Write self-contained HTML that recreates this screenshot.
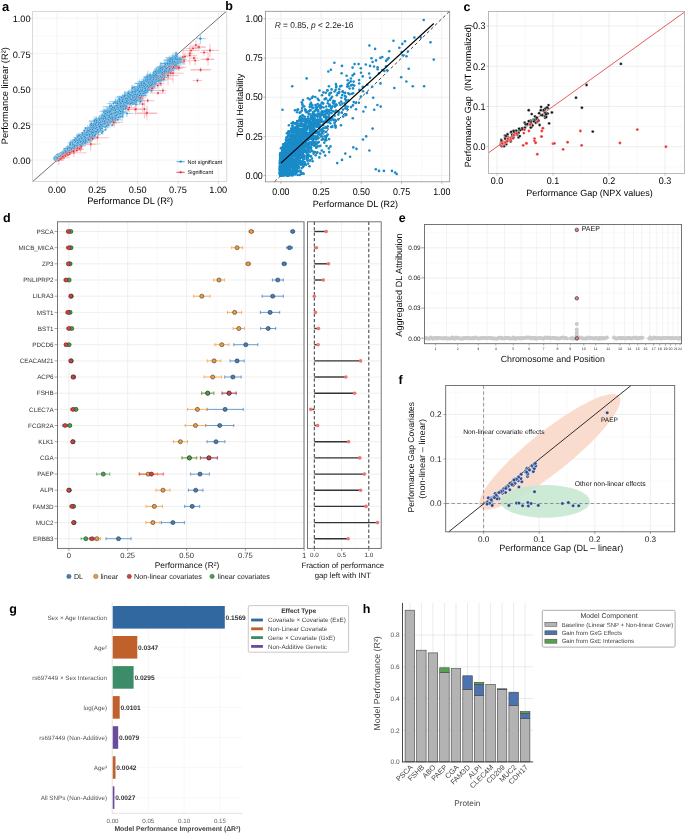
<!DOCTYPE html>
<html><head><meta charset="utf-8"><style>
html,body{margin:0;padding:0;background:#fff;}
svg{display:block;font-family:"Liberation Sans",sans-serif;text-rendering:geometricPrecision;will-change:transform;}
</style></head><body>
<svg width="685" height="833" viewBox="0 0 685 833">
<rect width="685" height="833" fill="#fff"/>
<text x="2" y="10.6" font-size="13" font-weight="bold" fill="#000">a</text>
<line x1="36.8" y1="11.4" x2="36.8" y2="181.6" stroke="#F5F5F5" stroke-width="0.5"/>
<line x1="32.4" y1="177.8" x2="226.8" y2="177.8" stroke="#F5F5F5" stroke-width="0.5"/>
<line x1="77.2" y1="11.4" x2="77.2" y2="181.6" stroke="#F5F5F5" stroke-width="0.5"/>
<line x1="32.4" y1="142.3" x2="226.8" y2="142.3" stroke="#F5F5F5" stroke-width="0.5"/>
<line x1="117.5" y1="11.4" x2="117.5" y2="181.6" stroke="#F5F5F5" stroke-width="0.5"/>
<line x1="32.4" y1="106.8" x2="226.8" y2="106.8" stroke="#F5F5F5" stroke-width="0.5"/>
<line x1="157.8" y1="11.4" x2="157.8" y2="181.6" stroke="#F5F5F5" stroke-width="0.5"/>
<line x1="32.4" y1="71.3" x2="226.8" y2="71.3" stroke="#F5F5F5" stroke-width="0.5"/>
<line x1="198.1" y1="11.4" x2="198.1" y2="181.6" stroke="#F5F5F5" stroke-width="0.5"/>
<line x1="32.4" y1="35.8" x2="226.8" y2="35.8" stroke="#F5F5F5" stroke-width="0.5"/>
<line x1="57" y1="11.4" x2="57" y2="181.6" stroke="#EEEEEE" stroke-width="0.7"/>
<line x1="32.4" y1="160.1" x2="226.8" y2="160.1" stroke="#EEEEEE" stroke-width="0.7"/>
<line x1="97.3" y1="11.4" x2="97.3" y2="181.6" stroke="#EEEEEE" stroke-width="0.7"/>
<line x1="32.4" y1="124.6" x2="226.8" y2="124.6" stroke="#EEEEEE" stroke-width="0.7"/>
<line x1="137.7" y1="11.4" x2="137.7" y2="181.6" stroke="#EEEEEE" stroke-width="0.7"/>
<line x1="32.4" y1="89.1" x2="226.8" y2="89.1" stroke="#EEEEEE" stroke-width="0.7"/>
<line x1="178" y1="11.4" x2="178" y2="181.6" stroke="#EEEEEE" stroke-width="0.7"/>
<line x1="32.4" y1="53.6" x2="226.8" y2="53.6" stroke="#EEEEEE" stroke-width="0.7"/>
<line x1="218.3" y1="11.4" x2="218.3" y2="181.6" stroke="#EEEEEE" stroke-width="0.7"/>
<line x1="32.4" y1="18.1" x2="226.8" y2="18.1" stroke="#EEEEEE" stroke-width="0.7"/>
<line x1="32.4" y1="181.8" x2="226" y2="11.6" stroke="#333" stroke-width="0.7"/>
<g stroke="#2a94d3" stroke-width="0.45" opacity="0.9">
<path d="M84.6 138.9H95.8M90.2 143.4V134.5"/>
<path d="M91.5 130.5H102.7M97.1 134.4V126.6"/>
<path d="M106.5 115.9H109.1M107.8 116.9V114.9"/>
<path d="M111.6 108.1H116.3M113.9 111V105.2"/>
<path d="M135.7 88.7H143.6M139.7 90.2V87.2"/>
<path d="M54.5 156.2H63M58.8 157.2V155.2"/>
<path d="M122.6 95.8H124.5M123.5 96.6V95"/>
<path d="M116.2 106.7H118.8M117.5 110.3V103"/>
<path d="M106.3 114.1H117.4M111.9 114.9V113.4"/>
<path d="M98.5 124.1H101.1M99.8 125.1V123.1"/>
<path d="M54.5 159.1H60.5M57.5 161.2V156.1"/>
<path d="M90.3 128.6H92.9M91.6 129.4V127.9"/>
<path d="M83 131.2H94.5M88.8 135.9V126.4"/>
<path d="M111 115.8H119.9M115.5 117.7V113.9"/>
<path d="M92 130.3H100.1M96.1 133.7V126.9"/>
<path d="M69.8 150.5H73.8M71.8 151.5V149.5"/>
<path d="M172.9 56.1H180.6M176.7 60.3V51.8"/>
<path d="M124 103H127.5M125.8 106.2V99.9"/>
<path d="M74.2 145H76.3M75.3 149.2V140.9"/>
<path d="M56.8 156.8H59M57.9 157.7V156"/>
<path d="M78.7 135.7H89.6M84.2 140.1V131.4"/>
<path d="M159.7 68.3H178.6M169.1 74.5V62.1"/>
<path d="M141.7 81.1H156.3M149 86.5V75.8"/>
<path d="M156.3 73.8H164.3M160.3 74.6V73.1"/>
<path d="M88.5 126.7H96.2M92.3 130.5V122.9"/>
<path d="M54.8 157.1H61.3M58 157.9V156.4"/>
<path d="M136.2 93.4H138.2M137.2 97.5V89.3"/>
<path d="M75 142.6H79M77 146.3V138.9"/>
<path d="M159.5 65.4H181.1M170.3 67.6V63.1"/>
<path d="M66.3 151.6H71.8M69.1 153.8V149.4"/>
<path d="M56.7 156.9H61.9M59.3 158V155.8"/>
<path d="M61.4 153.9H66.3M63.8 154.6V153.2"/>
<path d="M98.1 123.8H109.8M103.9 127.1V120.5"/>
<path d="M123.8 98.8H135.5M129.6 100.8V96.8"/>
<path d="M59.8 156.1H62M60.9 157.4V154.8"/>
<path d="M63.6 153.5H69.1M66.4 155.2V151.8"/>
<path d="M70 144.7H72.1M71.1 145.4V144"/>
<path d="M72.6 147.1H75.8M74.2 148V146.1"/>
<path d="M154.2 77H157.1M155.7 78.1V75.9"/>
<path d="M147.7 79.2H152.7M150.2 83.3V75.2"/>
<path d="M109.1 101.6H122.3M115.7 104.8V98.4"/>
<path d="M69.1 145.7H71M70.1 149V142.4"/>
<path d="M132.3 95.5H140.2M136.3 99.6V91.4"/>
<path d="M55.8 158.7H60.3M58 159.7V157.6"/>
<path d="M105.5 118.2H108.9M107.2 119V117.5"/>
<path d="M78 135.9H84.1M81 136.6V135.2"/>
<path d="M86.9 127.9H93.7M90.3 132.2V123.7"/>
<path d="M102.3 120.7H109.8M106 123.2V118.1"/>
<path d="M145.6 79.8H159.2M152.4 86.9V72.6"/>
<path d="M152.8 72.7H167.1M159.9 80.6V64.7"/>
<path d="M141.1 87.6H146.6M143.9 88.3V86.9"/>
<path d="M127 96.1H134.7M130.8 99.3V92.9"/>
<path d="M157.6 67.1H174.1M165.8 70.7V63.6"/>
<path d="M153 71.4H157.4M155.2 72.1V70.6"/>
<path d="M104.7 117.8H115.5M110.1 120.5V115"/>
<path d="M53.8 156.9H61M56.9 158.6V155.2"/>
<path d="M64.6 151.5H72.2M68.4 154.2V148.8"/>
<path d="M135.6 89.2H154.2M144.9 91.4V87.1"/>
<path d="M103 117.6H115.2M109.1 119.1V116"/>
<path d="M126.8 98.8H128.7M127.8 100.1V97.4"/>
<path d="M56.5 156.6H59.2M57.9 160.2V153.1"/>
<path d="M109.7 109.3H113.7M111.7 110.4V108.2"/>
<path d="M69.1 146.6H74.9M72 147.4V145.9"/>
<path d="M55.1 159.1H57.6M56.4 160.3V158"/>
<path d="M88.3 131H90.4M89.4 133.2V128.7"/>
<path d="M78.9 140H82.5M80.7 143.2V136.7"/>
<path d="M104 117H107.4M105.7 122.5V111.5"/>
<path d="M155.4 74.8H158.1M156.8 77.5V72.1"/>
<path d="M171.9 64.7H174.9M173.4 65.4V63.9"/>
<path d="M105.9 123.7H109M107.4 128.5V119"/>
<path d="M60.2 156.7H62.7M61.4 158.1V155.3"/>
<path d="M156.7 73.7H163.8M160.3 75V72.5"/>
<path d="M121.7 102.9H127.8M124.7 103.6V102.2"/>
<path d="M113.1 112.2H116.7M114.9 113.4V111.1"/>
<path d="M89.3 130.1H98.4M93.9 133.5V126.8"/>
<path d="M171 61.5H183.1M177 65.1V58"/>
<path d="M54.7 156.3H61.6M58.1 158.6V154"/>
<path d="M129.5 100.7H131.4M130.4 101.6V99.9"/>
<path d="M120.1 100.9H130.2M125.1 105.8V96.1"/>
<path d="M73.5 144.8H84.3M78.9 147.8V141.8"/>
<path d="M157.4 73.3H159.8M158.6 76.3V70.2"/>
<path d="M135.1 94.2H143.4M139.2 97.3V91.1"/>
<path d="M150.7 84.8H153M151.8 92.1V77.5"/>
<path d="M80 141.7H84.4M82.2 142.7V140.7"/>
<path d="M100.2 119.8H114.1M107.2 121.3V118.4"/>
<path d="M114.3 112.7H116.3M115.3 115.9V109.6"/>
<path d="M174.2 58.2H177.5M175.9 59.3V57.2"/>
<path d="M81.4 142.9H84.2M82.8 145.1V140.7"/>
<path d="M128.4 102.9H131.9M130.1 106.3V99.5"/>
<path d="M139.4 86.3H155.5M147.4 93.7V78.9"/>
<path d="M54.9 157H62.1M58.5 160.1V153.8"/>
<path d="M92.4 130.9H95M93.7 134.6V127.1"/>
<path d="M66.7 152.4H68.7M67.7 154.2V150.6"/>
<path d="M110.7 119.4H112.7M111.7 120.2V118.7"/>
<path d="M152.6 72.3H171.7M162.1 73.1V71.5"/>
<path d="M70.8 146.1H77.1M73.9 147.8V144.3"/>
<path d="M120.2 105.9H122.1M121.2 110.2V101.7"/>
<path d="M158.4 72.9H160.4M159.4 79.4V66.4"/>
<path d="M112.8 117.4H124M118.4 119.5V115.3"/>
<path d="M74.6 142.2H78.3M76.4 142.9V141.4"/>
<path d="M114.9 106.8H123.7M119.3 107.6V106.1"/>
<path d="M138.6 85.8H145.1M141.9 92.2V79.5"/>
<path d="M155.7 71.3H166.3M161 72.1V70.5"/>
<path d="M103 121.3H111.4M107.2 124.5V118.1"/>
<path d="M74 143.1H76.8M75.4 145.9V140.2"/>
<path d="M143.4 82H151.1M147.2 83.8V80.1"/>
<path d="M145.9 85H152.6M149.2 86.2V83.7"/>
<path d="M70.4 150.5H73M71.7 153.5V147.1"/>
<path d="M88.4 133.4H91.6M90 136.7V130.1"/>
<path d="M84.1 133.9H87.3M85.7 134.7V133"/>
<path d="M112.4 117H114.3M113.3 122.7V111.4"/>
<path d="M141.7 84.4H153.4M147.6 91.7V77.1"/>
<path d="M169.2 63.4H178.2M173.7 64.1V62.6"/>
<path d="M55.6 157.2H57.7M56.7 158V156.5"/>
<path d="M54.8 158.7H59.1M56.9 160.5V156.9"/>
<path d="M131 95.8H147.8M139.4 97.1V94.6"/>
<path d="M55.3 159.8H57.6M56.4 160.7V159"/>
<path d="M144.8 83.2H147.1M145.9 83.9V82.5"/>
<path d="M66.4 150.8H70.2M68.3 152.1V149.5"/>
<path d="M112 111.9H115.7M113.8 117.4V106.3"/>
<path d="M88 137.6H91M89.5 141.2V134"/>
<path d="M138.8 92.8H145.4M142.1 93.6V92"/>
<path d="M168.3 66.9H170.2M169.2 70.5V63.3"/>
<path d="M87.9 133H98.1M93 133.7V132.3"/>
<path d="M61.1 153.1H66.6M63.9 154V152.2"/>
<path d="M122.3 101.7H131.3M126.8 106.5V96.9"/>
<path d="M61 155.1H66.8M63.9 156V154.2"/>
<path d="M123 100.4H125.3M124.1 106.6V94.3"/>
<path d="M93 131H104.5M98.7 135.7V126.3"/>
<path d="M81 142.5H85.8M83.4 143.2V141.8"/>
<path d="M137.4 90.1H141.6M139.5 96.1V84"/>
<path d="M163.4 71H165.4M164.4 72.4V69.6"/>
<path d="M127.1 97.9H129.1M128.1 103.2V92.6"/>
<path d="M111.5 109.9H115.1M113.3 110.7V109.2"/>
<path d="M158.1 76.4H162.4M160.2 77.4V75.4"/>
<path d="M152 75.9H157.3M154.7 79.3V72.5"/>
<path d="M135.8 86.9H144.8M140.3 87.7V86.2"/>
<path d="M114.2 111.8H120M117.1 112.5V111"/>
<path d="M64.1 153.9H67.5M65.8 156.7V151.1"/>
<path d="M114.2 119.1H117.1M115.7 123.5V114.7"/>
<path d="M125.9 99.6H128.8M127.3 101.2V97.9"/>
<path d="M166 58.2H180.8M173.4 58.9V57.5"/>
<path d="M168.7 67.1H176.9M172.8 70.1V64.1"/>
<path d="M72.6 146H79M75.8 150V142"/>
<path d="M154.7 72.3H165.7M160.2 73.4V71.2"/>
<path d="M57.3 157.4H59.5M58.4 158.8V156.1"/>
<path d="M101.3 121.7H104.2M102.7 123.9V119.5"/>
<path d="M55.6 157.5H57.6M56.6 159.5V155.4"/>
<path d="M56.1 158.2H59.2M57.7 158.9V157.5"/>
<path d="M137.7 94H139.9M138.8 100.3V87.6"/>
<path d="M57.9 156H64.9M61.4 159.1V152.9"/>
<path d="M126.2 96.9H130.4M128.3 103.4V90.4"/>
<path d="M146.5 87.3H148.9M147.7 91.6V83"/>
<path d="M89.3 134.7H101M95.2 135.6V133.8"/>
<path d="M57.6 157.8H59.5M58.6 158.5V157"/>
<path d="M128.1 95.3H130.1M129.1 99.9V90.7"/>
<path d="M111.8 119.8H118.7M115.3 121.7V117.9"/>
<path d="M103 122.3H105.1M104 125V119.6"/>
<path d="M73.9 146.6H76M74.9 147.3V145.8"/>
<path d="M63.7 150.7H68.3M66 152.8V148.7"/>
<path d="M143 79.1H156.2M149.6 84.5V73.6"/>
<path d="M104.7 120.6H106.9M105.8 121.8V119.5"/>
<path d="M64.4 152.9H66.5M65.5 154.4V151.4"/>
<path d="M55.6 157H57.6M56.6 159.9V154.2"/>
<path d="M94.6 132.3H101.8M98.2 136V128.5"/>
<path d="M102 116.3H106.8M104.4 121.1V111.5"/>
<path d="M90.2 129.3H99.8M95 133.1V125.5"/>
<path d="M96.4 125H105.9M101.2 125.9V124.1"/>
<path d="M84.1 128.1H87.2M85.7 128.8V127.4"/>
<path d="M67.7 150.3H74.4M71 151.8V148.8"/>
<path d="M86.5 127.5H98.9M92.7 128.5V126.4"/>
<path d="M141 85.3H146.1M143.5 91V79.6"/>
<path d="M148.8 77.7H168.2M158.5 82.6V72.9"/>
<path d="M60.9 153.9H68.6M64.8 157.3V150.5"/>
<path d="M110.7 112.3H113.6M112.2 115V109.6"/>
<path d="M136.4 94H138.4M137.4 97.6V90.3"/>
<path d="M53.8 157.9H60.4M56.5 159.3V156.4"/>
<path d="M74.9 142.8H77M75.9 144.7V140.9"/>
<path d="M78.3 143H80.3M79.3 144.5V141.5"/>
<path d="M128.4 101H130.5M129.5 102.8V99.3"/>
<path d="M57.2 157H63.7M60.4 159.3V154.6"/>
<path d="M94.8 124.7H105.2M100 126.4V123"/>
<path d="M86.4 137.4H90.3M88.3 138.1V136.7"/>
<path d="M95.3 121.5H104.5M99.9 123.7V119.2"/>
<path d="M61.1 155.4H64.2M62.6 156.1V154.6"/>
<path d="M112.8 106H117.6M115.2 106.7V105.2"/>
<path d="M98.9 121.1H101M99.9 121.8V120.3"/>
<path d="M148.1 85.4H153.2M150.7 86.2V84.5"/>
<path d="M64.3 151.7H71.6M67.9 153.6V149.7"/>
<path d="M150.9 80.1H166.9M158.9 83V77.1"/>
<path d="M74.3 147.8H76.4M75.3 148.7V146.8"/>
<path d="M63.1 148.5H70.4M66.8 150.4V146.7"/>
<path d="M171.5 59.1H182.2M176.9 63V55.1"/>
<path d="M67.5 151.7H69.4M68.5 152.6V150.9"/>
<path d="M126.4 100.4H131.1M128.8 105.4V95.5"/>
<path d="M137.7 84.1H155M146.4 87.1V81"/>
<path d="M85.3 135.3H87.9M86.6 136V134.6"/>
<path d="M81.9 139.5H86.9M84.4 140.9V138.1"/>
<path d="M115.1 103H129.4M122.3 103.9V102"/>
<path d="M120.6 105.8H123.1M121.8 106.6V105.1"/>
<path d="M159.5 72.4H161.5M160.5 77.9V66.8"/>
<path d="M91.6 127.6H102.1M96.8 128.4V126.8"/>
<path d="M132.9 101.8H134.8M133.9 104.6V99"/>
<path d="M63.4 154.3H65.8M64.6 156.2V152.4"/>
<path d="M54.2 157.4H61.6M57.9 159.7V155.1"/>
<path d="M96.6 125.5H99.4M98 127.9V123"/>
<path d="M103.8 118.5H106.7M105.2 122V114.9"/>
<path d="M64.5 152.5H66.9M65.7 155.6V149.3"/>
<path d="M142.8 77H152.7M147.8 83.2V70.9"/>
<path d="M57.6 158.2H60.4M59 160.4V154.8"/>
<path d="M163.6 71.4H172.2M167.9 72.6V70.2"/>
<path d="M73.6 143.2H79.2M76.4 144.3V142.1"/>
<path d="M90.9 135.8H93M92 136.5V135.1"/>
<path d="M106.4 116.8H113.1M109.8 117.8V115.7"/>
<path d="M55.3 159.4H57.3M56.3 161.8V157"/>
<path d="M89.3 138H91.5M90.4 141.2V134.9"/>
<path d="M83.4 136.6H86M84.7 137.8V135.4"/>
<path d="M91.8 124H103.6M97.7 127.9V120.1"/>
<path d="M53.8 157.9H59.6M56.3 161.3V154.5"/>
<path d="M147.2 84.8H155.6M151.4 91.6V78"/>
<path d="M110.3 117.6H117.4M113.9 120.1V115.1"/>
<path d="M95.1 124.1H98.2M96.6 125.4V122.7"/>
<path d="M169.5 61.9H178.1M173.8 63.1V60.7"/>
<path d="M155.6 75.7H165.3M160.5 81.9V69.4"/>
<path d="M126.7 96.7H136.6M131.6 97.7V95.7"/>
<path d="M83.8 140.9H85.7M84.8 142.1V139.6"/>
<path d="M152.1 80.2H157.4M154.8 86V74.4"/>
<path d="M131.7 101H138.4M135 103.4V98.6"/>
<path d="M82 137.6H87.5M84.8 139.5V135.6"/>
<path d="M74.9 144.3H80.9M77.9 146.1V142.4"/>
<path d="M89.6 127.1H94.8M92.2 128V126.1"/>
<path d="M114.2 111.4H116.3M115.2 113.2V109.7"/>
<path d="M106.9 112.4H119.2M113.1 117.8V106.9"/>
<path d="M117.8 98.6H120.9M119.3 101.2V96"/>
<path d="M115.6 113.8H121.2M118.4 115.7V112"/>
<path d="M81.8 140.7H84.1M83 143.9V137.5"/>
<path d="M176.1 61.7H178.2M177.1 62.8V60.5"/>
<path d="M132.9 100.1H136M134.5 101.1V99.1"/>
<path d="M172 59.8H174.7M173.3 60.6V59.1"/>
<path d="M127.7 97.9H133.8M130.7 98.8V97"/>
<path d="M67.3 150.4H72.5M69.9 152.3V148.4"/>
<path d="M62.7 153.6H67.5M65.1 155V152.1"/>
<path d="M78.7 138H84.2M81.5 139V136.9"/>
<path d="M156.4 73.3H162.4M159.4 77.5V69.1"/>
<path d="M101.4 131.4H103.9M102.7 134.7V128.1"/>
<path d="M171.7 60.7H180.7M176.2 69.1V52.3"/>
<path d="M111.6 111.2H118.7M115.1 113.5V108.8"/>
<path d="M104.5 118.3H114M109.3 119.4V117.2"/>
<path d="M132 87.6H136.1M134.1 89.4V85.7"/>
<path d="M59.7 155H65.5M62.6 157.3V152.7"/>
<path d="M91.4 128.4H93.7M92.6 133.1V123.6"/>
<path d="M104 110.7H118.4M111.2 112.7V108.7"/>
<path d="M53.8 157.8H61.7M57.5 159.6V155.9"/>
<path d="M107.4 118.2H111.2M109.3 118.9V117.4"/>
<path d="M79.4 142.1H81.3M80.4 144.2V140"/>
<path d="M100 115H108.2M104.1 117.6V112.4"/>
<path d="M68.8 148.2H75.8M72.3 149.6V146.9"/>
<path d="M53.8 159.2H59.1M56.3 161V157.5"/>
<path d="M54.7 158.4H59.2M57 160V156.9"/>
<path d="M152.9 71.9H163.1M158 74.9V68.9"/>
<path d="M131.2 88.1H133.3M132.3 91.6V84.6"/>
<path d="M55.5 158.9H60.6M58.1 160.1V157.7"/>
<path d="M149.6 77.4H169.2M159.4 79.8V75"/>
<path d="M170.8 62.9H173.3M172 65.6V60.1"/>
<path d="M67.4 150.6H70.3M68.8 151.4V149.8"/>
<path d="M87 132.6H97.3M92.1 133.4V131.7"/>
<path d="M167 61.8H179.2M173.1 62.8V60.9"/>
<path d="M58.1 156H61.9M60 159.7V152.4"/>
<path d="M89.6 132H91.6M90.6 135.9V128.1"/>
<path d="M98.8 123.4H100.7M99.7 128.6V118.2"/>
<path d="M56.7 156.2H64.3M60.5 157.5V154.9"/>
<path d="M67.8 148.2H73M70.4 149.7V146.8"/>
<path d="M106 125H108.2M107.1 126.4V123.7"/>
<path d="M98 120.9H102.2M100.1 125.1V116.6"/>
<path d="M175.6 56.8H177.8M176.7 59.9V53.7"/>
<path d="M66.6 152.1H70.2M68.4 153.8V150.3"/>
<path d="M56.8 156.6H63M59.9 158.4V154.8"/>
<path d="M111.6 118.1H114.9M113.2 123.6V112.5"/>
<path d="M77.1 142.2H82.3M79.7 143.2V141.3"/>
<path d="M101.9 114.1H107.5M104.7 118.6V109.7"/>
<path d="M107.5 122.2H109.4M108.4 125.1V119.3"/>
<path d="M62.8 154.4H66.5M64.7 155.3V153.4"/>
<path d="M172 59H174.5M173.3 60.1V57.9"/>
<path d="M55.3 159.4H58.5M56.9 160.6V158.2"/>
<path d="M68.7 151H73.6M71.2 152V150"/>
<path d="M98.3 120.5H104.8M101.6 122.3V118.7"/>
<path d="M55 158.6H61.1M58 161V156"/>
<path d="M101.5 118.9H104.1M102.8 124.2V113.5"/>
<path d="M111.2 116H117.1M114.1 117.4V114.7"/>
<path d="M65 151.4H67.4M66.2 153.8V149.1"/>
<path d="M76.3 143.1H79.9M78.1 145.6V140.6"/>
<path d="M56.9 158.6H59.3M58.1 160.9V155.7"/>
<path d="M140.9 93.1H144M142.4 98.8V87.3"/>
<path d="M64.7 152.9H68.1M66.4 154.1V151.6"/>
<path d="M67.7 148.9H72.3M70 150.6V147.3"/>
<path d="M114.4 113.6H120.5M117.5 116.1V111.2"/>
<path d="M164.8 62.6H185.4M175.1 67.8V57.5"/>
<path d="M130.9 93.4H132.9M131.9 100.1V86.7"/>
<path d="M161.2 74.5H163.2M162.2 75.2V73.8"/>
<path d="M55.9 155.8H62.3M59.1 156.8V154.9"/>
<path d="M57.3 158.5H59.2M58.3 159.3V157.7"/>
<path d="M91.9 126.7H96.5M94.2 130.6V122.8"/>
<path d="M121.3 108H123.3M122.3 108.9V107.1"/>
<path d="M57.2 158.1H59.1M58.2 158.8V157.4"/>
<path d="M65.1 153.2H67.7M66.4 154.7V151.7"/>
<path d="M69.2 147.2H79.1M74.2 149.4V144.9"/>
<path d="M122.1 101.7H135M128.5 104.5V98.9"/>
<path d="M57.7 155.9H65.4M61.6 157.9V153.8"/>
<path d="M127.3 101.7H130.1M128.7 103.3V100.2"/>
<path d="M123.4 101.1H128.7M126 101.9V100.3"/>
<path d="M99.1 111.2H111.5M105.3 113.1V109.4"/>
<path d="M159.5 76.5H162.2M160.8 79V74"/>
<path d="M84.2 133H92.8M88.5 134.1V132"/>
<path d="M73 147.4H78M75.5 148.1V146.6"/>
<path d="M82.8 130.7H85.3M84.1 131.5V129.8"/>
<path d="M67.2 152.2H71.2M69.2 154.5V149.9"/>
<path d="M78.8 143.4H81.2M80 146V140.9"/>
<path d="M81 135.7H86.3M83.6 138.6V132.7"/>
<path d="M77 137.5H88.4M82.7 138.6V136.3"/>
<path d="M131.2 86.3H149.5M140.4 88.4V84.3"/>
<path d="M98.9 120.5H103.9M101.4 121.4V119.6"/>
<path d="M62.7 153.5H64.7M63.7 155.5V151.4"/>
<path d="M153.9 78.4H156M155 79.2V77.7"/>
<path d="M97.1 125.2H99.1M98.1 127.3V123.1"/>
<path d="M100.7 133H103.1M101.9 134.1V132"/>
<path d="M112.1 114.7H122.1M117.1 116.5V112.9"/>
<path d="M140.4 85.5H142.7M141.6 89.3V81.8"/>
<path d="M129.8 90.1H147.9M138.8 93.3V86.9"/>
<path d="M56.9 158H60.1M58.5 159.5V156.4"/>
<path d="M152.7 73.3H163.8M158.2 79.1V67.5"/>
<path d="M55.5 156.5H61.5M58.5 157.4V155.6"/>
<path d="M111.7 112.2H121.9M116.8 113V111.4"/>
<path d="M67.9 149.9H70M69 151.5V148.4"/>
<path d="M97.7 118.3H100.1M98.9 120.5V116.1"/>
<path d="M133.3 97.8H136.6M135 104.1V91.5"/>
<path d="M168.2 63.5H173.9M171.1 69.4V57.5"/>
<path d="M113.1 112.7H127.5M120.3 114.6V110.9"/>
<path d="M122.5 100.9H133.2M127.9 103V98.7"/>
<path d="M123.7 99.2H128M125.8 100V98.4"/>
<path d="M140.7 88.1H150M145.3 94.6V81.7"/>
<path d="M115.2 103.5H123.7M119.4 104.8V102.2"/>
<path d="M143.3 90H150M146.6 91.6V88.4"/>
<path d="M154 73.2H158.7M156.3 78.2V68.2"/>
<path d="M98.2 126.8H100.2M99.2 128.6V125"/>
<path d="M123.2 101.2H129M126.1 102V100.3"/>
<path d="M82.8 139.8H90.1M86.4 140.8V138.9"/>
<path d="M60.2 155.7H63.3M61.8 156.6V154.8"/>
<path d="M60.9 155.4H65.4M63.1 156.7V154.1"/>
<path d="M83.6 138.3H90.3M87 139.7V136.8"/>
<path d="M54.5 157.9H60.5M57.5 159.5V156.3"/>
<path d="M73.6 142.9H75.6M74.6 144.5V141.3"/>
<path d="M135.3 90.1H138.3M136.8 91.4V88.8"/>
<path d="M59.7 153.2H68.2M63.9 154.6V151.8"/>
<path d="M103 116.5H111.7M107.4 117.4V115.7"/>
<path d="M155.4 72.7H164.8M160.1 73.5V71.9"/>
<path d="M63.1 154.4H65.4M64.3 155.1V153.6"/>
<path d="M65.7 152.2H67.7M66.7 155.6V148.8"/>
<path d="M102 110.3H115.7M108.9 111.7V108.9"/>
<path d="M66.3 151.4H68.2M67.2 153.9V149"/>
<path d="M60.9 154.1H66M63.5 154.8V153.4"/>
<path d="M128.2 97.9H139.3M133.8 98.7V97.2"/>
<path d="M142.3 83.8H145.2M143.8 88.5V79"/>
<path d="M89.4 130.6H97.7M93.5 131.5V129.6"/>
<path d="M157.6 67.6H164.4M161 73.1V62.1"/>
<path d="M75.3 146H80.5M77.9 147.7V144.3"/>
<path d="M65.9 153.7H68.1M67 154.4V152.9"/>
<path d="M56.1 159H58.3M57.2 160.5V157.5"/>
<path d="M79.8 141.3H85.1M82.5 142.9V139.8"/>
<path d="M96.4 128.2H103M99.7 130.4V126"/>
<path d="M170 61.4H180.6M175.3 63.5V59.3"/>
<path d="M112.2 109.3H123.9M118 111.6V107"/>
<path d="M87.5 130.1H97.8M92.7 135.1V125.1"/>
<path d="M76.8 138.9H85.2M81 142V135.9"/>
<path d="M106.5 122.1H114.5M110.5 124.4V119.9"/>
<path d="M61.3 155.4H63.7M62.5 156.1V154.6"/>
<path d="M67.4 148H72.9M70.2 148.9V147"/>
<path d="M148.5 84.3H157.2M152.9 87.2V81.5"/>
<path d="M171.1 61.1H180.6M175.8 63.3V58.9"/>
<path d="M69.6 150.4H72M70.8 151.4V149.3"/>
<path d="M131.1 94.8H140.7M135.9 100.5V89.1"/>
<path d="M54.9 157.7H57.5M56.2 158.7V156.7"/>
<path d="M56.8 157.9H60.1M58.4 159.2V156.7"/>
<path d="M123.2 97.9H131.1M127.2 102V93.8"/>
<path d="M88.1 128.3H96.3M92.2 131.9V124.7"/>
<path d="M162.5 70.8H174.9M168.7 78.9V62.8"/>
<path d="M72.3 149H76M74.2 150.4V147.5"/>
<path d="M134.6 98.6H143.5M139 99.9V97.2"/>
<path d="M55.5 158H62.1M58.8 159.2V156.8"/>
<path d="M141.7 85.3H149M145.3 87.8V82.8"/>
<path d="M97.7 119.8H101.2M99.4 120.6V119.1"/>
<path d="M61.2 155.4H63.7M62.5 156.9V154"/>
<path d="M70 147.7H79.7M74.8 148.5V146.9"/>
<path d="M54.5 156.8H61.8M58.2 160.3V153.4"/>
<path d="M75.9 138.1H83.6M79.8 139.1V137.1"/>
<path d="M121.6 102.2H123.5M122.6 107.4V97.1"/>
<path d="M90.3 129.2H92.3M91.3 130.3V128.1"/>
<path d="M161 63.4H180.7M170.8 67.6V59.1"/>
<path d="M53.8 158.9H59.5M56.3 161.6V156.2"/>
<path d="M124.9 102.1H127.3M126.1 104.3V99.9"/>
<path d="M89.9 126.7H91.9M90.9 128V125.4"/>
<path d="M54.5 159.8H58M56.3 161.9V157.2"/>
<path d="M64.6 153.3H67.2M65.9 155.5V151.2"/>
<path d="M110.8 115.5H113M111.9 116.6V114.5"/>
<path d="M100.3 119.4H102.3M101.3 121.7V117.1"/>
<path d="M71.2 148H76.1M73.6 150.6V145.5"/>
<path d="M117.2 104.6H121.6M119.4 110.2V98.9"/>
<path d="M66.8 148.7H73M69.9 150.5V146.9"/>
<path d="M72.3 139.6H81M76.7 140.5V138.8"/>
<path d="M164.9 72.1H168.5M166.7 75.1V69"/>
<path d="M74.3 145.8H79.4M76.9 149.9V141.7"/>
<path d="M140.5 84.8H150.3M145.4 85.5V84.1"/>
<path d="M55 156.5H62.9M59 157.8V155.1"/>
<path d="M124.6 101H127.1M125.9 105.1V96.9"/>
<path d="M142.8 81.9H151.6M147.2 87.6V76.2"/>
<path d="M105.7 114.7H111.5M108.6 115.8V113.7"/>
<path d="M60.7 155.5H64.2M62.5 156.9V154.2"/>
<path d="M59.1 154.9H61.9M60.5 156.6V153.2"/>
<path d="M86.1 134.4H88.3M87.2 135.4V133.4"/>
<path d="M96.5 130.9H98.6M97.6 131.6V130.2"/>
<path d="M141.1 91.7H147.8M144.4 96.1V87.4"/>
<path d="M80.8 141H84.3M82.6 144.9V137"/>
<path d="M54.2 158.8H58.5M56.3 160.7V156.8"/>
<path d="M123 96.6H126.1M124.5 102V91.2"/>
<path d="M116.6 109.9H120.3M118.5 114.5V105.2"/>
<path d="M109.5 111.6H112.2M110.8 117V106.2"/>
<path d="M74.9 142.7H81M78 143.6V141.9"/>
<path d="M112.4 106.9H121.6M117 107.8V106.1"/>
<path d="M95.5 124.2H99.1M97.3 125.6V122.8"/>
<path d="M137 89.6H140.8M138.9 91.1V88"/>
<path d="M61.5 154.1H63.6M62.5 155.3V152.9"/>
<path d="M157.9 77.4H160M158.9 82.8V72.1"/>
<path d="M94.5 128.9H97.8M96.2 132V125.9"/>
<path d="M59.9 155.4H63.1M61.5 159V151.9"/>
<path d="M120.3 113.4H133.7M127 117.1V109.8"/>
<path d="M139.9 82.5H154M146.9 88.9V76.1"/>
<path d="M106.8 103.4H120.2M113.5 105.1V101.8"/>
<path d="M63 152.6H67.5M65.3 153.3V151.9"/>
<path d="M104.5 117.6H108.1M106.3 118.9V116.4"/>
<path d="M120.3 108.8H127.9M124.1 109.5V108.1"/>
<path d="M76.3 134.8H83.5M79.9 135.5V134.1"/>
<path d="M89.6 123.5H93.4M91.5 125.2V121.8"/>
<path d="M57.7 154.7H64.6M61.1 156.7V152.8"/>
<path d="M158 78.2H160.3M159.1 82.2V74.2"/>
<path d="M102.8 122.6H105.4M104.1 125.1V120"/>
<path d="M68.9 143.2H72.2M70.6 147.1V139.4"/>
<path d="M141.2 93.3H146.5M143.8 94.5V92.1"/>
<path d="M108.2 110.5H111.4M109.8 116V105.1"/>
<path d="M71.3 144.2H74.2M72.8 145.1V143.2"/>
<path d="M154.2 75.7H161.5M157.9 79.6V71.7"/>
<path d="M137.6 81.5H154.7M146.1 82.2V80.7"/>
<path d="M63 155.1H65.7M64.4 157.5V152.7"/>
<path d="M54.9 159.2H58.4M56.7 161.3V157.1"/>
<path d="M169 58.8H180.3M174.7 59.6V58"/>
<path d="M73.6 147.4H75.5M74.5 148.2V146.6"/>
<path d="M118.5 107.9H121.7M120.1 108.8V107"/>
<path d="M107 121.6H110M108.5 122.3V120.8"/>
<path d="M140.5 87.3H142.5M141.5 89.8V84.8"/>
<path d="M88.1 130.9H96.1M92.1 131.7V130"/>
<path d="M60.6 156.4H62.6M61.6 158.7V154.1"/>
<path d="M97.7 122H99.7M98.7 122.8V121.2"/>
<path d="M68.6 151.2H72.5M70.5 152.2V150.1"/>
<path d="M110.6 112.9H120.8M115.7 115V110.8"/>
<path d="M55 156.9H58.7M56.8 158V155.8"/>
<path d="M108.7 118.5H110.6M109.6 122.7V114.3"/>
<path d="M90.5 136H94.1M92.3 139.7V132.3"/>
<path d="M121.9 102.2H123.9M122.9 103.9V100.4"/>
<path d="M130.6 96H137.1M133.9 96.9V95.1"/>
<path d="M175.1 62.9H177.2M176.1 70.7V55.1"/>
<path d="M138.8 82.6H156M147.4 90.2V75.1"/>
<path d="M85.5 137.9H90.5M88 140.9V135"/>
<path d="M101.7 116.1H108M104.9 118V114.3"/>
<path d="M98.2 128H100.5M99.3 130.6V125.3"/>
<path d="M85.8 131.8H89.8M87.8 134.4V129.2"/>
<path d="M56.4 157.3H58.3M57.4 158.2V156.3"/>
<path d="M157.3 75.8H159.5M158.4 80.8V70.9"/>
<path d="M130.1 102H135.6M132.8 103.2V100.8"/>
<path d="M70.7 147H77.8M74.3 148.7V145.3"/>
<path d="M59.2 156.2H61.8M60.5 157.4V155.1"/>
<path d="M95.5 128.6H97.4M96.4 129.3V127.9"/>
<path d="M122.8 103.7H124.7M123.8 109.8V97.7"/>
<path d="M94.1 124.7H104.9M99.5 126.8V122.6"/>
<path d="M78.4 135.2H88.9M83.6 137V133.3"/>
<path d="M65.4 147.2H71M68.2 147.9V146.4"/>
<path d="M167.9 62.9H173.6M170.7 66.6V59.3"/>
<path d="M117.1 105.3H121.4M119.3 108.4V102.2"/>
<path d="M139.8 92.1H143.7M141.7 95.6V88.6"/>
<path d="M65.9 152.3H68.2M67.1 153.8V150.8"/>
<path d="M156.3 78.5H161.7M159 81.2V75.7"/>
<path d="M58.2 156.7H60.1M59.2 157.6V155.9"/>
<path d="M161.8 68.7H173.8M167.8 69.6V67.8"/>
<path d="M54.5 159.1H57.9M56.2 162V155.6"/>
<path d="M55.4 156.6H59.8M57.6 158.9V154.4"/>
<path d="M137.5 90.5H149.4M143.5 97.4V83.6"/>
<path d="M105.7 115.7H109.5M107.6 117.3V114.2"/>
<path d="M54.3 158.8H59.9M57.1 159.5V158.1"/>
<path d="M72.7 144.8H76.5M74.6 145.8V143.8"/>
<path d="M93.2 119.4H98.6M95.9 122.6V116.3"/>
<path d="M62.1 153.5H69.6M65.9 155.1V152"/>
<path d="M157 70.5H168.1M162.5 71.3V69.8"/>
<path d="M142.6 86H152.1M147.4 92.6V79.4"/>
<path d="M76.5 144H81.9M79.2 145.6V142.3"/>
<path d="M151.4 78.2H158.1M154.7 80.1V76.3"/>
<path d="M175 59.5H177.6M176.3 60.5V58.5"/>
<path d="M61.5 151.9H68.1M64.8 153.4V150.3"/>
<path d="M153.8 77.1H155.8M154.8 80.5V73.7"/>
<path d="M122.5 99.9H134.8M128.6 103.1V96.6"/>
<path d="M73.9 141H76.2M75.1 145V137"/>
<path d="M125.4 106.9H127.8M126.6 109.2V104.7"/>
<path d="M59.4 155.9H62.8M61.1 156.7V155.1"/>
<path d="M57.1 158.2H59.5M58.3 159V157.3"/>
<path d="M73.4 146.4H75.6M74.5 147.1V145.7"/>
<path d="M61.6 154.8H66.5M64 156.9V152.7"/>
<path d="M117.7 107.4H120.5M119.1 113.2V101.7"/>
<path d="M116.5 112.8H120.9M118.7 114.6V110.9"/>
<path d="M146.8 79.6H164.4M155.6 83.3V75.8"/>
<path d="M72 147.5H75.8M73.9 150.2V144.8"/>
<path d="M157.1 72.3H169.5M163.3 73.8V70.9"/>
<path d="M114.4 114.5H116.4M115.4 118.1V110.9"/>
<path d="M55.9 158.1H61.6M58.8 159.8V156.3"/>
<path d="M98.7 125.2H100.8M99.8 128.5V121.9"/>
<path d="M99 118.9H101.3M100.1 122.6V115.2"/>
<path d="M69.8 146.8H75M72.4 148.9V144.7"/>
<path d="M68.4 149.9H70.4M69.4 151.1V148.7"/>
<path d="M69.2 148.7H75.6M72.4 149.4V147.9"/>
<path d="M132.5 96.3H134.4M133.5 98.1V94.5"/>
<path d="M97.1 119H107.7M102.4 121.7V116.4"/>
<path d="M63.3 150.6H65.6M64.4 151.3V149.8"/>
<path d="M53.8 158.4H60M56.7 161.1V155.7"/>
<path d="M127.9 103.7H137.4M132.6 104.6V102.7"/>
<path d="M92 121.3H100.2M96.1 122V120.6"/>
<path d="M62.9 154.5H65M64 155.5V153.4"/>
<path d="M110.9 111.4H125.4M118.2 112.1V110.6"/>
<path d="M136.8 96.8H139.2M138 101V92.7"/>
<path d="M142.6 84H154.7M148.7 85.2V82.8"/>
<path d="M121.1 116.3H123.1M122.1 121.1V111.4"/>
<path d="M59.2 155.6H67.9M63.6 157.9V152.3"/>
<path d="M133.9 90.5H141M137.4 91.3V89.8"/>
<path d="M65 148.9H71.2M68.1 151V146.8"/>
<path d="M84.3 132.9H93.3M88.8 136V129.7"/>
<path d="M136.3 97.6H142.4M139.3 104.5V90.7"/>
<path d="M66.4 152.7H70M68.2 154.1V151.3"/>
<path d="M103.3 118.6H110.3M106.8 122.4V114.7"/>
<path d="M93.1 122.3H98.9M96 127V117.6"/>
<path d="M125.4 100.7H128.4M126.9 106.2V95.3"/>
<path d="M100.1 117.8H111.5M105.8 119.1V116.5"/>
<path d="M61.1 156.5H63.1M62.1 158.3V154.7"/>
<path d="M92.5 132.4H98.7M95.6 137.3V127.5"/>
<path d="M68.2 148.4H72.7M70.5 150.9V145.9"/>
<path d="M134.9 83.5H146.3M140.6 84.4V82.6"/>
<path d="M101.6 116H108.9M105.3 117.7V114.3"/>
<path d="M100.5 122.2H103M101.8 123.3V121.1"/>
<path d="M60.3 155.9H63.2M61.8 158.2V153.5"/>
<path d="M55 158.1H58.9M57 159.1V157.1"/>
<path d="M69.6 146.3H71.6M70.6 149.1V143.4"/>
<path d="M103.5 111.1H112.6M108 115.3V106.8"/>
<path d="M60.2 153.8H66.6M63.4 154.5V153.1"/>
<path d="M68.5 148.1H71.1M69.8 149.6V146.7"/>
<path d="M144.4 81.5H147.9M146.1 86.8V76.2"/>
<path d="M137.3 88.6H139.9M138.6 89.4V87.9"/>
<path d="M78.3 139.8H82.2M80.3 140.6V139.1"/>
<path d="M65.7 152H67.6M66.6 153.9V150.1"/>
<path d="M91.8 129.1H97.7M94.8 131.2V127.1"/>
<path d="M133.4 93.5H135.4M134.4 96.2V90.8"/>
<path d="M88.1 132.7H92.9M90.5 133.8V131.6"/>
<path d="M130.4 95.1H133.1M131.7 95.9V94.2"/>
<path d="M153.5 76.4H159.7M156.6 78.1V74.7"/>
<path d="M59.3 155.7H63.7M61.5 157.8V153.6"/>
<path d="M57 158.8H59.4M58.2 160.5V157"/>
<path d="M174.8 60H178.1M176.4 65.2V54.8"/>
<path d="M66.6 152.6H68.8M67.7 154.5V150.7"/>
<path d="M98.7 121.8H107.1M102.9 125.6V118"/>
<path d="M160.7 67.6H168.1M164.4 74.6V60.6"/>
<path d="M74.7 146H85.7M80.2 148.9V142.9"/>
<path d="M109.4 105.4H113M111.2 106.4V104.3"/>
<path d="M81.6 138.3H87.3M84.5 139.1V137.6"/>
<path d="M76.9 143.8H79.2M78 144.6V143.1"/>
<path d="M119.7 100.9H127.8M123.7 102.5V99.3"/>
<path d="M147.2 80.4H164.7M155.9 85.8V75"/>
<path d="M89 138.1H93.9M91.4 139.3V136.9"/>
<path d="M80.6 135.4H83.5M82 136.1V134.7"/>
<path d="M136.6 92.1H138.8M137.7 97.7V86.5"/>
<path d="M62.9 153.1H65.5M64.2 153.8V152.4"/>
<path d="M95.9 120.8H109.3M102.6 122.2V119.4"/>
<path d="M63.2 151.6H69.7M66.5 153V150.2"/>
<path d="M86.1 132.9H98M92.1 133.6V132.1"/>
<path d="M172.6 58.6H179.2M175.9 62.7V54.5"/>
<path d="M120.4 104.7H122.3M121.3 110.2V99.2"/>
<path d="M80.7 141.3H83.8M82.2 143.8V138.7"/>
<path d="M57 158.2H59M58 158.9V157.4"/>
<path d="M55.4 159.4H57.4M56.4 161.8V156.9"/>
<path d="M65.9 149.7H75M70.4 153.3V146.1"/>
<path d="M68.8 145.6H73.1M71 146.4V144.9"/>
<path d="M76.2 137H83.6M79.9 138.7V135.3"/>
<path d="M76 135.2H83.5M79.8 137.5V133"/>
<path d="M131.6 96.3H138.6M135.1 97.2V95.5"/>
<path d="M55.4 158.9H57.5M56.4 159.7V158.2"/>
<path d="M80.5 133H84.3M82.4 134V131.9"/>
<path d="M71.3 141.5H81.2M76.2 142.2V140.8"/>
<path d="M130.4 95.5H141.5M135.9 96.3V94.7"/>
<path d="M82.4 138.6H84.5M83.4 142.7V134.5"/>
<path d="M67.2 150H69.5M68.4 151.9V148.1"/>
<path d="M105.8 116.4H112.1M109 117.9V114.8"/>
<path d="M55.3 158.2H58M56.7 158.9V157.4"/>
<path d="M58.5 155.9H63.8M61.2 157V154.8"/>
<path d="M122 103.4H129.2M125.6 108.1V98.8"/>
<path d="M118.3 101.4H120.4M119.4 103.1V99.7"/>
<path d="M60.4 156.3H63.2M61.8 158.9V152.9"/>
<path d="M122.7 99H130.4M126.6 100V98.1"/>
<path d="M82.7 143.1H86.7M84.7 143.8V142.4"/>
<path d="M65.4 149.4H69.4M67.4 150.1V148.6"/>
<path d="M72 148.1H74.1M73.1 149.8V146.5"/>
<path d="M55 159.5H58.8M56.9 160.4V158.7"/>
<path d="M110.8 119.8H117.2M114 121.1V118.6"/>
<path d="M166.5 65.2H178.5M172.5 66V64.5"/>
<path d="M69.7 149.5H77.6M73.6 150.9V148.1"/>
<path d="M65.5 152H67.7M66.6 153V151"/>
<path d="M115.7 100H123.1M119.4 100.7V99.2"/>
<path d="M63.9 152.5H72.3M68.1 153.4V151.6"/>
<path d="M112.2 108.7H116.4M114.3 109.4V107.9"/>
<path d="M81.3 136.5H85.2M83.3 140.9V132.1"/>
<path d="M56.5 157.8H58.6M57.5 158.6V157"/>
<path d="M69.8 146.6H74.2M72 148.8V144.5"/>
<path d="M61.5 155.8H63.6M62.5 156.7V155"/>
<path d="M115.7 105.6H122.7M119.2 106.6V104.6"/>
<path d="M67.5 149.4H69.5M68.5 151.7V147.1"/>
<path d="M81.9 133.7H91.4M86.7 137.1V130.3"/>
<path d="M58.5 155H65.6M62.1 155.9V154.2"/>
<path d="M122.9 107H126.3M124.6 109.8V104.2"/>
<path d="M54.3 159.7H58.7M56.5 161.5V157.8"/>
<path d="M82.1 135.2H87.1M84.6 136.1V134.3"/>
<path d="M56.2 158H58.5M57.3 158.7V157.3"/>
<path d="M75.3 144.4H77.3M76.3 146.3V142.4"/>
<path d="M68.6 148H70.6M69.6 151.4V144.7"/>
<path d="M147.5 76.3H166.4M156.9 77.1V75.4"/>
<path d="M98.2 120.9H111.5M104.8 123.6V118.3"/>
<path d="M63.4 152H65.4M64.4 153.2V150.9"/>
<path d="M90.6 139H93.9M92.2 140.1V137.8"/>
<path d="M79.1 144.5H81.1M80.1 145.4V143.6"/>
<path d="M165.2 68.4H167.2M166.2 70.6V66.1"/>
<path d="M110.1 119.8H115.1M112.6 120.8V118.8"/>
<path d="M80.2 139.5H90.5M85.4 143.4V135.6"/>
<path d="M142.8 84.6H149M145.9 89.6V79.5"/>
<path d="M152.6 83.3H156.8M154.7 88V78.5"/>
<path d="M53.9 159.5H59.8M56.8 160.6V158.5"/>
<path d="M58.3 156.1H64M61.2 157.2V155"/>
<path d="M171.5 63.4H174M172.7 65.5V61.3"/>
<path d="M61 156.1H63M62 158.4V153.8"/>
<path d="M120.1 103.6H122.9M121.5 105.7V101.5"/>
<path d="M64.6 148.8H71.6M68.1 150.7V146.9"/>
<path d="M78.5 138.4H88.4M83.4 141.2V135.6"/>
<path d="M65.6 151.3H71.3M68.5 153.9V148.8"/>
<path d="M109 113.2H117.2M113.1 118.4V108"/>
<path d="M101 115.6H107.2M104.1 118.4V112.7"/>
<path d="M74.8 146.9H79.4M77.1 148.7V145.1"/>
<path d="M146.8 79.3H165M155.9 80.6V77.9"/>
<path d="M122.6 98.4H125.1M123.8 100.5V96.2"/>
<path d="M120.8 97.9H124.1M122.5 101.6V94.3"/>
<path d="M60.2 154.5H65M62.6 155.2V153.8"/>
<path d="M93.7 132.6H96.1M94.9 135V130.1"/>
<path d="M70.9 148.6H74.1M72.5 150.9V146.2"/>
<path d="M129.7 100.1H135M132.4 100.8V99.3"/>
<path d="M66.4 150.7H72.2M69.3 154.6V146.7"/>
<path d="M75.2 143H77.2M76.2 145.1V140.9"/>
<path d="M58.3 156.3H62.9M60.6 158.2V154.5"/>
<path d="M55.9 157.2H59.5M57.7 158.6V155.7"/>
<path d="M55.6 156.6H64.2M59.9 159.5V153.6"/>
<path d="M133.7 96.3H138.6M136.2 101.2V91.4"/>
<path d="M147.4 80.3H157.3M152.3 85.6V75"/>
<path d="M143.1 77.8H162.9M153 78.5V77.1"/>
<path d="M95.8 125.9H98.3M97.1 126.9V125"/>
<path d="M133.8 95H146.7M140.2 101.3V88.8"/>
<path d="M68.3 148H70.7M69.5 149.5V146.5"/>
<path d="M120.2 103.5H133.9M127 107.3V99.7"/>
<path d="M130.4 92.9H137.7M134.1 98.6V87.2"/>
<path d="M139.8 82H156.6M148.2 82.8V81.3"/>
<path d="M80.8 140.4H92.1M86.5 141.5V139.4"/>
<path d="M121.9 108.5H129.4M125.6 112.5V104.5"/>
<path d="M139.4 94.6H142.7M141.1 95.9V93.3"/>
<path d="M56.8 156.8H64.3M60.5 159.4V154.2"/>
<path d="M59.8 152.8H68.8M64.3 153.6V152.1"/>
<path d="M54.1 157.2H58.6M56.3 159.4V154.9"/>
<path d="M56.9 155.2H65.2M61 157.5V152.9"/>
<path d="M84.9 138.7H87.7M86.3 139.5V138"/>
<path d="M163.3 72.2H165.8M164.5 73.4V70.9"/>
<path d="M170.7 58.2H179.3M175 59.8V56.7"/>
<path d="M59.1 157.4H61.2M60.2 158.2V156.7"/>
<path d="M54.5 156.7H59.4M57 159.3V154.1"/>
<path d="M59.2 156H61.3M60.3 157.5V154.5"/>
<path d="M71.5 140.5H81.9M76.7 141.7V139.3"/>
<path d="M91.4 128.7H96.5M94 132.4V125.1"/>
<path d="M80.2 142.5H82.2M81.2 146.2V138.9"/>
<path d="M141.3 79.2H153.6M147.5 83.6V74.8"/>
<path d="M70.9 150.5H73.8M72.3 152V148.9"/>
<path d="M127.1 91.8H143M135.1 92.5V91.1"/>
<path d="M172.5 65.3H174.5M173.5 69.3V61.3"/>
<path d="M95.8 118.5H108.5M102.1 119.3V117.7"/>
<path d="M139.6 88.8H142.1M140.9 90.9V86.8"/>
<path d="M56.5 157.9H62.7M59.6 159.6V156.3"/>
<path d="M159.4 70.3H169.7M164.6 71V69.5"/>
<path d="M59.2 156.5H61.4M60.3 158.3V154.8"/>
<path d="M72.8 140.9H79.4M76.1 141.7V140.2"/>
<path d="M60.6 156.6H62.6M61.6 157.6V155.6"/>
<path d="M111.2 113.8H115.4M113.3 115.1V112.5"/>
<path d="M92.7 126.7H95M93.9 127.4V125.9"/>
<path d="M77.5 141.1H83.3M80.4 145.3V136.8"/>
<path d="M55.4 156.6H60M57.7 159.7V153.5"/>
<path d="M73.7 144.3H75.7M74.7 146.3V142.2"/>
<path d="M92.3 128.3H95.7M94 132.2V124.4"/>
<path d="M171.9 58.9H181.3M176.6 62.6V55.1"/>
<path d="M88.6 121.3H99.6M94.1 126.1V116.5"/>
<path d="M84.7 135.1H86.8M85.8 136.6V133.6"/>
<path d="M56.5 157.7H58.4M57.5 159.3V156.1"/>
<path d="M116.6 111.9H119.3M117.9 115.3V108.5"/>
<path d="M163.4 70.8H167.8M165.6 71.5V70.1"/>
<path d="M144 77.5H160.1M152 78.3V76.6"/>
<path d="M145 85.4H148.2M146.6 88V82.9"/>
<path d="M127.5 100.1H129.5M128.5 104.4V95.9"/>
<path d="M60.4 155.1H66M63.2 155.9V154.4"/>
<path d="M57.9 157H62.5M60.2 157.7V156.2"/>
<path d="M130 95H136.3M133.1 95.8V94.3"/>
<path d="M73.5 146.1H76.1M74.8 147.6V144.7"/>
<path d="M64.1 153H68.3M66.2 155.1V150.9"/>
<path d="M159.8 63.3H178.9M169.4 64.9V61.7"/>
<path d="M140.6 88.4H144.6M142.6 89.4V87.4"/>
<path d="M134.1 91.6H145M139.5 93.2V90"/>
<path d="M140 93.2H142.7M141.4 94.2V92.3"/>
<path d="M143.1 85.1H148.1M145.6 90.6V79.7"/>
<path d="M57.7 155.5H60.9M59.3 158.2V152.9"/>
<path d="M82.3 138.4H86.4M84.4 140.5V136.4"/>
<path d="M158.6 75.9H161.7M160.2 77.9V74"/>
<path d="M53.8 158.7H59.2M56.5 159.5V158"/>
<path d="M78.8 141.8H82.7M80.8 142.8V140.8"/>
<path d="M116.4 107.9H119.5M118 109.2V106.6"/>
<path d="M113.9 115.6H116.4M115.1 118.1V113.1"/>
<path d="M78.2 143.3H80.1M79.2 144.2V142.4"/>
<path d="M74.6 138.7H77.2M75.9 139.5V137.9"/>
<path d="M55.7 157.8H62.2M59 159.9V155.7"/>
<path d="M124.4 92.6H138.5M131.4 93.4V91.8"/>
<path d="M101 123.8H103.3M102.2 125V122.6"/>
<path d="M57.7 157.7H61.4M59.5 160.1V154.9"/>
<path d="M74.7 142.7H82.9M78.8 146.3V139.2"/>
<path d="M95.5 127.3H97.4M96.4 128V126.6"/>
<path d="M83 139.6H86M84.5 141V138.1"/>
<path d="M167.1 64.6H169M168.1 66.2V62.9"/>
<path d="M64.7 152.2H66.8M65.8 155.3V149"/>
<path d="M131.9 98.9H134.5M133.2 100.2V97.5"/>
<path d="M58.6 157.2H60.7M59.6 160.1V154.4"/>
<path d="M168.9 65.8H171.1M170 68.1V63.6"/>
<path d="M65.7 153.3H68M66.9 154.2V152.4"/>
<path d="M66.4 146.6H76.4M71.4 149V144.1"/>
<path d="M116.2 103.3H125.8M121 104.7V101.9"/>
<path d="M59.8 155.1H68.7M64.2 157.6V151.4"/>
<path d="M76.7 139.9H82.3M79.5 140.8V139"/>
<path d="M113.7 112.4H115.6M114.7 114.7V110.1"/>
<path d="M79.6 141.4H83.8M81.7 145V137.7"/>
<path d="M104.5 116.8H119.4M112 121V112.6"/>
<path d="M154.7 74.8H157.7M156.2 82.5V67.1"/>
<path d="M93.6 132H99.8M96.7 132.7V131.3"/>
<path d="M103.9 114.1H106.3M105.1 119.4V108.8"/>
<path d="M117.5 99.9H128.5M123 103.8V96.1"/>
<path d="M87 134.9H93.6M90.3 135.6V134.2"/>
<path d="M77.3 142.5H87.6M82.4 143.5V141.4"/>
<path d="M64.4 151.8H71M67.7 153.5V150.2"/>
<path d="M55 157.9H58.4M56.7 159.4V156.4"/>
<path d="M84.2 138.1H94.9M89.5 141.8V134.4"/>
<path d="M161.7 72.4H166.7M164.2 78.7V66.2"/>
<path d="M61.1 154.5H63.2M62.1 155.5V153.4"/>
<path d="M73.6 143.8H76.5M75.1 144.5V143.1"/>
<path d="M128.2 95H132.6M130.4 95.7V94.3"/>
<path d="M143.2 80.5H161.9M152.6 86V75.1"/>
<path d="M58.9 156.2H62.4M60.6 156.9V155.5"/>
<path d="M66.8 151.5H69.3M68 154.2V148.8"/>
<path d="M146 88.9H149.5M147.8 89.6V88.1"/>
<path d="M143.3 92.2H148.4M145.9 95.2V89.3"/>
<path d="M139.4 101.6H141.6M140.5 103.3V100"/>
<path d="M55.7 156.6H59.7M57.7 158.9V154.3"/>
<path d="M124.2 102.4H128.6M126.4 108.9V95.9"/>
<path d="M89.1 124.9H91.7M90.4 128V121.7"/>
<path d="M99.8 121.9H101.8M100.8 126.6V117.2"/>
<path d="M69.7 149.3H74.1M71.9 150.1V148.5"/>
<path d="M110.5 106.2H121.4M116 111.2V101.3"/>
<path d="M137.6 90H139.8M138.7 95.7V84.2"/>
<path d="M88.9 128.4H101M94.9 129.7V127.1"/>
<path d="M143.9 76.6H156.8M150.4 80.9V72.3"/>
<path d="M132.4 101.9H139.5M136 103.6V100.3"/>
<path d="M138.5 93H142.1M140.3 98V87.9"/>
<path d="M59 156.5H65.2M62.1 158.7V153"/>
<path d="M77.3 141.7H79.3M78.3 143.6V139.7"/>
<path d="M146.7 80H157.5M152.1 81V78.9"/>
<path d="M63.1 155.4H65.1M64.1 157.6V152.2"/>
<path d="M79 136H86.7M82.9 138.8V133.3"/>
<path d="M156.7 78.3H160.7M158.7 80.4V76.2"/>
<path d="M54.8 157.2H61.1M58 157.9V156.4"/>
<path d="M148.5 79.1H159.9M154.2 83.4V74.9"/>
<path d="M126.4 98.3H131.5M128.9 104.4V92.1"/>
<path d="M84.6 129.2H90.6M87.6 133.2V125.2"/>
<path d="M55.3 158.1H57.4M56.3 159.3V156.9"/>
<path d="M70.5 146.4H73.2M71.8 148V144.8"/>
<path d="M105.4 117H114.7M110.1 122.8V111.2"/>
<path d="M56.9 155.4H64.5M60.7 158.3V152.5"/>
<path d="M85.9 129.9H97.9M91.9 132.9V126.8"/>
<path d="M159.7 68.2H172.2M166 68.9V67.4"/>
<path d="M109 117H113.1M111.1 118.9V115"/>
<path d="M175.1 59.4H177.3M176.2 66.7V52.1"/>
<path d="M121.3 105.3H125.2M123.3 106.4V104.2"/>
<path d="M73.8 148.3H75.8M74.8 150V146.5"/>
<path d="M83.5 133.8H86.6M85 138.2V129.4"/>
<path d="M83.9 131H89.9M86.9 132.5V129.5"/>
<path d="M143.1 90.4H145.5M144.3 91.1V89.7"/>
<path d="M93.3 124.5H100.6M96.9 127V122.1"/>
<path d="M162.7 71.2H169.4M166.1 73.8V68.5"/>
<path d="M66.5 148.7H69.7M68.1 152.2V145.3"/>
<path d="M105.7 120.8H107.7M106.7 121.7V119.8"/>
<path d="M69 142.6H76.2M72.6 143.7V141.6"/>
<path d="M148.3 83.8H152.2M150.3 85.8V81.8"/>
<path d="M162.8 72.7H166.4M164.6 77.8V67.7"/>
<path d="M81.7 139.2H83.8M82.7 141.2V137.3"/>
<path d="M86.1 138.9H93.3M89.7 140.1V137.7"/>
<path d="M55 157.9H60.4M57.7 159V156.8"/>
<path d="M163.7 66H173.3M168.5 66.8V65.2"/>
<path d="M71.8 148.4H74.6M73.2 150.2V146.6"/>
<path d="M66.5 151.4H71.4M68.9 152.9V150"/>
<path d="M60 156.6H61.9M60.9 158.2V155"/>
<path d="M81.8 137.7H91.2M86.5 138.8V136.7"/>
<path d="M76.7 140.6H79M77.9 142.7V138.4"/>
<path d="M107 125H109.6M108.3 125.8V124.3"/>
<path d="M101.1 115.4H103.1M102.1 118V112.8"/>
<path d="M55.1 158H62.2M58.7 160.4V155.5"/>
<path d="M77.6 144.9H82.7M80.2 148.6V141.3"/>
<path d="M113.8 103H125.8M119.8 104.1V101.9"/>
<path d="M76.5 136.9H79.7M78.1 141.2V132.6"/>
<path d="M53.8 158H60.3M56.5 159.9V156.2"/>
<path d="M89.2 134.1H95.3M92.2 135.3V132.9"/>
<path d="M74.3 142.9H76.4M75.3 144V141.8"/>
<path d="M118.7 116.6H121.4M120.1 119.5V113.6"/>
<path d="M167.3 67.1H178M172.6 70.9V63.2"/>
<path d="M166.2 64H185.3M175.7 64.7V63.3"/>
<path d="M115.7 105.4H118.2M116.9 106.2V104.6"/>
<path d="M122.8 102.2H126.7M124.7 107.8V96.6"/>
<path d="M89.3 131.8H93.5M91.4 135.3V128.3"/>
<path d="M83.1 139.2H85.4M84.3 140.4V138"/>
<path d="M167.6 62.5H182.7M175.2 63.9V61.1"/>
<path d="M63.1 153.7H69.1M66.1 155.6V151.8"/>
<path d="M80.5 136.9H86.6M83.5 137.6V136.2"/>
<path d="M129.2 96.3H133.2M131.2 102.9V89.6"/>
<path d="M114.8 109.1H118.7M116.8 110.3V108"/>
<path d="M105.4 113.8H120.5M112.9 116.4V111.3"/>
<path d="M137.7 91.2H147.8M142.8 93.4V88.9"/>
<path d="M125.5 99.4H133.4M129.4 101.1V97.8"/>
<path d="M90.8 133.2H93.5M92.2 134.3V132.1"/>
<path d="M55.2 157.4H57.5M56.4 159.4V155.3"/>
<path d="M55.5 158.8H57.5M56.5 159.6V158.1"/>
<path d="M98.3 125.9H103.3M100.8 131.3V120.5"/>
<path d="M133.1 92.1H145M139 95.7V88.5"/>
<path d="M70.7 147.8H77.3M74 148.6V146.9"/>
<path d="M102.6 120.3H107.7M105.1 121V119.6"/>
<path d="M58.9 156.2H62.7M60.8 156.9V155.5"/>
<path d="M72.2 145.4H74.3M73.3 146.1V144.6"/>
<path d="M135.1 93.3H139M137.1 95.4V91.1"/>
<path d="M56.2 158.7H58.5M57.3 159.4V158"/>
<path d="M89.1 137.2H91.2M90.1 141.8V132.7"/>
<path d="M140.1 84.1H159.1M149.6 90.5V77.6"/>
<path d="M58.4 155.4H60.5M59.4 156.2V154.5"/>
<path d="M93.9 127.1H104.8M99.3 127.8V126.4"/>
<path d="M83.8 143H85.9M84.8 145.5V140.6"/>
<path d="M159.9 68.5H180.5M170.2 75.9V61.1"/>
<path d="M81.1 134.4H90.1M85.6 135.5V133.2"/>
<path d="M138.5 87.4H149.5M144 94V80.8"/>
<path d="M122.9 99.8H137.1M130 106.2V93.4"/>
<path d="M95.8 126.8H104.5M100.1 130.5V123.2"/>
<path d="M54 157H59.2M56.6 158.2V155.8"/>
<path d="M112.7 108.9H119.1M115.9 114.3V103.5"/>
<path d="M145.2 80.1H152.9M149.1 80.8V79.4"/>
<path d="M56.6 158.1H59.9M58.3 160.8V155.2"/>
<path d="M57.1 157.4H62.5M59.8 158.8V156"/>
<path d="M88.9 130.8H100.5M94.7 134.1V127.5"/>
<path d="M116.2 102H118.8M117.5 105.4V98.6"/>
<path d="M99.5 126.9H110.7M105.1 127.7V126.2"/>
<path d="M90.4 124.2H102.1M96.2 125.7V122.6"/>
<path d="M69.7 148.1H77.8M73.8 148.8V147.4"/>
<path d="M129.1 98.8H132.6M130.8 100.1V97.5"/>
<path d="M86.2 131.2H88.7M87.5 133.7V128.7"/>
<path d="M88.8 133.1H97.6M93.2 135.7V130.5"/>
<path d="M84.7 129.4H95.3M90 130.2V128.6"/>
<path d="M55.9 157.9H58.4M57.2 159.1V156.8"/>
<path d="M97.6 123.9H107M102.3 127.2V120.5"/>
<path d="M78.4 137.6H89.8M84.1 141.4V133.8"/>
<path d="M78.8 138.9H83.3M81 141.8V136.1"/>
<path d="M71.3 147.4H79M75.2 149.1V145.7"/>
<path d="M127.9 97H137M132.5 102.2V91.8"/>
<path d="M89.7 124.8H99.3M94.5 125.6V124"/>
<path d="M169.7 64.9H171.7M170.7 69.6V60.3"/>
<path d="M53.8 158.9H59.4M56.2 159.7V158.1"/>
<path d="M103.8 122.7H114.9M109.3 126.3V119"/>
<path d="M79.6 142.2H81.8M80.7 143V141.4"/>
<path d="M104.4 112.1H111.8M108.1 114.8V109.5"/>
<path d="M74.2 148.7H76.3M75.3 151.6V145"/>
<path d="M131.8 96.6H134.5M133.2 101.6V91.6"/>
<path d="M53.8 158.6H61.2M57.3 159.3V157.8"/>
<path d="M135.1 89.3H145.1M140.1 92V86.6"/>
<path d="M81.8 132.8H92.2M87 134.4V131.3"/>
<path d="M70.8 149.6H74.2M72.5 150.5V148.7"/>
<path d="M115.4 97.4H127.5M121.4 98.7V96.2"/>
<path d="M71.9 139.9H81.2M76.5 140.7V139.2"/>
<path d="M71.1 143H79.9M75.5 143.8V142.3"/>
<path d="M111.3 118.1H120.3M115.8 123.7V112.5"/>
<path d="M56.1 157.5H58.7M57.4 159.2V155.8"/>
<path d="M101 123.4H105M103 124.1V122.6"/>
<path d="M155.7 71.6H171.1M163.4 74.1V69"/>
<path d="M157.5 70.5H171.9M164.7 71.2V69.8"/>
<path d="M131.8 97.1H134.2M133 98.2V96.1"/>
<path d="M124.4 99.1H136.5M130.4 99.9V98.4"/>
<path d="M85.2 141H87.2M86.2 142.3V139.7"/>
<path d="M159.1 79.8H163.8M161.5 85.8V73.7"/>
<path d="M54.7 156.8H61.5M58.1 157.6V155.9"/>
<path d="M78.1 143.6H85.2M81.7 144.8V142.4"/>
<path d="M85.6 135.2H93.6M89.6 137.8V132.6"/>
<path d="M74.7 144.4H76.7M75.7 145.9V142.9"/>
<path d="M127.7 97.5H132.4M130.1 99.5V95.5"/>
<path d="M143.1 84.6H150.3M146.7 88.5V80.6"/>
<path d="M117.3 110.2H121.5M119.4 112.4V108"/>
<path d="M56.9 156.8H63.5M60.2 158.9V154.7"/>
<path d="M167 72.1H169.7M168.4 72.9V71.2"/>
<path d="M65 153H67.5M66.2 156.5V149.3"/>
<path d="M99 122.6H102.7M100.8 127V118.2"/>
<path d="M144.3 80.7H163M153.7 84.9V76.5"/>
<path d="M90.9 126.3H94.3M92.6 129.4V123.1"/>
<path d="M79.5 139.2H83.8M81.7 143.5V135"/>
<path d="M117.9 102.7H123.3M120.6 105.7V99.7"/>
<path d="M118.6 107.4H127.3M122.9 110.4V104.4"/>
<path d="M81.7 138.7H83.9M82.8 140.7V136.7"/>
<path d="M128.9 100H133.7M131.3 103.5V96.5"/>
<path d="M59.9 155H66.2M63.1 155.9V154.2"/>
<path d="M61.4 155.1H64.3M62.9 156V154.2"/>
<path d="M101.6 121.6H115.2M108.4 123.6V119.7"/>
<path d="M103.8 120H108.2M106 125.4V114.6"/>
<path d="M141.8 86.7H154.4M148.1 92.5V81"/>
<path d="M91.3 125.5H96M93.6 126.3V124.7"/>
<path d="M171.1 64.4H175.8M173.4 65.1V63.6"/>
<path d="M66.4 148.7H69.6M68 150.1V147.3"/>
<path d="M68.4 149.8H72.2M70.3 153.8V145.8"/>
<path d="M67.9 151.8H72.1M70 152.6V151"/>
<path d="M143.8 90.4H146.3M145.1 94.2V86.6"/>
<path d="M85.5 130.2H90.2M87.9 131.6V128.8"/>
<path d="M109.6 125.1H114.7M112.2 126.7V123.5"/>
<path d="M154.9 76.7H165.5M160.2 80V73.4"/>
<path d="M89.6 135.5H91.6M90.6 137.3V133.7"/>
<path d="M131.6 96.5H134.5M133.1 99.3V93.7"/>
<path d="M57.7 158.1H61M59.3 160.2V155.7"/>
<path d="M116.6 96.5H132M124.3 100.4V92.6"/>
<path d="M101.8 123.8H108.4M105.1 125.8V121.8"/>
<path d="M61.1 153.9H63.1M62.1 156.2V151.5"/>
<path d="M133.7 94.5H136.2M135 96.2V92.9"/>
<path d="M134.4 94H141.9M138.2 95.1V92.8"/>
<path d="M63 151.7H70.6M66.8 153.4V150"/>
<path d="M103.9 110.2H118.1M111 111V109.5"/>
<path d="M58.6 155.1H62M60.3 156.1V154"/>
<path d="M158.7 75.2H166.9M162.8 79V71.3"/>
<path d="M119.4 112.1H126.4M122.9 117.8V106.3"/>
<path d="M125.1 94H129.9M127.5 95.5V92.4"/>
<path d="M69.6 144.7H76.3M73 146.5V142.9"/>
<path d="M69.4 150.9H71.9M70.6 154.1V147.3"/>
<path d="M55.3 159H57.6M56.4 159.8V158.3"/>
<path d="M67.5 150.5H71.7M69.6 154V146.9"/>
<path d="M57.4 156.5H64.4M60.9 159.2V153.7"/>
<path d="M69.3 148.1H74.3M71.8 149.7V146.5"/>
<path d="M95.8 125H98.7M97.3 125.9V124.2"/>
<path d="M148.5 82.8H153.9M151.2 88.4V77.2"/>
<path d="M146.6 85.2H154M150.3 92.6V77.8"/>
<path d="M124.1 102.5H135.8M129.9 105V100"/>
<path d="M97.6 129.1H103.6M100.6 130.7V127.6"/>
<path d="M129.1 100.6H144.2M136.7 105.7V95.5"/>
<path d="M69.1 144.6H71.3M70.2 148.1V141.1"/>
<path d="M77 138.7H83.1M80.1 139.9V137.5"/>
<path d="M133.2 91.6H144.2M138.7 93.4V89.7"/>
<path d="M77.7 136.9H84.1M80.9 138.6V135.2"/>
<path d="M125.2 95.6H133.2M129.2 101.4V89.8"/>
<path d="M99.1 122.2H110.7M104.9 124V120.3"/>
<path d="M77 141.6H80.3M78.6 144.3V139"/>
<path d="M57.3 155.6H62.2M59.7 156.3V154.8"/>
<path d="M162.4 69.7H169.4M165.9 71V68.4"/>
<path d="M153.8 76H163.6M158.7 77V75.1"/>
<path d="M58.1 155.4H60.6M59.3 156.3V154.5"/>
<path d="M73.4 146.3H76M74.7 148.2V144.5"/>
<path d="M145.7 75.5H161.1M153.4 79.1V71.9"/>
<path d="M55.5 159H60.2M57.8 161.1V156.6"/>
<path d="M103.6 113.4H107.4M105.5 115V111.8"/>
<path d="M145.7 82.7H155.1M150.4 83.7V81.6"/>
<path d="M132.7 93.8H143.9M138.3 99.9V87.6"/>
<path d="M94.1 125.1H105.1M99.6 125.8V124.3"/>
<path d="M60.3 153.9H68.3M64.3 154.7V153"/>
<path d="M64.2 154H66.3M65.2 156V152.1"/>
<path d="M123.5 107.3H127.2M125.4 108.2V106.4"/>
<path d="M56.1 157.4H60.5M58.3 159V155.9"/>
<path d="M101 116H106.4M103.7 118V114"/>
<path d="M58.8 156.3H63.4M61.1 158.8V153.8"/>
<path d="M74 145.7H80.6M77.3 148.3V143.1"/>
<path d="M164.6 68.6H180.5M172.6 71V66.1"/>
<path d="M162.6 63.4H172.6M167.6 64.2V62.6"/>
<path d="M163.8 72.3H165.9M164.8 74.6V70"/>
<path d="M54 157.9H58.9M56.4 158.8V157.1"/>
<path d="M104.5 114.5H118.4M111.4 115.7V113.4"/>
<path d="M109 113.2H114M111.5 115.1V111.3"/>
<path d="M92.2 126.4H104.9M98.6 127.3V125.6"/>
<path d="M167.8 65H171M169.4 68.9V61.2"/>
<path d="M150.7 79.8H155M152.8 81.3V78.3"/>
<path d="M167.8 65.9H170.1M169 73.2V58.7"/>
<path d="M143.3 85.8H148.6M145.9 88.7V82.8"/>
<path d="M121.4 110.9H124.2M122.8 116.6V105.1"/>
<path d="M132.7 96.8H134.8M133.7 100.5V93"/>
<path d="M141.2 87.8H143.2M142.2 90.3V85.2"/>
<path d="M138 91H141.7M139.9 97.6V84.4"/>
<path d="M169.5 62.5H175.4M172.4 68.8V56.2"/>
<path d="M76.3 146.3H78.2M77.3 147.2V145.4"/>
<path d="M73.1 137.4H83.8M78.4 138.6V136.1"/>
<path d="M69.4 149H71.4M70.4 150V148.1"/>
<path d="M105.8 121.9H109.4M107.6 124.1V119.8"/>
<path d="M118.7 107.8H122.7M120.7 109V106.5"/>
<path d="M88.4 131.6H92.6M90.5 133.3V130"/>
<path d="M62.6 151.8H64.8M63.7 153.4V150.3"/>
<path d="M59.9 156.5H64.1M62 158.2V154.8"/>
<path d="M132.7 88.4H143.5M138.1 90.4V86.3"/>
<path d="M75.8 143.5H78.2M77 147.5V139.5"/>
<path d="M69.2 146.3H71.3M70.2 147.3V145.2"/>
<path d="M97.1 125.6H101M99 127.1V124.1"/>
<path d="M63.2 151.2H65.4M64.3 154.3V148.2"/>
<path d="M66.6 152.1H69.2M67.9 153.8V150.4"/>
<path d="M125 97H132.5M128.7 97.8V96.2"/>
<path d="M118.3 105.9H122.8M120.6 106.7V105.1"/>
<path d="M56.3 156.6H60.2M58.3 158.9V154.4"/>
<path d="M65.1 150.2H72.7M68.9 153.9V146.6"/>
<path d="M174.1 59.1H176.3M175.2 61.5V56.7"/>
<path d="M77.9 145.2H84M80.9 146.4V143.9"/>
<path d="M165.2 57.5H185.5M175.3 60.2V54.8"/>
<path d="M78.1 134.9H87.3M82.7 135.6V134.2"/>
<path d="M135.7 87.9H140.1M137.9 91.7V84.1"/>
<path d="M73.4 142.7H81.6M77.5 144.3V141"/>
<path d="M68.6 149.9H76.7M72.6 152.7V147.2"/>
<path d="M106.6 117.5H110.7M108.7 120.8V114.2"/>
<path d="M140.8 91.4H147.2M144 92.2V90.6"/>
<path d="M53.8 159.7H59.9M56.3 161.9V157"/>
<path d="M152.6 73.2H169.6M161.1 74.3V72"/>
<path d="M58.5 156H64.7M61.6 156.8V155.3"/>
<path d="M166.2 61.3H173.1M169.6 62.8V59.9"/>
<path d="M160.7 73.8H167.6M164.2 75.6V72"/>
<path d="M59.5 154.3H63.5M61.5 155.6V153"/>
<path d="M121.6 99.5H132.1M126.8 102.7V96.2"/>
<path d="M59.9 155.2H62.4M61.1 156V154.4"/>
<path d="M153.8 79.1H156.7M155.2 80.6V77.6"/>
<path d="M88.4 139.1H92.3M90.4 140.9V137.3"/>
<path d="M57.3 157.4H63.2M60.3 159.7V153.8"/>
<path d="M63.1 150.7H65.5M64.3 151.7V149.7"/>
<path d="M76.3 140.1H80.7M78.5 140.8V139.3"/>
<path d="M61.7 154.2H66.6M64.2 154.9V153.5"/>
<path d="M58.2 155.9H62.6M60.4 157.7V154.2"/>
<path d="M132.4 96.3H136.7M134.6 103.1V89.4"/>
<path d="M98 123.2H101.1M99.6 123.9V122.5"/>
<path d="M66.1 152.4H68.2M67.2 153.3V151.5"/>
<path d="M55.4 156.2H60.9M58.2 158.5V153.9"/>
<path d="M94.9 120.7H98.3M96.6 125V116.4"/>
<path d="M61.6 155.4H63.7M62.7 156.3V154.5"/>
<path d="M136 87.2H143.3M139.6 89.7V84.6"/>
<path d="M164.6 67H179.2M171.9 68.5V65.6"/>
<path d="M140.7 82.4H156.8M148.8 85.9V79"/>
<path d="M88.2 127.7H95.2M91.7 129.9V125.6"/>
<path d="M171.5 58.2H174.3M172.9 61.5V55"/>
<path d="M53.8 159.7H60.3M56.5 160.4V159"/>
<path d="M61.5 155.7H64.2M62.8 156.7V154.7"/>
<path d="M128.9 98.8H131.8M130.3 103.1V94.5"/>
<path d="M64.3 152H69.5M66.9 152.7V151.2"/>
<path d="M135.6 95.4H145.8M140.7 101.1V89.6"/>
<path d="M90.7 131.4H92.7M91.7 132.1V130.7"/>
<path d="M61.9 153.3H66.4M64.2 156.4V150.1"/>
<path d="M55 158.8H58.9M56.9 160.3V157.4"/>
<path d="M110.3 117.4H114.4M112.3 119.9V115"/>
<path d="M106.6 110H119.5M113.1 112.6V107.4"/>
<path d="M72.1 148.8H78.8M75.5 150.3V147.3"/>
<path d="M101.1 111.8H112.8M106.9 115.4V108.1"/>
<path d="M83.8 140.5H88.3M86 141.6V139.4"/>
<path d="M75.6 144.7H78.3M77 149V140.4"/>
<path d="M156.1 72.7H165.7M160.9 73.4V71.9"/>
<path d="M146.6 75.2H153.3M150 77.2V73.2"/>
<path d="M150.9 76.3H159.4M155.1 77.6V75"/>
<path d="M164.8 59.9H183.6M174.2 62.5V57.4"/>
<path d="M68.9 145.5H76.6M72.8 146.4V144.5"/>
<path d="M64.1 148.5H72.2M68.1 150.2V146.8"/>
<path d="M104.5 112.7H110.1M107.3 114.4V111"/>
<path d="M67.7 142.8H77M72.3 144.6V140.9"/>
<path d="M57.2 156.7H61M59.1 157.8V155.6"/>
<path d="M93.6 131.7H97.9M95.7 132.8V130.7"/>
<path d="M159.7 74.5H165.4M162.5 75.7V73.3"/>
<path d="M55.2 158.6H57.2M56.2 159.7V157.5"/>
<path d="M70 150.1H72M71 152.3V147.8"/>
<path d="M57.8 157.1H59.8M58.8 160.2V154"/>
<path d="M92.3 136.9H95.3M93.8 137.9V135.8"/>
<path d="M69.8 149.6H74.2M72 150.6V148.6"/>
<path d="M55.8 156.3H61.2M58.5 157.3V155.3"/>
<path d="M132.5 92.9H148.5M140.5 93.6V92.2"/>
<path d="M68.8 147.8H70.7M69.8 151.2V144.5"/>
<path d="M83.7 138.1H90.5M87.1 139.1V137.1"/>
<path d="M99.9 117H106.8M103.4 118.4V115.7"/>
<path d="M91.5 131.3H96.2M93.9 132.4V130.3"/>
<path d="M70.8 145.6H75.1M72.9 147.8V143.4"/>
<path d="M73.8 146.1H82.2M78 147V145.1"/>
<path d="M63 153.1H67.3M65.1 154.9V151.4"/>
<path d="M134.1 83.3H148.7M141.4 85.5V81"/>
<path d="M164.5 60.2H181.7M173.1 67.7V52.7"/>
<path d="M138.1 93.2H142.8M140.4 95V91.4"/>
<path d="M118.5 99.7H134.3M126.4 102.3V97"/>
<path d="M61.7 153.3H65.7M63.7 155.9V150.7"/>
<path d="M71.6 146H76.6M74.1 147.7V144.4"/>
<path d="M54.1 159.2H58.8M56.5 160.1V158.3"/>
<path d="M95.8 130.7H99.4M97.6 131.4V130"/>
<path d="M106.8 108.9H115.5M111.1 113.1V104.6"/>
<path d="M154.3 70.2H166.5M160.4 77.8V62.5"/>
<path d="M54.9 157.2H60.5M57.7 158V156.5"/>
<path d="M58.4 156.1H61M59.7 159.3V152.9"/>
<path d="M73.8 146.3H75.8M74.8 149.8V142.8"/>
<path d="M61.1 152.4H67.7M64.4 153.2V151.7"/>
<path d="M111.7 120.4H114.2M112.9 123.9V116.9"/>
<path d="M58.1 155H63M60.6 155.7V154.3"/>
<path d="M132.4 95.9H138.8M135.6 96.8V94.9"/>
<path d="M131.4 89H145.3M138.4 91.5V86.4"/>
<path d="M165.4 71H167.4M166.4 72.9V69.1"/>
<path d="M114.3 115.8H116.3M115.3 121V110.7"/>
<path d="M74.5 141.9H83.6M79.1 144.6V139.3"/>
<path d="M55.5 159.2H57.4M56.5 161.8V156"/>
<path d="M116 103.4H118.9M117.5 106.4V100.4"/>
<path d="M131.1 95.2H142.3M136.7 97.9V92.5"/>
<path d="M74.3 148.4H76.4M75.3 149.3V147.5"/>
<path d="M68.2 147.3H74.5M71.3 148.1V146.5"/>
<path d="M120.4 100H124.4M122.4 105.7V94.3"/>
<path d="M163.6 71.6H168.8M166.2 72.5V70.8"/>
<path d="M155.5 68.2H165.5M160.5 69.8V66.6"/>
<path d="M69.4 143.9H76.5M72.9 145.1V142.7"/>
<path d="M162.2 66.6H177.8M170 72.7V60.6"/>
<path d="M135.3 95.3H137.7M136.5 97.9V92.7"/>
<path d="M96.9 122.4H101.1M99 123.1V121.6"/>
<path d="M89 120.8H100.1M94.6 122V119.6"/>
<path d="M97.6 122H103.9M100.7 122.8V121.3"/>
<path d="M86.9 130.8H98.5M92.7 135.7V125.8"/>
<path d="M62.6 153H68.1M65.3 153.8V152.3"/>
<path d="M65.9 151.3H71.3M68.6 152.7V149.8"/>
<path d="M55.6 158.4H59M57.3 159.2V157.5"/>
<path d="M98.5 119.1H100.7M99.6 123.2V115"/>
<path d="M83 138.3H88.5M85.7 141.3V135.3"/>
<path d="M81.2 136.8H88.5M84.9 138.2V135.5"/>
<path d="M165.4 63.5H173.3M169.3 65V62.1"/>
<path d="M57.9 155.4H62.8M60.4 156.7V154.1"/>
<path d="M98.7 119H108M103.4 120.2V117.9"/>
<path d="M113.7 102.9H117.6M115.6 103.6V102.1"/>
<path d="M68.5 152H70.4M69.5 152.8V151.1"/>
<path d="M100.5 118H102.5M101.5 119.6V116.5"/>
<path d="M63.1 154.3H66.1M64.6 157.4V151.1"/>
<path d="M134.2 93H136.2M135.2 99.8V86.2"/>
<path d="M101.8 121.3H103.9M102.8 125.3V117.2"/>
<path d="M69.8 149.4H72.8M71.3 150.3V148.4"/>
<path d="M73.1 146.5H78.3M75.7 147.7V145.3"/>
<path d="M115.6 111.9H117.5M116.6 112.7V111.1"/>
<path d="M84.5 139.1H91.1M87.8 142V136.2"/>
<path d="M55.3 155.5H63.9M59.6 156.4V154.6"/>
<path d="M54.5 159.1H60.3M57.4 160.1V158.1"/>
<path d="M69 149.7H73.1M71 150.7V148.7"/>
<path d="M59.1 156.2H62.2M60.7 159.4V153"/>
<path d="M104.5 119.8H107.2M105.8 121.4V118.1"/>
<path d="M110.3 114.7H123.5M116.9 116.5V112.8"/>
<path d="M116 107.3H127.3M121.7 109.6V104.9"/>
<path d="M124.3 103.3H128.1M126.2 107.1V99.6"/>
<path d="M58.3 156.2H63.2M60.7 157.3V155.1"/>
<path d="M53.8 159.7H60.5M56.4 160.4V159"/>
<path d="M78.7 140.4H87.5M83.1 143.2V137.6"/>
<path d="M162.4 66.8H174.3M168.3 69.3V64.4"/>
<path d="M143.9 86.8H155.7M149.8 87.5V86.1"/>
<path d="M72.4 145H78.2M75.3 148.4V141.5"/>
<path d="M171.3 60.9H176.7M174 66V55.8"/>
<path d="M64.2 151.2H69.8M67 152.7V149.6"/>
<path d="M146 83.7H158.5M152.2 86.1V81.4"/>
<path d="M82.9 138.2H85M84 140V136.4"/>
<path d="M149.9 77.6H162.2M156.1 78.5V76.7"/>
<path d="M123.3 95.6H128.4M125.8 100.4V90.8"/>
<path d="M88.7 136.2H90.7M89.7 140.1V132.3"/>
<path d="M88.7 129.3H91.9M90.3 130.6V128"/>
<path d="M72.2 147.3H78.4M75.3 149.2V145.4"/>
<path d="M72.8 148.2H75.5M74.2 149V147.4"/>
<path d="M133.9 98H138.7M136.3 103.7V92.3"/>
<path d="M144.7 77.6H164.7M154.7 82V73.2"/>
<path d="M87 139H94M90.5 141.8V136.3"/>
<path d="M163.2 60.1H182.1M172.6 61V59.2"/>
<path d="M137.3 96.6H139.6M138.4 101.8V91.3"/>
<path d="M130.1 95H132M131.1 97.4V92.7"/>
<path d="M71.8 147.9H75.1M73.5 151.6V144.1"/>
<path d="M114.1 119.8H121.4M117.8 120.8V118.9"/>
<path d="M118.8 113.6H120.7M119.7 115.6V111.6"/>
<path d="M65.3 150.8H69.5M67.4 152.2V149.4"/>
<path d="M132.2 104.4H139.5M135.9 105.1V103.6"/>
<path d="M76.3 145.2H79.4M77.9 148.5V141.9"/>
<path d="M124.8 98.1H128M126.4 99V97.2"/>
<path d="M134 94.5H136.4M135.2 100.7V88.3"/>
<path d="M66.2 150.8H74.2M70.2 152.1V149.5"/>
<path d="M82.4 139.7H85.4M83.9 141V138.5"/>
<path d="M166.9 59.1H185M175.9 66.5V51.8"/>
<path d="M53.8 158.3H61.4M57.5 161.1V155.5"/>
<path d="M103.4 114.9H111.1M107.2 115.7V114.2"/>
<path d="M77.9 142.7H88.4M83.1 143.5V141.8"/>
<path d="M121.5 101.8H131.5M126.5 103.2V100.3"/>
<path d="M105.7 126H107.6M106.6 128.9V123.1"/>
<path d="M68.3 150.9H70.7M69.5 154.3V147.6"/>
<path d="M100.7 128.2H103.1M101.9 131V125.3"/>
<path d="M171.7 59.3H177.6M174.7 60V58.6"/>
<path d="M74.9 140.7H77.5M76.2 141.8V139.7"/>
<path d="M123.3 97.3H134.3M128.8 101.6V93"/>
<path d="M98.7 121.3H111.3M105 122.2V120.5"/>
<path d="M98.5 127.3H101M99.8 128.6V125.9"/>
<path d="M111.6 113.3H114.9M113.3 114.2V112.3"/>
<path d="M151 77.6H163.4M157.2 78.3V76.9"/>
<path d="M138.5 91.8H145.2M141.9 92.6V90.9"/>
<path d="M84.9 132.7H87.8M86.4 133.7V131.6"/>
<path d="M89.1 127.4H93.3M91.2 131.9V122.8"/>
<path d="M95.9 119H104.1M100 120.6V117.4"/>
<path d="M157.6 67.3H179M168.3 68.5V66.1"/>
<path d="M77.9 142.1H80.1M79 144.3V139.8"/>
<path d="M70.4 147.5H77.3M73.9 150.1V145"/>
<path d="M120.5 107.8H126.1M123.3 111.5V104.1"/>
<path d="M80.4 144.3H83.4M81.9 147.9V140"/>
<path d="M76.1 142.3H83.1M79.6 145.5V139.2"/>
<path d="M79 140.4H83.7M81.3 144.4V136.4"/>
<path d="M115.5 107.2H120.5M118 112.9V101.5"/>
<path d="M150.7 77.5H156.2M153.5 84.6V70.4"/>
<path d="M162.6 70.2H166.5M164.6 73V67.5"/>
<path d="M58.1 157.3H62.2M60.1 158.9V155.7"/>
<path d="M55.2 157.9H61.9M58.6 160.7V155.1"/>
<path d="M93.6 135.7H95.9M94.7 138.6V132.7"/>
<path d="M120.9 96.9H126.8M123.8 98.5V95.2"/>
<path d="M150.1 80.5H152.2M151.1 87V74"/>
<path d="M61.6 153.7H70.9M66.3 156.1V151.3"/>
<path d="M75 145.2H79.8M77.4 145.9V144.4"/>
<path d="M65.4 152.6H68.2M66.8 153.6V151.5"/>
<path d="M141.9 87.9H144M142.9 89.6V86.3"/>
<path d="M103.6 129.7H107.2M105.4 131.2V128.1"/>
<path d="M66.2 153H68.2M67.2 153.7V152.2"/>
<path d="M105.6 107.6H119.4M112.5 109.9V105.3"/>
<path d="M76.6 136.8H79.1M77.9 138.2V135.3"/>
<path d="M87.1 138.5H90.4M88.7 140.2V136.8"/>
<path d="M119.8 103.5H122.2M121 107.4V99.7"/>
<path d="M59.3 155.2H67.5M63.4 157.1V153.3"/>
<path d="M145.9 74.4H164.6M155.3 79.9V69"/>
<path d="M149.8 79.2H157M153.4 81.8V76.6"/>
<path d="M64.8 149.9H70.4M67.6 151V148.7"/>
<path d="M126.5 95.5H128.5M127.5 97.4V93.5"/>
<path d="M54.5 156.8H60.8M57.6 158.8V154.8"/>
<path d="M100.8 124.7H102.7M101.8 128.7V120.7"/>
<path d="M56 158.5H58M57 160V157"/>
<path d="M172.9 65.6H175.5M174.2 67V64.2"/>
<path d="M56.5 158.9H58.8M57.6 160.7V157.1"/>
<path d="M53.8 159.1H59M56.4 161.8V156.2"/>
<path d="M116.7 110.6H122.2M119.5 111.4V109.9"/>
<path d="M122.9 106.5H124.8M123.9 107.3V105.8"/>
<path d="M71.8 144.8H73.8M72.8 145.7V144"/>
<path d="M102.7 123.5H105.7M104.2 124.3V122.6"/>
<path d="M65.4 148.8H73.1M69.3 149.9V147.6"/>
<path d="M71.2 147.2H75M73.1 150.1V144.3"/>
<path d="M73.7 145.2H75.9M74.8 146.8V143.6"/>
<path d="M107.5 117.6H109.5M108.5 119.5V115.7"/>
<path d="M140.3 82H157.3M148.8 84.9V79"/>
<path d="M90.8 134.7H93.7M92.2 137.2V132.3"/>
<path d="M152.8 77.6H159.3M156.1 80.1V75.1"/>
<path d="M129.1 100.6H137.3M133.2 104.4V96.8"/>
<path d="M116.7 109.1H130.1M123.4 115.4V102.9"/>
<path d="M90 131.4H102.3M96.2 135.1V127.7"/>
<path d="M93.1 125.2H100.2M96.6 128.8V121.5"/>
<path d="M91 136.3H93.3M92.2 137.2V135.4"/>
<path d="M132.2 92.6H145.7M138.9 94.5V90.7"/>
<path d="M156.1 76.4H158M157.1 81.2V71.7"/>
<path d="M72.9 145.9H75M73.9 146.9V144.9"/>
<path d="M53.8 158.9H60.4M56.7 159.7V158.1"/>
<path d="M61.3 152.6H68.3M64.8 153.5V151.6"/>
<path d="M140.6 87H153.4M147 88.7V85.3"/>
<path d="M128.3 103.3H135.1M131.7 106.9V99.7"/>
<path d="M86.8 136.9H94.1M90.5 137.7V136"/>
<path d="M149.8 76.1H159.9M154.9 77.1V75.2"/>
<path d="M173.9 57.5H177.1M175.5 63.1V52"/>
<path d="M57 158.2H59.1M58.1 159.4V157"/>
<path d="M170.5 67H172.7M171.6 70.3V63.6"/>
<path d="M73.7 146.6H75.9M74.8 147.8V145.4"/>
<path d="M142.1 90.5H161.1M151.6 92.5V88.4"/>
<path d="M56.3 156.1H59.9M58.1 156.8V155.3"/>
<path d="M55.1 158.1H57.5M56.3 158.9V157.4"/>
<path d="M57.5 157.4H62M59.8 158.2V156.7"/>
<path d="M103.2 116.6H105.5M104.4 117.4V115.8"/>
<path d="M129.3 96.9H139.9M134.6 100.3V93.6"/>
<path d="M107 119.7H110M108.5 120.9V118.5"/>
<path d="M90.2 132.9H93M91.6 134.9V130.9"/>
<path d="M154.5 76.3H162.5M158.5 77.1V75.4"/>
<path d="M88.5 136H90.6M89.5 138.3V133.6"/>
<path d="M100.4 125.9H103.2M101.8 128.7V123.1"/>
<path d="M113 107.8H115.4M114.2 108.6V107"/>
<path d="M55.4 159.3H57.4M56.4 161.9V156.5"/>
<path d="M56.1 158.4H59.9M58 159.1V157.7"/>
<path d="M132.5 100.3H136.5M134.5 103.5V97.1"/>
<path d="M102.6 112H105.1M103.9 116.1V107.9"/>
<path d="M58.3 155.9H60.3M59.3 157.4V154.4"/>
<path d="M124.9 103H131.8M128.4 103.9V102.1"/>
<path d="M125.3 95.1H142.5M133.9 97.6V92.5"/>
<path d="M139.4 90.2H141.6M140.5 94.6V85.7"/>
<path d="M60.5 156.8H62.4M61.4 159V154.7"/>
<path d="M59.4 155.4H66.3M62.9 157.4V153.4"/>
<path d="M91.8 127H93.8M92.8 127.7V126.2"/>
<path d="M66.4 150.1H73.9M70.2 153.3V147"/>
<path d="M144 84.3H147.2M145.6 90.8V77.8"/>
<path d="M106.5 109.1H117.1M111.8 109.8V108.3"/>
<path d="M156.3 66.8H173.5M164.9 67.5V66.1"/>
<path d="M80.8 138.2H83.7M82.2 139.1V137.3"/>
<path d="M143.5 86.9H146.2M144.9 89.2V84.5"/>
<path d="M63.4 151.9H65.3M64.3 155.6V148.3"/>
<path d="M94.3 125.2H96.7M95.5 128V122.4"/>
<path d="M70.4 148.5H73.4M71.9 152.2V144.9"/>
<path d="M157.6 73.2H165.6M161.6 75.7V70.6"/>
<path d="M61.3 155H67.5M64.4 156.7V153.2"/>
<path d="M66.5 152.2H70.1M68.3 153V151.3"/>
<path d="M119 96.1H130.3M124.6 99.1V93.1"/>
<path d="M170.1 64.4H176.4M173.3 72.9V55.9"/>
<path d="M80.3 143.8H84.2M82.3 146.6V140.9"/>
<path d="M126.1 103H128.5M127.3 104.4V101.5"/>
<path d="M91.9 128.6H98.2M95.1 129.6V127.6"/>
<path d="M76.7 140.4H88M82.4 145V135.9"/>
<path d="M54.3 157H58.9M56.6 159.2V154.8"/>
<path d="M79.7 141.4H82.3M81 144.5V138.4"/>
<path d="M102.9 115.2H114.2M108.6 117V113.4"/>
<path d="M157.1 71.8H165.1M161.1 75.7V67.9"/>
<path d="M94.7 123.3H97.4M96.1 124V122.6"/>
<path d="M133.9 97.5H136.4M135.1 99.9V95.1"/>
<path d="M62.2 154.7H67.1M64.7 157.3V151.7"/>
<path d="M126.9 93.6H130M128.4 94.4V92.7"/>
<path d="M55.2 159.2H58.3M56.7 159.9V158.4"/>
<path d="M90.7 127.9H93.4M92.1 129.6V126.1"/>
<path d="M127.3 102.2H136.4M131.9 103V101.4"/>
<path d="M133.1 95.9H135.5M134.3 97.9V93.8"/>
<path d="M141.9 87.6H148.4M145.2 88.5V86.7"/>
<path d="M59.4 156.4H64.4M61.9 158.1V154.7"/>
<path d="M53.8 157.3H60.6M56.6 160.6V154"/>
<path d="M79.2 138.7H84.9M82 139.4V138"/>
<path d="M145.5 83H152.2M148.8 84.2V81.7"/>
<path d="M108.4 115.2H111.3M109.8 116V114.5"/>
<path d="M57.3 157.1H62.5M59.9 159V155.1"/>
<path d="M63.5 153.3H66M64.8 154.2V152.4"/>
<path d="M107.9 109.7H123.1M115.5 112V107.3"/>
<path d="M60.5 154.6H65.9M63.2 155.5V153.7"/>
<path d="M76.3 136.4H86.6M81.4 139.2V133.7"/>
<path d="M60.1 155.5H63.9M62 156.3V154.8"/>
<path d="M90.9 132.6H94.9M92.9 133.3V131.9"/>
<path d="M55.8 158.6H58M56.9 161.1V156.2"/>
<path d="M55.3 157.4H57.3M56.3 158.3V156.6"/>
<path d="M106.2 122.1H109.6M107.9 127.5V116.6"/>
<path d="M164.5 67.3H167M165.7 69.3V65.2"/>
<path d="M59 156.2H62.9M60.9 156.9V155.5"/>
<path d="M122.3 98.7H128.9M125.6 99.4V97.9"/>
<path d="M158 72H161.8M159.9 73.5V70.5"/>
<path d="M68 146.6H78.3M73.1 148V145.2"/>
<path d="M130.9 95.9H134.2M132.6 97.2V94.5"/>
<path d="M161.1 75.6H164.8M162.9 76.5V74.7"/>
<path d="M63 153.1H65.7M64.4 155.3V150.8"/>
<path d="M58.5 156.8H61.3M59.9 157.7V156"/>
<path d="M172.3 63.2H174.3M173.3 68.8V57.5"/>
<path d="M78.6 144.4H81.4M80 145.4V143.5"/>
<path d="M161.1 63.8H177.4M169.3 71.8V55.8"/>
<path d="M152.8 79.2H160.3M156.6 79.9V78.5"/>
<path d="M168.7 58.2H185.2M177 63.6V52.8"/>
<path d="M168.6 68.9H170.6M169.6 70.3V67.6"/>
<path d="M58.2 156.5H65M61.6 157.9V155.1"/>
<path d="M136.4 90.2H138.8M137.6 97.1V83.3"/>
<path d="M56.5 158.3H58.7M57.6 159.1V157.5"/>
<path d="M106.5 118.1H114.7M110.6 123.9V112.3"/>
<path d="M62 152.2H67.6M64.8 152.9V151.5"/>
<path d="M69.5 147.9H71.4M70.4 148.8V147.1"/>
<path d="M77.4 141.8H83.4M80.4 146V137.5"/>
<path d="M148.2 85H150.4M149.3 88.8V81.2"/>
<path d="M62.6 154.7H68M65.3 155.4V154"/>
<path d="M53.8 160H59.8M56.2 161V159"/>
<path d="M75 145.7H78.1M76.5 148.7V142.6"/>
<path d="M112.1 102H118M115.1 104.8V99.1"/>
<path d="M126.1 101.2H128.1M127.1 104.2V98.2"/>
<path d="M127 96.3H129.3M128.1 101.1V91.5"/>
<path d="M144.4 79H156.9M150.6 82.6V75.3"/>
<path d="M72.7 146.3H78.3M75.5 150.5V142.1"/>
<path d="M79.5 140.4H88.1M83.8 143.2V137.7"/>
<path d="M89.8 125.2H93.1M91.5 125.9V124.5"/>
<path d="M114.2 101.5H130.4M122.3 102.2V100.8"/>
<path d="M169.8 61.7H171.8M170.8 65.2V58.2"/>
<path d="M61 154.2H70.3M65.6 155.5V152.8"/>
<path d="M55.7 158.5H57.9M56.8 159.2V157.8"/>
<path d="M63.1 154.9H65.3M64.2 156V153.7"/>
<path d="M118.8 112.7H122.4M120.6 113.8V111.6"/>
<path d="M162.3 63.8H179.8M171 72.4V55.3"/>
<path d="M53.8 158.4H60.8M56.8 159.2V157.5"/>
<path d="M139.9 88.4H150.1M145 89.2V87.5"/>
<path d="M147.7 85.6H153.4M150.6 88V83.1"/>
<path d="M79.6 136.7H82.5M81.1 139.8V133.6"/>
<path d="M55.4 159.1H57.7M56.5 161.7V156.6"/>
<path d="M53.8 158.2H59.5M56.6 160.1V156.4"/>
<path d="M59.7 157.2H61.7M60.7 157.9V156.4"/>
<path d="M105 114.3H115.2M110.1 119.7V108.8"/>
<path d="M59.1 155.7H61.4M60.3 157.8V153.7"/>
<path d="M123.8 96.3H134.4M129.1 101.6V91.1"/>
<path d="M106 122.2H108.2M107.1 123.1V121.2"/>
<path d="M150.8 84.7H152.8M151.8 88.7V80.6"/>
<path d="M71.1 148.3H74.1M72.6 150.7V145.8"/>
<path d="M113.2 113H115.5M114.4 115.9V110.2"/>
<path d="M91.8 130.2H94.5M93.1 131.7V128.6"/>
<path d="M68.1 151.5H72.9M70.5 154.1V147.7"/>
<path d="M96.3 129.7H98.6M97.4 133.2V126.2"/>
<path d="M56.5 157.3H58.5M57.5 158.1V156.5"/>
<path d="M169.4 59H181.3M175.3 59.8V58.3"/>
<path d="M132.9 92.2H146.4M139.6 98V86.4"/>
<path d="M95.6 122.6H98.1M96.8 125.6V119.6"/>
<path d="M137.1 95.8H146M141.5 102.7V88.8"/>
<path d="M91.8 123.6H96.4M94.1 124.9V122.3"/>
<path d="M79.2 141.5H88.6M83.9 142.5V140.5"/>
<path d="M167.4 59.5H186.8M177.1 61.2V57.7"/>
<path d="M55.6 157.6H58.6M57.1 160.3V154.9"/>
<path d="M59.1 156.1H65M62 156.9V155.3"/>
<path d="M59.5 154.5H64.5M62 158.2V150.8"/>
<path d="M87.5 130.9H91M89.3 132.9V128.8"/>
<path d="M70.6 149.4H76.1M73.4 152V146.9"/>
<path d="M54.8 157.4H57.7M56.3 158.6V156.3"/>
<path d="M92.8 128.1H95.1M93.9 130.5V125.6"/>
<path d="M154.7 75.7H158.6M156.7 80.9V70.6"/>
<path d="M131.4 92H133.4M132.4 96.3V87.7"/>
<path d="M65.4 151.6H67.5M66.4 154.8V148.5"/>
<path d="M84.9 134.5H93.9M89.4 135.8V133.2"/>
<path d="M163.9 70.4H166M164.9 71.5V69.4"/>
<path d="M76.1 140.4H78.4M77.2 144.7V136.1"/>
<path d="M56.5 156.9H62.9M59.7 157.6V156.1"/>
<path d="M55.8 157.1H57.8M56.8 158.7V155.5"/>
<path d="M136.6 94.8H141.9M139.3 97.5V92.1"/>
<path d="M62.3 150.9H69.5M65.9 153.8V147.9"/>
<path d="M91.3 129.3H93.5M92.4 134.1V124.5"/>
<path d="M72.1 144.9H75.8M73.9 146.4V143.4"/>
<path d="M114.8 112.6H117M115.9 113.6V111.6"/>
<path d="M57 157.7H59.1M58.1 158.6V156.8"/>
<path d="M109.3 119H115.1M112.2 120.1V118"/>
<path d="M74.5 145.9H77.1M75.8 146.6V145.1"/>
<path d="M139 98.4H141M140 104.5V92.3"/>
<path d="M55.3 158H58.5M56.9 159.3V156.7"/>
<path d="M166.5 67.7H168.8M167.6 75.9V59.5"/>
<path d="M151.1 80.7H153.1M152.1 85.7V75.6"/>
<path d="M74.5 141.6H76.5M75.5 142.6V140.6"/>
<path d="M61.4 155.6H65M63.2 156.9V154.2"/>
<path d="M74.2 146.5H80.6M77.4 148.4V144.6"/>
<path d="M119.5 105H128.5M124 105.7V104.2"/>
<path d="M58.9 157.4H61.4M60.2 158.4V156.5"/>
<path d="M61.5 154.6H65.1M63.3 155.8V153.3"/>
<path d="M115 115.4H117.1M116.1 116.2V114.6"/>
<path d="M79.3 142.5H81.3M80.3 143.2V141.8"/>
<path d="M167.1 62.7H177.5M172.3 70.8V54.7"/>
<path d="M107.2 111.2H113.6M110.4 112.1V110.3"/>
<path d="M106 111.9H112.7M109.3 113.9V109.9"/>
<path d="M110 114.1H113M111.5 118.2V110"/>
<path d="M152.6 83H155.8M154.2 84.4V81.6"/>
<path d="M170.4 67.3H172.3M171.4 68.5V66.1"/>
<path d="M76.4 137.5H86.3M81.3 139.1V135.9"/>
<path d="M81.7 140.6H88.9M85.3 142.3V138.9"/>
<path d="M77.7 138.7H80.3M79 139.9V137.6"/>
<path d="M76.8 139H81.1M79 140V137.9"/>
<path d="M118 113.2H123.7M120.9 113.9V112.5"/>
<path d="M146.1 87.3H150.6M148.4 88.1V86.5"/>
<path d="M67.6 148.1H71.3M69.5 149.8V146.5"/>
<path d="M70.7 141.3H79.8M75.3 144.8V137.8"/>
<path d="M153.7 69.3H170.9M162.3 71.5V67.2"/>
<path d="M72.7 147.3H75.4M74.1 150.6V144"/>
<path d="M60.5 156.4H62.5M61.5 157.5V155.3"/>
<path d="M114.2 110.4H116.2M115.2 114.7V106.1"/>
<path d="M66.6 150.5H72.9M69.7 154.2V146.9"/>
<path d="M132.8 94.7H135.3M134 99.8V89.7"/>
<path d="M75.9 135.7H82.2M79 137.5V133.9"/>
<path d="M90.7 129.5H94.8M92.8 133.1V126"/>
<path d="M84.8 132.3H89M86.9 136.8V127.9"/>
<path d="M67.3 148.3H76.3M71.8 149.5V147.1"/>
<path d="M112.3 112.7H118.2M115.2 114.4V111"/>
<path d="M133.6 90.9H149M141.3 96.3V85.4"/>
<path d="M58.7 157.2H61.8M60.3 158.4V156.1"/>
<path d="M56.9 158.8H59.5M58.2 160.8V156.8"/>
<path d="M87 138.3H93.6M90.3 140.6V135.9"/>
<path d="M106.7 117.1H112.1M109.4 120.1V114"/>
<path d="M85.5 134.9H87.5M86.5 136.6V133.3"/>
<path d="M76 139.1H82.3M79.1 141.8V136.4"/>
<path d="M155.2 72.4H169.8M162.5 73.5V71.3"/>
<path d="M144 81.6H161.3M152.7 89V74.3"/>
<path d="M138 89.9H146.3M142.2 95V84.7"/>
<path d="M57.7 158.2H59.9M58.8 159.1V157.4"/>
<path d="M84.1 137.5H86.5M85.3 139.4V135.6"/>
<path d="M58.6 154.3H66.2M62.4 155.3V153.2"/>
<path d="M148.8 76H166.9M157.9 81.8V70.3"/>
<path d="M167.9 66.5H169.8M168.9 67.2V65.7"/>
<path d="M86.4 136.8H99M92.7 138.6V135"/>
<path d="M131.3 94.4H142.9M137.1 99.8V88.9"/>
<path d="M98.5 126.7H101.5M100 127.4V126"/>
<path d="M81 142.7H90.3M85.6 145.9V138.4"/>
<path d="M120.7 105.9H125M122.9 109.2V102.7"/>
<path d="M104.4 118.1H106.3M105.4 123.2V113"/>
<path d="M56.7 158H61.1M58.9 160.5V154.5"/>
<path d="M54.6 159.4H59.6M57.1 160.5V158.3"/>
<path d="M73.6 139.9H75.8M74.7 141.6V138.3"/>
<path d="M83.8 139.4H93.4M88.6 141.3V137.5"/>
<path d="M69.8 147.4H74.1M71.9 148.3V146.6"/>
<path d="M136.1 96.6H138.4M137.3 97.7V95.6"/>
<path d="M139.7 83.8H143.2M141.4 86V81.7"/>
<path d="M53.8 157.5H60M56.2 158.4V156.6"/>
<path d="M56.7 158.3H59M57.9 160.5V156"/>
<path d="M127.7 99.2H143.6M135.6 100.2V98.1"/>
<path d="M84.2 139.7H87M85.6 141.1V138.3"/>
<path d="M97.8 124.2H99.7M98.8 124.9V123.4"/>
<path d="M67.8 147.4H72.2M70 148.3V146.5"/>
<path d="M119.4 105.2H122.1M120.8 109.6V100.9"/>
<path d="M63.4 153.2H67.1M65.2 154.9V151.4"/>
<path d="M96.9 124.5H103.9M100.4 127.8V121.2"/>
<path d="M165 61.8H184.4M174.7 70.1V53.5"/>
<path d="M145.8 86.5H148M146.9 90.9V82"/>
<path d="M144.3 85.1H146.2M145.3 85.9V84.3"/>
<path d="M171.1 61.7H174.4M172.7 62.6V60.9"/>
<path d="M142.7 82.5H145.1M143.9 83.6V81.4"/>
<path d="M157.9 69.3H172.6M165.2 74.7V63.9"/>
<path d="M61.1 155H64.8M62.9 156.6V153.3"/>
<path d="M64.7 148H70.9M67.8 149.9V146.2"/>
<path d="M91.8 136.1H93.8M92.8 137.7V134.4"/>
<path d="M59.6 155.6H61.8M60.7 156.9V154.2"/>
<path d="M119.6 98.8H135.8M127.7 99.8V97.9"/>
<path d="M135 97.3H138.6M136.8 100.1V94.4"/>
<path d="M88.8 129.4H95.4M92.1 130.5V128.2"/>
<path d="M79.2 145.5H82.6M80.9 147.2V143.9"/>
<path d="M119 100.7H133.7M126.3 101.4V99.9"/>
<path d="M71.9 145.9H80.8M76.4 147.7V144"/>
<path d="M53.8 158.4H60.7M57 159.5V157.3"/>
<path d="M76.8 140.3H82.6M79.7 141V139.6"/>
<path d="M85.8 135.1H88.3M87.1 137.5V132.6"/>
<path d="M164.2 68.5H168.2M166.2 71.3V65.8"/>
<path d="M70.3 145.8H80.6M75.4 147.6V143.9"/>
<path d="M77.7 141.4H83.8M80.7 143.4V139.5"/>
<path d="M106.9 115.4H109.6M108.3 121.1V109.8"/>
<path d="M145.3 86H149.8M147.6 86.7V85.3"/>
<path d="M57.9 158H61.1M59.5 159.3V156.8"/>
<path d="M133.7 94.3H136.4M135.1 96.2V92.5"/>
<path d="M138.3 85.8H140.3M139.3 92.3V79.4"/>
<path d="M56.6 156.5H60.3M58.5 157.4V155.5"/>
<path d="M127.1 95.8H133.7M130.4 98.6V93"/>
<path d="M72.5 148.7H75.7M74.1 151.7V145.6"/>
<path d="M90.5 129.6H94.6M92.5 134.1V125.1"/>
<path d="M134 91.6H145.5M139.8 95.4V87.7"/>
<path d="M160.8 67.5H163.3M162.1 71.9V63.1"/>
<path d="M102.7 106.6H116.9M109.8 110.7V102.5"/>
<path d="M62.4 153H64.3M63.4 154V152.1"/>
<path d="M64.5 153.3H66.4M65.4 155.4V151.1"/>
<path d="M69.8 147.6H78.4M74.1 150V145.2"/>
<path d="M85.7 130.4H92.2M89 132.3V128.4"/>
<path d="M62.7 151.9H68.7M65.7 153.6V150.3"/>
<path d="M145.5 81.6H158.9M152.2 82.5V80.7"/>
<path d="M70.6 147.7H74.4M72.5 149.8V145.6"/>
<path d="M72.1 148.5H74.1M73.1 150.3V146.6"/>
<path d="M136.1 83.4H152.2M144.2 84.2V82.7"/>
<path d="M55.2 158H60.7M58 160.2V155.8"/>
<path d="M63.5 148.7H71.5M67.5 152.4V144.9"/>
<path d="M55.4 157.6H59.9M57.6 159.3V155.9"/>
<path d="M82 136.7H86.2M84.1 138.2V135.2"/>
<path d="M101.5 120.7H107.9M104.7 122V119.5"/>
<path d="M115.1 106.4H126.1M120.6 108.8V104"/>
<path d="M75.5 146.5H79.1M77.3 148.2V144.8"/>
<path d="M68.1 148.7H74.1M71.1 151.8V145.6"/>
<path d="M54.1 159.1H60.4M57.3 161.2V156.9"/>
<path d="M55.5 158.4H57.8M56.6 159.1V157.7"/>
<path d="M55.4 158.6H57.4M56.4 159.3V157.9"/>
<path d="M97 127.8H101.9M99.4 128.5V127"/>
<path d="M54.8 158.2H58.2M56.5 160.6V155.9"/>
<path d="M93.2 124.1H97.3M95.2 128.2V119.9"/>
<path d="M76.6 142.9H79.7M78.1 144.5V141.3"/>
<path d="M138 95.5H141.1M139.6 96.3V94.6"/>
<path d="M143.1 80.9H150.8M147 81.7V80.1"/>
<path d="M119.4 111.5H121.7M120.5 112.7V110.3"/>
<path d="M87.5 137.3H95.1M91.3 142.2V132.4"/>
<path d="M98.1 126.2H100.6M99.4 127.2V125.2"/>
<path d="M135.2 86.7H153M144.1 89.7V83.8"/>
<path d="M127 97.8H138.8M132.9 104.7V91"/>
<path d="M108.1 122.1H115.8M111.9 123.1V121"/>
<path d="M53.8 158.1H61.3M57.2 161.1V155.1"/>
<path d="M80.5 138.2H82.4M81.4 142.6V133.8"/>
<path d="M100.9 121.6H108M104.4 122.6V120.6"/>
<path d="M59.9 156.7H63.4M61.7 157.7V155.7"/>
<path d="M124.6 103.7H135.7M130.2 105.4V102"/>
<path d="M73.5 145.7H75.5M74.5 149.3V142.2"/>
<path d="M65.9 152.2H68.7M67.3 153V151.4"/>
<path d="M125.2 94.5H134.5M129.9 95.3V93.7"/>
<path d="M69.1 150.9H74M71.5 152.3V149.5"/>
<path d="M125 102.8H127.1M126 108.9V96.7"/>
<path d="M159.2 70.9H170.4M164.8 71.7V70.2"/>
<path d="M94.1 120H105.4M99.7 122.7V117.3"/>
<path d="M73.6 142.7H81.5M77.5 145.6V139.7"/>
<path d="M58.4 156.7H60.5M59.4 157.7V155.7"/>
<path d="M59.4 156.2H61.6M60.5 158.9V153.6"/>
<path d="M66.7 149.1H76M71.4 151V147.3"/>
<path d="M74.1 145.1H80M77.1 149.3V140.8"/>
<path d="M83 140.9H87.6M85.3 142.4V139.4"/>
<path d="M107.6 116.1H110.5M109.1 121.8V110.4"/>
</g>
<g fill="#1380c6" stroke="#fff" stroke-width="0.25">
<circle cx="90.2" cy="138.9" r="1"/>
<circle cx="97.1" cy="130.5" r="1"/>
<circle cx="107.8" cy="115.9" r="1"/>
<circle cx="113.9" cy="108.1" r="1"/>
<circle cx="139.7" cy="88.7" r="1"/>
<circle cx="58.8" cy="156.2" r="1"/>
<circle cx="123.5" cy="95.8" r="1"/>
<circle cx="117.5" cy="106.7" r="1"/>
<circle cx="111.9" cy="114.1" r="1"/>
<circle cx="99.8" cy="124.1" r="1"/>
<circle cx="57.5" cy="159.1" r="1"/>
<circle cx="91.6" cy="128.6" r="1"/>
<circle cx="88.8" cy="131.2" r="1"/>
<circle cx="115.5" cy="115.8" r="1"/>
<circle cx="96.1" cy="130.3" r="1"/>
<circle cx="71.8" cy="150.5" r="1"/>
<circle cx="176.7" cy="56.1" r="1"/>
<circle cx="125.8" cy="103" r="1"/>
<circle cx="75.3" cy="145" r="1"/>
<circle cx="57.9" cy="156.8" r="1"/>
<circle cx="84.2" cy="135.7" r="1"/>
<circle cx="169.1" cy="68.3" r="1"/>
<circle cx="149" cy="81.1" r="1"/>
<circle cx="160.3" cy="73.8" r="1"/>
<circle cx="92.3" cy="126.7" r="1"/>
<circle cx="58" cy="157.1" r="1"/>
<circle cx="137.2" cy="93.4" r="1"/>
<circle cx="77" cy="142.6" r="1"/>
<circle cx="170.3" cy="65.4" r="1"/>
<circle cx="69.1" cy="151.6" r="1"/>
<circle cx="59.3" cy="156.9" r="1"/>
<circle cx="63.8" cy="153.9" r="1"/>
<circle cx="103.9" cy="123.8" r="1"/>
<circle cx="129.6" cy="98.8" r="1"/>
<circle cx="60.9" cy="156.1" r="1"/>
<circle cx="66.4" cy="153.5" r="1"/>
<circle cx="71.1" cy="144.7" r="1"/>
<circle cx="74.2" cy="147.1" r="1"/>
<circle cx="155.7" cy="77" r="1"/>
<circle cx="150.2" cy="79.2" r="1"/>
<circle cx="115.7" cy="101.6" r="1"/>
<circle cx="70.1" cy="145.7" r="1"/>
<circle cx="136.3" cy="95.5" r="1"/>
<circle cx="58" cy="158.7" r="1"/>
<circle cx="107.2" cy="118.2" r="1"/>
<circle cx="81" cy="135.9" r="1"/>
<circle cx="90.3" cy="127.9" r="1"/>
<circle cx="106" cy="120.7" r="1"/>
<circle cx="152.4" cy="79.8" r="1"/>
<circle cx="159.9" cy="72.7" r="1"/>
<circle cx="143.9" cy="87.6" r="1"/>
<circle cx="130.8" cy="96.1" r="1"/>
<circle cx="165.8" cy="67.1" r="1"/>
<circle cx="155.2" cy="71.4" r="1"/>
<circle cx="110.1" cy="117.8" r="1"/>
<circle cx="56.9" cy="156.9" r="1"/>
<circle cx="68.4" cy="151.5" r="1"/>
<circle cx="144.9" cy="89.2" r="1"/>
<circle cx="109.1" cy="117.6" r="1"/>
<circle cx="127.8" cy="98.8" r="1"/>
<circle cx="57.9" cy="156.6" r="1"/>
<circle cx="111.7" cy="109.3" r="1"/>
<circle cx="72" cy="146.6" r="1"/>
<circle cx="56.4" cy="159.1" r="1"/>
<circle cx="89.4" cy="131" r="1"/>
<circle cx="80.7" cy="140" r="1"/>
<circle cx="105.7" cy="117" r="1"/>
<circle cx="156.8" cy="74.8" r="1"/>
<circle cx="173.4" cy="64.7" r="1"/>
<circle cx="107.4" cy="123.7" r="1"/>
<circle cx="61.4" cy="156.7" r="1"/>
<circle cx="160.3" cy="73.7" r="1"/>
<circle cx="124.7" cy="102.9" r="1"/>
<circle cx="114.9" cy="112.2" r="1"/>
<circle cx="93.9" cy="130.1" r="1"/>
<circle cx="177" cy="61.5" r="1"/>
<circle cx="58.1" cy="156.3" r="1"/>
<circle cx="130.4" cy="100.7" r="1"/>
<circle cx="125.1" cy="100.9" r="1"/>
<circle cx="78.9" cy="144.8" r="1"/>
<circle cx="158.6" cy="73.3" r="1"/>
<circle cx="139.2" cy="94.2" r="1"/>
<circle cx="151.8" cy="84.8" r="1"/>
<circle cx="82.2" cy="141.7" r="1"/>
<circle cx="107.2" cy="119.8" r="1"/>
<circle cx="115.3" cy="112.7" r="1"/>
<circle cx="175.9" cy="58.2" r="1"/>
<circle cx="82.8" cy="142.9" r="1"/>
<circle cx="130.1" cy="102.9" r="1"/>
<circle cx="147.4" cy="86.3" r="1"/>
<circle cx="58.5" cy="157" r="1"/>
<circle cx="93.7" cy="130.9" r="1"/>
<circle cx="67.7" cy="152.4" r="1"/>
<circle cx="111.7" cy="119.4" r="1"/>
<circle cx="162.1" cy="72.3" r="1"/>
<circle cx="73.9" cy="146.1" r="1"/>
<circle cx="121.2" cy="105.9" r="1"/>
<circle cx="159.4" cy="72.9" r="1"/>
<circle cx="118.4" cy="117.4" r="1"/>
<circle cx="76.4" cy="142.2" r="1"/>
<circle cx="119.3" cy="106.8" r="1"/>
<circle cx="141.9" cy="85.8" r="1"/>
<circle cx="161" cy="71.3" r="1"/>
<circle cx="107.2" cy="121.3" r="1"/>
<circle cx="75.4" cy="143.1" r="1"/>
<circle cx="147.2" cy="82" r="1"/>
<circle cx="149.2" cy="85" r="1"/>
<circle cx="71.7" cy="150.5" r="1"/>
<circle cx="90" cy="133.4" r="1"/>
<circle cx="85.7" cy="133.9" r="1"/>
<circle cx="113.3" cy="117" r="1"/>
<circle cx="147.6" cy="84.4" r="1"/>
<circle cx="173.7" cy="63.4" r="1"/>
<circle cx="56.7" cy="157.2" r="1"/>
<circle cx="56.9" cy="158.7" r="1"/>
<circle cx="139.4" cy="95.8" r="1"/>
<circle cx="56.4" cy="159.8" r="1"/>
<circle cx="145.9" cy="83.2" r="1"/>
<circle cx="68.3" cy="150.8" r="1"/>
<circle cx="113.8" cy="111.9" r="1"/>
<circle cx="89.5" cy="137.6" r="1"/>
<circle cx="142.1" cy="92.8" r="1"/>
<circle cx="169.2" cy="66.9" r="1"/>
<circle cx="93" cy="133" r="1"/>
<circle cx="63.9" cy="153.1" r="1"/>
<circle cx="126.8" cy="101.7" r="1"/>
<circle cx="63.9" cy="155.1" r="1"/>
<circle cx="124.1" cy="100.4" r="1"/>
<circle cx="98.7" cy="131" r="1"/>
<circle cx="83.4" cy="142.5" r="1"/>
<circle cx="139.5" cy="90.1" r="1"/>
<circle cx="164.4" cy="71" r="1"/>
<circle cx="128.1" cy="97.9" r="1"/>
<circle cx="113.3" cy="109.9" r="1"/>
<circle cx="160.2" cy="76.4" r="1"/>
<circle cx="154.7" cy="75.9" r="1"/>
<circle cx="140.3" cy="86.9" r="1"/>
<circle cx="117.1" cy="111.8" r="1"/>
<circle cx="65.8" cy="153.9" r="1"/>
<circle cx="115.7" cy="119.1" r="1"/>
<circle cx="127.3" cy="99.6" r="1"/>
<circle cx="173.4" cy="58.2" r="1"/>
<circle cx="172.8" cy="67.1" r="1"/>
<circle cx="75.8" cy="146" r="1"/>
<circle cx="160.2" cy="72.3" r="1"/>
<circle cx="58.4" cy="157.4" r="1"/>
<circle cx="102.7" cy="121.7" r="1"/>
<circle cx="56.6" cy="157.5" r="1"/>
<circle cx="57.7" cy="158.2" r="1"/>
<circle cx="138.8" cy="94" r="1"/>
<circle cx="61.4" cy="156" r="1"/>
<circle cx="128.3" cy="96.9" r="1"/>
<circle cx="147.7" cy="87.3" r="1"/>
<circle cx="95.2" cy="134.7" r="1"/>
<circle cx="58.6" cy="157.8" r="1"/>
<circle cx="129.1" cy="95.3" r="1"/>
<circle cx="115.3" cy="119.8" r="1"/>
<circle cx="104" cy="122.3" r="1"/>
<circle cx="74.9" cy="146.6" r="1"/>
<circle cx="66" cy="150.7" r="1"/>
<circle cx="149.6" cy="79.1" r="1"/>
<circle cx="105.8" cy="120.6" r="1"/>
<circle cx="65.5" cy="152.9" r="1"/>
<circle cx="56.6" cy="157" r="1"/>
<circle cx="98.2" cy="132.3" r="1"/>
<circle cx="104.4" cy="116.3" r="1"/>
<circle cx="95" cy="129.3" r="1"/>
<circle cx="101.2" cy="125" r="1"/>
<circle cx="85.7" cy="128.1" r="1"/>
<circle cx="71" cy="150.3" r="1"/>
<circle cx="92.7" cy="127.5" r="1"/>
<circle cx="143.5" cy="85.3" r="1"/>
<circle cx="158.5" cy="77.7" r="1"/>
<circle cx="64.8" cy="153.9" r="1"/>
<circle cx="112.2" cy="112.3" r="1"/>
<circle cx="137.4" cy="94" r="1"/>
<circle cx="56.5" cy="157.9" r="1"/>
<circle cx="75.9" cy="142.8" r="1"/>
<circle cx="79.3" cy="143" r="1"/>
<circle cx="129.5" cy="101" r="1"/>
<circle cx="60.4" cy="157" r="1"/>
<circle cx="100" cy="124.7" r="1"/>
<circle cx="88.3" cy="137.4" r="1"/>
<circle cx="99.9" cy="121.5" r="1"/>
<circle cx="62.6" cy="155.4" r="1"/>
<circle cx="115.2" cy="106" r="1"/>
<circle cx="99.9" cy="121.1" r="1"/>
<circle cx="150.7" cy="85.4" r="1"/>
<circle cx="67.9" cy="151.7" r="1"/>
<circle cx="158.9" cy="80.1" r="1"/>
<circle cx="75.3" cy="147.8" r="1"/>
<circle cx="66.8" cy="148.5" r="1"/>
<circle cx="176.9" cy="59.1" r="1"/>
<circle cx="68.5" cy="151.7" r="1"/>
<circle cx="128.8" cy="100.4" r="1"/>
<circle cx="146.4" cy="84.1" r="1"/>
<circle cx="86.6" cy="135.3" r="1"/>
<circle cx="84.4" cy="139.5" r="1"/>
<circle cx="122.3" cy="103" r="1"/>
<circle cx="121.8" cy="105.8" r="1"/>
<circle cx="160.5" cy="72.4" r="1"/>
<circle cx="96.8" cy="127.6" r="1"/>
<circle cx="133.9" cy="101.8" r="1"/>
<circle cx="64.6" cy="154.3" r="1"/>
<circle cx="57.9" cy="157.4" r="1"/>
<circle cx="98" cy="125.5" r="1"/>
<circle cx="105.2" cy="118.5" r="1"/>
<circle cx="65.7" cy="152.5" r="1"/>
<circle cx="147.8" cy="77" r="1"/>
<circle cx="59" cy="158.2" r="1"/>
<circle cx="167.9" cy="71.4" r="1"/>
<circle cx="76.4" cy="143.2" r="1"/>
<circle cx="92" cy="135.8" r="1"/>
<circle cx="109.8" cy="116.8" r="1"/>
<circle cx="56.3" cy="159.4" r="1"/>
<circle cx="90.4" cy="138" r="1"/>
<circle cx="84.7" cy="136.6" r="1"/>
<circle cx="97.7" cy="124" r="1"/>
<circle cx="56.3" cy="157.9" r="1"/>
<circle cx="151.4" cy="84.8" r="1"/>
<circle cx="113.9" cy="117.6" r="1"/>
<circle cx="96.6" cy="124.1" r="1"/>
<circle cx="173.8" cy="61.9" r="1"/>
<circle cx="160.5" cy="75.7" r="1"/>
<circle cx="131.6" cy="96.7" r="1"/>
<circle cx="84.8" cy="140.9" r="1"/>
<circle cx="154.8" cy="80.2" r="1"/>
<circle cx="135" cy="101" r="1"/>
<circle cx="84.8" cy="137.6" r="1"/>
<circle cx="77.9" cy="144.3" r="1"/>
<circle cx="92.2" cy="127.1" r="1"/>
<circle cx="115.2" cy="111.4" r="1"/>
<circle cx="113.1" cy="112.4" r="1"/>
<circle cx="119.3" cy="98.6" r="1"/>
<circle cx="118.4" cy="113.8" r="1"/>
<circle cx="83" cy="140.7" r="1"/>
<circle cx="177.1" cy="61.7" r="1"/>
<circle cx="134.5" cy="100.1" r="1"/>
<circle cx="173.3" cy="59.8" r="1"/>
<circle cx="130.7" cy="97.9" r="1"/>
<circle cx="69.9" cy="150.4" r="1"/>
<circle cx="65.1" cy="153.6" r="1"/>
<circle cx="81.5" cy="138" r="1"/>
<circle cx="159.4" cy="73.3" r="1"/>
<circle cx="102.7" cy="131.4" r="1"/>
<circle cx="176.2" cy="60.7" r="1"/>
<circle cx="115.1" cy="111.2" r="1"/>
<circle cx="109.3" cy="118.3" r="1"/>
<circle cx="134.1" cy="87.6" r="1"/>
<circle cx="62.6" cy="155" r="1"/>
<circle cx="92.6" cy="128.4" r="1"/>
<circle cx="111.2" cy="110.7" r="1"/>
<circle cx="57.5" cy="157.8" r="1"/>
<circle cx="109.3" cy="118.2" r="1"/>
<circle cx="80.4" cy="142.1" r="1"/>
<circle cx="104.1" cy="115" r="1"/>
<circle cx="72.3" cy="148.2" r="1"/>
<circle cx="56.3" cy="159.2" r="1"/>
<circle cx="57" cy="158.4" r="1"/>
<circle cx="158" cy="71.9" r="1"/>
<circle cx="132.3" cy="88.1" r="1"/>
<circle cx="58.1" cy="158.9" r="1"/>
<circle cx="159.4" cy="77.4" r="1"/>
<circle cx="172" cy="62.9" r="1"/>
<circle cx="68.8" cy="150.6" r="1"/>
<circle cx="92.1" cy="132.6" r="1"/>
<circle cx="173.1" cy="61.8" r="1"/>
<circle cx="60" cy="156" r="1"/>
<circle cx="90.6" cy="132" r="1"/>
<circle cx="99.7" cy="123.4" r="1"/>
<circle cx="60.5" cy="156.2" r="1"/>
<circle cx="70.4" cy="148.2" r="1"/>
<circle cx="107.1" cy="125" r="1"/>
<circle cx="100.1" cy="120.9" r="1"/>
<circle cx="176.7" cy="56.8" r="1"/>
<circle cx="68.4" cy="152.1" r="1"/>
<circle cx="59.9" cy="156.6" r="1"/>
<circle cx="113.2" cy="118.1" r="1"/>
<circle cx="79.7" cy="142.2" r="1"/>
<circle cx="104.7" cy="114.1" r="1"/>
<circle cx="108.4" cy="122.2" r="1"/>
<circle cx="64.7" cy="154.4" r="1"/>
<circle cx="173.3" cy="59" r="1"/>
<circle cx="56.9" cy="159.4" r="1"/>
<circle cx="71.2" cy="151" r="1"/>
<circle cx="101.6" cy="120.5" r="1"/>
<circle cx="58" cy="158.6" r="1"/>
<circle cx="102.8" cy="118.9" r="1"/>
<circle cx="114.1" cy="116" r="1"/>
<circle cx="66.2" cy="151.4" r="1"/>
<circle cx="78.1" cy="143.1" r="1"/>
<circle cx="58.1" cy="158.6" r="1"/>
<circle cx="142.4" cy="93.1" r="1"/>
<circle cx="66.4" cy="152.9" r="1"/>
<circle cx="70" cy="148.9" r="1"/>
<circle cx="117.5" cy="113.6" r="1"/>
<circle cx="175.1" cy="62.6" r="1"/>
<circle cx="131.9" cy="93.4" r="1"/>
<circle cx="162.2" cy="74.5" r="1"/>
<circle cx="59.1" cy="155.8" r="1"/>
<circle cx="58.3" cy="158.5" r="1"/>
<circle cx="94.2" cy="126.7" r="1"/>
<circle cx="122.3" cy="108" r="1"/>
<circle cx="58.2" cy="158.1" r="1"/>
<circle cx="66.4" cy="153.2" r="1"/>
<circle cx="74.2" cy="147.2" r="1"/>
<circle cx="128.5" cy="101.7" r="1"/>
<circle cx="61.6" cy="155.9" r="1"/>
<circle cx="128.7" cy="101.7" r="1"/>
<circle cx="126" cy="101.1" r="1"/>
<circle cx="105.3" cy="111.2" r="1"/>
<circle cx="160.8" cy="76.5" r="1"/>
<circle cx="88.5" cy="133" r="1"/>
<circle cx="75.5" cy="147.4" r="1"/>
<circle cx="84.1" cy="130.7" r="1"/>
<circle cx="69.2" cy="152.2" r="1"/>
<circle cx="80" cy="143.4" r="1"/>
<circle cx="83.6" cy="135.7" r="1"/>
<circle cx="82.7" cy="137.5" r="1"/>
<circle cx="140.4" cy="86.3" r="1"/>
<circle cx="101.4" cy="120.5" r="1"/>
<circle cx="63.7" cy="153.5" r="1"/>
<circle cx="155" cy="78.4" r="1"/>
<circle cx="98.1" cy="125.2" r="1"/>
<circle cx="101.9" cy="133" r="1"/>
<circle cx="117.1" cy="114.7" r="1"/>
<circle cx="141.6" cy="85.5" r="1"/>
<circle cx="138.8" cy="90.1" r="1"/>
<circle cx="58.5" cy="158" r="1"/>
<circle cx="158.2" cy="73.3" r="1"/>
<circle cx="58.5" cy="156.5" r="1"/>
<circle cx="116.8" cy="112.2" r="1"/>
<circle cx="69" cy="149.9" r="1"/>
<circle cx="98.9" cy="118.3" r="1"/>
<circle cx="135" cy="97.8" r="1"/>
<circle cx="171.1" cy="63.5" r="1"/>
<circle cx="120.3" cy="112.7" r="1"/>
<circle cx="127.9" cy="100.9" r="1"/>
<circle cx="125.8" cy="99.2" r="1"/>
<circle cx="145.3" cy="88.1" r="1"/>
<circle cx="119.4" cy="103.5" r="1"/>
<circle cx="146.6" cy="90" r="1"/>
<circle cx="156.3" cy="73.2" r="1"/>
<circle cx="99.2" cy="126.8" r="1"/>
<circle cx="126.1" cy="101.2" r="1"/>
<circle cx="86.4" cy="139.8" r="1"/>
<circle cx="61.8" cy="155.7" r="1"/>
<circle cx="63.1" cy="155.4" r="1"/>
<circle cx="87" cy="138.3" r="1"/>
<circle cx="57.5" cy="157.9" r="1"/>
<circle cx="74.6" cy="142.9" r="1"/>
<circle cx="136.8" cy="90.1" r="1"/>
<circle cx="63.9" cy="153.2" r="1"/>
<circle cx="107.4" cy="116.5" r="1"/>
<circle cx="160.1" cy="72.7" r="1"/>
<circle cx="64.3" cy="154.4" r="1"/>
<circle cx="66.7" cy="152.2" r="1"/>
<circle cx="108.9" cy="110.3" r="1"/>
<circle cx="67.2" cy="151.4" r="1"/>
<circle cx="63.5" cy="154.1" r="1"/>
<circle cx="133.8" cy="97.9" r="1"/>
<circle cx="143.8" cy="83.8" r="1"/>
<circle cx="93.5" cy="130.6" r="1"/>
<circle cx="161" cy="67.6" r="1"/>
<circle cx="77.9" cy="146" r="1"/>
<circle cx="67" cy="153.7" r="1"/>
<circle cx="57.2" cy="159" r="1"/>
<circle cx="82.5" cy="141.3" r="1"/>
<circle cx="99.7" cy="128.2" r="1"/>
<circle cx="175.3" cy="61.4" r="1"/>
<circle cx="118" cy="109.3" r="1"/>
<circle cx="92.7" cy="130.1" r="1"/>
<circle cx="81" cy="138.9" r="1"/>
<circle cx="110.5" cy="122.1" r="1"/>
<circle cx="62.5" cy="155.4" r="1"/>
<circle cx="70.2" cy="148" r="1"/>
<circle cx="152.9" cy="84.3" r="1"/>
<circle cx="175.8" cy="61.1" r="1"/>
<circle cx="70.8" cy="150.4" r="1"/>
<circle cx="135.9" cy="94.8" r="1"/>
<circle cx="56.2" cy="157.7" r="1"/>
<circle cx="58.4" cy="157.9" r="1"/>
<circle cx="127.2" cy="97.9" r="1"/>
<circle cx="92.2" cy="128.3" r="1"/>
<circle cx="168.7" cy="70.8" r="1"/>
<circle cx="74.2" cy="149" r="1"/>
<circle cx="139" cy="98.6" r="1"/>
<circle cx="58.8" cy="158" r="1"/>
<circle cx="145.3" cy="85.3" r="1"/>
<circle cx="99.4" cy="119.8" r="1"/>
<circle cx="62.5" cy="155.4" r="1"/>
<circle cx="74.8" cy="147.7" r="1"/>
<circle cx="58.2" cy="156.8" r="1"/>
<circle cx="79.8" cy="138.1" r="1"/>
<circle cx="122.6" cy="102.2" r="1"/>
<circle cx="91.3" cy="129.2" r="1"/>
<circle cx="170.8" cy="63.4" r="1"/>
<circle cx="56.3" cy="158.9" r="1"/>
<circle cx="126.1" cy="102.1" r="1"/>
<circle cx="90.9" cy="126.7" r="1"/>
<circle cx="56.3" cy="159.8" r="1"/>
<circle cx="65.9" cy="153.3" r="1"/>
<circle cx="111.9" cy="115.5" r="1"/>
<circle cx="101.3" cy="119.4" r="1"/>
<circle cx="73.6" cy="148" r="1"/>
<circle cx="119.4" cy="104.6" r="1"/>
<circle cx="69.9" cy="148.7" r="1"/>
<circle cx="76.7" cy="139.6" r="1"/>
<circle cx="166.7" cy="72.1" r="1"/>
<circle cx="76.9" cy="145.8" r="1"/>
<circle cx="145.4" cy="84.8" r="1"/>
<circle cx="59" cy="156.5" r="1"/>
<circle cx="125.9" cy="101" r="1"/>
<circle cx="147.2" cy="81.9" r="1"/>
<circle cx="108.6" cy="114.7" r="1"/>
<circle cx="62.5" cy="155.5" r="1"/>
<circle cx="60.5" cy="154.9" r="1"/>
<circle cx="87.2" cy="134.4" r="1"/>
<circle cx="97.6" cy="130.9" r="1"/>
<circle cx="144.4" cy="91.7" r="1"/>
<circle cx="82.6" cy="141" r="1"/>
<circle cx="56.3" cy="158.8" r="1"/>
<circle cx="124.5" cy="96.6" r="1"/>
<circle cx="118.5" cy="109.9" r="1"/>
<circle cx="110.8" cy="111.6" r="1"/>
<circle cx="78" cy="142.7" r="1"/>
<circle cx="117" cy="106.9" r="1"/>
<circle cx="97.3" cy="124.2" r="1"/>
<circle cx="138.9" cy="89.6" r="1"/>
<circle cx="62.5" cy="154.1" r="1"/>
<circle cx="158.9" cy="77.4" r="1"/>
<circle cx="96.2" cy="128.9" r="1"/>
<circle cx="61.5" cy="155.4" r="1"/>
<circle cx="127" cy="113.4" r="1"/>
<circle cx="146.9" cy="82.5" r="1"/>
<circle cx="113.5" cy="103.4" r="1"/>
<circle cx="65.3" cy="152.6" r="1"/>
<circle cx="106.3" cy="117.6" r="1"/>
<circle cx="124.1" cy="108.8" r="1"/>
<circle cx="79.9" cy="134.8" r="1"/>
<circle cx="91.5" cy="123.5" r="1"/>
<circle cx="61.1" cy="154.7" r="1"/>
<circle cx="159.1" cy="78.2" r="1"/>
<circle cx="104.1" cy="122.6" r="1"/>
<circle cx="70.6" cy="143.2" r="1"/>
<circle cx="143.8" cy="93.3" r="1"/>
<circle cx="109.8" cy="110.5" r="1"/>
<circle cx="72.8" cy="144.2" r="1"/>
<circle cx="157.9" cy="75.7" r="1"/>
<circle cx="146.1" cy="81.5" r="1"/>
<circle cx="64.4" cy="155.1" r="1"/>
<circle cx="56.7" cy="159.2" r="1"/>
<circle cx="174.7" cy="58.8" r="1"/>
<circle cx="74.5" cy="147.4" r="1"/>
<circle cx="120.1" cy="107.9" r="1"/>
<circle cx="108.5" cy="121.6" r="1"/>
<circle cx="141.5" cy="87.3" r="1"/>
<circle cx="92.1" cy="130.9" r="1"/>
<circle cx="61.6" cy="156.4" r="1"/>
<circle cx="98.7" cy="122" r="1"/>
<circle cx="70.5" cy="151.2" r="1"/>
<circle cx="115.7" cy="112.9" r="1"/>
<circle cx="56.8" cy="156.9" r="1"/>
<circle cx="109.6" cy="118.5" r="1"/>
<circle cx="92.3" cy="136" r="1"/>
<circle cx="122.9" cy="102.2" r="1"/>
<circle cx="133.9" cy="96" r="1"/>
<circle cx="176.1" cy="62.9" r="1"/>
<circle cx="147.4" cy="82.6" r="1"/>
<circle cx="88" cy="137.9" r="1"/>
<circle cx="104.9" cy="116.1" r="1"/>
<circle cx="99.3" cy="128" r="1"/>
<circle cx="87.8" cy="131.8" r="1"/>
<circle cx="57.4" cy="157.3" r="1"/>
<circle cx="158.4" cy="75.8" r="1"/>
<circle cx="132.8" cy="102" r="1"/>
<circle cx="74.3" cy="147" r="1"/>
<circle cx="60.5" cy="156.2" r="1"/>
<circle cx="96.4" cy="128.6" r="1"/>
<circle cx="123.8" cy="103.7" r="1"/>
<circle cx="99.5" cy="124.7" r="1"/>
<circle cx="83.6" cy="135.2" r="1"/>
<circle cx="68.2" cy="147.2" r="1"/>
<circle cx="170.7" cy="62.9" r="1"/>
<circle cx="119.3" cy="105.3" r="1"/>
<circle cx="141.7" cy="92.1" r="1"/>
<circle cx="67.1" cy="152.3" r="1"/>
<circle cx="159" cy="78.5" r="1"/>
<circle cx="59.2" cy="156.7" r="1"/>
<circle cx="167.8" cy="68.7" r="1"/>
<circle cx="56.2" cy="159.1" r="1"/>
<circle cx="57.6" cy="156.6" r="1"/>
<circle cx="143.5" cy="90.5" r="1"/>
<circle cx="107.6" cy="115.7" r="1"/>
<circle cx="57.1" cy="158.8" r="1"/>
<circle cx="74.6" cy="144.8" r="1"/>
<circle cx="95.9" cy="119.4" r="1"/>
<circle cx="65.9" cy="153.5" r="1"/>
<circle cx="162.5" cy="70.5" r="1"/>
<circle cx="147.4" cy="86" r="1"/>
<circle cx="79.2" cy="144" r="1"/>
<circle cx="154.7" cy="78.2" r="1"/>
<circle cx="176.3" cy="59.5" r="1"/>
<circle cx="64.8" cy="151.9" r="1"/>
<circle cx="154.8" cy="77.1" r="1"/>
<circle cx="128.6" cy="99.9" r="1"/>
<circle cx="75.1" cy="141" r="1"/>
<circle cx="126.6" cy="106.9" r="1"/>
<circle cx="61.1" cy="155.9" r="1"/>
<circle cx="58.3" cy="158.2" r="1"/>
<circle cx="74.5" cy="146.4" r="1"/>
<circle cx="64" cy="154.8" r="1"/>
<circle cx="119.1" cy="107.4" r="1"/>
<circle cx="118.7" cy="112.8" r="1"/>
<circle cx="155.6" cy="79.6" r="1"/>
<circle cx="73.9" cy="147.5" r="1"/>
<circle cx="163.3" cy="72.3" r="1"/>
<circle cx="115.4" cy="114.5" r="1"/>
<circle cx="58.8" cy="158.1" r="1"/>
<circle cx="99.8" cy="125.2" r="1"/>
<circle cx="100.1" cy="118.9" r="1"/>
<circle cx="72.4" cy="146.8" r="1"/>
<circle cx="69.4" cy="149.9" r="1"/>
<circle cx="72.4" cy="148.7" r="1"/>
<circle cx="133.5" cy="96.3" r="1"/>
<circle cx="102.4" cy="119" r="1"/>
<circle cx="64.4" cy="150.6" r="1"/>
<circle cx="56.7" cy="158.4" r="1"/>
<circle cx="132.6" cy="103.7" r="1"/>
<circle cx="96.1" cy="121.3" r="1"/>
<circle cx="64" cy="154.5" r="1"/>
<circle cx="118.2" cy="111.4" r="1"/>
<circle cx="138" cy="96.8" r="1"/>
<circle cx="148.7" cy="84" r="1"/>
<circle cx="122.1" cy="116.3" r="1"/>
<circle cx="63.6" cy="155.6" r="1"/>
<circle cx="137.4" cy="90.5" r="1"/>
<circle cx="68.1" cy="148.9" r="1"/>
<circle cx="88.8" cy="132.9" r="1"/>
<circle cx="139.3" cy="97.6" r="1"/>
<circle cx="68.2" cy="152.7" r="1"/>
<circle cx="106.8" cy="118.6" r="1"/>
<circle cx="96" cy="122.3" r="1"/>
<circle cx="126.9" cy="100.7" r="1"/>
<circle cx="105.8" cy="117.8" r="1"/>
<circle cx="62.1" cy="156.5" r="1"/>
<circle cx="95.6" cy="132.4" r="1"/>
<circle cx="70.5" cy="148.4" r="1"/>
<circle cx="140.6" cy="83.5" r="1"/>
<circle cx="105.3" cy="116" r="1"/>
<circle cx="101.8" cy="122.2" r="1"/>
<circle cx="61.8" cy="155.9" r="1"/>
<circle cx="57" cy="158.1" r="1"/>
<circle cx="70.6" cy="146.3" r="1"/>
<circle cx="108" cy="111.1" r="1"/>
<circle cx="63.4" cy="153.8" r="1"/>
<circle cx="69.8" cy="148.1" r="1"/>
<circle cx="146.1" cy="81.5" r="1"/>
<circle cx="138.6" cy="88.6" r="1"/>
<circle cx="80.3" cy="139.8" r="1"/>
<circle cx="66.6" cy="152" r="1"/>
<circle cx="94.8" cy="129.1" r="1"/>
<circle cx="134.4" cy="93.5" r="1"/>
<circle cx="90.5" cy="132.7" r="1"/>
<circle cx="131.7" cy="95.1" r="1"/>
<circle cx="156.6" cy="76.4" r="1"/>
<circle cx="61.5" cy="155.7" r="1"/>
<circle cx="58.2" cy="158.8" r="1"/>
<circle cx="176.4" cy="60" r="1"/>
<circle cx="67.7" cy="152.6" r="1"/>
<circle cx="102.9" cy="121.8" r="1"/>
<circle cx="164.4" cy="67.6" r="1"/>
<circle cx="80.2" cy="146" r="1"/>
<circle cx="111.2" cy="105.4" r="1"/>
<circle cx="84.5" cy="138.3" r="1"/>
<circle cx="78" cy="143.8" r="1"/>
<circle cx="123.7" cy="100.9" r="1"/>
<circle cx="155.9" cy="80.4" r="1"/>
<circle cx="91.4" cy="138.1" r="1"/>
<circle cx="82" cy="135.4" r="1"/>
<circle cx="137.7" cy="92.1" r="1"/>
<circle cx="64.2" cy="153.1" r="1"/>
<circle cx="102.6" cy="120.8" r="1"/>
<circle cx="66.5" cy="151.6" r="1"/>
<circle cx="92.1" cy="132.9" r="1"/>
<circle cx="175.9" cy="58.6" r="1"/>
<circle cx="121.3" cy="104.7" r="1"/>
<circle cx="82.2" cy="141.3" r="1"/>
<circle cx="58" cy="158.2" r="1"/>
<circle cx="56.4" cy="159.4" r="1"/>
<circle cx="70.4" cy="149.7" r="1"/>
<circle cx="71" cy="145.6" r="1"/>
<circle cx="79.9" cy="137" r="1"/>
<circle cx="79.8" cy="135.2" r="1"/>
<circle cx="135.1" cy="96.3" r="1"/>
<circle cx="56.4" cy="158.9" r="1"/>
<circle cx="82.4" cy="133" r="1"/>
<circle cx="76.2" cy="141.5" r="1"/>
<circle cx="135.9" cy="95.5" r="1"/>
<circle cx="83.4" cy="138.6" r="1"/>
<circle cx="68.4" cy="150" r="1"/>
<circle cx="109" cy="116.4" r="1"/>
<circle cx="56.7" cy="158.2" r="1"/>
<circle cx="61.2" cy="155.9" r="1"/>
<circle cx="125.6" cy="103.4" r="1"/>
<circle cx="119.4" cy="101.4" r="1"/>
<circle cx="61.8" cy="156.3" r="1"/>
<circle cx="126.6" cy="99" r="1"/>
<circle cx="84.7" cy="143.1" r="1"/>
<circle cx="67.4" cy="149.4" r="1"/>
<circle cx="73.1" cy="148.1" r="1"/>
<circle cx="56.9" cy="159.5" r="1"/>
<circle cx="114" cy="119.8" r="1"/>
<circle cx="172.5" cy="65.2" r="1"/>
<circle cx="73.6" cy="149.5" r="1"/>
<circle cx="66.6" cy="152" r="1"/>
<circle cx="119.4" cy="100" r="1"/>
<circle cx="68.1" cy="152.5" r="1"/>
<circle cx="114.3" cy="108.7" r="1"/>
<circle cx="83.3" cy="136.5" r="1"/>
<circle cx="57.5" cy="157.8" r="1"/>
<circle cx="72" cy="146.6" r="1"/>
<circle cx="62.5" cy="155.8" r="1"/>
<circle cx="119.2" cy="105.6" r="1"/>
<circle cx="68.5" cy="149.4" r="1"/>
<circle cx="86.7" cy="133.7" r="1"/>
<circle cx="62.1" cy="155" r="1"/>
<circle cx="124.6" cy="107" r="1"/>
<circle cx="56.5" cy="159.7" r="1"/>
<circle cx="84.6" cy="135.2" r="1"/>
<circle cx="57.3" cy="158" r="1"/>
<circle cx="76.3" cy="144.4" r="1"/>
<circle cx="69.6" cy="148" r="1"/>
<circle cx="156.9" cy="76.3" r="1"/>
<circle cx="104.8" cy="120.9" r="1"/>
<circle cx="64.4" cy="152" r="1"/>
<circle cx="92.2" cy="139" r="1"/>
<circle cx="80.1" cy="144.5" r="1"/>
<circle cx="166.2" cy="68.4" r="1"/>
<circle cx="112.6" cy="119.8" r="1"/>
<circle cx="85.4" cy="139.5" r="1"/>
<circle cx="145.9" cy="84.6" r="1"/>
<circle cx="154.7" cy="83.3" r="1"/>
<circle cx="56.8" cy="159.5" r="1"/>
<circle cx="61.2" cy="156.1" r="1"/>
<circle cx="172.7" cy="63.4" r="1"/>
<circle cx="62" cy="156.1" r="1"/>
<circle cx="121.5" cy="103.6" r="1"/>
<circle cx="68.1" cy="148.8" r="1"/>
<circle cx="83.4" cy="138.4" r="1"/>
<circle cx="68.5" cy="151.3" r="1"/>
<circle cx="113.1" cy="113.2" r="1"/>
<circle cx="104.1" cy="115.6" r="1"/>
<circle cx="77.1" cy="146.9" r="1"/>
<circle cx="155.9" cy="79.3" r="1"/>
<circle cx="123.8" cy="98.4" r="1"/>
<circle cx="122.5" cy="97.9" r="1"/>
<circle cx="62.6" cy="154.5" r="1"/>
<circle cx="94.9" cy="132.6" r="1"/>
<circle cx="72.5" cy="148.6" r="1"/>
<circle cx="132.4" cy="100.1" r="1"/>
<circle cx="69.3" cy="150.7" r="1"/>
<circle cx="76.2" cy="143" r="1"/>
<circle cx="60.6" cy="156.3" r="1"/>
<circle cx="57.7" cy="157.2" r="1"/>
<circle cx="59.9" cy="156.6" r="1"/>
<circle cx="136.2" cy="96.3" r="1"/>
<circle cx="152.3" cy="80.3" r="1"/>
<circle cx="153" cy="77.8" r="1"/>
<circle cx="97.1" cy="125.9" r="1"/>
<circle cx="140.2" cy="95" r="1"/>
<circle cx="69.5" cy="148" r="1"/>
<circle cx="127" cy="103.5" r="1"/>
<circle cx="134.1" cy="92.9" r="1"/>
<circle cx="148.2" cy="82" r="1"/>
<circle cx="86.5" cy="140.4" r="1"/>
<circle cx="125.6" cy="108.5" r="1"/>
<circle cx="141.1" cy="94.6" r="1"/>
<circle cx="60.5" cy="156.8" r="1"/>
<circle cx="64.3" cy="152.8" r="1"/>
<circle cx="56.3" cy="157.2" r="1"/>
<circle cx="61" cy="155.2" r="1"/>
<circle cx="86.3" cy="138.7" r="1"/>
<circle cx="164.5" cy="72.2" r="1"/>
<circle cx="175" cy="58.2" r="1"/>
<circle cx="60.2" cy="157.4" r="1"/>
<circle cx="57" cy="156.7" r="1"/>
<circle cx="60.3" cy="156" r="1"/>
<circle cx="76.7" cy="140.5" r="1"/>
<circle cx="94" cy="128.7" r="1"/>
<circle cx="81.2" cy="142.5" r="1"/>
<circle cx="147.5" cy="79.2" r="1"/>
<circle cx="72.3" cy="150.5" r="1"/>
<circle cx="135.1" cy="91.8" r="1"/>
<circle cx="173.5" cy="65.3" r="1"/>
<circle cx="102.1" cy="118.5" r="1"/>
<circle cx="140.9" cy="88.8" r="1"/>
<circle cx="59.6" cy="157.9" r="1"/>
<circle cx="164.6" cy="70.3" r="1"/>
<circle cx="60.3" cy="156.5" r="1"/>
<circle cx="76.1" cy="140.9" r="1"/>
<circle cx="61.6" cy="156.6" r="1"/>
<circle cx="113.3" cy="113.8" r="1"/>
<circle cx="93.9" cy="126.7" r="1"/>
<circle cx="80.4" cy="141.1" r="1"/>
<circle cx="57.7" cy="156.6" r="1"/>
<circle cx="74.7" cy="144.3" r="1"/>
<circle cx="94" cy="128.3" r="1"/>
<circle cx="176.6" cy="58.9" r="1"/>
<circle cx="94.1" cy="121.3" r="1"/>
<circle cx="85.8" cy="135.1" r="1"/>
<circle cx="57.5" cy="157.7" r="1"/>
<circle cx="117.9" cy="111.9" r="1"/>
<circle cx="165.6" cy="70.8" r="1"/>
<circle cx="152" cy="77.5" r="1"/>
<circle cx="146.6" cy="85.4" r="1"/>
<circle cx="128.5" cy="100.1" r="1"/>
<circle cx="63.2" cy="155.1" r="1"/>
<circle cx="60.2" cy="157" r="1"/>
<circle cx="133.1" cy="95" r="1"/>
<circle cx="74.8" cy="146.1" r="1"/>
<circle cx="66.2" cy="153" r="1"/>
<circle cx="169.4" cy="63.3" r="1"/>
<circle cx="142.6" cy="88.4" r="1"/>
<circle cx="139.5" cy="91.6" r="1"/>
<circle cx="141.4" cy="93.2" r="1"/>
<circle cx="145.6" cy="85.1" r="1"/>
<circle cx="59.3" cy="155.5" r="1"/>
<circle cx="84.4" cy="138.4" r="1"/>
<circle cx="160.2" cy="75.9" r="1"/>
<circle cx="56.5" cy="158.7" r="1"/>
<circle cx="80.8" cy="141.8" r="1"/>
<circle cx="118" cy="107.9" r="1"/>
<circle cx="115.1" cy="115.6" r="1"/>
<circle cx="79.2" cy="143.3" r="1"/>
<circle cx="75.9" cy="138.7" r="1"/>
<circle cx="59" cy="157.8" r="1"/>
<circle cx="131.4" cy="92.6" r="1"/>
<circle cx="102.2" cy="123.8" r="1"/>
<circle cx="59.5" cy="157.7" r="1"/>
<circle cx="78.8" cy="142.7" r="1"/>
<circle cx="96.4" cy="127.3" r="1"/>
<circle cx="84.5" cy="139.6" r="1"/>
<circle cx="168.1" cy="64.6" r="1"/>
<circle cx="65.8" cy="152.2" r="1"/>
<circle cx="133.2" cy="98.9" r="1"/>
<circle cx="59.6" cy="157.2" r="1"/>
<circle cx="170" cy="65.8" r="1"/>
<circle cx="66.9" cy="153.3" r="1"/>
<circle cx="71.4" cy="146.6" r="1"/>
<circle cx="121" cy="103.3" r="1"/>
<circle cx="64.2" cy="155.1" r="1"/>
<circle cx="79.5" cy="139.9" r="1"/>
<circle cx="114.7" cy="112.4" r="1"/>
<circle cx="81.7" cy="141.4" r="1"/>
<circle cx="112" cy="116.8" r="1"/>
<circle cx="156.2" cy="74.8" r="1"/>
<circle cx="96.7" cy="132" r="1"/>
<circle cx="105.1" cy="114.1" r="1"/>
<circle cx="123" cy="99.9" r="1"/>
<circle cx="90.3" cy="134.9" r="1"/>
<circle cx="82.4" cy="142.5" r="1"/>
<circle cx="67.7" cy="151.8" r="1"/>
<circle cx="56.7" cy="157.9" r="1"/>
<circle cx="89.5" cy="138.1" r="1"/>
<circle cx="164.2" cy="72.4" r="1"/>
<circle cx="62.1" cy="154.5" r="1"/>
<circle cx="75.1" cy="143.8" r="1"/>
<circle cx="130.4" cy="95" r="1"/>
<circle cx="152.6" cy="80.5" r="1"/>
<circle cx="60.6" cy="156.2" r="1"/>
<circle cx="68" cy="151.5" r="1"/>
<circle cx="147.8" cy="88.9" r="1"/>
<circle cx="145.9" cy="92.2" r="1"/>
<circle cx="140.5" cy="101.6" r="1"/>
<circle cx="57.7" cy="156.6" r="1"/>
<circle cx="126.4" cy="102.4" r="1"/>
<circle cx="90.4" cy="124.9" r="1"/>
<circle cx="100.8" cy="121.9" r="1"/>
<circle cx="71.9" cy="149.3" r="1"/>
<circle cx="116" cy="106.2" r="1"/>
<circle cx="138.7" cy="90" r="1"/>
<circle cx="94.9" cy="128.4" r="1"/>
<circle cx="150.4" cy="76.6" r="1"/>
<circle cx="136" cy="101.9" r="1"/>
<circle cx="140.3" cy="93" r="1"/>
<circle cx="62.1" cy="156.5" r="1"/>
<circle cx="78.3" cy="141.7" r="1"/>
<circle cx="152.1" cy="80" r="1"/>
<circle cx="64.1" cy="155.4" r="1"/>
<circle cx="82.9" cy="136" r="1"/>
<circle cx="158.7" cy="78.3" r="1"/>
<circle cx="58" cy="157.2" r="1"/>
<circle cx="154.2" cy="79.1" r="1"/>
<circle cx="128.9" cy="98.3" r="1"/>
<circle cx="87.6" cy="129.2" r="1"/>
<circle cx="56.3" cy="158.1" r="1"/>
<circle cx="71.8" cy="146.4" r="1"/>
<circle cx="110.1" cy="117" r="1"/>
<circle cx="60.7" cy="155.4" r="1"/>
<circle cx="91.9" cy="129.9" r="1"/>
<circle cx="166" cy="68.2" r="1"/>
<circle cx="111.1" cy="117" r="1"/>
<circle cx="176.2" cy="59.4" r="1"/>
<circle cx="123.3" cy="105.3" r="1"/>
<circle cx="74.8" cy="148.3" r="1"/>
<circle cx="85" cy="133.8" r="1"/>
<circle cx="86.9" cy="131" r="1"/>
<circle cx="144.3" cy="90.4" r="1"/>
<circle cx="96.9" cy="124.5" r="1"/>
<circle cx="166.1" cy="71.2" r="1"/>
<circle cx="68.1" cy="148.7" r="1"/>
<circle cx="106.7" cy="120.8" r="1"/>
<circle cx="72.6" cy="142.6" r="1"/>
<circle cx="150.3" cy="83.8" r="1"/>
<circle cx="164.6" cy="72.7" r="1"/>
<circle cx="82.7" cy="139.2" r="1"/>
<circle cx="89.7" cy="138.9" r="1"/>
<circle cx="57.7" cy="157.9" r="1"/>
<circle cx="168.5" cy="66" r="1"/>
<circle cx="73.2" cy="148.4" r="1"/>
<circle cx="68.9" cy="151.4" r="1"/>
<circle cx="60.9" cy="156.6" r="1"/>
<circle cx="86.5" cy="137.7" r="1"/>
<circle cx="77.9" cy="140.6" r="1"/>
<circle cx="108.3" cy="125" r="1"/>
<circle cx="102.1" cy="115.4" r="1"/>
<circle cx="58.7" cy="158" r="1"/>
<circle cx="80.2" cy="144.9" r="1"/>
<circle cx="119.8" cy="103" r="1"/>
<circle cx="78.1" cy="136.9" r="1"/>
<circle cx="56.5" cy="158" r="1"/>
<circle cx="92.2" cy="134.1" r="1"/>
<circle cx="75.3" cy="142.9" r="1"/>
<circle cx="120.1" cy="116.6" r="1"/>
<circle cx="172.6" cy="67.1" r="1"/>
<circle cx="175.7" cy="64" r="1"/>
<circle cx="116.9" cy="105.4" r="1"/>
<circle cx="124.7" cy="102.2" r="1"/>
<circle cx="91.4" cy="131.8" r="1"/>
<circle cx="84.3" cy="139.2" r="1"/>
<circle cx="175.2" cy="62.5" r="1"/>
<circle cx="66.1" cy="153.7" r="1"/>
<circle cx="83.5" cy="136.9" r="1"/>
<circle cx="131.2" cy="96.3" r="1"/>
<circle cx="116.8" cy="109.1" r="1"/>
<circle cx="112.9" cy="113.8" r="1"/>
<circle cx="142.8" cy="91.2" r="1"/>
<circle cx="129.4" cy="99.4" r="1"/>
<circle cx="92.2" cy="133.2" r="1"/>
<circle cx="56.4" cy="157.4" r="1"/>
<circle cx="56.5" cy="158.8" r="1"/>
<circle cx="100.8" cy="125.9" r="1"/>
<circle cx="139" cy="92.1" r="1"/>
<circle cx="74" cy="147.8" r="1"/>
<circle cx="105.1" cy="120.3" r="1"/>
<circle cx="60.8" cy="156.2" r="1"/>
<circle cx="73.3" cy="145.4" r="1"/>
<circle cx="137.1" cy="93.3" r="1"/>
<circle cx="57.3" cy="158.7" r="1"/>
<circle cx="90.1" cy="137.2" r="1"/>
<circle cx="149.6" cy="84.1" r="1"/>
<circle cx="59.4" cy="155.4" r="1"/>
<circle cx="99.3" cy="127.1" r="1"/>
<circle cx="84.8" cy="143" r="1"/>
<circle cx="170.2" cy="68.5" r="1"/>
<circle cx="85.6" cy="134.4" r="1"/>
<circle cx="144" cy="87.4" r="1"/>
<circle cx="130" cy="99.8" r="1"/>
<circle cx="100.1" cy="126.8" r="1"/>
<circle cx="56.6" cy="157" r="1"/>
<circle cx="115.9" cy="108.9" r="1"/>
<circle cx="149.1" cy="80.1" r="1"/>
<circle cx="58.3" cy="158.1" r="1"/>
<circle cx="59.8" cy="157.4" r="1"/>
<circle cx="94.7" cy="130.8" r="1"/>
<circle cx="117.5" cy="102" r="1"/>
<circle cx="105.1" cy="126.9" r="1"/>
<circle cx="96.2" cy="124.2" r="1"/>
<circle cx="73.8" cy="148.1" r="1"/>
<circle cx="130.8" cy="98.8" r="1"/>
<circle cx="87.5" cy="131.2" r="1"/>
<circle cx="93.2" cy="133.1" r="1"/>
<circle cx="90" cy="129.4" r="1"/>
<circle cx="57.2" cy="157.9" r="1"/>
<circle cx="102.3" cy="123.9" r="1"/>
<circle cx="84.1" cy="137.6" r="1"/>
<circle cx="81" cy="138.9" r="1"/>
<circle cx="75.2" cy="147.4" r="1"/>
<circle cx="132.5" cy="97" r="1"/>
<circle cx="94.5" cy="124.8" r="1"/>
<circle cx="170.7" cy="64.9" r="1"/>
<circle cx="56.2" cy="158.9" r="1"/>
<circle cx="109.3" cy="122.7" r="1"/>
<circle cx="80.7" cy="142.2" r="1"/>
<circle cx="108.1" cy="112.1" r="1"/>
<circle cx="75.3" cy="148.7" r="1"/>
<circle cx="133.2" cy="96.6" r="1"/>
<circle cx="57.3" cy="158.6" r="1"/>
<circle cx="140.1" cy="89.3" r="1"/>
<circle cx="87" cy="132.8" r="1"/>
<circle cx="72.5" cy="149.6" r="1"/>
<circle cx="121.4" cy="97.4" r="1"/>
<circle cx="76.5" cy="139.9" r="1"/>
<circle cx="75.5" cy="143" r="1"/>
<circle cx="115.8" cy="118.1" r="1"/>
<circle cx="57.4" cy="157.5" r="1"/>
<circle cx="103" cy="123.4" r="1"/>
<circle cx="163.4" cy="71.6" r="1"/>
<circle cx="164.7" cy="70.5" r="1"/>
<circle cx="133" cy="97.1" r="1"/>
<circle cx="130.4" cy="99.1" r="1"/>
<circle cx="86.2" cy="141" r="1"/>
<circle cx="161.5" cy="79.8" r="1"/>
<circle cx="58.1" cy="156.8" r="1"/>
<circle cx="81.7" cy="143.6" r="1"/>
<circle cx="89.6" cy="135.2" r="1"/>
<circle cx="75.7" cy="144.4" r="1"/>
<circle cx="130.1" cy="97.5" r="1"/>
<circle cx="146.7" cy="84.6" r="1"/>
<circle cx="119.4" cy="110.2" r="1"/>
<circle cx="60.2" cy="156.8" r="1"/>
<circle cx="168.4" cy="72.1" r="1"/>
<circle cx="66.2" cy="153" r="1"/>
<circle cx="100.8" cy="122.6" r="1"/>
<circle cx="153.7" cy="80.7" r="1"/>
<circle cx="92.6" cy="126.3" r="1"/>
<circle cx="81.7" cy="139.2" r="1"/>
<circle cx="120.6" cy="102.7" r="1"/>
<circle cx="122.9" cy="107.4" r="1"/>
<circle cx="82.8" cy="138.7" r="1"/>
<circle cx="131.3" cy="100" r="1"/>
<circle cx="63.1" cy="155" r="1"/>
<circle cx="62.9" cy="155.1" r="1"/>
<circle cx="108.4" cy="121.6" r="1"/>
<circle cx="106" cy="120" r="1"/>
<circle cx="148.1" cy="86.7" r="1"/>
<circle cx="93.6" cy="125.5" r="1"/>
<circle cx="173.4" cy="64.4" r="1"/>
<circle cx="68" cy="148.7" r="1"/>
<circle cx="70.3" cy="149.8" r="1"/>
<circle cx="70" cy="151.8" r="1"/>
<circle cx="145.1" cy="90.4" r="1"/>
<circle cx="87.9" cy="130.2" r="1"/>
<circle cx="112.2" cy="125.1" r="1"/>
<circle cx="160.2" cy="76.7" r="1"/>
<circle cx="90.6" cy="135.5" r="1"/>
<circle cx="133.1" cy="96.5" r="1"/>
<circle cx="59.3" cy="158.1" r="1"/>
<circle cx="124.3" cy="96.5" r="1"/>
<circle cx="105.1" cy="123.8" r="1"/>
<circle cx="62.1" cy="153.9" r="1"/>
<circle cx="135" cy="94.5" r="1"/>
<circle cx="138.2" cy="94" r="1"/>
<circle cx="66.8" cy="151.7" r="1"/>
<circle cx="111" cy="110.2" r="1"/>
<circle cx="60.3" cy="155.1" r="1"/>
<circle cx="162.8" cy="75.2" r="1"/>
<circle cx="122.9" cy="112.1" r="1"/>
<circle cx="127.5" cy="94" r="1"/>
<circle cx="73" cy="144.7" r="1"/>
<circle cx="70.6" cy="150.9" r="1"/>
<circle cx="56.4" cy="159" r="1"/>
<circle cx="69.6" cy="150.5" r="1"/>
<circle cx="60.9" cy="156.5" r="1"/>
<circle cx="71.8" cy="148.1" r="1"/>
<circle cx="97.3" cy="125" r="1"/>
<circle cx="151.2" cy="82.8" r="1"/>
<circle cx="150.3" cy="85.2" r="1"/>
<circle cx="129.9" cy="102.5" r="1"/>
<circle cx="100.6" cy="129.1" r="1"/>
<circle cx="136.7" cy="100.6" r="1"/>
<circle cx="70.2" cy="144.6" r="1"/>
<circle cx="80.1" cy="138.7" r="1"/>
<circle cx="138.7" cy="91.6" r="1"/>
<circle cx="80.9" cy="136.9" r="1"/>
<circle cx="129.2" cy="95.6" r="1"/>
<circle cx="104.9" cy="122.2" r="1"/>
<circle cx="78.6" cy="141.6" r="1"/>
<circle cx="59.7" cy="155.6" r="1"/>
<circle cx="165.9" cy="69.7" r="1"/>
<circle cx="158.7" cy="76" r="1"/>
<circle cx="59.3" cy="155.4" r="1"/>
<circle cx="74.7" cy="146.3" r="1"/>
<circle cx="153.4" cy="75.5" r="1"/>
<circle cx="57.8" cy="159" r="1"/>
<circle cx="105.5" cy="113.4" r="1"/>
<circle cx="150.4" cy="82.7" r="1"/>
<circle cx="138.3" cy="93.8" r="1"/>
<circle cx="99.6" cy="125.1" r="1"/>
<circle cx="64.3" cy="153.9" r="1"/>
<circle cx="65.2" cy="154" r="1"/>
<circle cx="125.4" cy="107.3" r="1"/>
<circle cx="58.3" cy="157.4" r="1"/>
<circle cx="103.7" cy="116" r="1"/>
<circle cx="61.1" cy="156.3" r="1"/>
<circle cx="77.3" cy="145.7" r="1"/>
<circle cx="172.6" cy="68.6" r="1"/>
<circle cx="167.6" cy="63.4" r="1"/>
<circle cx="164.8" cy="72.3" r="1"/>
<circle cx="56.4" cy="157.9" r="1"/>
<circle cx="111.4" cy="114.5" r="1"/>
<circle cx="111.5" cy="113.2" r="1"/>
<circle cx="98.6" cy="126.4" r="1"/>
<circle cx="169.4" cy="65" r="1"/>
<circle cx="152.8" cy="79.8" r="1"/>
<circle cx="169" cy="65.9" r="1"/>
<circle cx="145.9" cy="85.8" r="1"/>
<circle cx="122.8" cy="110.9" r="1"/>
<circle cx="133.7" cy="96.8" r="1"/>
<circle cx="142.2" cy="87.8" r="1"/>
<circle cx="139.9" cy="91" r="1"/>
<circle cx="172.4" cy="62.5" r="1"/>
<circle cx="77.3" cy="146.3" r="1"/>
<circle cx="78.4" cy="137.4" r="1"/>
<circle cx="70.4" cy="149" r="1"/>
<circle cx="107.6" cy="121.9" r="1"/>
<circle cx="120.7" cy="107.8" r="1"/>
<circle cx="90.5" cy="131.6" r="1"/>
<circle cx="63.7" cy="151.8" r="1"/>
<circle cx="62" cy="156.5" r="1"/>
<circle cx="138.1" cy="88.4" r="1"/>
<circle cx="77" cy="143.5" r="1"/>
<circle cx="70.2" cy="146.3" r="1"/>
<circle cx="99" cy="125.6" r="1"/>
<circle cx="64.3" cy="151.2" r="1"/>
<circle cx="67.9" cy="152.1" r="1"/>
<circle cx="128.7" cy="97" r="1"/>
<circle cx="120.6" cy="105.9" r="1"/>
<circle cx="58.3" cy="156.6" r="1"/>
<circle cx="68.9" cy="150.2" r="1"/>
<circle cx="175.2" cy="59.1" r="1"/>
<circle cx="80.9" cy="145.2" r="1"/>
<circle cx="175.3" cy="57.5" r="1"/>
<circle cx="82.7" cy="134.9" r="1"/>
<circle cx="137.9" cy="87.9" r="1"/>
<circle cx="77.5" cy="142.7" r="1"/>
<circle cx="72.6" cy="149.9" r="1"/>
<circle cx="108.7" cy="117.5" r="1"/>
<circle cx="144" cy="91.4" r="1"/>
<circle cx="56.3" cy="159.7" r="1"/>
<circle cx="161.1" cy="73.2" r="1"/>
<circle cx="61.6" cy="156" r="1"/>
<circle cx="169.6" cy="61.3" r="1"/>
<circle cx="164.2" cy="73.8" r="1"/>
<circle cx="61.5" cy="154.3" r="1"/>
<circle cx="126.8" cy="99.5" r="1"/>
<circle cx="61.1" cy="155.2" r="1"/>
<circle cx="155.2" cy="79.1" r="1"/>
<circle cx="90.4" cy="139.1" r="1"/>
<circle cx="60.3" cy="157.4" r="1"/>
<circle cx="64.3" cy="150.7" r="1"/>
<circle cx="78.5" cy="140.1" r="1"/>
<circle cx="64.2" cy="154.2" r="1"/>
<circle cx="60.4" cy="155.9" r="1"/>
<circle cx="134.6" cy="96.3" r="1"/>
<circle cx="99.6" cy="123.2" r="1"/>
<circle cx="67.2" cy="152.4" r="1"/>
<circle cx="58.2" cy="156.2" r="1"/>
<circle cx="96.6" cy="120.7" r="1"/>
<circle cx="62.7" cy="155.4" r="1"/>
<circle cx="139.6" cy="87.2" r="1"/>
<circle cx="171.9" cy="67" r="1"/>
<circle cx="148.8" cy="82.4" r="1"/>
<circle cx="91.7" cy="127.7" r="1"/>
<circle cx="172.9" cy="58.2" r="1"/>
<circle cx="56.5" cy="159.7" r="1"/>
<circle cx="62.8" cy="155.7" r="1"/>
<circle cx="130.3" cy="98.8" r="1"/>
<circle cx="66.9" cy="152" r="1"/>
<circle cx="140.7" cy="95.4" r="1"/>
<circle cx="91.7" cy="131.4" r="1"/>
<circle cx="64.2" cy="153.3" r="1"/>
<circle cx="56.9" cy="158.8" r="1"/>
<circle cx="112.3" cy="117.4" r="1"/>
<circle cx="113.1" cy="110" r="1"/>
<circle cx="75.5" cy="148.8" r="1"/>
<circle cx="106.9" cy="111.8" r="1"/>
<circle cx="86" cy="140.5" r="1"/>
<circle cx="77" cy="144.7" r="1"/>
<circle cx="160.9" cy="72.7" r="1"/>
<circle cx="150" cy="75.2" r="1"/>
<circle cx="155.1" cy="76.3" r="1"/>
<circle cx="174.2" cy="59.9" r="1"/>
<circle cx="72.8" cy="145.5" r="1"/>
<circle cx="68.1" cy="148.5" r="1"/>
<circle cx="107.3" cy="112.7" r="1"/>
<circle cx="72.3" cy="142.8" r="1"/>
<circle cx="59.1" cy="156.7" r="1"/>
<circle cx="95.7" cy="131.7" r="1"/>
<circle cx="162.5" cy="74.5" r="1"/>
<circle cx="56.2" cy="158.6" r="1"/>
<circle cx="71" cy="150.1" r="1"/>
<circle cx="58.8" cy="157.1" r="1"/>
<circle cx="93.8" cy="136.9" r="1"/>
<circle cx="72" cy="149.6" r="1"/>
<circle cx="58.5" cy="156.3" r="1"/>
<circle cx="140.5" cy="92.9" r="1"/>
<circle cx="69.8" cy="147.8" r="1"/>
<circle cx="87.1" cy="138.1" r="1"/>
<circle cx="103.4" cy="117" r="1"/>
<circle cx="93.9" cy="131.3" r="1"/>
<circle cx="72.9" cy="145.6" r="1"/>
<circle cx="78" cy="146.1" r="1"/>
<circle cx="65.1" cy="153.1" r="1"/>
<circle cx="141.4" cy="83.3" r="1"/>
<circle cx="173.1" cy="60.2" r="1"/>
<circle cx="140.4" cy="93.2" r="1"/>
<circle cx="126.4" cy="99.7" r="1"/>
<circle cx="63.7" cy="153.3" r="1"/>
<circle cx="74.1" cy="146" r="1"/>
<circle cx="56.5" cy="159.2" r="1"/>
<circle cx="97.6" cy="130.7" r="1"/>
<circle cx="111.1" cy="108.9" r="1"/>
<circle cx="160.4" cy="70.2" r="1"/>
<circle cx="57.7" cy="157.2" r="1"/>
<circle cx="59.7" cy="156.1" r="1"/>
<circle cx="74.8" cy="146.3" r="1"/>
<circle cx="64.4" cy="152.4" r="1"/>
<circle cx="112.9" cy="120.4" r="1"/>
<circle cx="60.6" cy="155" r="1"/>
<circle cx="135.6" cy="95.9" r="1"/>
<circle cx="138.4" cy="89" r="1"/>
<circle cx="166.4" cy="71" r="1"/>
<circle cx="115.3" cy="115.8" r="1"/>
<circle cx="79.1" cy="141.9" r="1"/>
<circle cx="56.5" cy="159.2" r="1"/>
<circle cx="117.5" cy="103.4" r="1"/>
<circle cx="136.7" cy="95.2" r="1"/>
<circle cx="75.3" cy="148.4" r="1"/>
<circle cx="71.3" cy="147.3" r="1"/>
<circle cx="122.4" cy="100" r="1"/>
<circle cx="166.2" cy="71.6" r="1"/>
<circle cx="160.5" cy="68.2" r="1"/>
<circle cx="72.9" cy="143.9" r="1"/>
<circle cx="170" cy="66.6" r="1"/>
<circle cx="136.5" cy="95.3" r="1"/>
<circle cx="99" cy="122.4" r="1"/>
<circle cx="94.6" cy="120.8" r="1"/>
<circle cx="100.7" cy="122" r="1"/>
<circle cx="92.7" cy="130.8" r="1"/>
<circle cx="65.3" cy="153" r="1"/>
<circle cx="68.6" cy="151.3" r="1"/>
<circle cx="57.3" cy="158.4" r="1"/>
<circle cx="99.6" cy="119.1" r="1"/>
<circle cx="85.7" cy="138.3" r="1"/>
<circle cx="84.9" cy="136.8" r="1"/>
<circle cx="169.3" cy="63.5" r="1"/>
<circle cx="60.4" cy="155.4" r="1"/>
<circle cx="103.4" cy="119" r="1"/>
<circle cx="115.6" cy="102.9" r="1"/>
<circle cx="69.5" cy="152" r="1"/>
<circle cx="101.5" cy="118" r="1"/>
<circle cx="64.6" cy="154.3" r="1"/>
<circle cx="135.2" cy="93" r="1"/>
<circle cx="102.8" cy="121.3" r="1"/>
<circle cx="71.3" cy="149.4" r="1"/>
<circle cx="75.7" cy="146.5" r="1"/>
<circle cx="116.6" cy="111.9" r="1"/>
<circle cx="87.8" cy="139.1" r="1"/>
<circle cx="59.6" cy="155.5" r="1"/>
<circle cx="57.4" cy="159.1" r="1"/>
<circle cx="71" cy="149.7" r="1"/>
<circle cx="60.7" cy="156.2" r="1"/>
<circle cx="105.8" cy="119.8" r="1"/>
<circle cx="116.9" cy="114.7" r="1"/>
<circle cx="121.7" cy="107.3" r="1"/>
<circle cx="126.2" cy="103.3" r="1"/>
<circle cx="60.7" cy="156.2" r="1"/>
<circle cx="56.4" cy="159.7" r="1"/>
<circle cx="83.1" cy="140.4" r="1"/>
<circle cx="168.3" cy="66.8" r="1"/>
<circle cx="149.8" cy="86.8" r="1"/>
<circle cx="75.3" cy="145" r="1"/>
<circle cx="174" cy="60.9" r="1"/>
<circle cx="67" cy="151.2" r="1"/>
<circle cx="152.2" cy="83.7" r="1"/>
<circle cx="84" cy="138.2" r="1"/>
<circle cx="156.1" cy="77.6" r="1"/>
<circle cx="125.8" cy="95.6" r="1"/>
<circle cx="89.7" cy="136.2" r="1"/>
<circle cx="90.3" cy="129.3" r="1"/>
<circle cx="75.3" cy="147.3" r="1"/>
<circle cx="74.2" cy="148.2" r="1"/>
<circle cx="136.3" cy="98" r="1"/>
<circle cx="154.7" cy="77.6" r="1"/>
<circle cx="90.5" cy="139" r="1"/>
<circle cx="172.6" cy="60.1" r="1"/>
<circle cx="138.4" cy="96.6" r="1"/>
<circle cx="131.1" cy="95" r="1"/>
<circle cx="73.5" cy="147.9" r="1"/>
<circle cx="117.8" cy="119.8" r="1"/>
<circle cx="119.7" cy="113.6" r="1"/>
<circle cx="67.4" cy="150.8" r="1"/>
<circle cx="135.9" cy="104.4" r="1"/>
<circle cx="77.9" cy="145.2" r="1"/>
<circle cx="126.4" cy="98.1" r="1"/>
<circle cx="135.2" cy="94.5" r="1"/>
<circle cx="70.2" cy="150.8" r="1"/>
<circle cx="83.9" cy="139.7" r="1"/>
<circle cx="175.9" cy="59.1" r="1"/>
<circle cx="57.5" cy="158.3" r="1"/>
<circle cx="107.2" cy="114.9" r="1"/>
<circle cx="83.1" cy="142.7" r="1"/>
<circle cx="126.5" cy="101.8" r="1"/>
<circle cx="106.6" cy="126" r="1"/>
<circle cx="69.5" cy="150.9" r="1"/>
<circle cx="101.9" cy="128.2" r="1"/>
<circle cx="174.7" cy="59.3" r="1"/>
<circle cx="76.2" cy="140.7" r="1"/>
<circle cx="128.8" cy="97.3" r="1"/>
<circle cx="105" cy="121.3" r="1"/>
<circle cx="99.8" cy="127.3" r="1"/>
<circle cx="113.3" cy="113.3" r="1"/>
<circle cx="157.2" cy="77.6" r="1"/>
<circle cx="141.9" cy="91.8" r="1"/>
<circle cx="86.4" cy="132.7" r="1"/>
<circle cx="91.2" cy="127.4" r="1"/>
<circle cx="100" cy="119" r="1"/>
<circle cx="168.3" cy="67.3" r="1"/>
<circle cx="79" cy="142.1" r="1"/>
<circle cx="73.9" cy="147.5" r="1"/>
<circle cx="123.3" cy="107.8" r="1"/>
<circle cx="81.9" cy="144.3" r="1"/>
<circle cx="79.6" cy="142.3" r="1"/>
<circle cx="81.3" cy="140.4" r="1"/>
<circle cx="118" cy="107.2" r="1"/>
<circle cx="153.5" cy="77.5" r="1"/>
<circle cx="164.6" cy="70.2" r="1"/>
<circle cx="60.1" cy="157.3" r="1"/>
<circle cx="58.6" cy="157.9" r="1"/>
<circle cx="94.7" cy="135.7" r="1"/>
<circle cx="123.8" cy="96.9" r="1"/>
<circle cx="151.1" cy="80.5" r="1"/>
<circle cx="66.3" cy="153.7" r="1"/>
<circle cx="77.4" cy="145.2" r="1"/>
<circle cx="66.8" cy="152.6" r="1"/>
<circle cx="142.9" cy="87.9" r="1"/>
<circle cx="105.4" cy="129.7" r="1"/>
<circle cx="67.2" cy="153" r="1"/>
<circle cx="112.5" cy="107.6" r="1"/>
<circle cx="77.9" cy="136.8" r="1"/>
<circle cx="88.7" cy="138.5" r="1"/>
<circle cx="121" cy="103.5" r="1"/>
<circle cx="63.4" cy="155.2" r="1"/>
<circle cx="155.3" cy="74.4" r="1"/>
<circle cx="153.4" cy="79.2" r="1"/>
<circle cx="67.6" cy="149.9" r="1"/>
<circle cx="127.5" cy="95.5" r="1"/>
<circle cx="57.6" cy="156.8" r="1"/>
<circle cx="101.8" cy="124.7" r="1"/>
<circle cx="57" cy="158.5" r="1"/>
<circle cx="174.2" cy="65.6" r="1"/>
<circle cx="57.6" cy="158.9" r="1"/>
<circle cx="56.4" cy="159.1" r="1"/>
<circle cx="119.5" cy="110.6" r="1"/>
<circle cx="123.9" cy="106.5" r="1"/>
<circle cx="72.8" cy="144.8" r="1"/>
<circle cx="104.2" cy="123.5" r="1"/>
<circle cx="69.3" cy="148.8" r="1"/>
<circle cx="73.1" cy="147.2" r="1"/>
<circle cx="74.8" cy="145.2" r="1"/>
<circle cx="108.5" cy="117.6" r="1"/>
<circle cx="148.8" cy="82" r="1"/>
<circle cx="92.2" cy="134.7" r="1"/>
<circle cx="156.1" cy="77.6" r="1"/>
<circle cx="133.2" cy="100.6" r="1"/>
<circle cx="123.4" cy="109.1" r="1"/>
<circle cx="96.2" cy="131.4" r="1"/>
<circle cx="96.6" cy="125.2" r="1"/>
<circle cx="92.2" cy="136.3" r="1"/>
<circle cx="138.9" cy="92.6" r="1"/>
<circle cx="157.1" cy="76.4" r="1"/>
<circle cx="73.9" cy="145.9" r="1"/>
<circle cx="56.7" cy="158.9" r="1"/>
<circle cx="64.8" cy="152.6" r="1"/>
<circle cx="147" cy="87" r="1"/>
<circle cx="131.7" cy="103.3" r="1"/>
<circle cx="90.5" cy="136.9" r="1"/>
<circle cx="154.9" cy="76.1" r="1"/>
<circle cx="175.5" cy="57.5" r="1"/>
<circle cx="58.1" cy="158.2" r="1"/>
<circle cx="171.6" cy="67" r="1"/>
<circle cx="74.8" cy="146.6" r="1"/>
<circle cx="151.6" cy="90.5" r="1"/>
<circle cx="58.1" cy="156.1" r="1"/>
<circle cx="56.3" cy="158.1" r="1"/>
<circle cx="59.8" cy="157.4" r="1"/>
<circle cx="104.4" cy="116.6" r="1"/>
<circle cx="134.6" cy="96.9" r="1"/>
<circle cx="108.5" cy="119.7" r="1"/>
<circle cx="91.6" cy="132.9" r="1"/>
<circle cx="158.5" cy="76.3" r="1"/>
<circle cx="89.5" cy="136" r="1"/>
<circle cx="101.8" cy="125.9" r="1"/>
<circle cx="114.2" cy="107.8" r="1"/>
<circle cx="56.4" cy="159.3" r="1"/>
<circle cx="58" cy="158.4" r="1"/>
<circle cx="134.5" cy="100.3" r="1"/>
<circle cx="103.9" cy="112" r="1"/>
<circle cx="59.3" cy="155.9" r="1"/>
<circle cx="128.4" cy="103" r="1"/>
<circle cx="133.9" cy="95.1" r="1"/>
<circle cx="140.5" cy="90.2" r="1"/>
<circle cx="61.4" cy="156.8" r="1"/>
<circle cx="62.9" cy="155.4" r="1"/>
<circle cx="92.8" cy="127" r="1"/>
<circle cx="70.2" cy="150.1" r="1"/>
<circle cx="145.6" cy="84.3" r="1"/>
<circle cx="111.8" cy="109.1" r="1"/>
<circle cx="164.9" cy="66.8" r="1"/>
<circle cx="82.2" cy="138.2" r="1"/>
<circle cx="144.9" cy="86.9" r="1"/>
<circle cx="64.3" cy="151.9" r="1"/>
<circle cx="95.5" cy="125.2" r="1"/>
<circle cx="71.9" cy="148.5" r="1"/>
<circle cx="161.6" cy="73.2" r="1"/>
<circle cx="64.4" cy="155" r="1"/>
<circle cx="68.3" cy="152.2" r="1"/>
<circle cx="124.6" cy="96.1" r="1"/>
<circle cx="173.3" cy="64.4" r="1"/>
<circle cx="82.3" cy="143.8" r="1"/>
<circle cx="127.3" cy="103" r="1"/>
<circle cx="95.1" cy="128.6" r="1"/>
<circle cx="82.4" cy="140.4" r="1"/>
<circle cx="56.6" cy="157" r="1"/>
<circle cx="81" cy="141.4" r="1"/>
<circle cx="108.6" cy="115.2" r="1"/>
<circle cx="161.1" cy="71.8" r="1"/>
<circle cx="96.1" cy="123.3" r="1"/>
<circle cx="135.1" cy="97.5" r="1"/>
<circle cx="64.7" cy="154.7" r="1"/>
<circle cx="128.4" cy="93.6" r="1"/>
<circle cx="56.7" cy="159.2" r="1"/>
<circle cx="92.1" cy="127.9" r="1"/>
<circle cx="131.9" cy="102.2" r="1"/>
<circle cx="134.3" cy="95.9" r="1"/>
<circle cx="145.2" cy="87.6" r="1"/>
<circle cx="61.9" cy="156.4" r="1"/>
<circle cx="56.6" cy="157.3" r="1"/>
<circle cx="82" cy="138.7" r="1"/>
<circle cx="148.8" cy="83" r="1"/>
<circle cx="109.8" cy="115.2" r="1"/>
<circle cx="59.9" cy="157.1" r="1"/>
<circle cx="64.8" cy="153.3" r="1"/>
<circle cx="115.5" cy="109.7" r="1"/>
<circle cx="63.2" cy="154.6" r="1"/>
<circle cx="81.4" cy="136.4" r="1"/>
<circle cx="62" cy="155.5" r="1"/>
<circle cx="92.9" cy="132.6" r="1"/>
<circle cx="56.9" cy="158.6" r="1"/>
<circle cx="56.3" cy="157.4" r="1"/>
<circle cx="107.9" cy="122.1" r="1"/>
<circle cx="165.7" cy="67.3" r="1"/>
<circle cx="60.9" cy="156.2" r="1"/>
<circle cx="125.6" cy="98.7" r="1"/>
<circle cx="159.9" cy="72" r="1"/>
<circle cx="73.1" cy="146.6" r="1"/>
<circle cx="132.6" cy="95.9" r="1"/>
<circle cx="162.9" cy="75.6" r="1"/>
<circle cx="64.4" cy="153.1" r="1"/>
<circle cx="59.9" cy="156.8" r="1"/>
<circle cx="173.3" cy="63.2" r="1"/>
<circle cx="80" cy="144.4" r="1"/>
<circle cx="169.3" cy="63.8" r="1"/>
<circle cx="156.6" cy="79.2" r="1"/>
<circle cx="177" cy="58.2" r="1"/>
<circle cx="169.6" cy="68.9" r="1"/>
<circle cx="61.6" cy="156.5" r="1"/>
<circle cx="137.6" cy="90.2" r="1"/>
<circle cx="57.6" cy="158.3" r="1"/>
<circle cx="110.6" cy="118.1" r="1"/>
<circle cx="64.8" cy="152.2" r="1"/>
<circle cx="70.4" cy="147.9" r="1"/>
<circle cx="80.4" cy="141.8" r="1"/>
<circle cx="149.3" cy="85" r="1"/>
<circle cx="65.3" cy="154.7" r="1"/>
<circle cx="56.2" cy="160" r="1"/>
<circle cx="76.5" cy="145.7" r="1"/>
<circle cx="115.1" cy="102" r="1"/>
<circle cx="127.1" cy="101.2" r="1"/>
<circle cx="128.1" cy="96.3" r="1"/>
<circle cx="150.6" cy="79" r="1"/>
<circle cx="75.5" cy="146.3" r="1"/>
<circle cx="83.8" cy="140.4" r="1"/>
<circle cx="91.5" cy="125.2" r="1"/>
<circle cx="122.3" cy="101.5" r="1"/>
<circle cx="170.8" cy="61.7" r="1"/>
<circle cx="65.6" cy="154.2" r="1"/>
<circle cx="56.8" cy="158.5" r="1"/>
<circle cx="64.2" cy="154.9" r="1"/>
<circle cx="120.6" cy="112.7" r="1"/>
<circle cx="171" cy="63.8" r="1"/>
<circle cx="56.8" cy="158.4" r="1"/>
<circle cx="145" cy="88.4" r="1"/>
<circle cx="150.6" cy="85.6" r="1"/>
<circle cx="81.1" cy="136.7" r="1"/>
<circle cx="56.5" cy="159.1" r="1"/>
<circle cx="56.6" cy="158.2" r="1"/>
<circle cx="60.7" cy="157.2" r="1"/>
<circle cx="110.1" cy="114.3" r="1"/>
<circle cx="60.3" cy="155.7" r="1"/>
<circle cx="129.1" cy="96.3" r="1"/>
<circle cx="107.1" cy="122.2" r="1"/>
<circle cx="151.8" cy="84.7" r="1"/>
<circle cx="72.6" cy="148.3" r="1"/>
<circle cx="114.4" cy="113" r="1"/>
<circle cx="93.1" cy="130.2" r="1"/>
<circle cx="70.5" cy="151.5" r="1"/>
<circle cx="97.4" cy="129.7" r="1"/>
<circle cx="57.5" cy="157.3" r="1"/>
<circle cx="175.3" cy="59" r="1"/>
<circle cx="139.6" cy="92.2" r="1"/>
<circle cx="96.8" cy="122.6" r="1"/>
<circle cx="141.5" cy="95.8" r="1"/>
<circle cx="94.1" cy="123.6" r="1"/>
<circle cx="83.9" cy="141.5" r="1"/>
<circle cx="177.1" cy="59.5" r="1"/>
<circle cx="57.1" cy="157.6" r="1"/>
<circle cx="62" cy="156.1" r="1"/>
<circle cx="62" cy="154.5" r="1"/>
<circle cx="89.3" cy="130.9" r="1"/>
<circle cx="73.4" cy="149.4" r="1"/>
<circle cx="56.3" cy="157.4" r="1"/>
<circle cx="93.9" cy="128.1" r="1"/>
<circle cx="156.7" cy="75.7" r="1"/>
<circle cx="132.4" cy="92" r="1"/>
<circle cx="66.4" cy="151.6" r="1"/>
<circle cx="89.4" cy="134.5" r="1"/>
<circle cx="164.9" cy="70.4" r="1"/>
<circle cx="77.2" cy="140.4" r="1"/>
<circle cx="59.7" cy="156.9" r="1"/>
<circle cx="56.8" cy="157.1" r="1"/>
<circle cx="139.3" cy="94.8" r="1"/>
<circle cx="65.9" cy="150.9" r="1"/>
<circle cx="92.4" cy="129.3" r="1"/>
<circle cx="73.9" cy="144.9" r="1"/>
<circle cx="115.9" cy="112.6" r="1"/>
<circle cx="58.1" cy="157.7" r="1"/>
<circle cx="112.2" cy="119" r="1"/>
<circle cx="75.8" cy="145.9" r="1"/>
<circle cx="140" cy="98.4" r="1"/>
<circle cx="56.9" cy="158" r="1"/>
<circle cx="167.6" cy="67.7" r="1"/>
<circle cx="152.1" cy="80.7" r="1"/>
<circle cx="75.5" cy="141.6" r="1"/>
<circle cx="63.2" cy="155.6" r="1"/>
<circle cx="77.4" cy="146.5" r="1"/>
<circle cx="124" cy="105" r="1"/>
<circle cx="60.2" cy="157.4" r="1"/>
<circle cx="63.3" cy="154.6" r="1"/>
<circle cx="116.1" cy="115.4" r="1"/>
<circle cx="80.3" cy="142.5" r="1"/>
<circle cx="172.3" cy="62.7" r="1"/>
<circle cx="110.4" cy="111.2" r="1"/>
<circle cx="109.3" cy="111.9" r="1"/>
<circle cx="111.5" cy="114.1" r="1"/>
<circle cx="154.2" cy="83" r="1"/>
<circle cx="171.4" cy="67.3" r="1"/>
<circle cx="81.3" cy="137.5" r="1"/>
<circle cx="85.3" cy="140.6" r="1"/>
<circle cx="79" cy="138.7" r="1"/>
<circle cx="79" cy="139" r="1"/>
<circle cx="120.9" cy="113.2" r="1"/>
<circle cx="148.4" cy="87.3" r="1"/>
<circle cx="69.5" cy="148.1" r="1"/>
<circle cx="75.3" cy="141.3" r="1"/>
<circle cx="162.3" cy="69.3" r="1"/>
<circle cx="74.1" cy="147.3" r="1"/>
<circle cx="61.5" cy="156.4" r="1"/>
<circle cx="115.2" cy="110.4" r="1"/>
<circle cx="69.7" cy="150.5" r="1"/>
<circle cx="134" cy="94.7" r="1"/>
<circle cx="79" cy="135.7" r="1"/>
<circle cx="92.8" cy="129.5" r="1"/>
<circle cx="86.9" cy="132.3" r="1"/>
<circle cx="71.8" cy="148.3" r="1"/>
<circle cx="115.2" cy="112.7" r="1"/>
<circle cx="141.3" cy="90.9" r="1"/>
<circle cx="60.3" cy="157.2" r="1"/>
<circle cx="58.2" cy="158.8" r="1"/>
<circle cx="90.3" cy="138.3" r="1"/>
<circle cx="109.4" cy="117.1" r="1"/>
<circle cx="86.5" cy="134.9" r="1"/>
<circle cx="79.1" cy="139.1" r="1"/>
<circle cx="162.5" cy="72.4" r="1"/>
<circle cx="152.7" cy="81.6" r="1"/>
<circle cx="142.2" cy="89.9" r="1"/>
<circle cx="58.8" cy="158.2" r="1"/>
<circle cx="85.3" cy="137.5" r="1"/>
<circle cx="62.4" cy="154.3" r="1"/>
<circle cx="157.9" cy="76" r="1"/>
<circle cx="168.9" cy="66.5" r="1"/>
<circle cx="92.7" cy="136.8" r="1"/>
<circle cx="137.1" cy="94.4" r="1"/>
<circle cx="100" cy="126.7" r="1"/>
<circle cx="85.6" cy="142.7" r="1"/>
<circle cx="122.9" cy="105.9" r="1"/>
<circle cx="105.4" cy="118.1" r="1"/>
<circle cx="58.9" cy="158" r="1"/>
<circle cx="57.1" cy="159.4" r="1"/>
<circle cx="74.7" cy="139.9" r="1"/>
<circle cx="88.6" cy="139.4" r="1"/>
<circle cx="71.9" cy="147.4" r="1"/>
<circle cx="137.3" cy="96.6" r="1"/>
<circle cx="141.4" cy="83.8" r="1"/>
<circle cx="56.2" cy="157.5" r="1"/>
<circle cx="57.9" cy="158.3" r="1"/>
<circle cx="135.6" cy="99.2" r="1"/>
<circle cx="85.6" cy="139.7" r="1"/>
<circle cx="98.8" cy="124.2" r="1"/>
<circle cx="70" cy="147.4" r="1"/>
<circle cx="120.8" cy="105.2" r="1"/>
<circle cx="65.2" cy="153.2" r="1"/>
<circle cx="100.4" cy="124.5" r="1"/>
<circle cx="174.7" cy="61.8" r="1"/>
<circle cx="146.9" cy="86.5" r="1"/>
<circle cx="145.3" cy="85.1" r="1"/>
<circle cx="172.7" cy="61.7" r="1"/>
<circle cx="143.9" cy="82.5" r="1"/>
<circle cx="165.2" cy="69.3" r="1"/>
<circle cx="62.9" cy="155" r="1"/>
<circle cx="67.8" cy="148" r="1"/>
<circle cx="92.8" cy="136.1" r="1"/>
<circle cx="60.7" cy="155.6" r="1"/>
<circle cx="127.7" cy="98.8" r="1"/>
<circle cx="136.8" cy="97.3" r="1"/>
<circle cx="92.1" cy="129.4" r="1"/>
<circle cx="80.9" cy="145.5" r="1"/>
<circle cx="126.3" cy="100.7" r="1"/>
<circle cx="76.4" cy="145.9" r="1"/>
<circle cx="57" cy="158.4" r="1"/>
<circle cx="79.7" cy="140.3" r="1"/>
<circle cx="87.1" cy="135.1" r="1"/>
<circle cx="166.2" cy="68.5" r="1"/>
<circle cx="75.4" cy="145.8" r="1"/>
<circle cx="80.7" cy="141.4" r="1"/>
<circle cx="108.3" cy="115.4" r="1"/>
<circle cx="147.6" cy="86" r="1"/>
<circle cx="59.5" cy="158" r="1"/>
<circle cx="135.1" cy="94.3" r="1"/>
<circle cx="139.3" cy="85.8" r="1"/>
<circle cx="58.5" cy="156.5" r="1"/>
<circle cx="130.4" cy="95.8" r="1"/>
<circle cx="74.1" cy="148.7" r="1"/>
<circle cx="92.5" cy="129.6" r="1"/>
<circle cx="139.8" cy="91.6" r="1"/>
<circle cx="162.1" cy="67.5" r="1"/>
<circle cx="109.8" cy="106.6" r="1"/>
<circle cx="63.4" cy="153" r="1"/>
<circle cx="65.4" cy="153.3" r="1"/>
<circle cx="74.1" cy="147.6" r="1"/>
<circle cx="89" cy="130.4" r="1"/>
<circle cx="65.7" cy="151.9" r="1"/>
<circle cx="152.2" cy="81.6" r="1"/>
<circle cx="72.5" cy="147.7" r="1"/>
<circle cx="73.1" cy="148.5" r="1"/>
<circle cx="144.2" cy="83.4" r="1"/>
<circle cx="58" cy="158" r="1"/>
<circle cx="67.5" cy="148.7" r="1"/>
<circle cx="57.6" cy="157.6" r="1"/>
<circle cx="84.1" cy="136.7" r="1"/>
<circle cx="104.7" cy="120.7" r="1"/>
<circle cx="120.6" cy="106.4" r="1"/>
<circle cx="77.3" cy="146.5" r="1"/>
<circle cx="71.1" cy="148.7" r="1"/>
<circle cx="57.3" cy="159.1" r="1"/>
<circle cx="56.6" cy="158.4" r="1"/>
<circle cx="56.4" cy="158.6" r="1"/>
<circle cx="99.4" cy="127.8" r="1"/>
<circle cx="56.5" cy="158.2" r="1"/>
<circle cx="95.2" cy="124.1" r="1"/>
<circle cx="78.1" cy="142.9" r="1"/>
<circle cx="139.6" cy="95.5" r="1"/>
<circle cx="147" cy="80.9" r="1"/>
<circle cx="120.5" cy="111.5" r="1"/>
<circle cx="91.3" cy="137.3" r="1"/>
<circle cx="99.4" cy="126.2" r="1"/>
<circle cx="144.1" cy="86.7" r="1"/>
<circle cx="132.9" cy="97.8" r="1"/>
<circle cx="111.9" cy="122.1" r="1"/>
<circle cx="57.2" cy="158.1" r="1"/>
<circle cx="81.4" cy="138.2" r="1"/>
<circle cx="104.4" cy="121.6" r="1"/>
<circle cx="61.7" cy="156.7" r="1"/>
<circle cx="130.2" cy="103.7" r="1"/>
<circle cx="74.5" cy="145.7" r="1"/>
<circle cx="67.3" cy="152.2" r="1"/>
<circle cx="129.9" cy="94.5" r="1"/>
<circle cx="71.5" cy="150.9" r="1"/>
<circle cx="126" cy="102.8" r="1"/>
<circle cx="164.8" cy="70.9" r="1"/>
<circle cx="99.7" cy="120" r="1"/>
<circle cx="77.5" cy="142.7" r="1"/>
<circle cx="59.4" cy="156.7" r="1"/>
<circle cx="60.5" cy="156.2" r="1"/>
<circle cx="71.4" cy="149.1" r="1"/>
<circle cx="77.1" cy="145.1" r="1"/>
<circle cx="85.3" cy="140.9" r="1"/>
<circle cx="109.1" cy="116.1" r="1"/>
</g>
<g stroke="#f08a8e" stroke-width="0.6" opacity="0.85">
<path d="M179.9 57.1H186.1M183 50V64.2"/>
<path d="M192.7 80.6H202.1M197.4 78.4V82.8"/>
<path d="M206 50.4H213.8M209.9 43.7V57.1"/>
<path d="M190.2 69.8H211.4M200.8 67.8V71.8"/>
<path d="M200.4 59.4H214M207.2 57.4V61.4"/>
<path d="M169.8 67.2H186.2M178 64.3V70.1"/>
<path d="M162.2 73.2H183.8M173 63.5V82.9"/>
<path d="M162.4 75.6H173.6M168 65.6V85.6"/>
<path d="M153.8 85.6H161.8M157.8 83.6V87.6"/>
<path d="M146.2 88H159.4M152.8 86V90"/>
<path d="M159.5 90.7H166.3M162.9 87.4V94"/>
<path d="M141 100.7H154.4M147.7 98.5V102.9"/>
<path d="M139.7 104.1H145.7M142.7 96.1V112.1"/>
<path d="M140.4 109.1H148.4M144.4 99.7V118.5"/>
<path d="M135.4 113.5H157.4M146.4 110.4V116.6"/>
<path d="M130.9 109.1H141.1M136 104.9V113.3"/>
<path d="M122.2 107.5H136.4M129.3 102.7V112.3"/>
<path d="M108.1 122.6H120.3M114.2 117.5V127.7"/>
<path d="M85.6 137.7H109.2M97.4 133.6V141.8"/>
<path d="M85.8 144.4H95.6M90.7 138.2V150.6"/>
<path d="M77 149.4H84.2M80.6 146.7V152.1"/>
<path d="M61.3 152.8H86.5M73.9 148.6V157"/>
<path d="M57.8 157.8H69.8M63.8 155.8V159.8"/>
<path d="M54.1 160.5H63.5M58.8 155.8V165.2"/>
<path d="M192.9 45.1H198.9M195.9 40.1V50.1"/>
<path d="M191.3 47.1H205.3M198.3 45.1V49.1"/>
<path d="M192.2 47.1H206M199.1 43.4V50.8"/>
<path d="M185.5 48.5H200.7M193.1 45.5V51.5"/>
<path d="M183 50.5H199M191 44.1V56.9"/>
<path d="M186.9 53.3H192.9M189.9 51.3V55.3"/>
<path d="M182.1 55.3H197.3M189.7 45.9V64.7"/>
<path d="M181.3 56.5H188.5M184.9 52.8V60.2"/>
<path d="M177.6 61H190.6M184.1 58.2V63.8"/>
<path d="M189.6 58.2H198.2M193.9 55.4V61"/>
<path d="M190.7 60.6H199.5M195.1 55.8V65.4"/>
<path d="M200.2 52.5H208M204.1 49.4V55.6"/>
<path d="M201 50.4H219M210 48.4V52.4"/>
<path d="M201.9 59.2H214.3M208.1 52.9V65.5"/>
<path d="M174.7 68.4H182.7M178.7 66V70.8"/>
<path d="M191 69.8H210M200.5 67.3V72.3"/>
<path d="M148.7 88.4H155.5M152.1 84.9V91.9"/>
<path d="M150.1 93.1H165.9M158 91V95.2"/>
<path d="M156.3 83.7H164.3M160.3 80.8V86.6"/>
<path d="M153.9 79.1H173.7M163.8 75.6V82.6"/>
<path d="M157.7 75.6H178.3M168 73.4V77.8"/>
<path d="M166.7 73.2H174.9M170.8 67.8V78.6"/>
<path d="M162.8 67.4H184.4M173.6 63.8V71"/>
<path d="M175.5 67.4H182.5M179 65.3V69.5"/>
<path d="M134.7 97.8H146.3M140.5 95.5V100.1"/>
<path d="M137.5 112.9H156.5M147 105.3V120.5"/>
<path d="M125 109.4H131.6M128.3 106.8V112"/>
<path d="M125.8 109.4H144.8M135.3 104.1V114.7"/>
<path d="M104.1 122.3H123.1M113.6 119.3V125.3"/>
<path d="M89.4 138.6H95.8M92.6 135.9V141.3"/>
<path d="M81.6 144H100.2M90.9 141.4V146.6"/>
<path d="M60.5 158.6H62.8M61.6 157.6V159.7"/>
<path d="M69.2 153.3H71.9M70.5 152.3V154.3"/>
<path d="M67.8 152.8H74.4M71.1 152.1V153.4"/>
<path d="M76.1 149.6H77.7M76.9 146.8V152.4"/>
<path d="M59 157.6H65.2M62.1 154.6V160.7"/>
<path d="M65.7 153.2H68.5M67.1 150.3V156.1"/>
<path d="M73.5 150.5H80.2M76.9 149.7V151.2"/>
<path d="M57.4 159H62.3M59.8 156.6V161.3"/>
<path d="M69.2 152.2H73.5M71.3 151V153.5"/>
<path d="M73.2 151.6H75.3M74.2 150.7V152.5"/>
<path d="M71.4 151.3H73.3M72.3 150.7V151.9"/>
<path d="M68.4 153H72M70.2 152.2V153.8"/>
<path d="M60.3 156.2H65.8M63.1 155.6V156.8"/>
<path d="M63.9 154.8H70.4M67.2 153V156.6"/>
<path d="M70.2 150.8H77M73.6 148.2V153.4"/>
<path d="M76 149H82.5M79.2 147.5V150.4"/>
<path d="M64.5 155.9H66.1M65.3 153.9V157.9"/>
<path d="M78.8 148.7H80.5M79.7 147.9V149.5"/>
<path d="M75.9 148.7H80.2M78 147.5V150"/>
<path d="M59.9 158.2H62.5M61.2 155.4V161"/>
<path d="M78.6 148.4H82.4M80.5 147.5V149.2"/>
<path d="M62.1 157H64M63.1 154.5V159.5"/>
<path d="M66.6 154.9H69.5M68 152.8V157.1"/>
<path d="M68.9 153.1H71.2M70 152.4V153.8"/>
<path d="M68.4 152.7H71.7M70 150.5V155"/>
<path d="M78.6 148.7H80.4M79.5 146.5V150.9"/>
<path d="M74.1 148.5H80.8M77.4 146.3V150.7"/>
<path d="M57.2 159H62.9M60.1 158.4V159.6"/>
<path d="M75.5 148.1H79.5M77.5 145.6V150.5"/>
<path d="M68.8 153.9H70.4M69.6 153.2V154.7"/>
<path d="M72.5 151.3H74.5M73.5 150V152.6"/>
<path d="M68.4 152.6H71.1M69.7 151.4V153.7"/>
<path d="M60.1 156.5H65.3M62.7 155.9V157.1"/>
<path d="M80.4 146.8H82M81.2 146.2V147.4"/>
</g>
<g fill="#e0202a" stroke="#fff" stroke-width="0.3">
<circle cx="183" cy="57.1" r="1.1"/>
<circle cx="197.4" cy="80.6" r="1.1"/>
<circle cx="209.9" cy="50.4" r="1.1"/>
<circle cx="200.8" cy="69.8" r="1.1"/>
<circle cx="207.2" cy="59.4" r="1.1"/>
<circle cx="178" cy="67.2" r="1.1"/>
<circle cx="173" cy="73.2" r="1.1"/>
<circle cx="168" cy="75.6" r="1.1"/>
<circle cx="157.8" cy="85.6" r="1.1"/>
<circle cx="152.8" cy="88" r="1.1"/>
<circle cx="162.9" cy="90.7" r="1.1"/>
<circle cx="147.7" cy="100.7" r="1.1"/>
<circle cx="142.7" cy="104.1" r="1.1"/>
<circle cx="144.4" cy="109.1" r="1.1"/>
<circle cx="146.4" cy="113.5" r="1.1"/>
<circle cx="136" cy="109.1" r="1.1"/>
<circle cx="129.3" cy="107.5" r="1.1"/>
<circle cx="114.2" cy="122.6" r="1.1"/>
<circle cx="97.4" cy="137.7" r="1.1"/>
<circle cx="90.7" cy="144.4" r="1.1"/>
<circle cx="80.6" cy="149.4" r="1.1"/>
<circle cx="73.9" cy="152.8" r="1.1"/>
<circle cx="63.8" cy="157.8" r="1.1"/>
<circle cx="58.8" cy="160.5" r="1.1"/>
<circle cx="195.9" cy="45.1" r="1.1"/>
<circle cx="198.3" cy="47.1" r="1.1"/>
<circle cx="199.1" cy="47.1" r="1.1"/>
<circle cx="193.1" cy="48.5" r="1.1"/>
<circle cx="191" cy="50.5" r="1.1"/>
<circle cx="189.9" cy="53.3" r="1.1"/>
<circle cx="189.7" cy="55.3" r="1.1"/>
<circle cx="184.9" cy="56.5" r="1.1"/>
<circle cx="184.1" cy="61" r="1.1"/>
<circle cx="193.9" cy="58.2" r="1.1"/>
<circle cx="195.1" cy="60.6" r="1.1"/>
<circle cx="204.1" cy="52.5" r="1.1"/>
<circle cx="210" cy="50.4" r="1.1"/>
<circle cx="208.1" cy="59.2" r="1.1"/>
<circle cx="178.7" cy="68.4" r="1.1"/>
<circle cx="200.5" cy="69.8" r="1.1"/>
<circle cx="152.1" cy="88.4" r="1.1"/>
<circle cx="158" cy="93.1" r="1.1"/>
<circle cx="160.3" cy="83.7" r="1.1"/>
<circle cx="163.8" cy="79.1" r="1.1"/>
<circle cx="168" cy="75.6" r="1.1"/>
<circle cx="170.8" cy="73.2" r="1.1"/>
<circle cx="173.6" cy="67.4" r="1.1"/>
<circle cx="179" cy="67.4" r="1.1"/>
<circle cx="140.5" cy="97.8" r="1.1"/>
<circle cx="147" cy="112.9" r="1.1"/>
<circle cx="128.3" cy="109.4" r="1.1"/>
<circle cx="135.3" cy="109.4" r="1.1"/>
<circle cx="113.6" cy="122.3" r="1.1"/>
<circle cx="92.6" cy="138.6" r="1.1"/>
<circle cx="90.9" cy="144" r="1.1"/>
<circle cx="61.6" cy="158.6" r="1.1"/>
<circle cx="70.5" cy="153.3" r="1.1"/>
<circle cx="71.1" cy="152.8" r="1.1"/>
<circle cx="76.9" cy="149.6" r="1.1"/>
<circle cx="62.1" cy="157.6" r="1.1"/>
<circle cx="67.1" cy="153.2" r="1.1"/>
<circle cx="76.9" cy="150.5" r="1.1"/>
<circle cx="59.8" cy="159" r="1.1"/>
<circle cx="71.3" cy="152.2" r="1.1"/>
<circle cx="74.2" cy="151.6" r="1.1"/>
<circle cx="72.3" cy="151.3" r="1.1"/>
<circle cx="70.2" cy="153" r="1.1"/>
<circle cx="63.1" cy="156.2" r="1.1"/>
<circle cx="67.2" cy="154.8" r="1.1"/>
<circle cx="73.6" cy="150.8" r="1.1"/>
<circle cx="79.2" cy="149" r="1.1"/>
<circle cx="65.3" cy="155.9" r="1.1"/>
<circle cx="79.7" cy="148.7" r="1.1"/>
<circle cx="78" cy="148.7" r="1.1"/>
<circle cx="61.2" cy="158.2" r="1.1"/>
<circle cx="80.5" cy="148.4" r="1.1"/>
<circle cx="63.1" cy="157" r="1.1"/>
<circle cx="68" cy="154.9" r="1.1"/>
<circle cx="70" cy="153.1" r="1.1"/>
<circle cx="70" cy="152.7" r="1.1"/>
<circle cx="79.5" cy="148.7" r="1.1"/>
<circle cx="77.4" cy="148.5" r="1.1"/>
<circle cx="60.1" cy="159" r="1.1"/>
<circle cx="77.5" cy="148.1" r="1.1"/>
<circle cx="69.6" cy="153.9" r="1.1"/>
<circle cx="73.5" cy="151.3" r="1.1"/>
<circle cx="69.7" cy="152.6" r="1.1"/>
<circle cx="62.7" cy="156.5" r="1.1"/>
<circle cx="81.2" cy="146.8" r="1.1"/>
</g>
<line x1="195" y1="38.6" x2="206" y2="38.6" stroke="#8cc6e8" stroke-width="0.7"/>
<line x1="200.4" y1="33" x2="200.4" y2="44" stroke="#8cc6e8" stroke-width="0.7"/>
<circle cx="200.4" cy="38.6" r="1.2" fill="#1f93d3"/>
<rect x="32.4" y="11.4" width="194.4" height="170.2" fill="none" stroke="#CFCFCF" stroke-width="0.8"/>
<line x1="30.2" y1="160.1" x2="32.4" y2="160.1" stroke="#BDBDBD" stroke-width="0.6"/>
<line x1="57" y1="181.6" x2="57" y2="183.8" stroke="#BDBDBD" stroke-width="0.6"/>
<text x="30.6" y="164.1" font-size="9.2" text-anchor="end">0.00</text>
<text x="57" y="192.5" font-size="9.2" text-anchor="middle">0.00</text>
<line x1="30.2" y1="124.6" x2="32.4" y2="124.6" stroke="#BDBDBD" stroke-width="0.6"/>
<line x1="97.3" y1="181.6" x2="97.3" y2="183.8" stroke="#BDBDBD" stroke-width="0.6"/>
<text x="30.6" y="128.6" font-size="9.2" text-anchor="end">0.25</text>
<text x="97.3" y="192.5" font-size="9.2" text-anchor="middle">0.25</text>
<line x1="30.2" y1="89.1" x2="32.4" y2="89.1" stroke="#BDBDBD" stroke-width="0.6"/>
<line x1="137.7" y1="181.6" x2="137.7" y2="183.8" stroke="#BDBDBD" stroke-width="0.6"/>
<text x="30.6" y="93.1" font-size="9.2" text-anchor="end">0.50</text>
<text x="137.7" y="192.5" font-size="9.2" text-anchor="middle">0.50</text>
<line x1="30.2" y1="53.6" x2="32.4" y2="53.6" stroke="#BDBDBD" stroke-width="0.6"/>
<line x1="178" y1="181.6" x2="178" y2="183.8" stroke="#BDBDBD" stroke-width="0.6"/>
<text x="30.6" y="57.6" font-size="9.2" text-anchor="end">0.75</text>
<text x="178" y="192.5" font-size="9.2" text-anchor="middle">0.75</text>
<line x1="30.2" y1="18.1" x2="32.4" y2="18.1" stroke="#BDBDBD" stroke-width="0.6"/>
<line x1="218.3" y1="181.6" x2="218.3" y2="183.8" stroke="#BDBDBD" stroke-width="0.6"/>
<text x="30.6" y="22.1" font-size="9.2" text-anchor="end">1.00</text>
<text x="218.3" y="192.5" font-size="9.2" text-anchor="middle">1.00</text>
<text x="130.1" y="203.9" font-size="9.3" text-anchor="middle">Performance DL (R²)</text>
<text x="8.3" y="95.7" font-size="9.3" text-anchor="middle" transform="rotate(-90 8.3 95.7)">Performance linear (R²)</text>
<line x1="176.5" y1="161.7" x2="184.7" y2="161.7" stroke="#1f93d3" stroke-width="0.8"/>
<circle cx="180.7" cy="161.7" r="1.1" fill="#1f93d3"/>
<text x="187.6" y="163.6" font-size="5.5">Not significant</text>
<line x1="176.5" y1="172.3" x2="184.7" y2="172.3" stroke="#e0202a" stroke-width="0.8"/>
<circle cx="180.7" cy="172.3" r="1.1" fill="#e0202a"/>
<text x="187.6" y="174.2" font-size="5.5">Significant</text>
<text x="225.3" y="10.3" font-size="12.5" font-weight="bold" fill="#000">b</text>
<line x1="301" y1="11.3" x2="301" y2="181.8" stroke="#F3F3F3" stroke-width="0.5"/>
<line x1="265.5" y1="156" x2="449.7" y2="156" stroke="#F3F3F3" stroke-width="0.5"/>
<line x1="341.2" y1="11.3" x2="341.2" y2="181.8" stroke="#F3F3F3" stroke-width="0.5"/>
<line x1="265.5" y1="116.8" x2="449.7" y2="116.8" stroke="#F3F3F3" stroke-width="0.5"/>
<line x1="381.5" y1="11.3" x2="381.5" y2="181.8" stroke="#F3F3F3" stroke-width="0.5"/>
<line x1="265.5" y1="77.6" x2="449.7" y2="77.6" stroke="#F3F3F3" stroke-width="0.5"/>
<line x1="421.7" y1="11.3" x2="421.7" y2="181.8" stroke="#F3F3F3" stroke-width="0.5"/>
<line x1="265.5" y1="38.4" x2="449.7" y2="38.4" stroke="#F3F3F3" stroke-width="0.5"/>
<line x1="280.9" y1="11.3" x2="280.9" y2="181.8" stroke="#EBEBEB" stroke-width="0.8"/>
<line x1="265.5" y1="175.6" x2="449.7" y2="175.6" stroke="#EBEBEB" stroke-width="0.8"/>
<line x1="321.1" y1="11.3" x2="321.1" y2="181.8" stroke="#EBEBEB" stroke-width="0.8"/>
<line x1="265.5" y1="136.4" x2="449.7" y2="136.4" stroke="#EBEBEB" stroke-width="0.8"/>
<line x1="361.3" y1="11.3" x2="361.3" y2="181.8" stroke="#EBEBEB" stroke-width="0.8"/>
<line x1="265.5" y1="97.2" x2="449.7" y2="97.2" stroke="#EBEBEB" stroke-width="0.8"/>
<line x1="401.6" y1="11.3" x2="401.6" y2="181.8" stroke="#EBEBEB" stroke-width="0.8"/>
<line x1="265.5" y1="58" x2="449.7" y2="58" stroke="#EBEBEB" stroke-width="0.8"/>
<line x1="441.8" y1="11.3" x2="441.8" y2="181.8" stroke="#EBEBEB" stroke-width="0.8"/>
<line x1="265.5" y1="18.8" x2="449.7" y2="18.8" stroke="#EBEBEB" stroke-width="0.8"/>
<line x1="274.5" y1="181.8" x2="449.5" y2="11.3" stroke="#444" stroke-width="1" stroke-dasharray="3.2,2.4"/>
<g fill="#1a8bc8">
<circle cx="295.9" cy="159.6" r="1.3"/>
<circle cx="301.5" cy="154.8" r="1.3"/>
<circle cx="289.8" cy="164.6" r="1.3"/>
<circle cx="286.3" cy="159.9" r="1.3"/>
<circle cx="280.9" cy="165.1" r="1.3"/>
<circle cx="280.5" cy="170.5" r="1.3"/>
<circle cx="340.2" cy="86.4" r="1.3"/>
<circle cx="285.4" cy="169.6" r="1.3"/>
<circle cx="281.6" cy="159.8" r="1.3"/>
<circle cx="303.2" cy="144.3" r="1.3"/>
<circle cx="315.9" cy="144.1" r="1.3"/>
<circle cx="289" cy="152.1" r="1.3"/>
<circle cx="280.5" cy="164.1" r="1.3"/>
<circle cx="283.1" cy="167.4" r="1.3"/>
<circle cx="369.2" cy="73.5" r="1.3"/>
<circle cx="297.8" cy="171.4" r="1.3"/>
<circle cx="288.8" cy="153.1" r="1.3"/>
<circle cx="367.3" cy="84.7" r="1.3"/>
<circle cx="286.2" cy="168.9" r="1.3"/>
<circle cx="312.7" cy="125" r="1.3"/>
<circle cx="281.3" cy="169.4" r="1.3"/>
<circle cx="289.2" cy="173" r="1.3"/>
<circle cx="283.4" cy="170.5" r="1.3"/>
<circle cx="282.7" cy="169.6" r="1.3"/>
<circle cx="285.8" cy="152.6" r="1.3"/>
<circle cx="284.9" cy="164.8" r="1.3"/>
<circle cx="280.9" cy="162.5" r="1.3"/>
<circle cx="295.7" cy="172.4" r="1.3"/>
<circle cx="311.2" cy="116.4" r="1.3"/>
<circle cx="401.7" cy="52.1" r="1.3"/>
<circle cx="309.3" cy="147.6" r="1.3"/>
<circle cx="308.5" cy="133.3" r="1.3"/>
<circle cx="280.9" cy="162.9" r="1.3"/>
<circle cx="304.7" cy="162.4" r="1.3"/>
<circle cx="284" cy="164.5" r="1.3"/>
<circle cx="280.9" cy="160.6" r="1.3"/>
<circle cx="311.3" cy="106.5" r="1.3"/>
<circle cx="283.9" cy="163.9" r="1.3"/>
<circle cx="321" cy="121" r="1.3"/>
<circle cx="304.9" cy="141.7" r="1.3"/>
<circle cx="309.1" cy="146.1" r="1.3"/>
<circle cx="305.8" cy="146.4" r="1.3"/>
<circle cx="290.4" cy="158.4" r="1.3"/>
<circle cx="295.7" cy="123.4" r="1.3"/>
<circle cx="297.8" cy="164" r="1.3"/>
<circle cx="325.2" cy="128" r="1.3"/>
<circle cx="287" cy="137.2" r="1.3"/>
<circle cx="281.3" cy="168.9" r="1.3"/>
<circle cx="280.3" cy="169.8" r="1.3"/>
<circle cx="331.3" cy="107.2" r="1.3"/>
<circle cx="290.5" cy="161.5" r="1.3"/>
<circle cx="282.4" cy="157.4" r="1.3"/>
<circle cx="286.4" cy="162.6" r="1.3"/>
<circle cx="296.9" cy="165.4" r="1.3"/>
<circle cx="344.9" cy="96" r="1.3"/>
<circle cx="280.8" cy="166.9" r="1.3"/>
<circle cx="282.6" cy="165.4" r="1.3"/>
<circle cx="285.1" cy="167.6" r="1.3"/>
<circle cx="286.7" cy="167.1" r="1.3"/>
<circle cx="289.5" cy="131.5" r="1.3"/>
<circle cx="320.4" cy="104.7" r="1.3"/>
<circle cx="298.1" cy="134.1" r="1.3"/>
<circle cx="308.9" cy="139.3" r="1.3"/>
<circle cx="280.8" cy="172.6" r="1.3"/>
<circle cx="331.4" cy="117.7" r="1.3"/>
<circle cx="300.7" cy="132.6" r="1.3"/>
<circle cx="281" cy="162.4" r="1.3"/>
<circle cx="293.2" cy="174.6" r="1.3"/>
<circle cx="294.1" cy="167.3" r="1.3"/>
<circle cx="287" cy="154.5" r="1.3"/>
<circle cx="280.6" cy="170.3" r="1.3"/>
<circle cx="303.2" cy="135.5" r="1.3"/>
<circle cx="288.3" cy="156.4" r="1.3"/>
<circle cx="293.6" cy="136.4" r="1.3"/>
<circle cx="299.9" cy="161" r="1.3"/>
<circle cx="310.2" cy="130" r="1.3"/>
<circle cx="293.4" cy="150.1" r="1.3"/>
<circle cx="335.6" cy="127.6" r="1.3"/>
<circle cx="283.8" cy="156.1" r="1.3"/>
<circle cx="303.8" cy="146.7" r="1.3"/>
<circle cx="313.8" cy="133.2" r="1.3"/>
<circle cx="282.1" cy="159.6" r="1.3"/>
<circle cx="281.1" cy="170.4" r="1.3"/>
<circle cx="288.4" cy="131.4" r="1.3"/>
<circle cx="322.7" cy="121.7" r="1.3"/>
<circle cx="294" cy="160.3" r="1.3"/>
<circle cx="284.1" cy="155.7" r="1.3"/>
<circle cx="305.5" cy="141.4" r="1.3"/>
<circle cx="295.6" cy="142.5" r="1.3"/>
<circle cx="286.5" cy="146.9" r="1.3"/>
<circle cx="317.2" cy="143.6" r="1.3"/>
<circle cx="282.6" cy="160.6" r="1.3"/>
<circle cx="284.3" cy="154.3" r="1.3"/>
<circle cx="302.7" cy="105.5" r="1.3"/>
<circle cx="336.2" cy="87.5" r="1.3"/>
<circle cx="292.7" cy="150" r="1.3"/>
<circle cx="283.7" cy="153.2" r="1.3"/>
<circle cx="285" cy="160.7" r="1.3"/>
<circle cx="310.7" cy="137.2" r="1.3"/>
<circle cx="303.6" cy="133.8" r="1.3"/>
<circle cx="280.6" cy="164.4" r="1.3"/>
<circle cx="283.4" cy="156.1" r="1.3"/>
<circle cx="305.3" cy="110.1" r="1.3"/>
<circle cx="291.9" cy="166.3" r="1.3"/>
<circle cx="311.4" cy="131.4" r="1.3"/>
<circle cx="280.8" cy="171.8" r="1.3"/>
<circle cx="293.2" cy="174" r="1.3"/>
<circle cx="285.9" cy="157.1" r="1.3"/>
<circle cx="293.4" cy="146.8" r="1.3"/>
<circle cx="289.7" cy="158.6" r="1.3"/>
<circle cx="282.8" cy="164.2" r="1.3"/>
<circle cx="289.3" cy="152" r="1.3"/>
<circle cx="294.4" cy="146.3" r="1.3"/>
<circle cx="321.9" cy="113.8" r="1.3"/>
<circle cx="296" cy="150.8" r="1.3"/>
<circle cx="304" cy="157.2" r="1.3"/>
<circle cx="280.5" cy="170.7" r="1.3"/>
<circle cx="282.6" cy="157.5" r="1.3"/>
<circle cx="289.2" cy="143.9" r="1.3"/>
<circle cx="312.3" cy="105.2" r="1.3"/>
<circle cx="283.3" cy="160.6" r="1.3"/>
<circle cx="312.6" cy="161.2" r="1.3"/>
<circle cx="312.9" cy="96.6" r="1.3"/>
<circle cx="280.1" cy="171.8" r="1.3"/>
<circle cx="292.9" cy="171.3" r="1.3"/>
<circle cx="282.3" cy="171.4" r="1.3"/>
<circle cx="321.7" cy="112.3" r="1.3"/>
<circle cx="323" cy="125.3" r="1.3"/>
<circle cx="298.4" cy="135.1" r="1.3"/>
<circle cx="287" cy="165.3" r="1.3"/>
<circle cx="290.6" cy="149.7" r="1.3"/>
<circle cx="280.3" cy="171.7" r="1.3"/>
<circle cx="291.8" cy="132.7" r="1.3"/>
<circle cx="281.5" cy="164" r="1.3"/>
<circle cx="320.8" cy="106.6" r="1.3"/>
<circle cx="283.7" cy="168.4" r="1.3"/>
<circle cx="293.9" cy="147.4" r="1.3"/>
<circle cx="283.9" cy="175.5" r="1.3"/>
<circle cx="286.4" cy="167.2" r="1.3"/>
<circle cx="288.3" cy="156.7" r="1.3"/>
<circle cx="303.6" cy="162.5" r="1.3"/>
<circle cx="297.9" cy="160" r="1.3"/>
<circle cx="312.2" cy="131" r="1.3"/>
<circle cx="291.8" cy="152.3" r="1.3"/>
<circle cx="362.7" cy="76.4" r="1.3"/>
<circle cx="302.8" cy="130.3" r="1.3"/>
<circle cx="280.7" cy="173.5" r="1.3"/>
<circle cx="288.4" cy="141.7" r="1.3"/>
<circle cx="293.5" cy="169.8" r="1.3"/>
<circle cx="341.8" cy="112.7" r="1.3"/>
<circle cx="283.9" cy="159.8" r="1.3"/>
<circle cx="304.1" cy="164.9" r="1.3"/>
<circle cx="310.2" cy="120.9" r="1.3"/>
<circle cx="282.1" cy="162.2" r="1.3"/>
<circle cx="284.1" cy="165" r="1.3"/>
<circle cx="283.1" cy="169" r="1.3"/>
<circle cx="297" cy="142.5" r="1.3"/>
<circle cx="294.3" cy="128" r="1.3"/>
<circle cx="282.9" cy="162.3" r="1.3"/>
<circle cx="287.2" cy="155.8" r="1.3"/>
<circle cx="309" cy="135.3" r="1.3"/>
<circle cx="292.3" cy="155" r="1.3"/>
<circle cx="289.4" cy="144.5" r="1.3"/>
<circle cx="293.7" cy="154.3" r="1.3"/>
<circle cx="285.8" cy="159.9" r="1.3"/>
<circle cx="289.8" cy="173.2" r="1.3"/>
<circle cx="301.2" cy="121" r="1.3"/>
<circle cx="283.4" cy="161.9" r="1.3"/>
<circle cx="291.9" cy="139.1" r="1.3"/>
<circle cx="301.9" cy="132.5" r="1.3"/>
<circle cx="285.4" cy="160.2" r="1.3"/>
<circle cx="282.2" cy="162.6" r="1.3"/>
<circle cx="305.6" cy="136" r="1.3"/>
<circle cx="281.6" cy="162.4" r="1.3"/>
<circle cx="299.5" cy="137.5" r="1.3"/>
<circle cx="281.1" cy="157.5" r="1.3"/>
<circle cx="292.4" cy="144.4" r="1.3"/>
<circle cx="303.2" cy="134.3" r="1.3"/>
<circle cx="294.8" cy="137" r="1.3"/>
<circle cx="313.4" cy="128" r="1.3"/>
<circle cx="300.9" cy="125.5" r="1.3"/>
<circle cx="344.5" cy="93.1" r="1.3"/>
<circle cx="282.7" cy="161.5" r="1.3"/>
<circle cx="345.2" cy="98.9" r="1.3"/>
<circle cx="290.3" cy="148.9" r="1.3"/>
<circle cx="294.5" cy="138.3" r="1.3"/>
<circle cx="302" cy="129.8" r="1.3"/>
<circle cx="285.3" cy="158.4" r="1.3"/>
<circle cx="299.1" cy="137.1" r="1.3"/>
<circle cx="294.8" cy="139.4" r="1.3"/>
<circle cx="283.5" cy="173.6" r="1.3"/>
<circle cx="296" cy="127.1" r="1.3"/>
<circle cx="288.7" cy="167.1" r="1.3"/>
<circle cx="289.3" cy="160.1" r="1.3"/>
<circle cx="285.4" cy="153" r="1.3"/>
<circle cx="283" cy="149.1" r="1.3"/>
<circle cx="283.2" cy="158.9" r="1.3"/>
<circle cx="283.5" cy="168" r="1.3"/>
<circle cx="288.1" cy="158.7" r="1.3"/>
<circle cx="284.4" cy="172" r="1.3"/>
<circle cx="304.3" cy="144.9" r="1.3"/>
<circle cx="310.3" cy="148" r="1.3"/>
<circle cx="282.1" cy="169.5" r="1.3"/>
<circle cx="325.5" cy="138.9" r="1.3"/>
<circle cx="306.1" cy="123.5" r="1.3"/>
<circle cx="331.2" cy="110.3" r="1.3"/>
<circle cx="286.8" cy="164.7" r="1.3"/>
<circle cx="301.6" cy="150.3" r="1.3"/>
<circle cx="298.6" cy="137.8" r="1.3"/>
<circle cx="352.8" cy="118.2" r="1.3"/>
<circle cx="319.3" cy="127.8" r="1.3"/>
<circle cx="331.2" cy="127" r="1.3"/>
<circle cx="294.9" cy="151.8" r="1.3"/>
<circle cx="281.9" cy="161.7" r="1.3"/>
<circle cx="281.3" cy="175.1" r="1.3"/>
<circle cx="293.8" cy="143.7" r="1.3"/>
<circle cx="289.7" cy="159.4" r="1.3"/>
<circle cx="287.2" cy="147.7" r="1.3"/>
<circle cx="297.8" cy="135.9" r="1.3"/>
<circle cx="304.6" cy="129.3" r="1.3"/>
<circle cx="306.6" cy="145.4" r="1.3"/>
<circle cx="305.5" cy="146.5" r="1.3"/>
<circle cx="285.7" cy="152.4" r="1.3"/>
<circle cx="303.3" cy="145.4" r="1.3"/>
<circle cx="300.9" cy="129.1" r="1.3"/>
<circle cx="285.7" cy="160.2" r="1.3"/>
<circle cx="280.3" cy="165.8" r="1.3"/>
<circle cx="291" cy="161.9" r="1.3"/>
<circle cx="305.6" cy="143.9" r="1.3"/>
<circle cx="281.3" cy="168.1" r="1.3"/>
<circle cx="308.9" cy="133.9" r="1.3"/>
<circle cx="301.4" cy="131.7" r="1.3"/>
<circle cx="341.1" cy="101.5" r="1.3"/>
<circle cx="284.9" cy="167.7" r="1.3"/>
<circle cx="308.3" cy="128.1" r="1.3"/>
<circle cx="377.6" cy="67.2" r="1.3"/>
<circle cx="296.1" cy="146.1" r="1.3"/>
<circle cx="334.7" cy="115.8" r="1.3"/>
<circle cx="375.1" cy="48.9" r="1.3"/>
<circle cx="312.7" cy="117.4" r="1.3"/>
<circle cx="290.8" cy="137" r="1.3"/>
<circle cx="280.4" cy="160" r="1.3"/>
<circle cx="282" cy="170.7" r="1.3"/>
<circle cx="321.2" cy="136.2" r="1.3"/>
<circle cx="315.7" cy="138.9" r="1.3"/>
<circle cx="286.9" cy="163.3" r="1.3"/>
<circle cx="298.9" cy="140.1" r="1.3"/>
<circle cx="283.4" cy="157.4" r="1.3"/>
<circle cx="313.1" cy="120.8" r="1.3"/>
<circle cx="284.1" cy="155.4" r="1.3"/>
<circle cx="290.5" cy="142.8" r="1.3"/>
<circle cx="281.1" cy="161.4" r="1.3"/>
<circle cx="283.7" cy="166.3" r="1.3"/>
<circle cx="294.6" cy="139.5" r="1.3"/>
<circle cx="300.1" cy="148.6" r="1.3"/>
<circle cx="298.6" cy="157.1" r="1.3"/>
<circle cx="299" cy="167.7" r="1.3"/>
<circle cx="295.2" cy="174.5" r="1.3"/>
<circle cx="321.2" cy="114.9" r="1.3"/>
<circle cx="284.2" cy="164.3" r="1.3"/>
<circle cx="287.5" cy="166.1" r="1.3"/>
<circle cx="307.4" cy="137.8" r="1.3"/>
<circle cx="293.5" cy="141.9" r="1.3"/>
<circle cx="304.3" cy="130.5" r="1.3"/>
<circle cx="296.2" cy="166.9" r="1.3"/>
<circle cx="345.9" cy="96.7" r="1.3"/>
<circle cx="287.6" cy="172.3" r="1.3"/>
<circle cx="284.1" cy="156.5" r="1.3"/>
<circle cx="287.7" cy="149.2" r="1.3"/>
<circle cx="282.9" cy="163.2" r="1.3"/>
<circle cx="346.6" cy="75.7" r="1.3"/>
<circle cx="318.8" cy="131.7" r="1.3"/>
<circle cx="310.6" cy="118.6" r="1.3"/>
<circle cx="285.6" cy="157.3" r="1.3"/>
<circle cx="280.7" cy="172.3" r="1.3"/>
<circle cx="282.7" cy="174" r="1.3"/>
<circle cx="283.4" cy="162.5" r="1.3"/>
<circle cx="297.4" cy="155.7" r="1.3"/>
<circle cx="281.1" cy="155.3" r="1.3"/>
<circle cx="306.8" cy="143.8" r="1.3"/>
<circle cx="282.5" cy="174.2" r="1.3"/>
<circle cx="280.5" cy="160.5" r="1.3"/>
<circle cx="282.8" cy="172.5" r="1.3"/>
<circle cx="287" cy="166.4" r="1.3"/>
<circle cx="310.5" cy="136.6" r="1.3"/>
<circle cx="282.6" cy="168.2" r="1.3"/>
<circle cx="285.5" cy="153.9" r="1.3"/>
<circle cx="290.8" cy="145.7" r="1.3"/>
<circle cx="288.8" cy="140.5" r="1.3"/>
<circle cx="299" cy="132.7" r="1.3"/>
<circle cx="320.9" cy="120.7" r="1.3"/>
<circle cx="285.2" cy="152.7" r="1.3"/>
<circle cx="286.9" cy="169.4" r="1.3"/>
<circle cx="309.4" cy="155.9" r="1.3"/>
<circle cx="287.2" cy="160.8" r="1.3"/>
<circle cx="296.8" cy="151.3" r="1.3"/>
<circle cx="288.7" cy="159.6" r="1.3"/>
<circle cx="300.7" cy="116.6" r="1.3"/>
<circle cx="345.4" cy="105.9" r="1.3"/>
<circle cx="372.6" cy="62" r="1.3"/>
<circle cx="286.1" cy="156.1" r="1.3"/>
<circle cx="288" cy="171.1" r="1.3"/>
<circle cx="284.3" cy="171.2" r="1.3"/>
<circle cx="317.4" cy="152.3" r="1.3"/>
<circle cx="329" cy="117.4" r="1.3"/>
<circle cx="300.8" cy="133.4" r="1.3"/>
<circle cx="290.8" cy="146.4" r="1.3"/>
<circle cx="290.3" cy="158.6" r="1.3"/>
<circle cx="320.2" cy="153.6" r="1.3"/>
<circle cx="282.1" cy="164" r="1.3"/>
<circle cx="286.9" cy="133.3" r="1.3"/>
<circle cx="287.3" cy="163.7" r="1.3"/>
<circle cx="284.4" cy="160.7" r="1.3"/>
<circle cx="280.7" cy="163.3" r="1.3"/>
<circle cx="292.4" cy="154.1" r="1.3"/>
<circle cx="307.6" cy="154.3" r="1.3"/>
<circle cx="291.9" cy="158.1" r="1.3"/>
<circle cx="334.4" cy="62.7" r="1.3"/>
<circle cx="283.8" cy="170.3" r="1.3"/>
<circle cx="286.3" cy="158.7" r="1.3"/>
<circle cx="294.4" cy="131.7" r="1.3"/>
<circle cx="327.3" cy="111" r="1.3"/>
<circle cx="292.1" cy="161.6" r="1.3"/>
<circle cx="312.9" cy="107.9" r="1.3"/>
<circle cx="284.2" cy="163.9" r="1.3"/>
<circle cx="284.9" cy="163.3" r="1.3"/>
<circle cx="281.9" cy="168.1" r="1.3"/>
<circle cx="284.1" cy="165.1" r="1.3"/>
<circle cx="286.7" cy="171" r="1.3"/>
<circle cx="296.1" cy="151.9" r="1.3"/>
<circle cx="301.5" cy="151.6" r="1.3"/>
<circle cx="283.9" cy="155.3" r="1.3"/>
<circle cx="293.7" cy="144.4" r="1.3"/>
<circle cx="283.3" cy="167.7" r="1.3"/>
<circle cx="288.8" cy="166.7" r="1.3"/>
<circle cx="302.8" cy="157.6" r="1.3"/>
<circle cx="288.9" cy="158.1" r="1.3"/>
<circle cx="284.1" cy="144.6" r="1.3"/>
<circle cx="294" cy="156.3" r="1.3"/>
<circle cx="329.4" cy="120.7" r="1.3"/>
<circle cx="318.8" cy="115.1" r="1.3"/>
<circle cx="301.5" cy="152.3" r="1.3"/>
<circle cx="287.4" cy="149.9" r="1.3"/>
<circle cx="283.1" cy="165.2" r="1.3"/>
<circle cx="282.7" cy="160.4" r="1.3"/>
<circle cx="308.5" cy="145.2" r="1.3"/>
<circle cx="290.2" cy="166" r="1.3"/>
<circle cx="294.1" cy="165.2" r="1.3"/>
<circle cx="282.2" cy="155.7" r="1.3"/>
<circle cx="301.9" cy="140.3" r="1.3"/>
<circle cx="295.2" cy="166.6" r="1.3"/>
<circle cx="289.9" cy="150.9" r="1.3"/>
<circle cx="294.1" cy="132.3" r="1.3"/>
<circle cx="280.5" cy="157.7" r="1.3"/>
<circle cx="319.7" cy="106.3" r="1.3"/>
<circle cx="317.6" cy="126.3" r="1.3"/>
<circle cx="280.2" cy="167" r="1.3"/>
<circle cx="280.9" cy="160" r="1.3"/>
<circle cx="297.7" cy="151.4" r="1.3"/>
<circle cx="287.8" cy="152.3" r="1.3"/>
<circle cx="289" cy="151.1" r="1.3"/>
<circle cx="351" cy="107.1" r="1.3"/>
<circle cx="289.2" cy="165.2" r="1.3"/>
<circle cx="309.5" cy="142.2" r="1.3"/>
<circle cx="299.9" cy="131.9" r="1.3"/>
<circle cx="317.6" cy="138.7" r="1.3"/>
<circle cx="299.7" cy="158" r="1.3"/>
<circle cx="290" cy="144" r="1.3"/>
<circle cx="286.3" cy="167.3" r="1.3"/>
<circle cx="280.2" cy="172.5" r="1.3"/>
<circle cx="284.9" cy="150.4" r="1.3"/>
<circle cx="297.3" cy="130.1" r="1.3"/>
<circle cx="283.1" cy="169.1" r="1.3"/>
<circle cx="293" cy="173.7" r="1.3"/>
<circle cx="281" cy="163.8" r="1.3"/>
<circle cx="318.7" cy="122.4" r="1.3"/>
<circle cx="281.9" cy="170.3" r="1.3"/>
<circle cx="300.7" cy="172.4" r="1.3"/>
<circle cx="346.3" cy="114.7" r="1.3"/>
<circle cx="300.7" cy="151.5" r="1.3"/>
<circle cx="293.3" cy="171.9" r="1.3"/>
<circle cx="282.6" cy="173.9" r="1.3"/>
<circle cx="297.2" cy="148" r="1.3"/>
<circle cx="284.9" cy="150.3" r="1.3"/>
<circle cx="287.7" cy="152.3" r="1.3"/>
<circle cx="329.6" cy="112.6" r="1.3"/>
<circle cx="281" cy="172.1" r="1.3"/>
<circle cx="297" cy="168.5" r="1.3"/>
<circle cx="281.2" cy="162.6" r="1.3"/>
<circle cx="299.5" cy="154.1" r="1.3"/>
<circle cx="358.9" cy="102.8" r="1.3"/>
<circle cx="290.9" cy="135.2" r="1.3"/>
<circle cx="307.4" cy="139.1" r="1.3"/>
<circle cx="285.8" cy="173.7" r="1.3"/>
<circle cx="281.4" cy="167.9" r="1.3"/>
<circle cx="281.8" cy="161.7" r="1.3"/>
<circle cx="326.5" cy="121.9" r="1.3"/>
<circle cx="291.3" cy="151.5" r="1.3"/>
<circle cx="331.3" cy="120.1" r="1.3"/>
<circle cx="286.3" cy="151.7" r="1.3"/>
<circle cx="306.3" cy="123.8" r="1.3"/>
<circle cx="288.9" cy="151.8" r="1.3"/>
<circle cx="289" cy="147.1" r="1.3"/>
<circle cx="299.8" cy="139" r="1.3"/>
<circle cx="287.3" cy="163.3" r="1.3"/>
<circle cx="282.9" cy="168.4" r="1.3"/>
<circle cx="290.5" cy="169.7" r="1.3"/>
<circle cx="341" cy="125.2" r="1.3"/>
<circle cx="322" cy="132.9" r="1.3"/>
<circle cx="314.7" cy="122.5" r="1.3"/>
<circle cx="349.6" cy="94.3" r="1.3"/>
<circle cx="295.2" cy="142.1" r="1.3"/>
<circle cx="280.9" cy="148.3" r="1.3"/>
<circle cx="280.5" cy="166.3" r="1.3"/>
<circle cx="281.3" cy="162.8" r="1.3"/>
<circle cx="315.8" cy="142.9" r="1.3"/>
<circle cx="283.2" cy="161" r="1.3"/>
<circle cx="286" cy="172.6" r="1.3"/>
<circle cx="319.5" cy="90.6" r="1.3"/>
<circle cx="301.5" cy="152.5" r="1.3"/>
<circle cx="304.1" cy="138.7" r="1.3"/>
<circle cx="329.7" cy="93.4" r="1.3"/>
<circle cx="281.9" cy="161.1" r="1.3"/>
<circle cx="282" cy="151.7" r="1.3"/>
<circle cx="312" cy="133" r="1.3"/>
<circle cx="318.6" cy="142.1" r="1.3"/>
<circle cx="291.1" cy="145.8" r="1.3"/>
<circle cx="288" cy="166.7" r="1.3"/>
<circle cx="286" cy="158.5" r="1.3"/>
<circle cx="325.7" cy="98.2" r="1.3"/>
<circle cx="282.6" cy="170.2" r="1.3"/>
<circle cx="280.1" cy="161.9" r="1.3"/>
<circle cx="301.4" cy="164.7" r="1.3"/>
<circle cx="284.2" cy="174" r="1.3"/>
<circle cx="333.4" cy="100.9" r="1.3"/>
<circle cx="307.4" cy="126.5" r="1.3"/>
<circle cx="297.4" cy="143.1" r="1.3"/>
<circle cx="314.2" cy="127.8" r="1.3"/>
<circle cx="288.5" cy="145.7" r="1.3"/>
<circle cx="285.3" cy="154.4" r="1.3"/>
<circle cx="289.8" cy="165.4" r="1.3"/>
<circle cx="280.9" cy="165.3" r="1.3"/>
<circle cx="281.8" cy="163.5" r="1.3"/>
<circle cx="288.3" cy="157.7" r="1.3"/>
<circle cx="284.9" cy="145.8" r="1.3"/>
<circle cx="287.7" cy="160.4" r="1.3"/>
<circle cx="302.5" cy="126.3" r="1.3"/>
<circle cx="290.3" cy="167.6" r="1.3"/>
<circle cx="281.2" cy="165.8" r="1.3"/>
<circle cx="281.2" cy="160.6" r="1.3"/>
<circle cx="287.4" cy="158.9" r="1.3"/>
<circle cx="306" cy="151.7" r="1.3"/>
<circle cx="287.5" cy="156.9" r="1.3"/>
<circle cx="288.2" cy="163.1" r="1.3"/>
<circle cx="283.6" cy="175.1" r="1.3"/>
<circle cx="406.5" cy="56.2" r="1.3"/>
<circle cx="281.1" cy="175.6" r="1.3"/>
<circle cx="300.6" cy="142.1" r="1.3"/>
<circle cx="292.6" cy="148.3" r="1.3"/>
<circle cx="284.8" cy="158.4" r="1.3"/>
<circle cx="290.2" cy="151.4" r="1.3"/>
<circle cx="302.1" cy="108.1" r="1.3"/>
<circle cx="311.3" cy="143.9" r="1.3"/>
<circle cx="306.5" cy="146.6" r="1.3"/>
<circle cx="401.2" cy="77.2" r="1.3"/>
<circle cx="332.3" cy="126.9" r="1.3"/>
<circle cx="292.6" cy="167" r="1.3"/>
<circle cx="307.5" cy="112.4" r="1.3"/>
<circle cx="342.2" cy="95.1" r="1.3"/>
<circle cx="285.5" cy="152.8" r="1.3"/>
<circle cx="284.8" cy="160.3" r="1.3"/>
<circle cx="379" cy="73.2" r="1.3"/>
<circle cx="283.7" cy="165" r="1.3"/>
<circle cx="315.5" cy="110.5" r="1.3"/>
<circle cx="281.2" cy="165.3" r="1.3"/>
<circle cx="303.6" cy="142.4" r="1.3"/>
<circle cx="317.5" cy="146.2" r="1.3"/>
<circle cx="287.3" cy="170.6" r="1.3"/>
<circle cx="301.2" cy="142.8" r="1.3"/>
<circle cx="365.8" cy="64.5" r="1.3"/>
<circle cx="285.7" cy="162.8" r="1.3"/>
<circle cx="280.6" cy="164.4" r="1.3"/>
<circle cx="280.3" cy="175.3" r="1.3"/>
<circle cx="284.2" cy="155.1" r="1.3"/>
<circle cx="286" cy="153.4" r="1.3"/>
<circle cx="302.8" cy="120.2" r="1.3"/>
<circle cx="287.1" cy="155.4" r="1.3"/>
<circle cx="294.1" cy="152.5" r="1.3"/>
<circle cx="288.2" cy="143.9" r="1.3"/>
<circle cx="281" cy="164.1" r="1.3"/>
<circle cx="317.7" cy="110.5" r="1.3"/>
<circle cx="283" cy="158.8" r="1.3"/>
<circle cx="301.5" cy="150.9" r="1.3"/>
<circle cx="351.8" cy="93.8" r="1.3"/>
<circle cx="324.8" cy="111.4" r="1.3"/>
<circle cx="280.1" cy="166.9" r="1.3"/>
<circle cx="308.1" cy="163.6" r="1.3"/>
<circle cx="299.8" cy="153.3" r="1.3"/>
<circle cx="288" cy="159.5" r="1.3"/>
<circle cx="306.7" cy="152.6" r="1.3"/>
<circle cx="313.3" cy="139.9" r="1.3"/>
<circle cx="295.3" cy="123.4" r="1.3"/>
<circle cx="328.8" cy="148.4" r="1.3"/>
<circle cx="352.6" cy="67.6" r="1.3"/>
<circle cx="281.2" cy="168.1" r="1.3"/>
<circle cx="291" cy="158.7" r="1.3"/>
<circle cx="307.2" cy="119.2" r="1.3"/>
<circle cx="299.7" cy="175" r="1.3"/>
<circle cx="405" cy="41.3" r="1.3"/>
<circle cx="281.3" cy="162.4" r="1.3"/>
<circle cx="282.3" cy="170.1" r="1.3"/>
<circle cx="282.2" cy="167.6" r="1.3"/>
<circle cx="346.8" cy="108.9" r="1.3"/>
<circle cx="281.7" cy="159.3" r="1.3"/>
<circle cx="315.7" cy="155.3" r="1.3"/>
<circle cx="284.2" cy="163.7" r="1.3"/>
<circle cx="298.2" cy="141.1" r="1.3"/>
<circle cx="354.6" cy="64.1" r="1.3"/>
<circle cx="287.2" cy="155.9" r="1.3"/>
<circle cx="295.3" cy="164.8" r="1.3"/>
<circle cx="288" cy="161.9" r="1.3"/>
<circle cx="305" cy="132.6" r="1.3"/>
<circle cx="322" cy="130.1" r="1.3"/>
<circle cx="313.1" cy="115.8" r="1.3"/>
<circle cx="287.4" cy="163.6" r="1.3"/>
<circle cx="303.3" cy="137.5" r="1.3"/>
<circle cx="285.1" cy="152.2" r="1.3"/>
<circle cx="342.8" cy="91.9" r="1.3"/>
<circle cx="314.1" cy="123" r="1.3"/>
<circle cx="281" cy="160.4" r="1.3"/>
<circle cx="293.4" cy="141.4" r="1.3"/>
<circle cx="282.3" cy="163.7" r="1.3"/>
<circle cx="287.4" cy="174.9" r="1.3"/>
<circle cx="308.9" cy="114.2" r="1.3"/>
<circle cx="291" cy="144.4" r="1.3"/>
<circle cx="306.9" cy="127.9" r="1.3"/>
<circle cx="283" cy="164.8" r="1.3"/>
<circle cx="326" cy="137.9" r="1.3"/>
<circle cx="301.7" cy="173.4" r="1.3"/>
<circle cx="285.3" cy="170.7" r="1.3"/>
<circle cx="291.2" cy="159.9" r="1.3"/>
<circle cx="321.7" cy="139.8" r="1.3"/>
<circle cx="306.7" cy="138.2" r="1.3"/>
<circle cx="306" cy="145.4" r="1.3"/>
<circle cx="281.7" cy="158.6" r="1.3"/>
<circle cx="296.1" cy="166.1" r="1.3"/>
<circle cx="324.6" cy="99.3" r="1.3"/>
<circle cx="294.7" cy="155.7" r="1.3"/>
<circle cx="313.9" cy="127" r="1.3"/>
<circle cx="288.7" cy="175.3" r="1.3"/>
<circle cx="280.6" cy="157.6" r="1.3"/>
<circle cx="345.3" cy="108.3" r="1.3"/>
<circle cx="291.3" cy="145.8" r="1.3"/>
<circle cx="280.7" cy="165.9" r="1.3"/>
<circle cx="289.9" cy="151.2" r="1.3"/>
<circle cx="288.3" cy="151.3" r="1.3"/>
<circle cx="288" cy="162.6" r="1.3"/>
<circle cx="301.7" cy="164.4" r="1.3"/>
<circle cx="280.6" cy="164.4" r="1.3"/>
<circle cx="292.4" cy="142.2" r="1.3"/>
<circle cx="284.6" cy="155" r="1.3"/>
<circle cx="335.9" cy="84" r="1.3"/>
<circle cx="296.2" cy="142.4" r="1.3"/>
<circle cx="307" cy="153.3" r="1.3"/>
<circle cx="296.7" cy="133.6" r="1.3"/>
<circle cx="282.8" cy="152.2" r="1.3"/>
<circle cx="303.8" cy="151.5" r="1.3"/>
<circle cx="352.5" cy="84.9" r="1.3"/>
<circle cx="308.9" cy="148.1" r="1.3"/>
<circle cx="290.7" cy="153.3" r="1.3"/>
<circle cx="288.8" cy="149.6" r="1.3"/>
<circle cx="304.3" cy="155.5" r="1.3"/>
<circle cx="280.8" cy="167.5" r="1.3"/>
<circle cx="293.8" cy="162.6" r="1.3"/>
<circle cx="342" cy="65.9" r="1.3"/>
<circle cx="283.3" cy="167.8" r="1.3"/>
<circle cx="283.3" cy="156.8" r="1.3"/>
<circle cx="293.6" cy="144.9" r="1.3"/>
<circle cx="281.8" cy="161.2" r="1.3"/>
<circle cx="290.6" cy="138.9" r="1.3"/>
<circle cx="291.6" cy="132.4" r="1.3"/>
<circle cx="286" cy="173.2" r="1.3"/>
<circle cx="282.6" cy="165.5" r="1.3"/>
<circle cx="286.8" cy="169.8" r="1.3"/>
<circle cx="280.8" cy="158.8" r="1.3"/>
<circle cx="304.9" cy="135.2" r="1.3"/>
<circle cx="283.4" cy="166.9" r="1.3"/>
<circle cx="285.4" cy="166.2" r="1.3"/>
<circle cx="281.5" cy="162.9" r="1.3"/>
<circle cx="334.9" cy="106.8" r="1.3"/>
<circle cx="281.5" cy="167.1" r="1.3"/>
<circle cx="288.2" cy="164.2" r="1.3"/>
<circle cx="300.4" cy="123.5" r="1.3"/>
<circle cx="294.2" cy="149.4" r="1.3"/>
<circle cx="286.3" cy="162.7" r="1.3"/>
<circle cx="280" cy="174.4" r="1.3"/>
<circle cx="310.4" cy="132.9" r="1.3"/>
<circle cx="283.2" cy="160.7" r="1.3"/>
<circle cx="280.6" cy="174.2" r="1.3"/>
<circle cx="292.4" cy="157.7" r="1.3"/>
<circle cx="286.7" cy="159.3" r="1.3"/>
<circle cx="282.8" cy="169.6" r="1.3"/>
<circle cx="311" cy="137.5" r="1.3"/>
<circle cx="284.5" cy="167.6" r="1.3"/>
<circle cx="286.1" cy="152.1" r="1.3"/>
<circle cx="290.3" cy="171.8" r="1.3"/>
<circle cx="295.8" cy="152.9" r="1.3"/>
<circle cx="282.8" cy="163.1" r="1.3"/>
<circle cx="284.2" cy="150.8" r="1.3"/>
<circle cx="291.9" cy="158.9" r="1.3"/>
<circle cx="291.3" cy="155.5" r="1.3"/>
<circle cx="288" cy="136.1" r="1.3"/>
<circle cx="286.3" cy="157.3" r="1.3"/>
<circle cx="300.6" cy="171" r="1.3"/>
<circle cx="304.9" cy="126.3" r="1.3"/>
<circle cx="281.6" cy="161.3" r="1.3"/>
<circle cx="326.7" cy="109.6" r="1.3"/>
<circle cx="285.6" cy="174.4" r="1.3"/>
<circle cx="309.4" cy="121.4" r="1.3"/>
<circle cx="292.7" cy="152.3" r="1.3"/>
<circle cx="316.2" cy="120.6" r="1.3"/>
<circle cx="288.8" cy="153.1" r="1.3"/>
<circle cx="296.1" cy="146.7" r="1.3"/>
<circle cx="288.4" cy="154" r="1.3"/>
<circle cx="291.7" cy="157.2" r="1.3"/>
<circle cx="333.6" cy="103.7" r="1.3"/>
<circle cx="281.1" cy="174.9" r="1.3"/>
<circle cx="314.9" cy="152.1" r="1.3"/>
<circle cx="301.3" cy="135.4" r="1.3"/>
<circle cx="289" cy="144.4" r="1.3"/>
<circle cx="284.1" cy="159.8" r="1.3"/>
<circle cx="281" cy="169.9" r="1.3"/>
<circle cx="280.6" cy="167.6" r="1.3"/>
<circle cx="287.3" cy="159.5" r="1.3"/>
<circle cx="312.6" cy="117" r="1.3"/>
<circle cx="300.6" cy="164.5" r="1.3"/>
<circle cx="292.2" cy="160.1" r="1.3"/>
<circle cx="289.9" cy="152.1" r="1.3"/>
<circle cx="335.6" cy="90" r="1.3"/>
<circle cx="281.4" cy="154.3" r="1.3"/>
<circle cx="282.8" cy="171.9" r="1.3"/>
<circle cx="312.8" cy="128.9" r="1.3"/>
<circle cx="308.6" cy="126.1" r="1.3"/>
<circle cx="288.5" cy="159.6" r="1.3"/>
<circle cx="281.8" cy="169.4" r="1.3"/>
<circle cx="283.1" cy="163.8" r="1.3"/>
<circle cx="293.3" cy="131.3" r="1.3"/>
<circle cx="317.8" cy="113.6" r="1.3"/>
<circle cx="285.2" cy="169.5" r="1.3"/>
<circle cx="293.5" cy="142.9" r="1.3"/>
<circle cx="306.4" cy="119.7" r="1.3"/>
<circle cx="280.4" cy="162.3" r="1.3"/>
<circle cx="289.3" cy="161.5" r="1.3"/>
<circle cx="283.5" cy="160.2" r="1.3"/>
<circle cx="281.9" cy="164.8" r="1.3"/>
<circle cx="300.1" cy="150.9" r="1.3"/>
<circle cx="312.9" cy="114" r="1.3"/>
<circle cx="304.1" cy="141.5" r="1.3"/>
<circle cx="280.6" cy="167.9" r="1.3"/>
<circle cx="289.2" cy="164.3" r="1.3"/>
<circle cx="284.2" cy="161.1" r="1.3"/>
<circle cx="305.3" cy="131.4" r="1.3"/>
<circle cx="287.9" cy="145.8" r="1.3"/>
<circle cx="280.2" cy="170.2" r="1.3"/>
<circle cx="283.3" cy="173.6" r="1.3"/>
<circle cx="285.2" cy="171.7" r="1.3"/>
<circle cx="302.3" cy="103.9" r="1.3"/>
<circle cx="337.7" cy="93.1" r="1.3"/>
<circle cx="294.6" cy="169.9" r="1.3"/>
<circle cx="288.3" cy="146.3" r="1.3"/>
<circle cx="318.4" cy="125.4" r="1.3"/>
<circle cx="310.2" cy="120.9" r="1.3"/>
<circle cx="290.8" cy="158" r="1.3"/>
<circle cx="287.9" cy="146" r="1.3"/>
<circle cx="299.7" cy="112.7" r="1.3"/>
<circle cx="300.6" cy="157.8" r="1.3"/>
<circle cx="293.4" cy="172.9" r="1.3"/>
<circle cx="300.6" cy="140.4" r="1.3"/>
<circle cx="281.9" cy="166.3" r="1.3"/>
<circle cx="285.6" cy="170.5" r="1.3"/>
<circle cx="284.9" cy="173.4" r="1.3"/>
<circle cx="283.3" cy="162.8" r="1.3"/>
<circle cx="294.8" cy="169.9" r="1.3"/>
<circle cx="313.2" cy="142.2" r="1.3"/>
<circle cx="289.5" cy="174.3" r="1.3"/>
<circle cx="289.4" cy="165.4" r="1.3"/>
<circle cx="280.7" cy="171.5" r="1.3"/>
<circle cx="296.4" cy="148.4" r="1.3"/>
<circle cx="281" cy="163.1" r="1.3"/>
<circle cx="292.9" cy="168.4" r="1.3"/>
<circle cx="308.6" cy="155.9" r="1.3"/>
<circle cx="312.9" cy="139.6" r="1.3"/>
<circle cx="301.7" cy="129" r="1.3"/>
<circle cx="302" cy="138.3" r="1.3"/>
<circle cx="323" cy="139.1" r="1.3"/>
<circle cx="286.3" cy="164.6" r="1.3"/>
<circle cx="280.6" cy="168.1" r="1.3"/>
<circle cx="282.8" cy="158.6" r="1.3"/>
<circle cx="294.7" cy="142" r="1.3"/>
<circle cx="297" cy="157.6" r="1.3"/>
<circle cx="283" cy="160.8" r="1.3"/>
<circle cx="291.9" cy="158.4" r="1.3"/>
<circle cx="300.4" cy="139.9" r="1.3"/>
<circle cx="311" cy="138.7" r="1.3"/>
<circle cx="323.3" cy="103.6" r="1.3"/>
<circle cx="308.6" cy="125.7" r="1.3"/>
<circle cx="284.7" cy="167.9" r="1.3"/>
<circle cx="284" cy="156.5" r="1.3"/>
<circle cx="316.2" cy="132.2" r="1.3"/>
<circle cx="336.8" cy="95.2" r="1.3"/>
<circle cx="313.8" cy="115.6" r="1.3"/>
<circle cx="298.2" cy="147" r="1.3"/>
<circle cx="286.7" cy="144.4" r="1.3"/>
<circle cx="292.9" cy="166.9" r="1.3"/>
<circle cx="282.7" cy="167" r="1.3"/>
<circle cx="290" cy="135.7" r="1.3"/>
<circle cx="317.7" cy="119.3" r="1.3"/>
<circle cx="283.3" cy="161.1" r="1.3"/>
<circle cx="289.6" cy="164.2" r="1.3"/>
<circle cx="292.6" cy="170.5" r="1.3"/>
<circle cx="356" cy="109.2" r="1.3"/>
<circle cx="315.2" cy="120.2" r="1.3"/>
<circle cx="291.4" cy="150.6" r="1.3"/>
<circle cx="289.8" cy="172.7" r="1.3"/>
<circle cx="286.3" cy="164.5" r="1.3"/>
<circle cx="281" cy="169.3" r="1.3"/>
<circle cx="287.1" cy="146.7" r="1.3"/>
<circle cx="286.6" cy="146.6" r="1.3"/>
<circle cx="287.3" cy="144.7" r="1.3"/>
<circle cx="286.6" cy="172.9" r="1.3"/>
<circle cx="289.6" cy="169.9" r="1.3"/>
<circle cx="280.7" cy="156.5" r="1.3"/>
<circle cx="288.7" cy="154.8" r="1.3"/>
<circle cx="281.9" cy="171.6" r="1.3"/>
<circle cx="287.1" cy="163.3" r="1.3"/>
<circle cx="304.1" cy="131.1" r="1.3"/>
<circle cx="292.7" cy="173.7" r="1.3"/>
<circle cx="280.1" cy="170.2" r="1.3"/>
<circle cx="318.8" cy="100.2" r="1.3"/>
<circle cx="286.2" cy="155.1" r="1.3"/>
<circle cx="280.5" cy="167.3" r="1.3"/>
<circle cx="288.7" cy="174.1" r="1.3"/>
<circle cx="314.2" cy="121.4" r="1.3"/>
<circle cx="283.4" cy="163" r="1.3"/>
<circle cx="281.2" cy="172.9" r="1.3"/>
<circle cx="311" cy="156.4" r="1.3"/>
<circle cx="290.1" cy="171.6" r="1.3"/>
<circle cx="280.2" cy="172.3" r="1.3"/>
<circle cx="280.1" cy="173.1" r="1.3"/>
<circle cx="296" cy="172.9" r="1.3"/>
<circle cx="302.9" cy="152.5" r="1.3"/>
<circle cx="283.3" cy="166.2" r="1.3"/>
<circle cx="285.5" cy="162.7" r="1.3"/>
<circle cx="282.8" cy="150.4" r="1.3"/>
<circle cx="332.3" cy="106.4" r="1.3"/>
<circle cx="304.4" cy="131.1" r="1.3"/>
<circle cx="388.7" cy="58.1" r="1.3"/>
<circle cx="287.8" cy="162.4" r="1.3"/>
<circle cx="280.3" cy="160.4" r="1.3"/>
<circle cx="284.3" cy="161.3" r="1.3"/>
<circle cx="299.3" cy="120.1" r="1.3"/>
<circle cx="304.1" cy="163.5" r="1.3"/>
<circle cx="287.7" cy="170.5" r="1.3"/>
<circle cx="342.6" cy="91.4" r="1.3"/>
<circle cx="288.3" cy="150.9" r="1.3"/>
<circle cx="329.3" cy="95.1" r="1.3"/>
<circle cx="288.2" cy="135.8" r="1.3"/>
<circle cx="294.8" cy="152.5" r="1.3"/>
<circle cx="284" cy="166.9" r="1.3"/>
<circle cx="284.9" cy="166.5" r="1.3"/>
<circle cx="334.9" cy="125.2" r="1.3"/>
<circle cx="284.2" cy="164" r="1.3"/>
<circle cx="288.2" cy="160.9" r="1.3"/>
<circle cx="283.1" cy="155.7" r="1.3"/>
<circle cx="312.3" cy="130" r="1.3"/>
<circle cx="296" cy="156.4" r="1.3"/>
<circle cx="302" cy="124.1" r="1.3"/>
<circle cx="283.4" cy="162" r="1.3"/>
<circle cx="282.9" cy="160.5" r="1.3"/>
<circle cx="287" cy="155.1" r="1.3"/>
<circle cx="282.5" cy="165.5" r="1.3"/>
<circle cx="307.8" cy="121.7" r="1.3"/>
<circle cx="281.7" cy="172.4" r="1.3"/>
<circle cx="287" cy="175.5" r="1.3"/>
<circle cx="281.7" cy="169.2" r="1.3"/>
<circle cx="286.5" cy="157.7" r="1.3"/>
<circle cx="291" cy="175.3" r="1.3"/>
<circle cx="283.8" cy="159.4" r="1.3"/>
<circle cx="297.4" cy="128.2" r="1.3"/>
<circle cx="285.5" cy="162.9" r="1.3"/>
<circle cx="285.1" cy="168.3" r="1.3"/>
<circle cx="280.3" cy="166.8" r="1.3"/>
<circle cx="307.5" cy="157.1" r="1.3"/>
<circle cx="286.1" cy="139.7" r="1.3"/>
<circle cx="315.9" cy="137.3" r="1.3"/>
<circle cx="283" cy="174.7" r="1.3"/>
<circle cx="307.1" cy="158.9" r="1.3"/>
<circle cx="363.1" cy="91.2" r="1.3"/>
<circle cx="281.5" cy="171.5" r="1.3"/>
<circle cx="280.2" cy="170" r="1.3"/>
<circle cx="286.3" cy="137.8" r="1.3"/>
<circle cx="309.5" cy="166.2" r="1.3"/>
<circle cx="312.4" cy="142.6" r="1.3"/>
<circle cx="295.3" cy="134.4" r="1.3"/>
<circle cx="292.1" cy="152.9" r="1.3"/>
<circle cx="289.7" cy="160" r="1.3"/>
<circle cx="300.8" cy="146.6" r="1.3"/>
<circle cx="286.2" cy="154.1" r="1.3"/>
<circle cx="283.1" cy="173.5" r="1.3"/>
<circle cx="285.6" cy="151" r="1.3"/>
<circle cx="285.9" cy="170.9" r="1.3"/>
<circle cx="289.4" cy="160" r="1.3"/>
<circle cx="288.5" cy="157.5" r="1.3"/>
<circle cx="283.4" cy="151.8" r="1.3"/>
<circle cx="299" cy="139.5" r="1.3"/>
<circle cx="318.1" cy="110.1" r="1.3"/>
<circle cx="283.7" cy="172.4" r="1.3"/>
<circle cx="310.5" cy="128" r="1.3"/>
<circle cx="297.2" cy="127.1" r="1.3"/>
<circle cx="302.3" cy="145.8" r="1.3"/>
<circle cx="309.3" cy="160.5" r="1.3"/>
<circle cx="288.1" cy="151.4" r="1.3"/>
<circle cx="313.3" cy="143.1" r="1.3"/>
<circle cx="300" cy="137.3" r="1.3"/>
<circle cx="288.4" cy="171.6" r="1.3"/>
<circle cx="285.2" cy="151" r="1.3"/>
<circle cx="297.4" cy="147.5" r="1.3"/>
<circle cx="294.1" cy="153" r="1.3"/>
<circle cx="293.8" cy="148.4" r="1.3"/>
<circle cx="307.4" cy="120.4" r="1.3"/>
<circle cx="291.1" cy="138.7" r="1.3"/>
<circle cx="285.6" cy="173.4" r="1.3"/>
<circle cx="310.6" cy="110.4" r="1.3"/>
<circle cx="286.6" cy="152.1" r="1.3"/>
<circle cx="302.5" cy="118.8" r="1.3"/>
<circle cx="360.9" cy="96.6" r="1.3"/>
<circle cx="296" cy="131.2" r="1.3"/>
<circle cx="286.9" cy="165.9" r="1.3"/>
<circle cx="280.2" cy="158.9" r="1.3"/>
<circle cx="280.2" cy="160.3" r="1.3"/>
<circle cx="292.9" cy="167.5" r="1.3"/>
<circle cx="282" cy="158.6" r="1.3"/>
<circle cx="295.6" cy="160.5" r="1.3"/>
<circle cx="281.8" cy="169.5" r="1.3"/>
<circle cx="308" cy="150" r="1.3"/>
<circle cx="285.2" cy="155.6" r="1.3"/>
<circle cx="281.4" cy="162.2" r="1.3"/>
<circle cx="284.2" cy="164.3" r="1.3"/>
<circle cx="307.6" cy="148.8" r="1.3"/>
<circle cx="280.3" cy="172.7" r="1.3"/>
<circle cx="322" cy="95.3" r="1.3"/>
<circle cx="297" cy="169.4" r="1.3"/>
<circle cx="306" cy="146.9" r="1.3"/>
<circle cx="282.2" cy="147.2" r="1.3"/>
<circle cx="285.3" cy="165.8" r="1.3"/>
<circle cx="292.1" cy="160.4" r="1.3"/>
<circle cx="295" cy="159.8" r="1.3"/>
<circle cx="281.1" cy="167.4" r="1.3"/>
<circle cx="296.9" cy="147.8" r="1.3"/>
<circle cx="306.4" cy="135.4" r="1.3"/>
<circle cx="283.2" cy="159.6" r="1.3"/>
<circle cx="282.7" cy="172.4" r="1.3"/>
<circle cx="284.2" cy="169.4" r="1.3"/>
<circle cx="304.6" cy="136.8" r="1.3"/>
<circle cx="293.6" cy="123.4" r="1.3"/>
<circle cx="280.4" cy="173.5" r="1.3"/>
<circle cx="328" cy="116.9" r="1.3"/>
<circle cx="291" cy="153.6" r="1.3"/>
<circle cx="291" cy="156.7" r="1.3"/>
<circle cx="287.3" cy="148.5" r="1.3"/>
<circle cx="281.9" cy="156.6" r="1.3"/>
<circle cx="300.2" cy="136.7" r="1.3"/>
<circle cx="281.2" cy="170.6" r="1.3"/>
<circle cx="304.9" cy="139.8" r="1.3"/>
<circle cx="294.1" cy="156.2" r="1.3"/>
<circle cx="284.3" cy="151.6" r="1.3"/>
<circle cx="280.5" cy="171.1" r="1.3"/>
<circle cx="303.9" cy="150.8" r="1.3"/>
<circle cx="286" cy="160.2" r="1.3"/>
<circle cx="280.7" cy="164.4" r="1.3"/>
<circle cx="285.4" cy="168.1" r="1.3"/>
<circle cx="286.2" cy="152.2" r="1.3"/>
<circle cx="302.2" cy="163.8" r="1.3"/>
<circle cx="370" cy="65.9" r="1.3"/>
<circle cx="305" cy="128.2" r="1.3"/>
<circle cx="297.8" cy="151.1" r="1.3"/>
<circle cx="283.1" cy="155.6" r="1.3"/>
<circle cx="319.3" cy="124.3" r="1.3"/>
<circle cx="281.9" cy="162.4" r="1.3"/>
<circle cx="287.5" cy="168.9" r="1.3"/>
<circle cx="309.8" cy="130.2" r="1.3"/>
<circle cx="286.3" cy="174.8" r="1.3"/>
<circle cx="315.4" cy="105.1" r="1.3"/>
<circle cx="292" cy="158.6" r="1.3"/>
<circle cx="289.1" cy="159.3" r="1.3"/>
<circle cx="301.8" cy="147.8" r="1.3"/>
<circle cx="280.1" cy="166.1" r="1.3"/>
<circle cx="290.1" cy="141.9" r="1.3"/>
<circle cx="287.7" cy="140.3" r="1.3"/>
<circle cx="287.9" cy="167.9" r="1.3"/>
<circle cx="302" cy="137.7" r="1.3"/>
<circle cx="288.2" cy="147.2" r="1.3"/>
<circle cx="295.2" cy="163.3" r="1.3"/>
<circle cx="292.1" cy="137.1" r="1.3"/>
<circle cx="287.4" cy="147.7" r="1.3"/>
<circle cx="284.5" cy="153.4" r="1.3"/>
<circle cx="314.4" cy="111.4" r="1.3"/>
<circle cx="286.6" cy="150.6" r="1.3"/>
<circle cx="289.5" cy="147.7" r="1.3"/>
<circle cx="305.4" cy="145.1" r="1.3"/>
<circle cx="280.1" cy="163.3" r="1.3"/>
<circle cx="317.2" cy="109.4" r="1.3"/>
<circle cx="292.1" cy="144.8" r="1.3"/>
<circle cx="282.9" cy="173" r="1.3"/>
<circle cx="283.2" cy="151.5" r="1.3"/>
<circle cx="308" cy="116.8" r="1.3"/>
<circle cx="280" cy="154.6" r="1.3"/>
<circle cx="296.1" cy="172.1" r="1.3"/>
<circle cx="310.6" cy="118.6" r="1.3"/>
<circle cx="292.1" cy="137.6" r="1.3"/>
<circle cx="303.3" cy="118.6" r="1.3"/>
<circle cx="280.5" cy="168.1" r="1.3"/>
<circle cx="281.7" cy="167.6" r="1.3"/>
<circle cx="306.2" cy="131.6" r="1.3"/>
<circle cx="284.5" cy="159.2" r="1.3"/>
<circle cx="280.9" cy="164.6" r="1.3"/>
<circle cx="347.7" cy="106.8" r="1.3"/>
<circle cx="282.2" cy="153.7" r="1.3"/>
<circle cx="290.4" cy="137.2" r="1.3"/>
<circle cx="301.7" cy="162.4" r="1.3"/>
<circle cx="290" cy="157.8" r="1.3"/>
<circle cx="286.6" cy="150.6" r="1.3"/>
<circle cx="285.6" cy="152" r="1.3"/>
<circle cx="323.3" cy="114.5" r="1.3"/>
<circle cx="288.7" cy="163.2" r="1.3"/>
<circle cx="284.3" cy="163" r="1.3"/>
<circle cx="283.4" cy="169.5" r="1.3"/>
<circle cx="289" cy="140.7" r="1.3"/>
<circle cx="305.6" cy="120.9" r="1.3"/>
<circle cx="281.8" cy="156.8" r="1.3"/>
<circle cx="297" cy="135.6" r="1.3"/>
<circle cx="318.5" cy="123.7" r="1.3"/>
<circle cx="296.1" cy="139.3" r="1.3"/>
<circle cx="282.8" cy="159.9" r="1.3"/>
<circle cx="286.2" cy="167" r="1.3"/>
<circle cx="289.9" cy="166.9" r="1.3"/>
<circle cx="298.2" cy="149.1" r="1.3"/>
<circle cx="286" cy="156.2" r="1.3"/>
<circle cx="296.3" cy="139.5" r="1.3"/>
<circle cx="305.9" cy="130.9" r="1.3"/>
<circle cx="291" cy="163.8" r="1.3"/>
<circle cx="280.7" cy="167.7" r="1.3"/>
<circle cx="306" cy="110.8" r="1.3"/>
<circle cx="282.4" cy="172.2" r="1.3"/>
<circle cx="315.9" cy="115" r="1.3"/>
<circle cx="286" cy="157.5" r="1.3"/>
<circle cx="315.6" cy="107.5" r="1.3"/>
<circle cx="286" cy="166.8" r="1.3"/>
<circle cx="282.8" cy="163.4" r="1.3"/>
<circle cx="323.5" cy="107.5" r="1.3"/>
<circle cx="284.7" cy="167" r="1.3"/>
<circle cx="282.4" cy="168.8" r="1.3"/>
<circle cx="295.8" cy="153.9" r="1.3"/>
<circle cx="280.2" cy="172.5" r="1.3"/>
<circle cx="304.7" cy="151.7" r="1.3"/>
<circle cx="300.8" cy="155" r="1.3"/>
<circle cx="281.6" cy="171.1" r="1.3"/>
<circle cx="297.8" cy="162.3" r="1.3"/>
<circle cx="312.5" cy="108.1" r="1.3"/>
<circle cx="303.8" cy="133.1" r="1.3"/>
<circle cx="295.6" cy="146.3" r="1.3"/>
<circle cx="296.9" cy="157.3" r="1.3"/>
<circle cx="281.7" cy="155.3" r="1.3"/>
<circle cx="317.7" cy="104" r="1.3"/>
<circle cx="284.6" cy="153.1" r="1.3"/>
<circle cx="280.7" cy="161.4" r="1.3"/>
<circle cx="280" cy="169.2" r="1.3"/>
<circle cx="286.1" cy="165.1" r="1.3"/>
<circle cx="294" cy="139.2" r="1.3"/>
<circle cx="323.4" cy="111.8" r="1.3"/>
<circle cx="302.7" cy="129.9" r="1.3"/>
<circle cx="282.1" cy="174.5" r="1.3"/>
<circle cx="283.4" cy="170.9" r="1.3"/>
<circle cx="319.7" cy="121.2" r="1.3"/>
<circle cx="281" cy="165.5" r="1.3"/>
<circle cx="284.2" cy="167.9" r="1.3"/>
<circle cx="329.2" cy="106.3" r="1.3"/>
<circle cx="295.1" cy="162.1" r="1.3"/>
<circle cx="280.9" cy="155.6" r="1.3"/>
<circle cx="287.2" cy="160" r="1.3"/>
<circle cx="280.8" cy="174.3" r="1.3"/>
<circle cx="372.2" cy="86.8" r="1.3"/>
<circle cx="280.4" cy="170.1" r="1.3"/>
<circle cx="283.7" cy="170.4" r="1.3"/>
<circle cx="316.8" cy="142.7" r="1.3"/>
<circle cx="297.4" cy="109.9" r="1.3"/>
<circle cx="283.4" cy="153.4" r="1.3"/>
<circle cx="285.1" cy="174.4" r="1.3"/>
<circle cx="300.9" cy="130.9" r="1.3"/>
<circle cx="330.3" cy="123.3" r="1.3"/>
<circle cx="288" cy="168.3" r="1.3"/>
<circle cx="289.8" cy="166.9" r="1.3"/>
<circle cx="284.4" cy="166" r="1.3"/>
<circle cx="338.8" cy="93.1" r="1.3"/>
<circle cx="306.8" cy="152.3" r="1.3"/>
<circle cx="280.9" cy="162.3" r="1.3"/>
<circle cx="307.6" cy="139.6" r="1.3"/>
<circle cx="283.7" cy="162" r="1.3"/>
<circle cx="339.2" cy="89.2" r="1.3"/>
<circle cx="284.7" cy="160.4" r="1.3"/>
<circle cx="304.2" cy="126.2" r="1.3"/>
<circle cx="291.6" cy="163.6" r="1.3"/>
<circle cx="322.1" cy="102.9" r="1.3"/>
<circle cx="300.6" cy="112.1" r="1.3"/>
<circle cx="280.6" cy="164.8" r="1.3"/>
<circle cx="380.5" cy="83.4" r="1.3"/>
<circle cx="328.9" cy="86.2" r="1.3"/>
<circle cx="322.5" cy="103" r="1.3"/>
<circle cx="301.3" cy="123.7" r="1.3"/>
<circle cx="287.6" cy="166.1" r="1.3"/>
<circle cx="289.8" cy="162.6" r="1.3"/>
<circle cx="299.4" cy="163.8" r="1.3"/>
<circle cx="312.2" cy="129.9" r="1.3"/>
<circle cx="289.2" cy="145.9" r="1.3"/>
<circle cx="281.3" cy="167.2" r="1.3"/>
<circle cx="287" cy="170.1" r="1.3"/>
<circle cx="327.9" cy="122.3" r="1.3"/>
<circle cx="284.5" cy="167.2" r="1.3"/>
<circle cx="282.9" cy="163.9" r="1.3"/>
<circle cx="282.4" cy="170.9" r="1.3"/>
<circle cx="310.8" cy="135.1" r="1.3"/>
<circle cx="281.6" cy="169.8" r="1.3"/>
<circle cx="281.8" cy="174.4" r="1.3"/>
<circle cx="299.2" cy="144.1" r="1.3"/>
<circle cx="346" cy="114.4" r="1.3"/>
<circle cx="296.2" cy="138.5" r="1.3"/>
<circle cx="304.8" cy="163.8" r="1.3"/>
<circle cx="305.6" cy="130.6" r="1.3"/>
<circle cx="306" cy="112.1" r="1.3"/>
<circle cx="341.6" cy="73.2" r="1.3"/>
<circle cx="281.3" cy="167" r="1.3"/>
<circle cx="283.5" cy="157.3" r="1.3"/>
<circle cx="290" cy="156.9" r="1.3"/>
<circle cx="280.6" cy="171.5" r="1.3"/>
<circle cx="331.5" cy="113.1" r="1.3"/>
<circle cx="297.4" cy="156.9" r="1.3"/>
<circle cx="297.8" cy="144.3" r="1.3"/>
<circle cx="283.3" cy="160.6" r="1.3"/>
<circle cx="286.4" cy="175.1" r="1.3"/>
<circle cx="281.9" cy="170.8" r="1.3"/>
<circle cx="295.5" cy="165.3" r="1.3"/>
<circle cx="283.8" cy="159.5" r="1.3"/>
<circle cx="402.8" cy="55.2" r="1.3"/>
<circle cx="347.7" cy="80.3" r="1.3"/>
<circle cx="296.8" cy="149.4" r="1.3"/>
<circle cx="312.1" cy="122.5" r="1.3"/>
<circle cx="363.4" cy="111.5" r="1.3"/>
<circle cx="289.5" cy="162.7" r="1.3"/>
<circle cx="280.1" cy="169.9" r="1.3"/>
<circle cx="289" cy="153.5" r="1.3"/>
<circle cx="299.3" cy="140.6" r="1.3"/>
<circle cx="338.3" cy="119.4" r="1.3"/>
<circle cx="288.2" cy="157.9" r="1.3"/>
<circle cx="283" cy="165.5" r="1.3"/>
<circle cx="280.2" cy="166" r="1.3"/>
<circle cx="313.6" cy="153.7" r="1.3"/>
<circle cx="286.5" cy="151.4" r="1.3"/>
<circle cx="297.2" cy="137.8" r="1.3"/>
<circle cx="281.5" cy="172.7" r="1.3"/>
<circle cx="288.1" cy="159.1" r="1.3"/>
<circle cx="313.2" cy="145" r="1.3"/>
<circle cx="327.7" cy="103.2" r="1.3"/>
<circle cx="311.5" cy="124.6" r="1.3"/>
<circle cx="373.2" cy="97.8" r="1.3"/>
<circle cx="290.3" cy="158.4" r="1.3"/>
<circle cx="297.9" cy="151.6" r="1.3"/>
<circle cx="284.9" cy="161.7" r="1.3"/>
<circle cx="339.4" cy="103.1" r="1.3"/>
<circle cx="290.8" cy="165" r="1.3"/>
<circle cx="295.8" cy="124" r="1.3"/>
<circle cx="280.4" cy="166.3" r="1.3"/>
<circle cx="299" cy="145.5" r="1.3"/>
<circle cx="282" cy="162.8" r="1.3"/>
<circle cx="294.9" cy="154.8" r="1.3"/>
<circle cx="295.7" cy="156.2" r="1.3"/>
<circle cx="291.1" cy="154" r="1.3"/>
<circle cx="284.7" cy="147.4" r="1.3"/>
<circle cx="305.1" cy="140.7" r="1.3"/>
<circle cx="394.3" cy="88" r="1.3"/>
<circle cx="382.3" cy="70" r="1.3"/>
<circle cx="283.1" cy="149.1" r="1.3"/>
<circle cx="289.6" cy="147.5" r="1.3"/>
<circle cx="300.5" cy="120.6" r="1.3"/>
<circle cx="282.9" cy="175.2" r="1.3"/>
<circle cx="290.4" cy="142" r="1.3"/>
<circle cx="296.9" cy="133" r="1.3"/>
<circle cx="286.3" cy="158.8" r="1.3"/>
<circle cx="297.1" cy="143.1" r="1.3"/>
<circle cx="295.4" cy="128.7" r="1.3"/>
<circle cx="407.9" cy="51.5" r="1.3"/>
<circle cx="289.4" cy="146.3" r="1.3"/>
<circle cx="291.1" cy="148.1" r="1.3"/>
<circle cx="314.2" cy="114.1" r="1.3"/>
<circle cx="290.2" cy="165.7" r="1.3"/>
<circle cx="307.9" cy="134.8" r="1.3"/>
<circle cx="284.8" cy="159.7" r="1.3"/>
<circle cx="284.5" cy="167" r="1.3"/>
<circle cx="295.4" cy="147.4" r="1.3"/>
<circle cx="287.1" cy="166.7" r="1.3"/>
<circle cx="297.2" cy="133.9" r="1.3"/>
<circle cx="288.1" cy="169.4" r="1.3"/>
<circle cx="302.1" cy="142.4" r="1.3"/>
<circle cx="284.4" cy="156.8" r="1.3"/>
<circle cx="306" cy="164.7" r="1.3"/>
<circle cx="281.1" cy="158.4" r="1.3"/>
<circle cx="327.7" cy="126.2" r="1.3"/>
<circle cx="306.4" cy="156.7" r="1.3"/>
<circle cx="286.9" cy="146.8" r="1.3"/>
<circle cx="325.8" cy="116.9" r="1.3"/>
<circle cx="318.3" cy="111.3" r="1.3"/>
<circle cx="350.7" cy="81.4" r="1.3"/>
<circle cx="282.5" cy="158.4" r="1.3"/>
<circle cx="291.4" cy="128.5" r="1.3"/>
<circle cx="286.9" cy="160.7" r="1.3"/>
<circle cx="284.3" cy="164.7" r="1.3"/>
<circle cx="284.2" cy="169.9" r="1.3"/>
<circle cx="328.3" cy="71.5" r="1.3"/>
<circle cx="292.4" cy="146.5" r="1.3"/>
<circle cx="297.8" cy="145.9" r="1.3"/>
<circle cx="324.8" cy="111.3" r="1.3"/>
<circle cx="309.9" cy="132.1" r="1.3"/>
<circle cx="334.8" cy="101.4" r="1.3"/>
<circle cx="281.4" cy="165.3" r="1.3"/>
<circle cx="318.8" cy="125.7" r="1.3"/>
<circle cx="285.3" cy="159.5" r="1.3"/>
<circle cx="306.1" cy="143" r="1.3"/>
<circle cx="293.8" cy="170" r="1.3"/>
<circle cx="285.1" cy="168.5" r="1.3"/>
<circle cx="320.5" cy="106.9" r="1.3"/>
<circle cx="331.1" cy="92.7" r="1.3"/>
<circle cx="281.7" cy="175.2" r="1.3"/>
<circle cx="296.7" cy="158.9" r="1.3"/>
<circle cx="308.8" cy="155.2" r="1.3"/>
<circle cx="293.9" cy="150.7" r="1.3"/>
<circle cx="282.7" cy="159.3" r="1.3"/>
<circle cx="370" cy="77.7" r="1.3"/>
<circle cx="293.5" cy="145" r="1.3"/>
<circle cx="280" cy="166.8" r="1.3"/>
<circle cx="312.4" cy="127.5" r="1.3"/>
<circle cx="280.3" cy="153.4" r="1.3"/>
<circle cx="284.3" cy="160.3" r="1.3"/>
<circle cx="293.9" cy="134.8" r="1.3"/>
<circle cx="286.8" cy="146.9" r="1.3"/>
<circle cx="284.5" cy="155.8" r="1.3"/>
<circle cx="296.7" cy="126.5" r="1.3"/>
<circle cx="328" cy="100.7" r="1.3"/>
<circle cx="283.8" cy="169.2" r="1.3"/>
<circle cx="313.3" cy="118.5" r="1.3"/>
<circle cx="291.7" cy="166.1" r="1.3"/>
<circle cx="313.5" cy="142.8" r="1.3"/>
<circle cx="280.1" cy="172.9" r="1.3"/>
<circle cx="303.6" cy="142.5" r="1.3"/>
<circle cx="280" cy="172.8" r="1.3"/>
<circle cx="294.8" cy="160" r="1.3"/>
<circle cx="312.9" cy="127.2" r="1.3"/>
<circle cx="286.8" cy="148.4" r="1.3"/>
<circle cx="293.3" cy="146.3" r="1.3"/>
<circle cx="286.5" cy="168.1" r="1.3"/>
<circle cx="280.4" cy="174.6" r="1.3"/>
<circle cx="289.8" cy="145.8" r="1.3"/>
<circle cx="326.2" cy="131.9" r="1.3"/>
<circle cx="285.4" cy="159.7" r="1.3"/>
<circle cx="302.2" cy="124.1" r="1.3"/>
<circle cx="310.1" cy="110.1" r="1.3"/>
<circle cx="284" cy="169.1" r="1.3"/>
<circle cx="297.2" cy="160.7" r="1.3"/>
<circle cx="290.2" cy="157" r="1.3"/>
<circle cx="287.5" cy="149.7" r="1.3"/>
<circle cx="304.2" cy="146.1" r="1.3"/>
<circle cx="303.3" cy="151.4" r="1.3"/>
<circle cx="331.2" cy="108.3" r="1.3"/>
<circle cx="326.5" cy="118" r="1.3"/>
<circle cx="297.1" cy="112.3" r="1.3"/>
<circle cx="301.8" cy="135.3" r="1.3"/>
<circle cx="326.1" cy="98.8" r="1.3"/>
<circle cx="287.2" cy="162.6" r="1.3"/>
<circle cx="296.3" cy="169.9" r="1.3"/>
<circle cx="315.2" cy="124" r="1.3"/>
<circle cx="283.7" cy="159.3" r="1.3"/>
<circle cx="280.5" cy="174.9" r="1.3"/>
<circle cx="283.3" cy="146.3" r="1.3"/>
<circle cx="286.6" cy="164.5" r="1.3"/>
<circle cx="281.9" cy="161.9" r="1.3"/>
<circle cx="288.5" cy="162.6" r="1.3"/>
<circle cx="305.2" cy="145.9" r="1.3"/>
<circle cx="310.5" cy="127.3" r="1.3"/>
<circle cx="283" cy="163" r="1.3"/>
<circle cx="282.3" cy="161.4" r="1.3"/>
<circle cx="284" cy="166.6" r="1.3"/>
<circle cx="309.1" cy="125.2" r="1.3"/>
<circle cx="314.8" cy="121.9" r="1.3"/>
<circle cx="283.5" cy="174.4" r="1.3"/>
<circle cx="312" cy="158.6" r="1.3"/>
<circle cx="305.8" cy="138.9" r="1.3"/>
<circle cx="289.5" cy="163.4" r="1.3"/>
<circle cx="285" cy="174.9" r="1.3"/>
<circle cx="321.3" cy="121.6" r="1.3"/>
<circle cx="290.9" cy="151.8" r="1.3"/>
<circle cx="287" cy="155.2" r="1.3"/>
<circle cx="288" cy="150.1" r="1.3"/>
<circle cx="280.1" cy="173.5" r="1.3"/>
<circle cx="297.2" cy="137.2" r="1.3"/>
<circle cx="281.9" cy="169.9" r="1.3"/>
<circle cx="329.6" cy="104.6" r="1.3"/>
<circle cx="280.5" cy="175.2" r="1.3"/>
<circle cx="287.1" cy="165.5" r="1.3"/>
<circle cx="334.5" cy="123" r="1.3"/>
<circle cx="280.4" cy="156.2" r="1.3"/>
<circle cx="280.8" cy="161.6" r="1.3"/>
<circle cx="287.6" cy="155.2" r="1.3"/>
<circle cx="320.1" cy="121.8" r="1.3"/>
<circle cx="308.8" cy="136.5" r="1.3"/>
<circle cx="281.7" cy="168.6" r="1.3"/>
<circle cx="287.2" cy="160.6" r="1.3"/>
<circle cx="353" cy="88.4" r="1.3"/>
<circle cx="285.1" cy="154.3" r="1.3"/>
<circle cx="280.3" cy="162.2" r="1.3"/>
<circle cx="343.1" cy="116.6" r="1.3"/>
<circle cx="284.1" cy="165.7" r="1.3"/>
<circle cx="283.5" cy="159.6" r="1.3"/>
<circle cx="303.7" cy="165.7" r="1.3"/>
<circle cx="290.9" cy="147.9" r="1.3"/>
<circle cx="281.4" cy="161.1" r="1.3"/>
<circle cx="314.9" cy="145.4" r="1.3"/>
<circle cx="311.7" cy="124.6" r="1.3"/>
<circle cx="280.5" cy="170.5" r="1.3"/>
<circle cx="281.2" cy="165.4" r="1.3"/>
<circle cx="280.2" cy="170.8" r="1.3"/>
<circle cx="281.3" cy="162.4" r="1.3"/>
<circle cx="283.2" cy="156.2" r="1.3"/>
<circle cx="354.2" cy="73.9" r="1.3"/>
<circle cx="296.8" cy="131.5" r="1.3"/>
<circle cx="284.7" cy="156.2" r="1.3"/>
<circle cx="286.8" cy="147.5" r="1.3"/>
<circle cx="311" cy="126" r="1.3"/>
<circle cx="285.3" cy="158.7" r="1.3"/>
<circle cx="293.2" cy="151.3" r="1.3"/>
<circle cx="282" cy="170.6" r="1.3"/>
<circle cx="326.9" cy="135.8" r="1.3"/>
<circle cx="286.2" cy="166.2" r="1.3"/>
<circle cx="292.2" cy="173.5" r="1.3"/>
<circle cx="289.1" cy="169.9" r="1.3"/>
<circle cx="290.1" cy="157.1" r="1.3"/>
<circle cx="303.3" cy="151.5" r="1.3"/>
<circle cx="285.7" cy="174.7" r="1.3"/>
<circle cx="294" cy="165.9" r="1.3"/>
<circle cx="299.9" cy="152.9" r="1.3"/>
<circle cx="284.9" cy="147.1" r="1.3"/>
<circle cx="311.1" cy="132.4" r="1.3"/>
<circle cx="282.7" cy="161.8" r="1.3"/>
<circle cx="366.9" cy="93" r="1.3"/>
<circle cx="316.6" cy="123.9" r="1.3"/>
<circle cx="280.1" cy="163.9" r="1.3"/>
<circle cx="305.1" cy="130.8" r="1.3"/>
<circle cx="295.3" cy="165" r="1.3"/>
<circle cx="314.2" cy="145.7" r="1.3"/>
<circle cx="281.2" cy="165.1" r="1.3"/>
<circle cx="297.9" cy="168" r="1.3"/>
<circle cx="290.2" cy="171.7" r="1.3"/>
<circle cx="312.7" cy="122.4" r="1.3"/>
<circle cx="296.3" cy="152.8" r="1.3"/>
<circle cx="301.1" cy="157.5" r="1.3"/>
<circle cx="287.9" cy="144.3" r="1.3"/>
<circle cx="285.4" cy="159.2" r="1.3"/>
<circle cx="288.4" cy="172.1" r="1.3"/>
<circle cx="310" cy="134.9" r="1.3"/>
<circle cx="293.8" cy="155.4" r="1.3"/>
<circle cx="314.4" cy="142.4" r="1.3"/>
<circle cx="287.6" cy="145.4" r="1.3"/>
<circle cx="290.4" cy="141.6" r="1.3"/>
<circle cx="280.4" cy="165.3" r="1.3"/>
<circle cx="315" cy="123.4" r="1.3"/>
<circle cx="314.1" cy="125.8" r="1.3"/>
<circle cx="298.3" cy="148.9" r="1.3"/>
<circle cx="284.7" cy="147" r="1.3"/>
<circle cx="290.7" cy="140.8" r="1.3"/>
<circle cx="304.1" cy="131.9" r="1.3"/>
<circle cx="289.9" cy="147.1" r="1.3"/>
<circle cx="285" cy="148.7" r="1.3"/>
<circle cx="281.5" cy="160.2" r="1.3"/>
<circle cx="305.9" cy="128.2" r="1.3"/>
<circle cx="295.9" cy="136.8" r="1.3"/>
<circle cx="288.7" cy="153.6" r="1.3"/>
<circle cx="320.4" cy="118.1" r="1.3"/>
<circle cx="282" cy="172" r="1.3"/>
<circle cx="318.6" cy="142.1" r="1.3"/>
<circle cx="302.2" cy="141" r="1.3"/>
<circle cx="289.7" cy="142.3" r="1.3"/>
<circle cx="281.5" cy="164.7" r="1.3"/>
<circle cx="287.2" cy="156.1" r="1.3"/>
<circle cx="280.8" cy="160.7" r="1.3"/>
<circle cx="288.1" cy="173.6" r="1.3"/>
<circle cx="282.6" cy="168.5" r="1.3"/>
<circle cx="305" cy="119" r="1.3"/>
<circle cx="374" cy="66.5" r="1.3"/>
<circle cx="300.3" cy="155" r="1.3"/>
<circle cx="302.4" cy="115" r="1.3"/>
<circle cx="284.1" cy="163.5" r="1.3"/>
<circle cx="286.4" cy="157.9" r="1.3"/>
<circle cx="348.3" cy="100.4" r="1.3"/>
<circle cx="302.6" cy="147.7" r="1.3"/>
<circle cx="291.7" cy="161.5" r="1.3"/>
<circle cx="289.1" cy="146.6" r="1.3"/>
<circle cx="296" cy="142.3" r="1.3"/>
<circle cx="315.5" cy="139.1" r="1.3"/>
<circle cx="342.3" cy="103.6" r="1.3"/>
<circle cx="284.4" cy="169.3" r="1.3"/>
<circle cx="280.8" cy="174" r="1.3"/>
<circle cx="280.2" cy="164" r="1.3"/>
<circle cx="339.3" cy="92.1" r="1.3"/>
<circle cx="321.8" cy="102.9" r="1.3"/>
<circle cx="292.9" cy="162.4" r="1.3"/>
<circle cx="314.2" cy="129.2" r="1.3"/>
<circle cx="294" cy="147.7" r="1.3"/>
<circle cx="288.6" cy="148" r="1.3"/>
<circle cx="284.5" cy="173.8" r="1.3"/>
<circle cx="297.6" cy="142.7" r="1.3"/>
<circle cx="294.4" cy="148.2" r="1.3"/>
<circle cx="284.4" cy="161.9" r="1.3"/>
<circle cx="298.7" cy="125.4" r="1.3"/>
<circle cx="284.9" cy="164.4" r="1.3"/>
<circle cx="296.3" cy="147" r="1.3"/>
<circle cx="280.6" cy="162.9" r="1.3"/>
<circle cx="283.9" cy="158.7" r="1.3"/>
<circle cx="317.5" cy="116.6" r="1.3"/>
<circle cx="298.5" cy="141.8" r="1.3"/>
<circle cx="287.6" cy="133.3" r="1.3"/>
<circle cx="289.4" cy="134.4" r="1.3"/>
<circle cx="283.5" cy="167.7" r="1.3"/>
<circle cx="280.3" cy="168" r="1.3"/>
<circle cx="291.8" cy="161.3" r="1.3"/>
<circle cx="281.1" cy="162.8" r="1.3"/>
<circle cx="299.7" cy="170.5" r="1.3"/>
<circle cx="329.5" cy="118.4" r="1.3"/>
<circle cx="302.1" cy="154.7" r="1.3"/>
<circle cx="291.2" cy="128.7" r="1.3"/>
<circle cx="280.9" cy="172.8" r="1.3"/>
<circle cx="354.2" cy="85.6" r="1.3"/>
<circle cx="281.5" cy="161.6" r="1.3"/>
<circle cx="301.1" cy="173.9" r="1.3"/>
<circle cx="287.1" cy="159.8" r="1.3"/>
<circle cx="298.8" cy="136.6" r="1.3"/>
<circle cx="328.8" cy="110.4" r="1.3"/>
<circle cx="288.2" cy="168" r="1.3"/>
<circle cx="284.9" cy="169.4" r="1.3"/>
<circle cx="312.7" cy="140.6" r="1.3"/>
<circle cx="293.9" cy="131.5" r="1.3"/>
<circle cx="300.8" cy="136.6" r="1.3"/>
<circle cx="300.8" cy="151.9" r="1.3"/>
<circle cx="312.9" cy="129.4" r="1.3"/>
<circle cx="315.9" cy="109.6" r="1.3"/>
<circle cx="285.7" cy="154.8" r="1.3"/>
<circle cx="281.9" cy="170.1" r="1.3"/>
<circle cx="327.5" cy="90.3" r="1.3"/>
<circle cx="298" cy="157.9" r="1.3"/>
<circle cx="283.1" cy="174.1" r="1.3"/>
<circle cx="301.2" cy="126.1" r="1.3"/>
<circle cx="280.2" cy="162.7" r="1.3"/>
<circle cx="296.6" cy="161.6" r="1.3"/>
<circle cx="286.2" cy="155.7" r="1.3"/>
<circle cx="351.1" cy="85.4" r="1.3"/>
<circle cx="280" cy="173.1" r="1.3"/>
<circle cx="282.8" cy="160.3" r="1.3"/>
<circle cx="371.5" cy="58.2" r="1.3"/>
<circle cx="281.8" cy="158.1" r="1.3"/>
<circle cx="399.3" cy="47.8" r="1.3"/>
<circle cx="336" cy="110.6" r="1.3"/>
<circle cx="290.3" cy="167.1" r="1.3"/>
<circle cx="309.4" cy="114.3" r="1.3"/>
<circle cx="298.1" cy="109.5" r="1.3"/>
<circle cx="319.1" cy="106.1" r="1.3"/>
<circle cx="323.9" cy="116.9" r="1.3"/>
<circle cx="307.9" cy="140.2" r="1.3"/>
<circle cx="300.4" cy="116.6" r="1.3"/>
<circle cx="281.7" cy="165.5" r="1.3"/>
<circle cx="360.8" cy="68.2" r="1.3"/>
<circle cx="280.7" cy="169.8" r="1.3"/>
<circle cx="309.5" cy="125.1" r="1.3"/>
<circle cx="289.8" cy="156" r="1.3"/>
<circle cx="280.9" cy="165.1" r="1.3"/>
<circle cx="310.1" cy="137.6" r="1.3"/>
<circle cx="287.2" cy="172.4" r="1.3"/>
<circle cx="283.9" cy="172.8" r="1.3"/>
<circle cx="298.4" cy="154.8" r="1.3"/>
<circle cx="296.5" cy="134" r="1.3"/>
<circle cx="298.3" cy="154.9" r="1.3"/>
<circle cx="281" cy="167.1" r="1.3"/>
<circle cx="280.2" cy="168.6" r="1.3"/>
<circle cx="327.4" cy="113.4" r="1.3"/>
<circle cx="283.9" cy="170.8" r="1.3"/>
<circle cx="303.3" cy="152.5" r="1.3"/>
<circle cx="301.8" cy="147" r="1.3"/>
<circle cx="330.9" cy="98.3" r="1.3"/>
<circle cx="285.4" cy="156.2" r="1.3"/>
<circle cx="285.6" cy="152.3" r="1.3"/>
<circle cx="299.9" cy="139.7" r="1.3"/>
<circle cx="282.9" cy="165.7" r="1.3"/>
<circle cx="286" cy="163.9" r="1.3"/>
<circle cx="281.3" cy="170.6" r="1.3"/>
<circle cx="280.5" cy="173.5" r="1.3"/>
<circle cx="317.6" cy="136" r="1.3"/>
<circle cx="325.8" cy="92.7" r="1.3"/>
<circle cx="280.5" cy="161" r="1.3"/>
<circle cx="288.2" cy="157.3" r="1.3"/>
<circle cx="288" cy="157.9" r="1.3"/>
<circle cx="306.7" cy="136.3" r="1.3"/>
<circle cx="281.4" cy="168.5" r="1.3"/>
<circle cx="292.3" cy="141.4" r="1.3"/>
<circle cx="349.6" cy="88.5" r="1.3"/>
<circle cx="291.8" cy="154.6" r="1.3"/>
<circle cx="280.3" cy="163.3" r="1.3"/>
<circle cx="285.1" cy="160.2" r="1.3"/>
<circle cx="301.8" cy="146.7" r="1.3"/>
<circle cx="292.8" cy="162.2" r="1.3"/>
<circle cx="300.5" cy="138.5" r="1.3"/>
<circle cx="302.1" cy="155.6" r="1.3"/>
<circle cx="282.4" cy="161.3" r="1.3"/>
<circle cx="346.1" cy="100.3" r="1.3"/>
<circle cx="295.7" cy="144.8" r="1.3"/>
<circle cx="280.4" cy="175.6" r="1.3"/>
<circle cx="284" cy="158.3" r="1.3"/>
<circle cx="281.5" cy="156.5" r="1.3"/>
<circle cx="314.3" cy="122" r="1.3"/>
<circle cx="294.1" cy="142" r="1.3"/>
<circle cx="293.9" cy="166.4" r="1.3"/>
<circle cx="283.1" cy="163.2" r="1.3"/>
<circle cx="291.1" cy="173.2" r="1.3"/>
<circle cx="282.8" cy="164.2" r="1.3"/>
<circle cx="293.3" cy="173.4" r="1.3"/>
<circle cx="287.1" cy="156.2" r="1.3"/>
<circle cx="288.5" cy="156.2" r="1.3"/>
<circle cx="287.6" cy="163.5" r="1.3"/>
<circle cx="283.1" cy="166.7" r="1.3"/>
<circle cx="320.1" cy="129.8" r="1.3"/>
<circle cx="311.4" cy="119.1" r="1.3"/>
<circle cx="300.2" cy="139.7" r="1.3"/>
<circle cx="302.5" cy="173.3" r="1.3"/>
<circle cx="286" cy="170.1" r="1.3"/>
<circle cx="287.6" cy="171.5" r="1.3"/>
<circle cx="281.3" cy="167.1" r="1.3"/>
<circle cx="306.6" cy="146.3" r="1.3"/>
<circle cx="304" cy="149.5" r="1.3"/>
<circle cx="282.7" cy="167.3" r="1.3"/>
<circle cx="284.7" cy="167.8" r="1.3"/>
<circle cx="331.6" cy="89.4" r="1.3"/>
<circle cx="280.8" cy="173.5" r="1.3"/>
<circle cx="291.4" cy="173.7" r="1.3"/>
<circle cx="280.7" cy="173.6" r="1.3"/>
<circle cx="306.3" cy="125.6" r="1.3"/>
<circle cx="282.3" cy="158" r="1.3"/>
<circle cx="288.6" cy="160" r="1.3"/>
<circle cx="290.5" cy="149" r="1.3"/>
<circle cx="281.1" cy="157.2" r="1.3"/>
<circle cx="305.5" cy="140" r="1.3"/>
<circle cx="311.7" cy="115.6" r="1.3"/>
<circle cx="289.3" cy="164" r="1.3"/>
<circle cx="292.6" cy="164.6" r="1.3"/>
<circle cx="282.8" cy="154.9" r="1.3"/>
<circle cx="281.5" cy="158.1" r="1.3"/>
<circle cx="300.5" cy="134.3" r="1.3"/>
<circle cx="292.1" cy="155" r="1.3"/>
<circle cx="307.9" cy="98.2" r="1.3"/>
<circle cx="329.1" cy="139.1" r="1.3"/>
<circle cx="288.2" cy="146.6" r="1.3"/>
<circle cx="311" cy="149.3" r="1.3"/>
<circle cx="306.3" cy="129.8" r="1.3"/>
<circle cx="287.2" cy="159.5" r="1.3"/>
<circle cx="298.9" cy="141.3" r="1.3"/>
<circle cx="280.4" cy="167.8" r="1.3"/>
<circle cx="284.7" cy="168.7" r="1.3"/>
<circle cx="306.6" cy="129.4" r="1.3"/>
<circle cx="303.9" cy="146.8" r="1.3"/>
<circle cx="281" cy="167.1" r="1.3"/>
<circle cx="282.7" cy="163.8" r="1.3"/>
<circle cx="281.4" cy="168.7" r="1.3"/>
<circle cx="322" cy="114.2" r="1.3"/>
<circle cx="282.1" cy="160.8" r="1.3"/>
<circle cx="293.3" cy="138.3" r="1.3"/>
<circle cx="280.9" cy="173.3" r="1.3"/>
<circle cx="298.9" cy="141.4" r="1.3"/>
<circle cx="281.5" cy="163.5" r="1.3"/>
<circle cx="289.8" cy="170.2" r="1.3"/>
<circle cx="281.9" cy="173.4" r="1.3"/>
<circle cx="303.1" cy="115.7" r="1.3"/>
<circle cx="295" cy="136.7" r="1.3"/>
<circle cx="291.2" cy="173.5" r="1.3"/>
<circle cx="281.7" cy="165.3" r="1.3"/>
<circle cx="290.4" cy="150.2" r="1.3"/>
<circle cx="284.3" cy="164.9" r="1.3"/>
<circle cx="320.5" cy="116.1" r="1.3"/>
<circle cx="285.3" cy="154.6" r="1.3"/>
<circle cx="361" cy="72.7" r="1.3"/>
<circle cx="298" cy="130.5" r="1.3"/>
<circle cx="284.4" cy="161.1" r="1.3"/>
<circle cx="336" cy="104.3" r="1.3"/>
<circle cx="305.6" cy="145.4" r="1.3"/>
<circle cx="291.6" cy="134.6" r="1.3"/>
<circle cx="291.8" cy="149.5" r="1.3"/>
<circle cx="292.6" cy="175.2" r="1.3"/>
<circle cx="280.5" cy="163.4" r="1.3"/>
<circle cx="282.4" cy="170" r="1.3"/>
<circle cx="313.2" cy="120" r="1.3"/>
<circle cx="282.5" cy="157.6" r="1.3"/>
<circle cx="305.7" cy="150.1" r="1.3"/>
<circle cx="285.3" cy="163.9" r="1.3"/>
<circle cx="323.7" cy="152.1" r="1.3"/>
<circle cx="300.6" cy="129" r="1.3"/>
<circle cx="288.1" cy="162.3" r="1.3"/>
<circle cx="285.5" cy="166.7" r="1.3"/>
<circle cx="292" cy="138.1" r="1.3"/>
<circle cx="304.2" cy="106.4" r="1.3"/>
<circle cx="302.6" cy="132.8" r="1.3"/>
<circle cx="300.7" cy="152" r="1.3"/>
<circle cx="303.3" cy="143.8" r="1.3"/>
<circle cx="281.8" cy="170.2" r="1.3"/>
<circle cx="283.3" cy="156" r="1.3"/>
<circle cx="281" cy="166.5" r="1.3"/>
<circle cx="299.5" cy="141" r="1.3"/>
<circle cx="290.2" cy="153.9" r="1.3"/>
<circle cx="293.5" cy="129.7" r="1.3"/>
<circle cx="288.9" cy="156.8" r="1.3"/>
<circle cx="294.5" cy="145.4" r="1.3"/>
<circle cx="281" cy="154.6" r="1.3"/>
<circle cx="286.5" cy="154.9" r="1.3"/>
<circle cx="288.8" cy="147.7" r="1.3"/>
<circle cx="284.1" cy="166.7" r="1.3"/>
<circle cx="280" cy="173.1" r="1.3"/>
<circle cx="291.9" cy="164.7" r="1.3"/>
<circle cx="280" cy="167.5" r="1.3"/>
<circle cx="291.9" cy="145.1" r="1.3"/>
<circle cx="307.9" cy="133.3" r="1.3"/>
<circle cx="326.1" cy="106.5" r="1.3"/>
<circle cx="353.7" cy="102.1" r="1.3"/>
<circle cx="334.6" cy="91.5" r="1.3"/>
<circle cx="281.9" cy="169.4" r="1.3"/>
<circle cx="281.4" cy="168.9" r="1.3"/>
<circle cx="281.3" cy="172.1" r="1.3"/>
<circle cx="289.3" cy="170.9" r="1.3"/>
<circle cx="289.6" cy="147.9" r="1.3"/>
<circle cx="322.4" cy="114.7" r="1.3"/>
<circle cx="284.1" cy="165.2" r="1.3"/>
<circle cx="280.8" cy="167.9" r="1.3"/>
<circle cx="302.2" cy="161.3" r="1.3"/>
<circle cx="282.4" cy="150.3" r="1.3"/>
<circle cx="288.4" cy="146.8" r="1.3"/>
<circle cx="280.7" cy="158.9" r="1.3"/>
<circle cx="284.5" cy="155.5" r="1.3"/>
<circle cx="313.7" cy="138.6" r="1.3"/>
<circle cx="302.7" cy="152.1" r="1.3"/>
<circle cx="359.1" cy="80.1" r="1.3"/>
<circle cx="325" cy="140.5" r="1.3"/>
<circle cx="281" cy="162.1" r="1.3"/>
<circle cx="298.1" cy="129.3" r="1.3"/>
<circle cx="282" cy="161.7" r="1.3"/>
<circle cx="292.4" cy="147.4" r="1.3"/>
<circle cx="284.1" cy="165.8" r="1.3"/>
<circle cx="288.6" cy="161.7" r="1.3"/>
<circle cx="317.4" cy="121.4" r="1.3"/>
<circle cx="285.1" cy="166.8" r="1.3"/>
<circle cx="284.9" cy="160.6" r="1.3"/>
<circle cx="297" cy="127.7" r="1.3"/>
<circle cx="290.6" cy="152.8" r="1.3"/>
<circle cx="309.7" cy="135.9" r="1.3"/>
<circle cx="290.1" cy="169.1" r="1.3"/>
<circle cx="288.7" cy="142.7" r="1.3"/>
<circle cx="280.6" cy="168.5" r="1.3"/>
<circle cx="281.7" cy="164" r="1.3"/>
<circle cx="290.8" cy="136.7" r="1.3"/>
<circle cx="281.9" cy="162.3" r="1.3"/>
<circle cx="288.1" cy="166.5" r="1.3"/>
<circle cx="284.1" cy="170" r="1.3"/>
<circle cx="304.5" cy="159" r="1.3"/>
<circle cx="300" cy="143.1" r="1.3"/>
<circle cx="295" cy="150.7" r="1.3"/>
<circle cx="334.8" cy="112.1" r="1.3"/>
<circle cx="284.5" cy="161.4" r="1.3"/>
<circle cx="285.9" cy="155.9" r="1.3"/>
<circle cx="345.6" cy="115.2" r="1.3"/>
<circle cx="290.4" cy="162.7" r="1.3"/>
<circle cx="325.6" cy="116.6" r="1.3"/>
<circle cx="285.8" cy="159.4" r="1.3"/>
<circle cx="325.5" cy="116.2" r="1.3"/>
<circle cx="298.7" cy="134.5" r="1.3"/>
<circle cx="280.7" cy="155.8" r="1.3"/>
<circle cx="281.2" cy="168.8" r="1.3"/>
<circle cx="362.8" cy="86.9" r="1.3"/>
<circle cx="317.6" cy="133.4" r="1.3"/>
<circle cx="308.8" cy="144.9" r="1.3"/>
<circle cx="303.1" cy="166.9" r="1.3"/>
<circle cx="291.7" cy="150.6" r="1.3"/>
<circle cx="286.5" cy="149.3" r="1.3"/>
<circle cx="280.9" cy="167.5" r="1.3"/>
<circle cx="287.8" cy="150.1" r="1.3"/>
<circle cx="307.4" cy="160.7" r="1.3"/>
<circle cx="284.1" cy="163.3" r="1.3"/>
<circle cx="325.8" cy="119" r="1.3"/>
<circle cx="280.2" cy="164.2" r="1.3"/>
<circle cx="282.1" cy="175.5" r="1.3"/>
<circle cx="291.3" cy="161.1" r="1.3"/>
<circle cx="280.9" cy="165" r="1.3"/>
<circle cx="306.4" cy="120.9" r="1.3"/>
<circle cx="290.4" cy="153.8" r="1.3"/>
<circle cx="293.2" cy="150.2" r="1.3"/>
<circle cx="284.1" cy="157.8" r="1.3"/>
<circle cx="288.7" cy="138.9" r="1.3"/>
<circle cx="291" cy="158.5" r="1.3"/>
<circle cx="308.6" cy="127.9" r="1.3"/>
<circle cx="313.6" cy="130.5" r="1.3"/>
<circle cx="283.5" cy="165.1" r="1.3"/>
<circle cx="286.1" cy="149" r="1.3"/>
<circle cx="294.1" cy="144.9" r="1.3"/>
<circle cx="291.2" cy="140.4" r="1.3"/>
<circle cx="285.6" cy="158.6" r="1.3"/>
<circle cx="289.7" cy="155.2" r="1.3"/>
<circle cx="281.8" cy="167.8" r="1.3"/>
<circle cx="295.6" cy="135.2" r="1.3"/>
<circle cx="288.4" cy="156.9" r="1.3"/>
<circle cx="280.9" cy="163" r="1.3"/>
<circle cx="319.6" cy="113.5" r="1.3"/>
<circle cx="285.7" cy="156.7" r="1.3"/>
<circle cx="326.5" cy="146" r="1.3"/>
<circle cx="301.5" cy="122.6" r="1.3"/>
<circle cx="288.7" cy="163.1" r="1.3"/>
<circle cx="292.8" cy="147.3" r="1.3"/>
<circle cx="285.2" cy="167.7" r="1.3"/>
<circle cx="311.3" cy="104.2" r="1.3"/>
<circle cx="283.5" cy="166.5" r="1.3"/>
<circle cx="309.8" cy="151.9" r="1.3"/>
<circle cx="282.7" cy="165" r="1.3"/>
<circle cx="284.5" cy="144" r="1.3"/>
<circle cx="302" cy="163" r="1.3"/>
<circle cx="322" cy="112.9" r="1.3"/>
<circle cx="299.2" cy="151.8" r="1.3"/>
<circle cx="315.3" cy="97" r="1.3"/>
<circle cx="281.5" cy="161.9" r="1.3"/>
<circle cx="338.8" cy="112.6" r="1.3"/>
<circle cx="307.5" cy="139.1" r="1.3"/>
<circle cx="282.1" cy="159" r="1.3"/>
<circle cx="280.8" cy="168.2" r="1.3"/>
<circle cx="302.9" cy="129.2" r="1.3"/>
<circle cx="284.9" cy="168.4" r="1.3"/>
<circle cx="281.1" cy="167.4" r="1.3"/>
<circle cx="297.7" cy="132.3" r="1.3"/>
<circle cx="297.8" cy="156" r="1.3"/>
<circle cx="300" cy="142.9" r="1.3"/>
<circle cx="307.3" cy="157" r="1.3"/>
<circle cx="348.9" cy="83" r="1.3"/>
<circle cx="303.1" cy="150.5" r="1.3"/>
<circle cx="304.5" cy="128.4" r="1.3"/>
<circle cx="292.4" cy="125.8" r="1.3"/>
<circle cx="288.7" cy="168.7" r="1.3"/>
<circle cx="302.5" cy="139.7" r="1.3"/>
<circle cx="306.8" cy="128.1" r="1.3"/>
<circle cx="280.2" cy="169.8" r="1.3"/>
<circle cx="280.7" cy="156.5" r="1.3"/>
<circle cx="312.6" cy="113.9" r="1.3"/>
<circle cx="280.6" cy="166.2" r="1.3"/>
<circle cx="280.7" cy="156.8" r="1.3"/>
<circle cx="289.9" cy="159.3" r="1.3"/>
<circle cx="309.4" cy="126.9" r="1.3"/>
<circle cx="296.6" cy="144.4" r="1.3"/>
<circle cx="303.2" cy="159.8" r="1.3"/>
<circle cx="284" cy="161.2" r="1.3"/>
<circle cx="287.9" cy="175.5" r="1.3"/>
<circle cx="308.4" cy="143.6" r="1.3"/>
<circle cx="320.4" cy="145.7" r="1.3"/>
<circle cx="329" cy="111" r="1.3"/>
<circle cx="287.5" cy="173.1" r="1.3"/>
<circle cx="283" cy="173.3" r="1.3"/>
<circle cx="317.7" cy="132.5" r="1.3"/>
<circle cx="296.7" cy="168.2" r="1.3"/>
<circle cx="284.7" cy="171.3" r="1.3"/>
<circle cx="282.7" cy="169.4" r="1.3"/>
<circle cx="308.6" cy="122.9" r="1.3"/>
<circle cx="304.2" cy="121.3" r="1.3"/>
<circle cx="285" cy="147.8" r="1.3"/>
<circle cx="297.1" cy="121.1" r="1.3"/>
<circle cx="280.9" cy="165.5" r="1.3"/>
<circle cx="298.4" cy="150.8" r="1.3"/>
<circle cx="402.3" cy="43.9" r="1.3"/>
<circle cx="281.9" cy="155.8" r="1.3"/>
<circle cx="297.3" cy="141" r="1.3"/>
<circle cx="285.8" cy="162.1" r="1.3"/>
<circle cx="289.5" cy="150.5" r="1.3"/>
<circle cx="335.7" cy="120.6" r="1.3"/>
<circle cx="301.8" cy="102.2" r="1.3"/>
<circle cx="288.6" cy="174.5" r="1.3"/>
<circle cx="286.3" cy="157.3" r="1.3"/>
<circle cx="302.4" cy="155.1" r="1.3"/>
<circle cx="306.2" cy="133.9" r="1.3"/>
<circle cx="297.3" cy="153.9" r="1.3"/>
<circle cx="281.7" cy="161.7" r="1.3"/>
<circle cx="284.2" cy="166.8" r="1.3"/>
<circle cx="282.5" cy="150.6" r="1.3"/>
<circle cx="293.9" cy="143.9" r="1.3"/>
<circle cx="295" cy="171.4" r="1.3"/>
<circle cx="293.3" cy="170.1" r="1.3"/>
<circle cx="280.7" cy="166.9" r="1.3"/>
<circle cx="341.5" cy="85.7" r="1.3"/>
<circle cx="292.8" cy="146.7" r="1.3"/>
<circle cx="323.4" cy="92.4" r="1.3"/>
<circle cx="365.6" cy="107.1" r="1.3"/>
<circle cx="285.7" cy="145.5" r="1.3"/>
<circle cx="282.4" cy="165.2" r="1.3"/>
<circle cx="286.1" cy="171.2" r="1.3"/>
<circle cx="316" cy="138.1" r="1.3"/>
<circle cx="289.8" cy="151.1" r="1.3"/>
<circle cx="283.7" cy="153" r="1.3"/>
<circle cx="283.4" cy="159.5" r="1.3"/>
<circle cx="280.1" cy="161.8" r="1.3"/>
<circle cx="280.3" cy="171.9" r="1.3"/>
<circle cx="286.3" cy="157.2" r="1.3"/>
<circle cx="280.4" cy="165.6" r="1.3"/>
<circle cx="286.5" cy="150.5" r="1.3"/>
<circle cx="317.1" cy="123.5" r="1.3"/>
<circle cx="284.4" cy="168.3" r="1.3"/>
<circle cx="298.4" cy="144.6" r="1.3"/>
<circle cx="280.8" cy="158.7" r="1.3"/>
<circle cx="299.6" cy="149.6" r="1.3"/>
<circle cx="305" cy="129.4" r="1.3"/>
<circle cx="295" cy="110.2" r="1.3"/>
<circle cx="325.2" cy="155.6" r="1.3"/>
<circle cx="291.6" cy="130.3" r="1.3"/>
<circle cx="319.3" cy="119.9" r="1.3"/>
<circle cx="325.9" cy="139.5" r="1.3"/>
<circle cx="291.1" cy="130.9" r="1.3"/>
<circle cx="280.5" cy="163.9" r="1.3"/>
<circle cx="282" cy="160.9" r="1.3"/>
<circle cx="286.2" cy="172.5" r="1.3"/>
<circle cx="298.4" cy="147.7" r="1.3"/>
<circle cx="344.6" cy="103.1" r="1.3"/>
<circle cx="280" cy="164.1" r="1.3"/>
<circle cx="309.4" cy="143.3" r="1.3"/>
<circle cx="284.9" cy="158.4" r="1.3"/>
<circle cx="296.2" cy="170.8" r="1.3"/>
<circle cx="280.2" cy="157.5" r="1.3"/>
<circle cx="284.9" cy="159.1" r="1.3"/>
<circle cx="307.6" cy="144.1" r="1.3"/>
<circle cx="284.7" cy="159.8" r="1.3"/>
<circle cx="284.7" cy="166.8" r="1.3"/>
<circle cx="281.8" cy="167.2" r="1.3"/>
<circle cx="286.8" cy="158.1" r="1.3"/>
<circle cx="281.2" cy="166.1" r="1.3"/>
<circle cx="303.8" cy="132" r="1.3"/>
<circle cx="286.1" cy="154.7" r="1.3"/>
<circle cx="296.9" cy="163.5" r="1.3"/>
<circle cx="282.4" cy="166.5" r="1.3"/>
<circle cx="287" cy="153.8" r="1.3"/>
<circle cx="386.1" cy="66.2" r="1.3"/>
<circle cx="301.4" cy="133.3" r="1.3"/>
<circle cx="289" cy="159.8" r="1.3"/>
<circle cx="290.2" cy="163.1" r="1.3"/>
<circle cx="327.2" cy="128.1" r="1.3"/>
<circle cx="323.4" cy="121.7" r="1.3"/>
<circle cx="287.1" cy="171.6" r="1.3"/>
<circle cx="294.2" cy="148.5" r="1.3"/>
<circle cx="291" cy="143.9" r="1.3"/>
<circle cx="287.9" cy="169" r="1.3"/>
<circle cx="384.3" cy="70.9" r="1.3"/>
<circle cx="304.6" cy="129.5" r="1.3"/>
<circle cx="316.9" cy="116.2" r="1.3"/>
<circle cx="288.7" cy="146.9" r="1.3"/>
<circle cx="307.4" cy="119.1" r="1.3"/>
<circle cx="350.9" cy="78.5" r="1.3"/>
<circle cx="311" cy="126.2" r="1.3"/>
<circle cx="359.4" cy="89.9" r="1.3"/>
<circle cx="286.8" cy="162.4" r="1.3"/>
<circle cx="281.6" cy="164.2" r="1.3"/>
<circle cx="283.3" cy="173.2" r="1.3"/>
<circle cx="285.1" cy="155.9" r="1.3"/>
<circle cx="283.6" cy="162" r="1.3"/>
<circle cx="283.8" cy="163.1" r="1.3"/>
<circle cx="282.2" cy="151.8" r="1.3"/>
<circle cx="286.3" cy="151.4" r="1.3"/>
<circle cx="283" cy="158.5" r="1.3"/>
<circle cx="329.1" cy="114.8" r="1.3"/>
<circle cx="288.3" cy="151.4" r="1.3"/>
<circle cx="307.2" cy="135.2" r="1.3"/>
<circle cx="296.7" cy="146.2" r="1.3"/>
<circle cx="280.8" cy="166" r="1.3"/>
<circle cx="293" cy="122.8" r="1.3"/>
<circle cx="333.7" cy="102.6" r="1.3"/>
<circle cx="284.2" cy="160.6" r="1.3"/>
<circle cx="304.9" cy="116.8" r="1.3"/>
<circle cx="284.6" cy="162.7" r="1.3"/>
<circle cx="306.6" cy="145.6" r="1.3"/>
<circle cx="284.4" cy="161.2" r="1.3"/>
<circle cx="288.8" cy="151.4" r="1.3"/>
<circle cx="347.6" cy="84.3" r="1.3"/>
<circle cx="303.5" cy="148.7" r="1.3"/>
<circle cx="318.8" cy="114.3" r="1.3"/>
<circle cx="284.3" cy="163.1" r="1.3"/>
<circle cx="280.6" cy="171.2" r="1.3"/>
<circle cx="282.4" cy="171.9" r="1.3"/>
<circle cx="294.5" cy="158.9" r="1.3"/>
<circle cx="280.6" cy="153.4" r="1.3"/>
<circle cx="304.6" cy="123.6" r="1.3"/>
<circle cx="284.4" cy="161.8" r="1.3"/>
<circle cx="295.4" cy="151.1" r="1.3"/>
<circle cx="288.8" cy="155.6" r="1.3"/>
<circle cx="288.5" cy="171.8" r="1.3"/>
<circle cx="321.2" cy="130.8" r="1.3"/>
<circle cx="302.8" cy="120.1" r="1.3"/>
<circle cx="302.7" cy="136.8" r="1.3"/>
<circle cx="284.1" cy="172.8" r="1.3"/>
<circle cx="281.2" cy="159.7" r="1.3"/>
<circle cx="292.6" cy="175.3" r="1.3"/>
<circle cx="352.6" cy="75.4" r="1.3"/>
<circle cx="284" cy="170.7" r="1.3"/>
<circle cx="283.6" cy="168.4" r="1.3"/>
<circle cx="315.2" cy="130.4" r="1.3"/>
<circle cx="301.3" cy="132.3" r="1.3"/>
<circle cx="287.5" cy="174.6" r="1.3"/>
<circle cx="320.3" cy="124.7" r="1.3"/>
<circle cx="280.5" cy="174.5" r="1.3"/>
<circle cx="286.9" cy="160.6" r="1.3"/>
<circle cx="289.3" cy="165.4" r="1.3"/>
<circle cx="309.5" cy="121.3" r="1.3"/>
<circle cx="323.9" cy="123.3" r="1.3"/>
<circle cx="280" cy="174.6" r="1.3"/>
<circle cx="285.2" cy="150" r="1.3"/>
<circle cx="288.8" cy="173.7" r="1.3"/>
<circle cx="297" cy="171.5" r="1.3"/>
<circle cx="287.4" cy="156" r="1.3"/>
<circle cx="282.6" cy="173.3" r="1.3"/>
<circle cx="300.6" cy="138.3" r="1.3"/>
<circle cx="311.9" cy="151.1" r="1.3"/>
<circle cx="302" cy="145.9" r="1.3"/>
<circle cx="310.5" cy="129" r="1.3"/>
<circle cx="312" cy="135.8" r="1.3"/>
<circle cx="289.8" cy="161.3" r="1.3"/>
<circle cx="280.9" cy="161.2" r="1.3"/>
<circle cx="325" cy="114.9" r="1.3"/>
<circle cx="284.6" cy="173.5" r="1.3"/>
<circle cx="298.6" cy="166.3" r="1.3"/>
<circle cx="284.7" cy="164.3" r="1.3"/>
<circle cx="280.1" cy="167.1" r="1.3"/>
<circle cx="281.1" cy="167.6" r="1.3"/>
<circle cx="299.4" cy="133.8" r="1.3"/>
<circle cx="280.7" cy="155.8" r="1.3"/>
<circle cx="288.2" cy="165.5" r="1.3"/>
<circle cx="300.6" cy="146.4" r="1.3"/>
<circle cx="283.1" cy="160.9" r="1.3"/>
<circle cx="316.3" cy="147.7" r="1.3"/>
<circle cx="307.8" cy="150.2" r="1.3"/>
<circle cx="310.1" cy="160.4" r="1.3"/>
<circle cx="286.4" cy="145.9" r="1.3"/>
<circle cx="280.4" cy="171" r="1.3"/>
<circle cx="286.2" cy="171.8" r="1.3"/>
<circle cx="304.3" cy="124.8" r="1.3"/>
<circle cx="306.3" cy="141" r="1.3"/>
<circle cx="303.9" cy="137.5" r="1.3"/>
<circle cx="290.2" cy="145.9" r="1.3"/>
<circle cx="291" cy="148.4" r="1.3"/>
<circle cx="283.4" cy="156.4" r="1.3"/>
<circle cx="280.9" cy="168.5" r="1.3"/>
<circle cx="325.6" cy="121.8" r="1.3"/>
<circle cx="296.3" cy="129" r="1.3"/>
<circle cx="285.8" cy="165.6" r="1.3"/>
<circle cx="296.8" cy="122.6" r="1.3"/>
<circle cx="313.6" cy="119.3" r="1.3"/>
<circle cx="280.8" cy="172.9" r="1.3"/>
<circle cx="281.5" cy="171.9" r="1.3"/>
<circle cx="314.4" cy="124.7" r="1.3"/>
<circle cx="316" cy="120.8" r="1.3"/>
<circle cx="292.4" cy="155.3" r="1.3"/>
<circle cx="302.5" cy="146" r="1.3"/>
<circle cx="309.1" cy="126.1" r="1.3"/>
<circle cx="280" cy="162.2" r="1.3"/>
<circle cx="282.4" cy="162.9" r="1.3"/>
<circle cx="285.3" cy="142.9" r="1.3"/>
<circle cx="284.2" cy="168.6" r="1.3"/>
<circle cx="282.2" cy="161.9" r="1.3"/>
<circle cx="284.6" cy="171.3" r="1.3"/>
<circle cx="285.4" cy="169.2" r="1.3"/>
<circle cx="330.9" cy="69.7" r="1.3"/>
<circle cx="301.4" cy="140.5" r="1.3"/>
<circle cx="309.7" cy="107" r="1.3"/>
<circle cx="299.3" cy="144.2" r="1.3"/>
<circle cx="330.5" cy="146.4" r="1.3"/>
<circle cx="291.6" cy="135.6" r="1.3"/>
<circle cx="312.5" cy="127.4" r="1.3"/>
<circle cx="286.6" cy="174.2" r="1.3"/>
<circle cx="298.4" cy="162.7" r="1.3"/>
<circle cx="326.3" cy="140.2" r="1.3"/>
<circle cx="286.2" cy="152.1" r="1.3"/>
<circle cx="286.4" cy="170.1" r="1.3"/>
<circle cx="297.4" cy="126.3" r="1.3"/>
<circle cx="304" cy="137.7" r="1.3"/>
<circle cx="290.6" cy="167.1" r="1.3"/>
<circle cx="382.3" cy="57" r="1.3"/>
<circle cx="305.9" cy="130.6" r="1.3"/>
<circle cx="284.3" cy="164.9" r="1.3"/>
<circle cx="296.7" cy="146.8" r="1.3"/>
<circle cx="285.6" cy="163" r="1.3"/>
<circle cx="283.8" cy="163.4" r="1.3"/>
<circle cx="283.4" cy="159.7" r="1.3"/>
<circle cx="291.5" cy="148.5" r="1.3"/>
<circle cx="294.1" cy="153.2" r="1.3"/>
<circle cx="282" cy="162.4" r="1.3"/>
<circle cx="332.4" cy="117.5" r="1.3"/>
<circle cx="291.2" cy="162.5" r="1.3"/>
<circle cx="282.1" cy="154.3" r="1.3"/>
<circle cx="288" cy="168.8" r="1.3"/>
<circle cx="325.6" cy="113.7" r="1.3"/>
<circle cx="301.9" cy="110.6" r="1.3"/>
<circle cx="284.7" cy="158.5" r="1.3"/>
<circle cx="423.7" cy="20" r="1.3"/>
<circle cx="282" cy="169.5" r="1.3"/>
<circle cx="353.1" cy="93.3" r="1.3"/>
<circle cx="293.8" cy="140.3" r="1.3"/>
<circle cx="291" cy="152.6" r="1.3"/>
<circle cx="311.6" cy="137" r="1.3"/>
<circle cx="280" cy="160.8" r="1.3"/>
<circle cx="282.2" cy="158.7" r="1.3"/>
<circle cx="283.7" cy="164.4" r="1.3"/>
<circle cx="281.7" cy="161.8" r="1.3"/>
<circle cx="285.2" cy="160.9" r="1.3"/>
<circle cx="281.4" cy="175.2" r="1.3"/>
<circle cx="284.6" cy="164.9" r="1.3"/>
<circle cx="281.1" cy="160.1" r="1.3"/>
<circle cx="284.5" cy="169.8" r="1.3"/>
<circle cx="291.5" cy="172.1" r="1.3"/>
<circle cx="297.5" cy="146.2" r="1.3"/>
<circle cx="300.8" cy="141.5" r="1.3"/>
<circle cx="298.6" cy="167.1" r="1.3"/>
<circle cx="297.4" cy="134.5" r="1.3"/>
<circle cx="289.5" cy="175" r="1.3"/>
<circle cx="389.2" cy="51.3" r="1.3"/>
<circle cx="280.8" cy="166.6" r="1.3"/>
<circle cx="292.5" cy="153.1" r="1.3"/>
<circle cx="387.4" cy="59.4" r="1.3"/>
<circle cx="280.8" cy="167.1" r="1.3"/>
<circle cx="286.4" cy="150" r="1.3"/>
<circle cx="287.9" cy="147.3" r="1.3"/>
<circle cx="288.7" cy="158.5" r="1.3"/>
<circle cx="305.4" cy="123.3" r="1.3"/>
<circle cx="288.9" cy="162" r="1.3"/>
<circle cx="298.8" cy="145.7" r="1.3"/>
<circle cx="289" cy="174.1" r="1.3"/>
<circle cx="284.8" cy="149.4" r="1.3"/>
<circle cx="318.8" cy="133" r="1.3"/>
<circle cx="282.6" cy="169.5" r="1.3"/>
<circle cx="283" cy="152.2" r="1.3"/>
<circle cx="283.6" cy="151.6" r="1.3"/>
<circle cx="285.9" cy="173.5" r="1.3"/>
<circle cx="316.7" cy="127" r="1.3"/>
<circle cx="323" cy="112.1" r="1.3"/>
<circle cx="284.5" cy="151.3" r="1.3"/>
<circle cx="290.3" cy="171.1" r="1.3"/>
<circle cx="323.7" cy="131.3" r="1.3"/>
<circle cx="289.2" cy="159.7" r="1.3"/>
<circle cx="284.4" cy="167.6" r="1.3"/>
<circle cx="296" cy="128.6" r="1.3"/>
<circle cx="281.5" cy="167.2" r="1.3"/>
<circle cx="315.8" cy="136.2" r="1.3"/>
<circle cx="287.1" cy="174.9" r="1.3"/>
<circle cx="286.8" cy="157.3" r="1.3"/>
<circle cx="303.6" cy="138.6" r="1.3"/>
<circle cx="282.7" cy="158.7" r="1.3"/>
<circle cx="287.7" cy="163.3" r="1.3"/>
<circle cx="297.1" cy="140.9" r="1.3"/>
<circle cx="286.7" cy="166.2" r="1.3"/>
<circle cx="280.8" cy="156" r="1.3"/>
<circle cx="352.9" cy="105.4" r="1.3"/>
<circle cx="283.4" cy="154.8" r="1.3"/>
<circle cx="294.3" cy="140.8" r="1.3"/>
<circle cx="283" cy="167.2" r="1.3"/>
<circle cx="287.5" cy="154.2" r="1.3"/>
<circle cx="293.8" cy="139.3" r="1.3"/>
<circle cx="284.3" cy="158.5" r="1.3"/>
<circle cx="315" cy="132.7" r="1.3"/>
<circle cx="306.9" cy="155.5" r="1.3"/>
<circle cx="301.8" cy="168.1" r="1.3"/>
<circle cx="316.8" cy="153.1" r="1.3"/>
<circle cx="300.5" cy="141.5" r="1.3"/>
<circle cx="282.7" cy="170.2" r="1.3"/>
<circle cx="299.8" cy="133.2" r="1.3"/>
<circle cx="291.3" cy="164" r="1.3"/>
<circle cx="280.4" cy="170" r="1.3"/>
<circle cx="296.5" cy="168.7" r="1.3"/>
<circle cx="293.3" cy="162.4" r="1.3"/>
<circle cx="283" cy="164.1" r="1.3"/>
<circle cx="292.1" cy="146.1" r="1.3"/>
<circle cx="286.2" cy="164.9" r="1.3"/>
<circle cx="281.5" cy="171.6" r="1.3"/>
<circle cx="297.9" cy="158.4" r="1.3"/>
<circle cx="281.4" cy="157.1" r="1.3"/>
<circle cx="287" cy="139.8" r="1.3"/>
<circle cx="286.8" cy="163.7" r="1.3"/>
<circle cx="286.6" cy="171.6" r="1.3"/>
<circle cx="335.7" cy="126.1" r="1.3"/>
<circle cx="302.9" cy="131" r="1.3"/>
<circle cx="298.3" cy="137.2" r="1.3"/>
<circle cx="282.2" cy="164.2" r="1.3"/>
<circle cx="287.9" cy="154.8" r="1.3"/>
<circle cx="286.1" cy="163.7" r="1.3"/>
<circle cx="295" cy="152.1" r="1.3"/>
<circle cx="334.8" cy="106" r="1.3"/>
<circle cx="300.7" cy="148.1" r="1.3"/>
<circle cx="282.5" cy="159" r="1.3"/>
<circle cx="287.3" cy="167.3" r="1.3"/>
<circle cx="293.3" cy="138.6" r="1.3"/>
<circle cx="313.5" cy="116.3" r="1.3"/>
<circle cx="295.5" cy="148.3" r="1.3"/>
<circle cx="376" cy="60.4" r="1.3"/>
<circle cx="296.9" cy="139.8" r="1.3"/>
<circle cx="281.1" cy="162.2" r="1.3"/>
<circle cx="280" cy="167.9" r="1.3"/>
<circle cx="285.6" cy="159.4" r="1.3"/>
<circle cx="298.3" cy="123.7" r="1.3"/>
<circle cx="283.7" cy="173.5" r="1.3"/>
<circle cx="299.7" cy="117.9" r="1.3"/>
<circle cx="290.1" cy="157.5" r="1.3"/>
<circle cx="300.1" cy="140.9" r="1.3"/>
<circle cx="306.3" cy="147.2" r="1.3"/>
<circle cx="304.1" cy="135.6" r="1.3"/>
<circle cx="284.1" cy="173.8" r="1.3"/>
<circle cx="289.1" cy="140" r="1.3"/>
<circle cx="285.4" cy="160.7" r="1.3"/>
<circle cx="313.2" cy="112" r="1.3"/>
<circle cx="281.1" cy="161" r="1.3"/>
<circle cx="355.8" cy="102.9" r="1.3"/>
<circle cx="313.2" cy="135.6" r="1.3"/>
<circle cx="287.4" cy="153.9" r="1.3"/>
<circle cx="280.5" cy="168.2" r="1.3"/>
<circle cx="288.4" cy="152" r="1.3"/>
<circle cx="325.2" cy="121.2" r="1.3"/>
<circle cx="282.6" cy="160.4" r="1.3"/>
<circle cx="292.4" cy="143.5" r="1.3"/>
<circle cx="294.8" cy="143.4" r="1.3"/>
<circle cx="292.8" cy="151.9" r="1.3"/>
<circle cx="282.1" cy="165.3" r="1.3"/>
<circle cx="285.3" cy="156.8" r="1.3"/>
<circle cx="307.6" cy="143.9" r="1.3"/>
<circle cx="282.9" cy="164.5" r="1.3"/>
<circle cx="284.2" cy="156.9" r="1.3"/>
<circle cx="280.9" cy="166.8" r="1.3"/>
<circle cx="280.3" cy="174.2" r="1.3"/>
<circle cx="315.3" cy="133.1" r="1.3"/>
<circle cx="291.8" cy="173.7" r="1.3"/>
<circle cx="280" cy="172" r="1.3"/>
<circle cx="295" cy="161.2" r="1.3"/>
<circle cx="283.8" cy="161.5" r="1.3"/>
<circle cx="316.4" cy="105.7" r="1.3"/>
<circle cx="287" cy="152.7" r="1.3"/>
<circle cx="310" cy="126.6" r="1.3"/>
<circle cx="284.9" cy="156.4" r="1.3"/>
<circle cx="295.5" cy="129.2" r="1.3"/>
<circle cx="294" cy="138.6" r="1.3"/>
<circle cx="291.5" cy="157.9" r="1.3"/>
<circle cx="330.8" cy="119" r="1.3"/>
<circle cx="282.6" cy="154.2" r="1.3"/>
<circle cx="304.4" cy="138.7" r="1.3"/>
<circle cx="301.2" cy="140.2" r="1.3"/>
<circle cx="290.7" cy="153.6" r="1.3"/>
<circle cx="294.3" cy="147" r="1.3"/>
<circle cx="311.9" cy="97.9" r="1.3"/>
<circle cx="283.7" cy="151.4" r="1.3"/>
<circle cx="283.6" cy="159.1" r="1.3"/>
<circle cx="294.1" cy="149.7" r="1.3"/>
<circle cx="281.7" cy="174" r="1.3"/>
<circle cx="281.7" cy="159" r="1.3"/>
<circle cx="280.1" cy="168.8" r="1.3"/>
<circle cx="286.7" cy="175.3" r="1.3"/>
<circle cx="281.2" cy="163.5" r="1.3"/>
<circle cx="282.2" cy="167" r="1.3"/>
<circle cx="284.7" cy="161.2" r="1.3"/>
<circle cx="283.3" cy="154.8" r="1.3"/>
<circle cx="285.9" cy="157" r="1.3"/>
<circle cx="299.2" cy="154.9" r="1.3"/>
<circle cx="285.5" cy="164.2" r="1.3"/>
<circle cx="281" cy="159.7" r="1.3"/>
<circle cx="323.1" cy="128.4" r="1.3"/>
<circle cx="282.4" cy="164.6" r="1.3"/>
<circle cx="307.8" cy="137" r="1.3"/>
<circle cx="281.4" cy="162.7" r="1.3"/>
<circle cx="312.8" cy="130.9" r="1.3"/>
<circle cx="308.5" cy="123" r="1.3"/>
<circle cx="282.5" cy="159.3" r="1.3"/>
<circle cx="327" cy="112.8" r="1.3"/>
<circle cx="280.9" cy="159.7" r="1.3"/>
<circle cx="319.6" cy="116.6" r="1.3"/>
<circle cx="285" cy="165.4" r="1.3"/>
<circle cx="311.9" cy="122.4" r="1.3"/>
<circle cx="294.5" cy="140.6" r="1.3"/>
<circle cx="310" cy="104.6" r="1.3"/>
<circle cx="314.8" cy="118.4" r="1.3"/>
<circle cx="303.6" cy="162.7" r="1.3"/>
<circle cx="347.2" cy="86.6" r="1.3"/>
<circle cx="284" cy="159.8" r="1.3"/>
<circle cx="318.9" cy="121.2" r="1.3"/>
<circle cx="306.8" cy="121.7" r="1.3"/>
<circle cx="299.4" cy="125.9" r="1.3"/>
<circle cx="313.6" cy="151.9" r="1.3"/>
<circle cx="289.3" cy="145.8" r="1.3"/>
<circle cx="291.5" cy="146.9" r="1.3"/>
<circle cx="336.3" cy="86" r="1.3"/>
<circle cx="288.9" cy="125.3" r="1.3"/>
<circle cx="286" cy="143.8" r="1.3"/>
<circle cx="285.2" cy="159.9" r="1.3"/>
<circle cx="302.2" cy="143.1" r="1.3"/>
<circle cx="281.3" cy="168.9" r="1.3"/>
<circle cx="334.2" cy="120.4" r="1.3"/>
<circle cx="292.5" cy="125.9" r="1.3"/>
<circle cx="295.6" cy="155" r="1.3"/>
<circle cx="311.7" cy="138.4" r="1.3"/>
<circle cx="287.5" cy="169.9" r="1.3"/>
<circle cx="348.3" cy="93.3" r="1.3"/>
<circle cx="287.8" cy="142.4" r="1.3"/>
<circle cx="280.5" cy="166.3" r="1.3"/>
<circle cx="286.2" cy="164.6" r="1.3"/>
<circle cx="306" cy="133.4" r="1.3"/>
<circle cx="297.7" cy="133.3" r="1.3"/>
<circle cx="312.3" cy="132.2" r="1.3"/>
<circle cx="307.6" cy="153" r="1.3"/>
<circle cx="280.5" cy="172.9" r="1.3"/>
<circle cx="320.5" cy="108.4" r="1.3"/>
<circle cx="313.7" cy="127" r="1.3"/>
<circle cx="315.8" cy="125.7" r="1.3"/>
<circle cx="281.8" cy="164.5" r="1.3"/>
<circle cx="287.7" cy="172.9" r="1.3"/>
<circle cx="302" cy="118.3" r="1.3"/>
<circle cx="286.3" cy="159.6" r="1.3"/>
<circle cx="285.5" cy="164.5" r="1.3"/>
<circle cx="294" cy="154.9" r="1.3"/>
<circle cx="304.8" cy="146.6" r="1.3"/>
<circle cx="408.7" cy="68.8" r="1.3"/>
<circle cx="298.3" cy="127.8" r="1.3"/>
<circle cx="291.7" cy="153.6" r="1.3"/>
<circle cx="280.4" cy="169.4" r="1.3"/>
<circle cx="288.1" cy="162.9" r="1.3"/>
<circle cx="353.6" cy="81.6" r="1.3"/>
<circle cx="332.6" cy="119.3" r="1.3"/>
<circle cx="287.1" cy="167.1" r="1.3"/>
<circle cx="326.1" cy="136.5" r="1.3"/>
<circle cx="300.3" cy="161.4" r="1.3"/>
<circle cx="297.3" cy="160.2" r="1.3"/>
<circle cx="286.1" cy="140.8" r="1.3"/>
<circle cx="283.2" cy="144.4" r="1.3"/>
<circle cx="280.1" cy="169.2" r="1.3"/>
<circle cx="309.5" cy="145" r="1.3"/>
<circle cx="303.6" cy="151.8" r="1.3"/>
<circle cx="284.8" cy="171" r="1.3"/>
<circle cx="291.6" cy="141.9" r="1.3"/>
<circle cx="297.2" cy="145.3" r="1.3"/>
<circle cx="289.3" cy="146.7" r="1.3"/>
<circle cx="294.9" cy="168.5" r="1.3"/>
<circle cx="289.4" cy="152.6" r="1.3"/>
<circle cx="280.1" cy="168.7" r="1.3"/>
<circle cx="285.2" cy="169.9" r="1.3"/>
<circle cx="284.7" cy="174.5" r="1.3"/>
<circle cx="293" cy="153.3" r="1.3"/>
<circle cx="300.4" cy="119.6" r="1.3"/>
<circle cx="283.6" cy="155.8" r="1.3"/>
<circle cx="285" cy="164" r="1.3"/>
<circle cx="297.1" cy="160.2" r="1.3"/>
<circle cx="280.6" cy="174.3" r="1.3"/>
<circle cx="328" cy="110.9" r="1.3"/>
<circle cx="336.7" cy="105.3" r="1.3"/>
<circle cx="288.5" cy="166.2" r="1.3"/>
<circle cx="283.5" cy="160" r="1.3"/>
<circle cx="282" cy="160" r="1.3"/>
<circle cx="285.9" cy="170.8" r="1.3"/>
<circle cx="298.2" cy="144.2" r="1.3"/>
<circle cx="280.5" cy="169.7" r="1.3"/>
<circle cx="281.8" cy="167.4" r="1.3"/>
<circle cx="305.1" cy="142.1" r="1.3"/>
<circle cx="386.1" cy="60.9" r="1.3"/>
<circle cx="301.3" cy="143.5" r="1.3"/>
<circle cx="283.7" cy="157.3" r="1.3"/>
<circle cx="311.3" cy="118" r="1.3"/>
<circle cx="336.1" cy="105.2" r="1.3"/>
<circle cx="288.9" cy="131.9" r="1.3"/>
<circle cx="308.7" cy="121.8" r="1.3"/>
<circle cx="287.4" cy="155.6" r="1.3"/>
<circle cx="280.2" cy="166" r="1.3"/>
<circle cx="303.8" cy="129.8" r="1.3"/>
<circle cx="289.7" cy="170.7" r="1.3"/>
<circle cx="281" cy="172.4" r="1.3"/>
<circle cx="293.4" cy="127.4" r="1.3"/>
<circle cx="300.4" cy="129.3" r="1.3"/>
<circle cx="288.7" cy="151.7" r="1.3"/>
<circle cx="281" cy="159.3" r="1.3"/>
<circle cx="298.6" cy="151.5" r="1.3"/>
<circle cx="282.6" cy="151.8" r="1.3"/>
<circle cx="282.4" cy="159.5" r="1.3"/>
<circle cx="299.8" cy="149.6" r="1.3"/>
<circle cx="280.8" cy="161" r="1.3"/>
<circle cx="280" cy="166.5" r="1.3"/>
<circle cx="322.5" cy="136.8" r="1.3"/>
<circle cx="317.3" cy="120.5" r="1.3"/>
<circle cx="287.5" cy="173.8" r="1.3"/>
<circle cx="387" cy="70.2" r="1.3"/>
<circle cx="311" cy="102.9" r="1.3"/>
<circle cx="332.9" cy="102.6" r="1.3"/>
<circle cx="286.6" cy="165.8" r="1.3"/>
<circle cx="285" cy="162.8" r="1.3"/>
<circle cx="307.3" cy="158.4" r="1.3"/>
<circle cx="290.7" cy="150" r="1.3"/>
<circle cx="286.7" cy="150.6" r="1.3"/>
<circle cx="291.8" cy="150.9" r="1.3"/>
<circle cx="295.5" cy="150.1" r="1.3"/>
<circle cx="291.3" cy="135.6" r="1.3"/>
<circle cx="286.3" cy="171.5" r="1.3"/>
<circle cx="305.5" cy="151.7" r="1.3"/>
<circle cx="280.5" cy="174.3" r="1.3"/>
<circle cx="296.8" cy="158.4" r="1.3"/>
<circle cx="330.1" cy="99.9" r="1.3"/>
<circle cx="280.2" cy="167" r="1.3"/>
<circle cx="286.5" cy="154.4" r="1.3"/>
<circle cx="309.3" cy="151.3" r="1.3"/>
<circle cx="300.5" cy="118.4" r="1.3"/>
<circle cx="287.2" cy="166.6" r="1.3"/>
<circle cx="313.5" cy="121.4" r="1.3"/>
<circle cx="287.7" cy="133.2" r="1.3"/>
<circle cx="288.6" cy="161.5" r="1.3"/>
<circle cx="316.1" cy="123.6" r="1.3"/>
<circle cx="313.2" cy="131.1" r="1.3"/>
<circle cx="285" cy="158.9" r="1.3"/>
<circle cx="306.1" cy="151.9" r="1.3"/>
<circle cx="280.2" cy="159.2" r="1.3"/>
<circle cx="297.3" cy="137.5" r="1.3"/>
<circle cx="305.1" cy="109.3" r="1.3"/>
<circle cx="291.4" cy="167" r="1.3"/>
<circle cx="283.2" cy="160.2" r="1.3"/>
<circle cx="283.3" cy="165" r="1.3"/>
<circle cx="282.6" cy="170.2" r="1.3"/>
<circle cx="303.7" cy="126.8" r="1.3"/>
<circle cx="282" cy="160.7" r="1.3"/>
<circle cx="289.4" cy="155.4" r="1.3"/>
<circle cx="300.1" cy="158.8" r="1.3"/>
<circle cx="324.7" cy="136.2" r="1.3"/>
<circle cx="321.9" cy="111.2" r="1.3"/>
<circle cx="283.6" cy="170" r="1.3"/>
<circle cx="285.3" cy="165.9" r="1.3"/>
<circle cx="309.5" cy="122.2" r="1.3"/>
<circle cx="290.4" cy="152.5" r="1.3"/>
<circle cx="288.7" cy="147.8" r="1.3"/>
<circle cx="293.2" cy="143.5" r="1.3"/>
<circle cx="302.7" cy="156.2" r="1.3"/>
<circle cx="282.7" cy="167.5" r="1.3"/>
<circle cx="288" cy="153.9" r="1.3"/>
<circle cx="284.7" cy="169" r="1.3"/>
<circle cx="285.2" cy="162" r="1.3"/>
<circle cx="346.3" cy="101.1" r="1.3"/>
<circle cx="304.4" cy="134.9" r="1.3"/>
<circle cx="319.4" cy="134.4" r="1.3"/>
<circle cx="300.3" cy="130.5" r="1.3"/>
<circle cx="282.6" cy="149.7" r="1.3"/>
<circle cx="280.7" cy="167.2" r="1.3"/>
<circle cx="295.2" cy="160.5" r="1.3"/>
<circle cx="316" cy="115.8" r="1.3"/>
<circle cx="286.2" cy="152" r="1.3"/>
<circle cx="281.4" cy="173.9" r="1.3"/>
<circle cx="281.8" cy="170.8" r="1.3"/>
<circle cx="281.3" cy="166.8" r="1.3"/>
<circle cx="286.9" cy="145.8" r="1.3"/>
<circle cx="311.7" cy="135.4" r="1.3"/>
<circle cx="288" cy="166.7" r="1.3"/>
<circle cx="297.6" cy="174.9" r="1.3"/>
<circle cx="281.7" cy="166.7" r="1.3"/>
<circle cx="285.5" cy="143.8" r="1.3"/>
<circle cx="321.3" cy="134" r="1.3"/>
<circle cx="340.4" cy="105" r="1.3"/>
<circle cx="282.4" cy="156.5" r="1.3"/>
<circle cx="284.7" cy="159.3" r="1.3"/>
<circle cx="316.4" cy="132" r="1.3"/>
<circle cx="297.2" cy="170.9" r="1.3"/>
<circle cx="287.5" cy="169.6" r="1.3"/>
<circle cx="289.3" cy="170.5" r="1.3"/>
<circle cx="303.2" cy="155.4" r="1.3"/>
<circle cx="303.2" cy="142.5" r="1.3"/>
<circle cx="289.7" cy="140.1" r="1.3"/>
<circle cx="287" cy="153.9" r="1.3"/>
<circle cx="286.1" cy="148.7" r="1.3"/>
<circle cx="309.3" cy="113.8" r="1.3"/>
<circle cx="281" cy="164" r="1.3"/>
<circle cx="294.4" cy="136.1" r="1.3"/>
<circle cx="293.9" cy="138.9" r="1.3"/>
<circle cx="319.5" cy="134.4" r="1.3"/>
<circle cx="307.3" cy="137" r="1.3"/>
<circle cx="280" cy="170.6" r="1.3"/>
<circle cx="287.8" cy="166.9" r="1.3"/>
<circle cx="283.8" cy="170" r="1.3"/>
<circle cx="298.2" cy="154.1" r="1.3"/>
<circle cx="307.8" cy="155.7" r="1.3"/>
<circle cx="281.2" cy="168.3" r="1.3"/>
<circle cx="302.4" cy="146.5" r="1.3"/>
<circle cx="281.4" cy="163.9" r="1.3"/>
<circle cx="327.4" cy="90.4" r="1.3"/>
<circle cx="321.6" cy="119.5" r="1.3"/>
<circle cx="296.7" cy="133.8" r="1.3"/>
<circle cx="299.7" cy="157.5" r="1.3"/>
<circle cx="358.6" cy="64.1" r="1.3"/>
<circle cx="321.7" cy="106.9" r="1.3"/>
<circle cx="308.8" cy="111.3" r="1.3"/>
<circle cx="345.2" cy="92.7" r="1.3"/>
<circle cx="290.2" cy="171.8" r="1.3"/>
<circle cx="338.2" cy="111.2" r="1.3"/>
<circle cx="293.4" cy="137.1" r="1.3"/>
<circle cx="282" cy="163.3" r="1.3"/>
<circle cx="305.5" cy="150.1" r="1.3"/>
<circle cx="293.2" cy="132.4" r="1.3"/>
<circle cx="294.2" cy="172.5" r="1.3"/>
<circle cx="295.8" cy="145.9" r="1.3"/>
<circle cx="287.8" cy="159.5" r="1.3"/>
<circle cx="335" cy="119.9" r="1.3"/>
<circle cx="291.3" cy="145.4" r="1.3"/>
<circle cx="290.4" cy="139.5" r="1.3"/>
<circle cx="284.7" cy="163.4" r="1.3"/>
<circle cx="280.1" cy="169.2" r="1.3"/>
<circle cx="281.3" cy="164.7" r="1.3"/>
<circle cx="312.5" cy="129.2" r="1.3"/>
<circle cx="313" cy="136.4" r="1.3"/>
<circle cx="338.4" cy="114.6" r="1.3"/>
<circle cx="294.8" cy="148.7" r="1.3"/>
<circle cx="322.2" cy="129" r="1.3"/>
<circle cx="289.3" cy="150.3" r="1.3"/>
<circle cx="293" cy="161.5" r="1.3"/>
<circle cx="286.8" cy="173.5" r="1.3"/>
<circle cx="281.4" cy="167.8" r="1.3"/>
<circle cx="314" cy="136.6" r="1.3"/>
<circle cx="286.9" cy="140.6" r="1.3"/>
<circle cx="280.6" cy="162.6" r="1.3"/>
<circle cx="300.5" cy="147.5" r="1.3"/>
<circle cx="290.2" cy="170.9" r="1.3"/>
<circle cx="332.1" cy="96.8" r="1.3"/>
<circle cx="380.4" cy="57.9" r="1.3"/>
<circle cx="283.1" cy="156.7" r="1.3"/>
<circle cx="283.7" cy="172.8" r="1.3"/>
<circle cx="287.2" cy="168.1" r="1.3"/>
<circle cx="288" cy="168.5" r="1.3"/>
<circle cx="310.8" cy="138.6" r="1.3"/>
<circle cx="288.4" cy="175.5" r="1.3"/>
<circle cx="303.7" cy="173.8" r="1.3"/>
<circle cx="283.4" cy="155.5" r="1.3"/>
<circle cx="310.7" cy="123.7" r="1.3"/>
<circle cx="280.9" cy="168.1" r="1.3"/>
<circle cx="343" cy="109.6" r="1.3"/>
<circle cx="305.8" cy="110.9" r="1.3"/>
<circle cx="319.3" cy="126.9" r="1.3"/>
<circle cx="348.4" cy="86.2" r="1.3"/>
<circle cx="289.9" cy="161.1" r="1.3"/>
<circle cx="325.8" cy="110.8" r="1.3"/>
<circle cx="282.3" cy="154.3" r="1.3"/>
<circle cx="304.5" cy="149.3" r="1.3"/>
<circle cx="297.2" cy="125.5" r="1.3"/>
<circle cx="285" cy="151.1" r="1.3"/>
<circle cx="280.5" cy="171.7" r="1.3"/>
<circle cx="294.2" cy="135.4" r="1.3"/>
<circle cx="341.8" cy="112.5" r="1.3"/>
<circle cx="309.8" cy="99.4" r="1.3"/>
<circle cx="280.4" cy="170" r="1.3"/>
<circle cx="300.4" cy="139.7" r="1.3"/>
<circle cx="299.3" cy="134.2" r="1.3"/>
<circle cx="308.3" cy="134.3" r="1.3"/>
<circle cx="303.6" cy="125.5" r="1.3"/>
<circle cx="317.1" cy="107.3" r="1.3"/>
<circle cx="293.1" cy="167.8" r="1.3"/>
<circle cx="295.9" cy="171.9" r="1.3"/>
<circle cx="280.2" cy="174.4" r="1.3"/>
<circle cx="308.6" cy="136.1" r="1.3"/>
<circle cx="284.5" cy="155.6" r="1.3"/>
<circle cx="294" cy="171.1" r="1.3"/>
<circle cx="281" cy="171.1" r="1.3"/>
<circle cx="281.8" cy="163.9" r="1.3"/>
<circle cx="291.6" cy="165.8" r="1.3"/>
<circle cx="303" cy="100.1" r="1.3"/>
<circle cx="292.8" cy="137.8" r="1.3"/>
<circle cx="303.3" cy="138.5" r="1.3"/>
<circle cx="287.4" cy="165.4" r="1.3"/>
<circle cx="298.4" cy="138.2" r="1.3"/>
<circle cx="308.1" cy="119.2" r="1.3"/>
<circle cx="297.1" cy="140" r="1.3"/>
<circle cx="299.8" cy="156.2" r="1.3"/>
<circle cx="280.1" cy="169.1" r="1.3"/>
<circle cx="281.3" cy="153.8" r="1.3"/>
<circle cx="284.7" cy="170.7" r="1.3"/>
<circle cx="327.1" cy="119.8" r="1.3"/>
<circle cx="290.3" cy="159.4" r="1.3"/>
<circle cx="280" cy="172.4" r="1.3"/>
<circle cx="285" cy="151.5" r="1.3"/>
<circle cx="292" cy="137.7" r="1.3"/>
<circle cx="319.3" cy="146.2" r="1.3"/>
<circle cx="281.3" cy="159.3" r="1.3"/>
<circle cx="284.4" cy="172" r="1.3"/>
<circle cx="289.5" cy="152.8" r="1.3"/>
<circle cx="287" cy="159.6" r="1.3"/>
<circle cx="298.7" cy="121.3" r="1.3"/>
<circle cx="311.1" cy="142.4" r="1.3"/>
<circle cx="291.2" cy="135.1" r="1.3"/>
<circle cx="311.7" cy="133.4" r="1.3"/>
<circle cx="290.1" cy="141.7" r="1.3"/>
<circle cx="311.1" cy="147.4" r="1.3"/>
<circle cx="282.6" cy="162.6" r="1.3"/>
<circle cx="280.8" cy="163.1" r="1.3"/>
<circle cx="308.5" cy="148.7" r="1.3"/>
<circle cx="305.6" cy="124.7" r="1.3"/>
<circle cx="289.7" cy="145.4" r="1.3"/>
<circle cx="293.2" cy="166.3" r="1.3"/>
<circle cx="297.3" cy="160.6" r="1.3"/>
<circle cx="291.3" cy="165.9" r="1.3"/>
<circle cx="294" cy="142.6" r="1.3"/>
<circle cx="325.7" cy="127.1" r="1.3"/>
<circle cx="295.1" cy="129" r="1.3"/>
<circle cx="307.4" cy="119.9" r="1.3"/>
<circle cx="283.3" cy="170.5" r="1.3"/>
<circle cx="302.4" cy="136.3" r="1.3"/>
<circle cx="291.6" cy="123.3" r="1.3"/>
<circle cx="280.8" cy="159" r="1.3"/>
<circle cx="290.9" cy="138.4" r="1.3"/>
<circle cx="327.7" cy="134.6" r="1.3"/>
<circle cx="284.9" cy="175" r="1.3"/>
<circle cx="300.5" cy="144.3" r="1.3"/>
<circle cx="322.1" cy="132.3" r="1.3"/>
<circle cx="293.1" cy="122.3" r="1.3"/>
<circle cx="292" cy="136" r="1.3"/>
<circle cx="294.3" cy="167.9" r="1.3"/>
<circle cx="301.8" cy="140.9" r="1.3"/>
<circle cx="293.9" cy="148.5" r="1.3"/>
<circle cx="296.7" cy="132.8" r="1.3"/>
<circle cx="280.2" cy="172.6" r="1.3"/>
<circle cx="281" cy="168.8" r="1.3"/>
<circle cx="280.4" cy="168.4" r="1.3"/>
<circle cx="280.9" cy="175.3" r="1.3"/>
<circle cx="298.3" cy="158.4" r="1.3"/>
<circle cx="282.8" cy="174.4" r="1.3"/>
<circle cx="292.2" cy="128.9" r="1.3"/>
<circle cx="333.1" cy="111.2" r="1.3"/>
<circle cx="294.6" cy="130" r="1.3"/>
<circle cx="284.8" cy="164.4" r="1.3"/>
<circle cx="297.9" cy="166.8" r="1.3"/>
<circle cx="287.2" cy="168" r="1.3"/>
<circle cx="312.3" cy="124.6" r="1.3"/>
<circle cx="304.5" cy="126.6" r="1.3"/>
<circle cx="283.1" cy="154.4" r="1.3"/>
<circle cx="283.1" cy="166.1" r="1.3"/>
<circle cx="284.7" cy="155.2" r="1.3"/>
<circle cx="283.7" cy="156.6" r="1.3"/>
<circle cx="291.5" cy="158.3" r="1.3"/>
<circle cx="280.4" cy="174.5" r="1.3"/>
<circle cx="359.2" cy="83.5" r="1.3"/>
<circle cx="307.7" cy="158" r="1.3"/>
<circle cx="283.9" cy="171.8" r="1.3"/>
<circle cx="282.3" cy="173.9" r="1.3"/>
<circle cx="305.8" cy="145" r="1.3"/>
<circle cx="297" cy="136.8" r="1.3"/>
<circle cx="329.6" cy="105.3" r="1.3"/>
<circle cx="280" cy="166.4" r="1.3"/>
<circle cx="283.6" cy="168" r="1.3"/>
<circle cx="280.2" cy="173.3" r="1.3"/>
<circle cx="288.1" cy="163.9" r="1.3"/>
<circle cx="284" cy="169" r="1.3"/>
<circle cx="290.6" cy="160.1" r="1.3"/>
<circle cx="297.9" cy="140.6" r="1.3"/>
<circle cx="283.7" cy="173.6" r="1.3"/>
<circle cx="284.9" cy="158.3" r="1.3"/>
<circle cx="284" cy="174" r="1.3"/>
<circle cx="283.1" cy="160.7" r="1.3"/>
<circle cx="289.9" cy="168" r="1.3"/>
<circle cx="285.3" cy="163.4" r="1.3"/>
<circle cx="282.6" cy="154" r="1.3"/>
<circle cx="297.7" cy="142.8" r="1.3"/>
<circle cx="287.5" cy="164" r="1.3"/>
<circle cx="285.1" cy="144.1" r="1.3"/>
<circle cx="315.6" cy="122.4" r="1.3"/>
<circle cx="289.2" cy="151.2" r="1.3"/>
<circle cx="288.7" cy="162.8" r="1.3"/>
<circle cx="284.8" cy="160.5" r="1.3"/>
<circle cx="297.8" cy="141.7" r="1.3"/>
<circle cx="289.6" cy="175" r="1.3"/>
<circle cx="305.3" cy="128" r="1.3"/>
<circle cx="283.8" cy="160.7" r="1.3"/>
<circle cx="281.7" cy="165.3" r="1.3"/>
<circle cx="317.7" cy="124" r="1.3"/>
<circle cx="281.6" cy="154.7" r="1.3"/>
<circle cx="318.2" cy="137.4" r="1.3"/>
<circle cx="290.9" cy="162.7" r="1.3"/>
<circle cx="377.6" cy="69.3" r="1.3"/>
<circle cx="295.7" cy="142.7" r="1.3"/>
<circle cx="321.7" cy="150.5" r="1.3"/>
<circle cx="341.4" cy="97.8" r="1.3"/>
<circle cx="297.8" cy="129.8" r="1.3"/>
<circle cx="317.7" cy="98.7" r="1.3"/>
<circle cx="319.3" cy="157.4" r="1.3"/>
<circle cx="297" cy="161.5" r="1.3"/>
<circle cx="300.6" cy="162.9" r="1.3"/>
<circle cx="303" cy="144.5" r="1.3"/>
<circle cx="303.1" cy="138.6" r="1.3"/>
<circle cx="375.8" cy="169.3" r="1.3"/>
<circle cx="379" cy="170.9" r="1.3"/>
<circle cx="383.9" cy="170.9" r="1.3"/>
<circle cx="391.9" cy="170.9" r="1.3"/>
<circle cx="395.1" cy="172.5" r="1.3"/>
<circle cx="396.7" cy="174" r="1.3"/>
<circle cx="374.2" cy="109.7" r="1.3"/>
<circle cx="377.4" cy="105" r="1.3"/>
<circle cx="380.7" cy="106.6" r="1.3"/>
<circle cx="372.6" cy="128.6" r="1.3"/>
<circle cx="366.2" cy="136.4" r="1.3"/>
<circle cx="363" cy="139.5" r="1.3"/>
<circle cx="353.3" cy="147.4" r="1.3"/>
<circle cx="356.5" cy="148.9" r="1.3"/>
<circle cx="369.4" cy="150.5" r="1.3"/>
<circle cx="345.3" cy="153.6" r="1.3"/>
<circle cx="350.1" cy="156.8" r="1.3"/>
<circle cx="412.8" cy="86.2" r="1.3"/>
<circle cx="424.1" cy="86.2" r="1.3"/>
<circle cx="406.4" cy="81.5" r="1.3"/>
<circle cx="433.8" cy="59.6" r="1.3"/>
<circle cx="430.5" cy="42.3" r="1.3"/>
<circle cx="420.9" cy="37.6" r="1.3"/>
<circle cx="414.4" cy="37.6" r="1.3"/>
<circle cx="393.5" cy="40.8" r="1.3"/>
<circle cx="369.4" cy="45.5" r="1.3"/>
<circle cx="292.2" cy="86.2" r="1.3"/>
<circle cx="306.6" cy="78.4" r="1.3"/>
<circle cx="282.5" cy="109.7" r="1.3"/>
<circle cx="324.3" cy="142.7" r="1.3"/>
<circle cx="317.9" cy="131.7" r="1.3"/>
<circle cx="329.2" cy="152.1" r="1.3"/>
<circle cx="316.3" cy="147.4" r="1.3"/>
<circle cx="337.2" cy="163.1" r="1.3"/>
<circle cx="342" cy="159.9" r="1.3"/>
</g>
<line x1="280.9" y1="163.1" x2="433.8" y2="23.5" stroke="#000" stroke-width="1.2"/>
<rect x="265.5" y="11.3" width="184.2" height="170.5" fill="none" stroke="#8c8c8c" stroke-width="0.8"/>
<line x1="263.5" y1="175.6" x2="265.5" y2="175.6" stroke="#8c8c8c" stroke-width="0.6"/>
<line x1="280.9" y1="181.8" x2="280.9" y2="183.8" stroke="#8c8c8c" stroke-width="0.6"/>
<text transform="translate(262.8 178.8) scale(1 1.1)" font-size="8.9" text-anchor="end">0.00</text>
<text transform="translate(280.9 194.6) scale(1 1.1)" font-size="8.9" text-anchor="middle">0.00</text>
<line x1="263.5" y1="136.4" x2="265.5" y2="136.4" stroke="#8c8c8c" stroke-width="0.6"/>
<line x1="321.1" y1="181.8" x2="321.1" y2="183.8" stroke="#8c8c8c" stroke-width="0.6"/>
<text transform="translate(262.8 139.6) scale(1 1.1)" font-size="8.9" text-anchor="end">0.25</text>
<text transform="translate(321.1 194.6) scale(1 1.1)" font-size="8.9" text-anchor="middle">0.25</text>
<line x1="263.5" y1="97.2" x2="265.5" y2="97.2" stroke="#8c8c8c" stroke-width="0.6"/>
<line x1="361.3" y1="181.8" x2="361.3" y2="183.8" stroke="#8c8c8c" stroke-width="0.6"/>
<text transform="translate(262.8 100.4) scale(1 1.1)" font-size="8.9" text-anchor="end">0.50</text>
<text transform="translate(361.3 194.6) scale(1 1.1)" font-size="8.9" text-anchor="middle">0.50</text>
<line x1="263.5" y1="58" x2="265.5" y2="58" stroke="#8c8c8c" stroke-width="0.6"/>
<line x1="401.6" y1="181.8" x2="401.6" y2="183.8" stroke="#8c8c8c" stroke-width="0.6"/>
<text transform="translate(262.8 61.2) scale(1 1.1)" font-size="8.9" text-anchor="end">0.75</text>
<text transform="translate(401.6 194.6) scale(1 1.1)" font-size="8.9" text-anchor="middle">0.75</text>
<line x1="263.5" y1="18.8" x2="265.5" y2="18.8" stroke="#8c8c8c" stroke-width="0.6"/>
<line x1="441.8" y1="181.8" x2="441.8" y2="183.8" stroke="#8c8c8c" stroke-width="0.6"/>
<text transform="translate(262.8 22) scale(1 1.1)" font-size="8.9" text-anchor="end">1.00</text>
<text transform="translate(441.8 194.6) scale(1 1.1)" font-size="8.9" text-anchor="middle">1.00</text>
<text x="355.4" y="207.4" font-size="9" text-anchor="middle">Performance DL (R2)</text>
<text x="242.8" y="105.5" font-size="9" text-anchor="middle" transform="rotate(-90 242.8 105.5)">Total Heritability</text>
<text x="274.7" y="27.6" font-size="8.5" fill="#1a1a1a" textLength="78.8" lengthAdjust="spacingAndGlyphs"><tspan font-style="italic">R</tspan> = 0.85, <tspan font-style="italic">p</tspan> &lt; 2.2e-16</text>
<text x="463.4" y="10.5" font-size="12.5" font-weight="bold" fill="#000">c</text>
<line x1="488.5" y1="166.8" x2="684.5" y2="166.8" stroke="#F3F3F3" stroke-width="0.5"/>
<line x1="525" y1="11.4" x2="525" y2="173.6" stroke="#F3F3F3" stroke-width="0.5"/>
<line x1="488.5" y1="126.6" x2="684.5" y2="126.6" stroke="#F3F3F3" stroke-width="0.5"/>
<line x1="581" y1="11.4" x2="581" y2="173.6" stroke="#F3F3F3" stroke-width="0.5"/>
<line x1="488.5" y1="86.4" x2="684.5" y2="86.4" stroke="#F3F3F3" stroke-width="0.5"/>
<line x1="637" y1="11.4" x2="637" y2="173.6" stroke="#F3F3F3" stroke-width="0.5"/>
<line x1="488.5" y1="46.2" x2="684.5" y2="46.2" stroke="#F3F3F3" stroke-width="0.5"/>
<line x1="497" y1="11.4" x2="497" y2="173.6" stroke="#EBEBEB" stroke-width="0.8"/>
<line x1="488.5" y1="146.7" x2="684.5" y2="146.7" stroke="#EBEBEB" stroke-width="0.8"/>
<line x1="553" y1="11.4" x2="553" y2="173.6" stroke="#EBEBEB" stroke-width="0.8"/>
<line x1="488.5" y1="106.5" x2="684.5" y2="106.5" stroke="#EBEBEB" stroke-width="0.8"/>
<line x1="609" y1="11.4" x2="609" y2="173.6" stroke="#EBEBEB" stroke-width="0.8"/>
<line x1="488.5" y1="66.3" x2="684.5" y2="66.3" stroke="#EBEBEB" stroke-width="0.8"/>
<line x1="665" y1="11.4" x2="665" y2="173.6" stroke="#EBEBEB" stroke-width="0.8"/>
<line x1="488.5" y1="26.1" x2="684.5" y2="26.1" stroke="#EBEBEB" stroke-width="0.8"/>
<line x1="488.5" y1="152.8" x2="684.5" y2="12.1" stroke="#e8474a" stroke-width="0.9"/>
<g fill="#111" stroke="#fff" stroke-width="0.35">
<circle cx="527.3" cy="125.1" r="1.45"/>
<circle cx="545.1" cy="117.8" r="1.45"/>
<circle cx="533.6" cy="119.8" r="1.45"/>
<circle cx="519.2" cy="130.8" r="1.45"/>
<circle cx="545.2" cy="116.2" r="1.45"/>
<circle cx="504" cy="146.2" r="1.45"/>
<circle cx="519.4" cy="130.2" r="1.45"/>
<circle cx="524.7" cy="122.8" r="1.45"/>
<circle cx="501.1" cy="142.5" r="1.45"/>
<circle cx="543.6" cy="111.1" r="1.45"/>
<circle cx="535" cy="116.5" r="1.45"/>
<circle cx="505" cy="135.8" r="1.45"/>
<circle cx="527" cy="124.9" r="1.45"/>
<circle cx="541" cy="115.1" r="1.45"/>
<circle cx="507.7" cy="136.6" r="1.45"/>
<circle cx="541.1" cy="106.9" r="1.45"/>
<circle cx="511" cy="132.5" r="1.45"/>
<circle cx="530.2" cy="123.7" r="1.45"/>
<circle cx="507.5" cy="134.3" r="1.45"/>
<circle cx="546.5" cy="113.1" r="1.45"/>
<circle cx="542.3" cy="115.2" r="1.45"/>
<circle cx="506" cy="136.9" r="1.45"/>
<circle cx="505.2" cy="137.8" r="1.45"/>
<circle cx="526.2" cy="124.5" r="1.45"/>
<circle cx="501" cy="144.3" r="1.45"/>
<circle cx="511.9" cy="138" r="1.45"/>
<circle cx="538" cy="120" r="1.45"/>
<circle cx="520" cy="129.6" r="1.45"/>
<circle cx="531.7" cy="114.1" r="1.45"/>
<circle cx="501.3" cy="140" r="1.45"/>
<circle cx="534.1" cy="119.7" r="1.45"/>
<circle cx="536.2" cy="119" r="1.45"/>
<circle cx="514.5" cy="134.1" r="1.45"/>
<circle cx="502" cy="142.6" r="1.45"/>
<circle cx="506.5" cy="137.3" r="1.45"/>
<circle cx="534.5" cy="120.4" r="1.45"/>
<circle cx="544.4" cy="110.3" r="1.45"/>
<circle cx="514" cy="135.1" r="1.45"/>
<circle cx="522.2" cy="128.1" r="1.45"/>
<circle cx="534.1" cy="121.5" r="1.45"/>
<circle cx="536.8" cy="117.7" r="1.45"/>
<circle cx="545.3" cy="112.9" r="1.45"/>
<circle cx="503.3" cy="143.7" r="1.45"/>
<circle cx="543.7" cy="109.9" r="1.45"/>
<circle cx="513.3" cy="131.2" r="1.45"/>
<circle cx="512" cy="137.2" r="1.45"/>
<circle cx="512.2" cy="134.8" r="1.45"/>
<circle cx="505.3" cy="139" r="1.45"/>
<circle cx="530.8" cy="120.6" r="1.45"/>
<circle cx="502" cy="142.4" r="1.45"/>
<circle cx="547.7" cy="113.6" r="1.45"/>
<circle cx="508.8" cy="138.3" r="1.45"/>
<circle cx="525.7" cy="124.3" r="1.45"/>
<circle cx="517.1" cy="134.9" r="1.45"/>
<circle cx="502.2" cy="141.6" r="1.45"/>
<circle cx="520.6" cy="129.8" r="1.45"/>
<circle cx="539.1" cy="113.2" r="1.45"/>
<circle cx="545.6" cy="108.5" r="1.45"/>
<circle cx="527.7" cy="124.2" r="1.45"/>
<circle cx="517.7" cy="132.9" r="1.45"/>
<circle cx="505.3" cy="138.7" r="1.45"/>
<circle cx="518.6" cy="132.9" r="1.45"/>
<circle cx="548.5" cy="105.1" r="1.45"/>
<circle cx="518.6" cy="137.4" r="1.45"/>
<circle cx="520.3" cy="130.1" r="1.45"/>
<circle cx="511.1" cy="139.5" r="1.45"/>
<circle cx="516.2" cy="130.7" r="1.45"/>
<circle cx="547.8" cy="108.2" r="1.45"/>
<circle cx="546.1" cy="114.2" r="1.45"/>
<circle cx="513.2" cy="137.1" r="1.45"/>
<circle cx="503.2" cy="142.3" r="1.45"/>
<circle cx="540.8" cy="110.2" r="1.45"/>
<circle cx="514.3" cy="132.7" r="1.45"/>
<circle cx="531.1" cy="127.2" r="1.45"/>
<circle cx="529.5" cy="123.1" r="1.45"/>
<circle cx="531.6" cy="124.6" r="1.45"/>
<circle cx="510.7" cy="141.5" r="1.45"/>
<circle cx="530.9" cy="121.8" r="1.45"/>
<circle cx="511.2" cy="131.9" r="1.45"/>
<circle cx="525" cy="127.8" r="1.45"/>
<circle cx="501.1" cy="145.2" r="1.45"/>
<circle cx="529.9" cy="123.7" r="1.45"/>
<circle cx="519.1" cy="128.7" r="1.45"/>
<circle cx="536.8" cy="122.2" r="1.45"/>
<circle cx="513.6" cy="137.4" r="1.45"/>
<circle cx="538.5" cy="120.9" r="1.45"/>
<circle cx="513.7" cy="130.9" r="1.45"/>
<circle cx="530.8" cy="127.5" r="1.45"/>
<circle cx="547.1" cy="107.5" r="1.45"/>
<circle cx="522.4" cy="129.2" r="1.45"/>
<circle cx="506" cy="136" r="1.45"/>
<circle cx="519.8" cy="136.1" r="1.45"/>
<circle cx="530.9" cy="123.2" r="1.45"/>
<circle cx="506.2" cy="144.3" r="1.45"/>
<circle cx="535.8" cy="122.8" r="1.45"/>
<circle cx="517.1" cy="134.1" r="1.45"/>
<circle cx="527.3" cy="124.1" r="1.45"/>
<circle cx="532.5" cy="125.4" r="1.45"/>
<circle cx="501.5" cy="141.1" r="1.45"/>
<circle cx="528.7" cy="121.1" r="1.45"/>
<circle cx="528.7" cy="110.3" r="1.45"/>
<circle cx="551.9" cy="112.5" r="1.45"/>
<circle cx="549.1" cy="123.4" r="1.45"/>
<circle cx="546.3" cy="117" r="1.45"/>
<circle cx="539.6" cy="125" r="1.45"/>
<circle cx="576" cy="97.7" r="1.45"/>
<circle cx="581.9" cy="107.8" r="1.45"/>
<circle cx="586.6" cy="85" r="1.45"/>
<circle cx="592.8" cy="131.6" r="1.45"/>
<circle cx="620.9" cy="63.9" r="1.45"/>
</g><g fill="#e8262b" stroke="#fff" stroke-width="0.35">
<circle cx="504.2" cy="143.6" r="1.45"/>
<circle cx="501.7" cy="146.3" r="1.45"/>
<circle cx="510.7" cy="138.5" r="1.45"/>
<circle cx="502.7" cy="143" r="1.45"/>
<circle cx="506.4" cy="140.9" r="1.45"/>
<circle cx="501.6" cy="143.3" r="1.45"/>
<circle cx="510.5" cy="140.4" r="1.45"/>
<circle cx="514.7" cy="134.6" r="1.45"/>
<circle cx="504.6" cy="142.4" r="1.45"/>
<circle cx="508.7" cy="139.9" r="1.45"/>
<circle cx="505.5" cy="142.5" r="1.45"/>
<circle cx="524.4" cy="129.8" r="1.45"/>
<circle cx="507.9" cy="138.2" r="1.45"/>
<circle cx="502.2" cy="143.4" r="1.45"/>
<circle cx="513.1" cy="138.3" r="1.45"/>
<circle cx="530.3" cy="124.8" r="1.45"/>
<circle cx="523.8" cy="133.1" r="1.45"/>
<circle cx="516.6" cy="133.5" r="1.45"/>
<circle cx="507.7" cy="139.1" r="1.45"/>
<circle cx="513.8" cy="135" r="1.45"/>
<circle cx="530.2" cy="124.4" r="1.45"/>
<circle cx="507.3" cy="141.2" r="1.45"/>
<circle cx="528.9" cy="131" r="1.45"/>
<circle cx="541.8" cy="131" r="1.45"/>
<circle cx="541.2" cy="136.6" r="1.45"/>
<circle cx="542.9" cy="128.2" r="1.45"/>
<circle cx="534.5" cy="138.7" r="1.45"/>
<circle cx="526.4" cy="143.2" r="1.45"/>
<circle cx="535.6" cy="142.7" r="1.45"/>
<circle cx="537.3" cy="121.8" r="1.45"/>
<circle cx="523.2" cy="145.4" r="1.45"/>
<circle cx="526.5" cy="143.4" r="1.45"/>
<circle cx="534.5" cy="141.1" r="1.45"/>
<circle cx="535.6" cy="142.7" r="1.45"/>
<circle cx="537.3" cy="154.3" r="1.45"/>
<circle cx="541.6" cy="136.6" r="1.45"/>
<circle cx="553" cy="143.7" r="1.45"/>
<circle cx="554.4" cy="143.4" r="1.45"/>
<circle cx="563.1" cy="149.4" r="1.45"/>
<circle cx="567.6" cy="142.3" r="1.45"/>
<circle cx="580.4" cy="131" r="1.45"/>
<circle cx="581.6" cy="145.4" r="1.45"/>
<circle cx="619.9" cy="143" r="1.45"/>
<circle cx="637.3" cy="129.6" r="1.45"/>
<circle cx="665.9" cy="146.7" r="1.45"/>
</g>
<rect x="488.5" y="11.4" width="196" height="162.2" fill="none" stroke="#A8A8A8" stroke-width="0.8"/>
<line x1="486.5" y1="146.7" x2="488.5" y2="146.7" stroke="#999" stroke-width="0.6"/>
<line x1="497" y1="173.6" x2="497" y2="175.6" stroke="#999" stroke-width="0.6"/>
<text transform="translate(485.6 150) scale(1 1.07)" font-size="9" text-anchor="end">0.0</text>
<text transform="translate(497 184.3) scale(1 1.07)" font-size="9" text-anchor="middle">0.0</text>
<line x1="486.5" y1="106.5" x2="488.5" y2="106.5" stroke="#999" stroke-width="0.6"/>
<line x1="553" y1="173.6" x2="553" y2="175.6" stroke="#999" stroke-width="0.6"/>
<text transform="translate(485.6 109.8) scale(1 1.07)" font-size="9" text-anchor="end">0.1</text>
<text transform="translate(553 184.3) scale(1 1.07)" font-size="9" text-anchor="middle">0.1</text>
<line x1="486.5" y1="66.3" x2="488.5" y2="66.3" stroke="#999" stroke-width="0.6"/>
<line x1="609" y1="173.6" x2="609" y2="175.6" stroke="#999" stroke-width="0.6"/>
<text transform="translate(485.6 69.6) scale(1 1.07)" font-size="9" text-anchor="end">0.2</text>
<text transform="translate(609 184.3) scale(1 1.07)" font-size="9" text-anchor="middle">0.2</text>
<line x1="486.5" y1="26.1" x2="488.5" y2="26.1" stroke="#999" stroke-width="0.6"/>
<line x1="665" y1="173.6" x2="665" y2="175.6" stroke="#999" stroke-width="0.6"/>
<text transform="translate(485.6 29.4) scale(1 1.07)" font-size="9" text-anchor="end">0.3</text>
<text transform="translate(665 184.3) scale(1 1.07)" font-size="9" text-anchor="middle">0.3</text>
<text x="589.5" y="196" font-size="9" text-anchor="middle">Performance Gap (NPX values)</text>
<text x="470.8" y="95.7" font-size="9" text-anchor="middle" transform="rotate(-90 470.8 95.7)" xml:space="preserve">Performance Gap  (INT normalized)</text>
<text x="3" y="221.5" font-size="12.5" font-weight="bold" fill="#000">d</text>
<line x1="98.3" y1="221.8" x2="98.3" y2="548.4" stroke="#F3F3F3" stroke-width="0.5"/>
<line x1="157.1" y1="221.8" x2="157.1" y2="548.4" stroke="#F3F3F3" stroke-width="0.5"/>
<line x1="216" y1="221.8" x2="216" y2="548.4" stroke="#F3F3F3" stroke-width="0.5"/>
<line x1="274.8" y1="221.8" x2="274.8" y2="548.4" stroke="#F3F3F3" stroke-width="0.5"/>
<line x1="68.9" y1="221.8" x2="68.9" y2="548.4" stroke="#EBEBEB" stroke-width="0.8"/>
<line x1="127.7" y1="221.8" x2="127.7" y2="548.4" stroke="#EBEBEB" stroke-width="0.8"/>
<line x1="186.6" y1="221.8" x2="186.6" y2="548.4" stroke="#EBEBEB" stroke-width="0.8"/>
<line x1="245.4" y1="221.8" x2="245.4" y2="548.4" stroke="#EBEBEB" stroke-width="0.8"/>
<line x1="304.2" y1="221.8" x2="304.2" y2="548.4" stroke="#EBEBEB" stroke-width="0.8"/>
<line x1="57.5" y1="231.5" x2="304" y2="231.5" stroke="#EBEBEB" stroke-width="0.8"/>
<line x1="57.5" y1="247.7" x2="304" y2="247.7" stroke="#EBEBEB" stroke-width="0.8"/>
<line x1="57.5" y1="263.8" x2="304" y2="263.8" stroke="#EBEBEB" stroke-width="0.8"/>
<line x1="57.5" y1="280" x2="304" y2="280" stroke="#EBEBEB" stroke-width="0.8"/>
<line x1="57.5" y1="296.2" x2="304" y2="296.2" stroke="#EBEBEB" stroke-width="0.8"/>
<line x1="57.5" y1="312.4" x2="304" y2="312.4" stroke="#EBEBEB" stroke-width="0.8"/>
<line x1="57.5" y1="328.5" x2="304" y2="328.5" stroke="#EBEBEB" stroke-width="0.8"/>
<line x1="57.5" y1="344.7" x2="304" y2="344.7" stroke="#EBEBEB" stroke-width="0.8"/>
<line x1="57.5" y1="360.9" x2="304" y2="360.9" stroke="#EBEBEB" stroke-width="0.8"/>
<line x1="57.5" y1="377" x2="304" y2="377" stroke="#EBEBEB" stroke-width="0.8"/>
<line x1="57.5" y1="393.2" x2="304" y2="393.2" stroke="#EBEBEB" stroke-width="0.8"/>
<line x1="57.5" y1="409.4" x2="304" y2="409.4" stroke="#EBEBEB" stroke-width="0.8"/>
<line x1="57.5" y1="425.5" x2="304" y2="425.5" stroke="#EBEBEB" stroke-width="0.8"/>
<line x1="57.5" y1="441.7" x2="304" y2="441.7" stroke="#EBEBEB" stroke-width="0.8"/>
<line x1="57.5" y1="457.9" x2="304" y2="457.9" stroke="#EBEBEB" stroke-width="0.8"/>
<line x1="57.5" y1="474.1" x2="304" y2="474.1" stroke="#EBEBEB" stroke-width="0.8"/>
<line x1="57.5" y1="490.2" x2="304" y2="490.2" stroke="#EBEBEB" stroke-width="0.8"/>
<line x1="57.5" y1="506.4" x2="304" y2="506.4" stroke="#EBEBEB" stroke-width="0.8"/>
<line x1="57.5" y1="522.6" x2="304" y2="522.6" stroke="#EBEBEB" stroke-width="0.8"/>
<line x1="57.5" y1="538.7" x2="304" y2="538.7" stroke="#EBEBEB" stroke-width="0.8"/>
<path d="M291.3 231.5H294.1M291.3 229.9V233.1M294.1 229.9V233.1" stroke="#3d7fbf" stroke-width="0.8" fill="none" opacity="0.9"/>
<path d="M248.9 231.5H253.6M248.9 229.9V233.1M253.6 229.9V233.1" stroke="#f39a3a" stroke-width="0.8" fill="none" opacity="0.9"/>
<path d="M69.6 231.5H72M69.6 229.9V233.1M72 229.9V233.1" stroke="#3fa648" stroke-width="0.8" fill="none" opacity="0.9"/>
<path d="M67 231.5H69.8M67 229.9V233.1M69.8 229.9V233.1" stroke="#df3b3b" stroke-width="0.8" fill="none" opacity="0.9"/>
<path d="M286.8 247.7H292.4M286.8 246.1V249.3M292.4 246.1V249.3" stroke="#3d7fbf" stroke-width="0.8" fill="none" opacity="0.9"/>
<path d="M231.7 247.7H242.6M231.7 246.1V249.3M242.6 246.1V249.3" stroke="#f39a3a" stroke-width="0.8" fill="none" opacity="0.9"/>
<path d="M69.8 247.7H72.2M69.8 246.1V249.3M72.2 246.1V249.3" stroke="#3fa648" stroke-width="0.8" fill="none" opacity="0.9"/>
<path d="M66.5 247.7H71.3M66.5 246.1V249.3M71.3 246.1V249.3" stroke="#df3b3b" stroke-width="0.8" fill="none" opacity="0.9"/>
<path d="M282.3 263.8H286.1M282.3 262.2V265.4M286.1 262.2V265.4" stroke="#3d7fbf" stroke-width="0.8" fill="none" opacity="0.9"/>
<path d="M245.8 263.8H250.6M245.8 262.2V265.4M250.6 262.2V265.4" stroke="#f39a3a" stroke-width="0.8" fill="none" opacity="0.9"/>
<path d="M68.9 263.8H71.3M68.9 262.2V265.4M71.3 262.2V265.4" stroke="#3fa648" stroke-width="0.8" fill="none" opacity="0.9"/>
<path d="M67.3 263.8H69.6M67.3 262.2V265.4M69.6 262.2V265.4" stroke="#df3b3b" stroke-width="0.8" fill="none" opacity="0.9"/>
<path d="M272.4 280H283.3M272.4 278.4V281.6M283.3 278.4V281.6" stroke="#3d7fbf" stroke-width="0.8" fill="none" opacity="0.9"/>
<path d="M213.6 280H224.4M213.6 278.4V281.6M224.4 278.4V281.6" stroke="#f39a3a" stroke-width="0.8" fill="none" opacity="0.9"/>
<path d="M68 280H70.3M68 278.4V281.6M70.3 278.4V281.6" stroke="#3fa648" stroke-width="0.8" fill="none" opacity="0.9"/>
<path d="M64.2 280H68M64.2 278.4V281.6M68 278.4V281.6" stroke="#df3b3b" stroke-width="0.8" fill="none" opacity="0.9"/>
<path d="M262.1 296.2H283.3M262.1 294.6V297.8M283.3 294.6V297.8" stroke="#3d7fbf" stroke-width="0.8" fill="none" opacity="0.9"/>
<path d="M193.6 296.2H210.1M193.6 294.6V297.8M210.1 294.6V297.8" stroke="#f39a3a" stroke-width="0.8" fill="none" opacity="0.9"/>
<path d="M70.1 296.2H72.4M70.1 294.6V297.8M72.4 294.6V297.8" stroke="#3fa648" stroke-width="0.8" fill="none" opacity="0.9"/>
<path d="M69.6 296.2H72M69.6 294.6V297.8M72 294.6V297.8" stroke="#df3b3b" stroke-width="0.8" fill="none" opacity="0.9"/>
<path d="M260.4 312.4H279.7M260.4 310.8V314M279.7 310.8V314" stroke="#3d7fbf" stroke-width="0.8" fill="none" opacity="0.9"/>
<path d="M227.5 312.4H241.6M227.5 310.8V314M241.6 310.8V314" stroke="#f39a3a" stroke-width="0.8" fill="none" opacity="0.9"/>
<path d="M68.9 312.4H71.3M68.9 310.8V314M71.3 310.8V314" stroke="#3fa648" stroke-width="0.8" fill="none" opacity="0.9"/>
<path d="M66.1 312.4H69.8M66.1 310.8V314M69.8 310.8V314" stroke="#df3b3b" stroke-width="0.8" fill="none" opacity="0.9"/>
<path d="M260.7 328.5H275.7M260.7 326.9V330.1M275.7 326.9V330.1" stroke="#3d7fbf" stroke-width="0.8" fill="none" opacity="0.9"/>
<path d="M233.1 328.5H244.4M233.1 326.9V330.1M244.4 326.9V330.1" stroke="#f39a3a" stroke-width="0.8" fill="none" opacity="0.9"/>
<path d="M70.5 328.5H72.9M70.5 326.9V330.1M72.9 326.9V330.1" stroke="#3fa648" stroke-width="0.8" fill="none" opacity="0.9"/>
<path d="M67 328.5H70.8M67 326.9V330.1M70.8 326.9V330.1" stroke="#df3b3b" stroke-width="0.8" fill="none" opacity="0.9"/>
<path d="M233.8 344.7H257.8M233.8 343.1V346.3M257.8 343.1V346.3" stroke="#3d7fbf" stroke-width="0.8" fill="none" opacity="0.9"/>
<path d="M214.8 344.7H228.9M214.8 343.1V346.3M228.9 343.1V346.3" stroke="#f39a3a" stroke-width="0.8" fill="none" opacity="0.9"/>
<path d="M68 344.7H70.3M68 343.1V346.3M70.3 343.1V346.3" stroke="#3fa648" stroke-width="0.8" fill="none" opacity="0.9"/>
<path d="M64.7 344.7H67.5M64.7 343.1V346.3M67.5 343.1V346.3" stroke="#df3b3b" stroke-width="0.8" fill="none" opacity="0.9"/>
<path d="M230.1 360.9H244.2M230.1 359.3V362.5M244.2 359.3V362.5" stroke="#3d7fbf" stroke-width="0.8" fill="none" opacity="0.9"/>
<path d="M207.3 360.9H220.9M207.3 359.3V362.5M220.9 359.3V362.5" stroke="#f39a3a" stroke-width="0.8" fill="none" opacity="0.9"/>
<path d="M70.1 360.9H72.4M70.1 359.3V362.5M72.4 359.3V362.5" stroke="#3fa648" stroke-width="0.8" fill="none" opacity="0.9"/>
<path d="M69.6 360.9H72M69.6 359.3V362.5M72 359.3V362.5" stroke="#df3b3b" stroke-width="0.8" fill="none" opacity="0.9"/>
<path d="M224.7 377H241.1M224.7 375.4V378.6M241.1 375.4V378.6" stroke="#3d7fbf" stroke-width="0.8" fill="none" opacity="0.9"/>
<path d="M204 377H221.4M204 375.4V378.6M221.4 375.4V378.6" stroke="#f39a3a" stroke-width="0.8" fill="none" opacity="0.9"/>
<path d="M72.4 377H74.8M72.4 375.4V378.6M74.8 375.4V378.6" stroke="#3fa648" stroke-width="0.8" fill="none" opacity="0.9"/>
<path d="M71.5 377H74.8M71.5 375.4V378.6M74.8 375.4V378.6" stroke="#df3b3b" stroke-width="0.8" fill="none" opacity="0.9"/>
<path d="M222.1 393.2H236.2M222.1 391.6V394.8M236.2 391.6V394.8" stroke="#3d7fbf" stroke-width="0.8" fill="none" opacity="0.9"/>
<path d="M201.6 393.2H213.8M201.6 391.6V394.8M213.8 391.6V394.8" stroke="#f39a3a" stroke-width="0.8" fill="none" opacity="0.9"/>
<path d="M201.6 393.2H213.8M201.6 391.6V394.8M213.8 391.6V394.8" stroke="#3fa648" stroke-width="0.8" fill="none" opacity="0.9"/>
<path d="M222.1 393.2H236.2M222.1 391.6V394.8M236.2 391.6V394.8" stroke="#df3b3b" stroke-width="0.8" fill="none" opacity="0.9"/>
<path d="M207 409.4H243.3M207 407.8V411M243.3 407.8V411" stroke="#3d7fbf" stroke-width="0.8" fill="none" opacity="0.9"/>
<path d="M187.5 409.4H207.3M187.5 407.8V411M207.3 407.8V411" stroke="#f39a3a" stroke-width="0.8" fill="none" opacity="0.9"/>
<path d="M74.5 409.4H77.4M74.5 407.8V411M77.4 407.8V411" stroke="#3fa648" stroke-width="0.8" fill="none" opacity="0.9"/>
<path d="M70.8 409.4H75.5M70.8 407.8V411M75.5 407.8V411" stroke="#df3b3b" stroke-width="0.8" fill="none" opacity="0.9"/>
<path d="M205.6 425.5H233.8M205.6 423.9V427.1M233.8 423.9V427.1" stroke="#3d7fbf" stroke-width="0.8" fill="none" opacity="0.9"/>
<path d="M185.1 425.5H205.8M185.1 423.9V427.1M205.8 423.9V427.1" stroke="#f39a3a" stroke-width="0.8" fill="none" opacity="0.9"/>
<path d="M68.7 425.5H71M68.7 423.9V427.1M71 423.9V427.1" stroke="#3fa648" stroke-width="0.8" fill="none" opacity="0.9"/>
<path d="M62.8 425.5H67.5M62.8 423.9V427.1M67.5 423.9V427.1" stroke="#df3b3b" stroke-width="0.8" fill="none" opacity="0.9"/>
<path d="M207 441.7H224.9M207 440.1V443.3M224.9 440.1V443.3" stroke="#3d7fbf" stroke-width="0.8" fill="none" opacity="0.9"/>
<path d="M173.4 441.7H187.5M173.4 440.1V443.3M187.5 440.1V443.3" stroke="#f39a3a" stroke-width="0.8" fill="none" opacity="0.9"/>
<path d="M72 441.7H74.3M72 440.1V443.3M74.3 440.1V443.3" stroke="#3fa648" stroke-width="0.8" fill="none" opacity="0.9"/>
<path d="M71.5 441.7H73.8M71.5 440.1V443.3M73.8 440.1V443.3" stroke="#df3b3b" stroke-width="0.8" fill="none" opacity="0.9"/>
<path d="M200.4 457.9H217.4M200.4 456.3V459.5M217.4 456.3V459.5" stroke="#3d7fbf" stroke-width="0.8" fill="none" opacity="0.9"/>
<path d="M182.3 457.9H196.4M182.3 456.3V459.5M196.4 456.3V459.5" stroke="#f39a3a" stroke-width="0.8" fill="none" opacity="0.9"/>
<path d="M181.8 457.9H196.9M181.8 456.3V459.5M196.9 456.3V459.5" stroke="#3fa648" stroke-width="0.8" fill="none" opacity="0.9"/>
<path d="M200.4 457.9H217.4M200.4 456.3V459.5M217.4 456.3V459.5" stroke="#df3b3b" stroke-width="0.8" fill="none" opacity="0.9"/>
<path d="M190.6 474.1H209.4M190.6 472.4V475.7M209.4 472.4V475.7" stroke="#3d7fbf" stroke-width="0.8" fill="none" opacity="0.9"/>
<path d="M138.8 474.1H157.6M138.8 472.4V475.7M157.6 472.4V475.7" stroke="#f39a3a" stroke-width="0.8" fill="none" opacity="0.9"/>
<path d="M96.7 474.1H109.8M96.7 472.4V475.7M109.8 472.4V475.7" stroke="#3fa648" stroke-width="0.8" fill="none" opacity="0.9"/>
<path d="M139.7 474.1H163.3M139.7 472.4V475.7M163.3 472.4V475.7" stroke="#df3b3b" stroke-width="0.8" fill="none" opacity="0.9"/>
<path d="M188.4 490.2H203M188.4 488.6V491.8M203 488.6V491.8" stroke="#3d7fbf" stroke-width="0.8" fill="none" opacity="0.9"/>
<path d="M156 490.2H170.1M156 488.6V491.8M170.1 488.6V491.8" stroke="#f39a3a" stroke-width="0.8" fill="none" opacity="0.9"/>
<path d="M68.2 490.2H70.5M68.2 488.6V491.8M70.5 488.6V491.8" stroke="#3fa648" stroke-width="0.8" fill="none" opacity="0.9"/>
<path d="M67.5 490.2H69.8M67.5 488.6V491.8M69.8 488.6V491.8" stroke="#df3b3b" stroke-width="0.8" fill="none" opacity="0.9"/>
<path d="M184.7 506.4H199.7M184.7 504.8V508M199.7 504.8V508" stroke="#3d7fbf" stroke-width="0.8" fill="none" opacity="0.9"/>
<path d="M146.1 506.4H162.5M146.1 504.8V508M162.5 504.8V508" stroke="#f39a3a" stroke-width="0.8" fill="none" opacity="0.9"/>
<path d="M72.4 506.4H74.8M72.4 504.8V508M74.8 504.8V508" stroke="#3fa648" stroke-width="0.8" fill="none" opacity="0.9"/>
<path d="M70.1 506.4H73.8M70.1 504.8V508M73.8 504.8V508" stroke="#df3b3b" stroke-width="0.8" fill="none" opacity="0.9"/>
<path d="M161.4 522.6H184.4M161.4 521V524.2M184.4 521V524.2" stroke="#3d7fbf" stroke-width="0.8" fill="none" opacity="0.9"/>
<path d="M145.8 522.6H160M145.8 521V524.2M160 521V524.2" stroke="#f39a3a" stroke-width="0.8" fill="none" opacity="0.9"/>
<path d="M72.9 522.6H75.3M72.9 521V524.2M75.3 521V524.2" stroke="#3fa648" stroke-width="0.8" fill="none" opacity="0.9"/>
<path d="M72.4 522.6H74.8M72.4 521V524.2M74.8 521V524.2" stroke="#df3b3b" stroke-width="0.8" fill="none" opacity="0.9"/>
<path d="M106.1 538.7H131M106.1 537.1V540.3M131 537.1V540.3" stroke="#3d7fbf" stroke-width="0.8" fill="none" opacity="0.9"/>
<path d="M93.4 538.7H100.4M93.4 537.1V540.3M100.4 537.1V540.3" stroke="#f39a3a" stroke-width="0.8" fill="none" opacity="0.9"/>
<path d="M81.1 538.7H90.5M81.1 537.1V540.3M90.5 537.1V540.3" stroke="#3fa648" stroke-width="0.8" fill="none" opacity="0.9"/>
<path d="M89.6 538.7H94.3M89.6 537.1V540.3M94.3 537.1V540.3" stroke="#df3b3b" stroke-width="0.8" fill="none" opacity="0.9"/>
<circle cx="292.7" cy="231.5" r="2.05" fill="#3d7fbf" stroke="#2b2b2b" stroke-width="0.55"/>
<circle cx="251.3" cy="231.5" r="2.05" fill="#f39a3a" stroke="#2b2b2b" stroke-width="0.55"/>
<circle cx="70.8" cy="231.5" r="2.05" fill="#3fa648" stroke="#2b2b2b" stroke-width="0.55"/>
<circle cx="68.4" cy="231.5" r="2.05" fill="#df3b3b" stroke="#2b2b2b" stroke-width="0.55"/>
<circle cx="289.6" cy="247.7" r="2.05" fill="#3d7fbf" stroke="#2b2b2b" stroke-width="0.55"/>
<circle cx="237.1" cy="247.7" r="2.05" fill="#f39a3a" stroke="#2b2b2b" stroke-width="0.55"/>
<circle cx="71" cy="247.7" r="2.05" fill="#3fa648" stroke="#2b2b2b" stroke-width="0.55"/>
<circle cx="68.9" cy="247.7" r="2.05" fill="#df3b3b" stroke="#2b2b2b" stroke-width="0.55"/>
<circle cx="284.2" cy="263.8" r="2.05" fill="#3d7fbf" stroke="#2b2b2b" stroke-width="0.55"/>
<circle cx="248.2" cy="263.8" r="2.05" fill="#f39a3a" stroke="#2b2b2b" stroke-width="0.55"/>
<circle cx="70.1" cy="263.8" r="2.05" fill="#3fa648" stroke="#2b2b2b" stroke-width="0.55"/>
<circle cx="68.4" cy="263.8" r="2.05" fill="#df3b3b" stroke="#2b2b2b" stroke-width="0.55"/>
<circle cx="277.8" cy="280" r="2.05" fill="#3d7fbf" stroke="#2b2b2b" stroke-width="0.55"/>
<circle cx="219" cy="280" r="2.05" fill="#f39a3a" stroke="#2b2b2b" stroke-width="0.55"/>
<circle cx="69.1" cy="280" r="2.05" fill="#3fa648" stroke="#2b2b2b" stroke-width="0.55"/>
<circle cx="66.1" cy="280" r="2.05" fill="#df3b3b" stroke="#2b2b2b" stroke-width="0.55"/>
<circle cx="272.7" cy="296.2" r="2.05" fill="#3d7fbf" stroke="#2b2b2b" stroke-width="0.55"/>
<circle cx="201.8" cy="296.2" r="2.05" fill="#f39a3a" stroke="#2b2b2b" stroke-width="0.55"/>
<circle cx="71.3" cy="296.2" r="2.05" fill="#3fa648" stroke="#2b2b2b" stroke-width="0.55"/>
<circle cx="70.8" cy="296.2" r="2.05" fill="#df3b3b" stroke="#2b2b2b" stroke-width="0.55"/>
<circle cx="270.1" cy="312.4" r="2.05" fill="#3d7fbf" stroke="#2b2b2b" stroke-width="0.55"/>
<circle cx="234.6" cy="312.4" r="2.05" fill="#f39a3a" stroke="#2b2b2b" stroke-width="0.55"/>
<circle cx="70.1" cy="312.4" r="2.05" fill="#3fa648" stroke="#2b2b2b" stroke-width="0.55"/>
<circle cx="68" cy="312.4" r="2.05" fill="#df3b3b" stroke="#2b2b2b" stroke-width="0.55"/>
<circle cx="268.2" cy="328.5" r="2.05" fill="#3d7fbf" stroke="#2b2b2b" stroke-width="0.55"/>
<circle cx="238.8" cy="328.5" r="2.05" fill="#f39a3a" stroke="#2b2b2b" stroke-width="0.55"/>
<circle cx="71.7" cy="328.5" r="2.05" fill="#3fa648" stroke="#2b2b2b" stroke-width="0.55"/>
<circle cx="68.9" cy="328.5" r="2.05" fill="#df3b3b" stroke="#2b2b2b" stroke-width="0.55"/>
<circle cx="245.8" cy="344.7" r="2.05" fill="#3d7fbf" stroke="#2b2b2b" stroke-width="0.55"/>
<circle cx="221.8" cy="344.7" r="2.05" fill="#f39a3a" stroke="#2b2b2b" stroke-width="0.55"/>
<circle cx="69.1" cy="344.7" r="2.05" fill="#3fa648" stroke="#2b2b2b" stroke-width="0.55"/>
<circle cx="66.1" cy="344.7" r="2.05" fill="#df3b3b" stroke="#2b2b2b" stroke-width="0.55"/>
<circle cx="237.1" cy="360.9" r="2.05" fill="#3d7fbf" stroke="#2b2b2b" stroke-width="0.55"/>
<circle cx="214.1" cy="360.9" r="2.05" fill="#f39a3a" stroke="#2b2b2b" stroke-width="0.55"/>
<circle cx="71.3" cy="360.9" r="2.05" fill="#3fa648" stroke="#2b2b2b" stroke-width="0.55"/>
<circle cx="70.8" cy="360.9" r="2.05" fill="#df3b3b" stroke="#2b2b2b" stroke-width="0.55"/>
<circle cx="232.9" cy="377" r="2.05" fill="#3d7fbf" stroke="#2b2b2b" stroke-width="0.55"/>
<circle cx="212.7" cy="377" r="2.05" fill="#f39a3a" stroke="#2b2b2b" stroke-width="0.55"/>
<circle cx="73.6" cy="377" r="2.05" fill="#3fa648" stroke="#2b2b2b" stroke-width="0.55"/>
<circle cx="73.1" cy="377" r="2.05" fill="#df3b3b" stroke="#2b2b2b" stroke-width="0.55"/>
<circle cx="229.1" cy="393.2" r="2.05" fill="#3d7fbf" stroke="#2b2b2b" stroke-width="0.55"/>
<circle cx="207.7" cy="393.2" r="2.05" fill="#f39a3a" stroke="#2b2b2b" stroke-width="0.55"/>
<circle cx="207.7" cy="393.2" r="2.05" fill="#3fa648" stroke="#2b2b2b" stroke-width="0.55"/>
<circle cx="229.1" cy="393.2" r="2.05" fill="#df3b3b" stroke="#2b2b2b" stroke-width="0.55"/>
<circle cx="225.1" cy="409.4" r="2.05" fill="#3d7fbf" stroke="#2b2b2b" stroke-width="0.55"/>
<circle cx="197.4" cy="409.4" r="2.05" fill="#f39a3a" stroke="#2b2b2b" stroke-width="0.55"/>
<circle cx="76" cy="409.4" r="2.05" fill="#3fa648" stroke="#2b2b2b" stroke-width="0.55"/>
<circle cx="73.1" cy="409.4" r="2.05" fill="#df3b3b" stroke="#2b2b2b" stroke-width="0.55"/>
<circle cx="219.7" cy="425.5" r="2.05" fill="#3d7fbf" stroke="#2b2b2b" stroke-width="0.55"/>
<circle cx="195.5" cy="425.5" r="2.05" fill="#f39a3a" stroke="#2b2b2b" stroke-width="0.55"/>
<circle cx="69.8" cy="425.5" r="2.05" fill="#3fa648" stroke="#2b2b2b" stroke-width="0.55"/>
<circle cx="65.1" cy="425.5" r="2.05" fill="#df3b3b" stroke="#2b2b2b" stroke-width="0.55"/>
<circle cx="216" cy="441.7" r="2.05" fill="#3d7fbf" stroke="#2b2b2b" stroke-width="0.55"/>
<circle cx="180.4" cy="441.7" r="2.05" fill="#f39a3a" stroke="#2b2b2b" stroke-width="0.55"/>
<circle cx="73.1" cy="441.7" r="2.05" fill="#3fa648" stroke="#2b2b2b" stroke-width="0.55"/>
<circle cx="72.7" cy="441.7" r="2.05" fill="#df3b3b" stroke="#2b2b2b" stroke-width="0.55"/>
<circle cx="208.9" cy="457.9" r="2.05" fill="#3d7fbf" stroke="#2b2b2b" stroke-width="0.55"/>
<circle cx="189.4" cy="457.9" r="2.05" fill="#f39a3a" stroke="#2b2b2b" stroke-width="0.55"/>
<circle cx="189.4" cy="457.9" r="2.05" fill="#3fa648" stroke="#2b2b2b" stroke-width="0.55"/>
<circle cx="208.9" cy="457.9" r="2.05" fill="#df3b3b" stroke="#2b2b2b" stroke-width="0.55"/>
<circle cx="200" cy="474.1" r="2.05" fill="#3d7fbf" stroke="#2b2b2b" stroke-width="0.55"/>
<circle cx="148.2" cy="474.1" r="2.05" fill="#f39a3a" stroke="#2b2b2b" stroke-width="0.55"/>
<circle cx="103.3" cy="474.1" r="2.05" fill="#3fa648" stroke="#2b2b2b" stroke-width="0.55"/>
<circle cx="151.5" cy="474.1" r="2.05" fill="#df3b3b" stroke="#2b2b2b" stroke-width="0.55"/>
<circle cx="195.7" cy="490.2" r="2.05" fill="#3d7fbf" stroke="#2b2b2b" stroke-width="0.55"/>
<circle cx="163" cy="490.2" r="2.05" fill="#f39a3a" stroke="#2b2b2b" stroke-width="0.55"/>
<circle cx="69.4" cy="490.2" r="2.05" fill="#3fa648" stroke="#2b2b2b" stroke-width="0.55"/>
<circle cx="68.7" cy="490.2" r="2.05" fill="#df3b3b" stroke="#2b2b2b" stroke-width="0.55"/>
<circle cx="192.2" cy="506.4" r="2.05" fill="#3d7fbf" stroke="#2b2b2b" stroke-width="0.55"/>
<circle cx="154.3" cy="506.4" r="2.05" fill="#f39a3a" stroke="#2b2b2b" stroke-width="0.55"/>
<circle cx="73.6" cy="506.4" r="2.05" fill="#3fa648" stroke="#2b2b2b" stroke-width="0.55"/>
<circle cx="72" cy="506.4" r="2.05" fill="#df3b3b" stroke="#2b2b2b" stroke-width="0.55"/>
<circle cx="172.9" cy="522.6" r="2.05" fill="#3d7fbf" stroke="#2b2b2b" stroke-width="0.55"/>
<circle cx="152.9" cy="522.6" r="2.05" fill="#f39a3a" stroke="#2b2b2b" stroke-width="0.55"/>
<circle cx="74.1" cy="522.6" r="2.05" fill="#3fa648" stroke="#2b2b2b" stroke-width="0.55"/>
<circle cx="73.6" cy="522.6" r="2.05" fill="#df3b3b" stroke="#2b2b2b" stroke-width="0.55"/>
<circle cx="118.5" cy="538.7" r="2.05" fill="#3d7fbf" stroke="#2b2b2b" stroke-width="0.55"/>
<circle cx="96.9" cy="538.7" r="2.05" fill="#f39a3a" stroke="#2b2b2b" stroke-width="0.55"/>
<circle cx="85.8" cy="538.7" r="2.05" fill="#3fa648" stroke="#2b2b2b" stroke-width="0.55"/>
<circle cx="92" cy="538.7" r="2.05" fill="#df3b3b" stroke="#2b2b2b" stroke-width="0.55"/>
<rect x="57.5" y="221.8" width="246.5" height="326.6" fill="none" stroke="#666" stroke-width="0.9"/>
<line x1="54.6" y1="231.5" x2="57.5" y2="231.5" stroke="#666" stroke-width="0.6"/>
<text x="53.6" y="233.7" font-size="6.3" text-anchor="end" fill="#333">PSCA</text>
<line x1="54.6" y1="247.7" x2="57.5" y2="247.7" stroke="#666" stroke-width="0.6"/>
<text x="53.6" y="249.9" font-size="6.3" text-anchor="end" fill="#333">MICB_MICA</text>
<line x1="54.6" y1="263.8" x2="57.5" y2="263.8" stroke="#666" stroke-width="0.6"/>
<text x="53.6" y="266" font-size="6.3" text-anchor="end" fill="#333">ZP3</text>
<line x1="54.6" y1="280" x2="57.5" y2="280" stroke="#666" stroke-width="0.6"/>
<text x="53.6" y="282.2" font-size="6.3" text-anchor="end" fill="#333">PNLIPRP2</text>
<line x1="54.6" y1="296.2" x2="57.5" y2="296.2" stroke="#666" stroke-width="0.6"/>
<text x="53.6" y="298.4" font-size="6.3" text-anchor="end" fill="#333">LILRA3</text>
<line x1="54.6" y1="312.4" x2="57.5" y2="312.4" stroke="#666" stroke-width="0.6"/>
<text x="53.6" y="314.6" font-size="6.3" text-anchor="end" fill="#333">MST1</text>
<line x1="54.6" y1="328.5" x2="57.5" y2="328.5" stroke="#666" stroke-width="0.6"/>
<text x="53.6" y="330.7" font-size="6.3" text-anchor="end" fill="#333">BST1</text>
<line x1="54.6" y1="344.7" x2="57.5" y2="344.7" stroke="#666" stroke-width="0.6"/>
<text x="53.6" y="346.9" font-size="6.3" text-anchor="end" fill="#333">PDCD6</text>
<line x1="54.6" y1="360.9" x2="57.5" y2="360.9" stroke="#666" stroke-width="0.6"/>
<text x="53.6" y="363.1" font-size="6.3" text-anchor="end" fill="#333">CEACAM21</text>
<line x1="54.6" y1="377" x2="57.5" y2="377" stroke="#666" stroke-width="0.6"/>
<text x="53.6" y="379.2" font-size="6.3" text-anchor="end" fill="#333">ACP6</text>
<line x1="54.6" y1="393.2" x2="57.5" y2="393.2" stroke="#666" stroke-width="0.6"/>
<text x="53.6" y="395.4" font-size="6.3" text-anchor="end" fill="#333">FSHB</text>
<line x1="54.6" y1="409.4" x2="57.5" y2="409.4" stroke="#666" stroke-width="0.6"/>
<text x="53.6" y="411.6" font-size="6.3" text-anchor="end" fill="#333">CLEC7A</text>
<line x1="54.6" y1="425.5" x2="57.5" y2="425.5" stroke="#666" stroke-width="0.6"/>
<text x="53.6" y="427.7" font-size="6.3" text-anchor="end" fill="#333">FCGR2A</text>
<line x1="54.6" y1="441.7" x2="57.5" y2="441.7" stroke="#666" stroke-width="0.6"/>
<text x="53.6" y="443.9" font-size="6.3" text-anchor="end" fill="#333">KLK1</text>
<line x1="54.6" y1="457.9" x2="57.5" y2="457.9" stroke="#666" stroke-width="0.6"/>
<text x="53.6" y="460.1" font-size="6.3" text-anchor="end" fill="#333">CGA</text>
<line x1="54.6" y1="474.1" x2="57.5" y2="474.1" stroke="#666" stroke-width="0.6"/>
<text x="53.6" y="476.2" font-size="6.3" text-anchor="end" fill="#333">PAEP</text>
<line x1="54.6" y1="490.2" x2="57.5" y2="490.2" stroke="#666" stroke-width="0.6"/>
<text x="53.6" y="492.4" font-size="6.3" text-anchor="end" fill="#333">ALPI</text>
<line x1="54.6" y1="506.4" x2="57.5" y2="506.4" stroke="#666" stroke-width="0.6"/>
<text x="53.6" y="508.6" font-size="6.3" text-anchor="end" fill="#333">FAM3D</text>
<line x1="54.6" y1="522.6" x2="57.5" y2="522.6" stroke="#666" stroke-width="0.6"/>
<text x="53.6" y="524.8" font-size="6.3" text-anchor="end" fill="#333">MUC2</text>
<line x1="54.6" y1="538.7" x2="57.5" y2="538.7" stroke="#666" stroke-width="0.6"/>
<text x="53.6" y="540.9" font-size="6.3" text-anchor="end" fill="#333">ERBB3</text>
<line x1="68.9" y1="548.4" x2="68.9" y2="550.9" stroke="#666" stroke-width="0.6"/>
<text x="68.9" y="558.4" font-size="7.6" text-anchor="middle" fill="#333">0</text>
<line x1="127.7" y1="548.4" x2="127.7" y2="550.9" stroke="#666" stroke-width="0.6"/>
<text x="127.7" y="558.4" font-size="7.6" text-anchor="middle" fill="#333">0.25</text>
<line x1="186.6" y1="548.4" x2="186.6" y2="550.9" stroke="#666" stroke-width="0.6"/>
<text x="186.6" y="558.4" font-size="7.6" text-anchor="middle" fill="#333">0.50</text>
<line x1="245.4" y1="548.4" x2="245.4" y2="550.9" stroke="#666" stroke-width="0.6"/>
<text x="245.4" y="558.4" font-size="7.6" text-anchor="middle" fill="#333">0.75</text>
<line x1="304.2" y1="548.4" x2="304.2" y2="550.9" stroke="#666" stroke-width="0.6"/>
<text x="304.2" y="558.4" font-size="7.6" text-anchor="middle" fill="#333">1</text>
<text x="187" y="568.3" font-size="8.35" text-anchor="middle" fill="#111">Performance (R²)</text>
<circle cx="68.9" cy="576.4" r="2.2" fill="#3d7fbf" stroke="#444" stroke-width="0.4"/>
<text x="73.9" y="579" font-size="7.2" fill="#222">DL</text>
<circle cx="95.8" cy="576.4" r="2.2" fill="#f39a3a" stroke="#444" stroke-width="0.4"/>
<text x="100.5" y="579" font-size="7.2" fill="#222">linear</text>
<circle cx="129.3" cy="576.4" r="2.2" fill="#df3b3b" stroke="#444" stroke-width="0.4"/>
<text x="134" y="579" font-size="7.2" fill="#222">Non-linear covariates</text>
<circle cx="212.1" cy="576.4" r="2.2" fill="#3fa648" stroke="#444" stroke-width="0.4"/>
<text x="217.6" y="579" font-size="7.2" fill="#222">linear covariates</text>
<line x1="327.9" y1="221.8" x2="327.9" y2="548.4" stroke="#F3F3F3" stroke-width="0.5"/>
<line x1="355.2" y1="221.8" x2="355.2" y2="548.4" stroke="#F3F3F3" stroke-width="0.5"/>
<line x1="341.6" y1="221.8" x2="341.6" y2="548.4" stroke="#EBEBEB" stroke-width="0.8"/>
<line x1="307.5" y1="231.5" x2="381.2" y2="231.5" stroke="#EBEBEB" stroke-width="0.8"/>
<line x1="307.5" y1="247.7" x2="381.2" y2="247.7" stroke="#EBEBEB" stroke-width="0.8"/>
<line x1="307.5" y1="263.8" x2="381.2" y2="263.8" stroke="#EBEBEB" stroke-width="0.8"/>
<line x1="307.5" y1="280" x2="381.2" y2="280" stroke="#EBEBEB" stroke-width="0.8"/>
<line x1="307.5" y1="296.2" x2="381.2" y2="296.2" stroke="#EBEBEB" stroke-width="0.8"/>
<line x1="307.5" y1="312.4" x2="381.2" y2="312.4" stroke="#EBEBEB" stroke-width="0.8"/>
<line x1="307.5" y1="328.5" x2="381.2" y2="328.5" stroke="#EBEBEB" stroke-width="0.8"/>
<line x1="307.5" y1="344.7" x2="381.2" y2="344.7" stroke="#EBEBEB" stroke-width="0.8"/>
<line x1="307.5" y1="360.9" x2="381.2" y2="360.9" stroke="#EBEBEB" stroke-width="0.8"/>
<line x1="307.5" y1="377" x2="381.2" y2="377" stroke="#EBEBEB" stroke-width="0.8"/>
<line x1="307.5" y1="393.2" x2="381.2" y2="393.2" stroke="#EBEBEB" stroke-width="0.8"/>
<line x1="307.5" y1="409.4" x2="381.2" y2="409.4" stroke="#EBEBEB" stroke-width="0.8"/>
<line x1="307.5" y1="425.5" x2="381.2" y2="425.5" stroke="#EBEBEB" stroke-width="0.8"/>
<line x1="307.5" y1="441.7" x2="381.2" y2="441.7" stroke="#EBEBEB" stroke-width="0.8"/>
<line x1="307.5" y1="457.9" x2="381.2" y2="457.9" stroke="#EBEBEB" stroke-width="0.8"/>
<line x1="307.5" y1="474.1" x2="381.2" y2="474.1" stroke="#EBEBEB" stroke-width="0.8"/>
<line x1="307.5" y1="490.2" x2="381.2" y2="490.2" stroke="#EBEBEB" stroke-width="0.8"/>
<line x1="307.5" y1="506.4" x2="381.2" y2="506.4" stroke="#EBEBEB" stroke-width="0.8"/>
<line x1="307.5" y1="522.6" x2="381.2" y2="522.6" stroke="#EBEBEB" stroke-width="0.8"/>
<line x1="307.5" y1="538.7" x2="381.2" y2="538.7" stroke="#EBEBEB" stroke-width="0.8"/>
<line x1="314.3" y1="221.8" x2="314.3" y2="548.4" stroke="#111" stroke-width="0.85" stroke-dasharray="3.2,2.2"/>
<line x1="368.8" y1="221.8" x2="368.8" y2="548.4" stroke="#111" stroke-width="0.85" stroke-dasharray="3.2,2.2"/>
<line x1="314.3" y1="231.5" x2="326.2" y2="231.5" stroke="#333" stroke-width="1.4"/>
<line x1="314.3" y1="247.7" x2="316.5" y2="247.7" stroke="#333" stroke-width="1.4"/>
<line x1="314.3" y1="263.8" x2="328.5" y2="263.8" stroke="#333" stroke-width="1.4"/>
<line x1="314.3" y1="280" x2="323.3" y2="280" stroke="#333" stroke-width="1.4"/>
<line x1="314.3" y1="296.2" x2="314.3" y2="296.2" stroke="#333" stroke-width="1.4"/>
<line x1="314.3" y1="312.4" x2="315.4" y2="312.4" stroke="#333" stroke-width="1.4"/>
<line x1="314.3" y1="328.5" x2="318.5" y2="328.5" stroke="#333" stroke-width="1.4"/>
<line x1="314.3" y1="344.7" x2="318.1" y2="344.7" stroke="#333" stroke-width="1.4"/>
<line x1="314.3" y1="360.9" x2="360.6" y2="360.9" stroke="#333" stroke-width="1.4"/>
<line x1="314.3" y1="377" x2="345.9" y2="377" stroke="#333" stroke-width="1.4"/>
<line x1="314.3" y1="393.2" x2="354.6" y2="393.2" stroke="#333" stroke-width="1.4"/>
<line x1="314.3" y1="409.4" x2="310.8" y2="409.4" stroke="#333" stroke-width="1.4"/>
<line x1="314.3" y1="425.5" x2="317.6" y2="425.5" stroke="#333" stroke-width="1.4"/>
<line x1="314.3" y1="441.7" x2="348.6" y2="441.7" stroke="#333" stroke-width="1.4"/>
<line x1="314.3" y1="457.9" x2="359.8" y2="457.9" stroke="#333" stroke-width="1.4"/>
<line x1="314.3" y1="474.1" x2="364.4" y2="474.1" stroke="#333" stroke-width="1.4"/>
<line x1="314.3" y1="490.2" x2="360.6" y2="490.2" stroke="#333" stroke-width="1.4"/>
<line x1="314.3" y1="506.4" x2="366.1" y2="506.4" stroke="#333" stroke-width="1.4"/>
<line x1="314.3" y1="522.6" x2="377.5" y2="522.6" stroke="#333" stroke-width="1.4"/>
<line x1="314.3" y1="538.7" x2="348.1" y2="538.7" stroke="#333" stroke-width="1.4"/>
<circle cx="326.2" cy="231.5" r="1.8" fill="#f07272"/>
<circle cx="316.5" cy="247.7" r="1.8" fill="#f07272"/>
<circle cx="328.5" cy="263.8" r="1.8" fill="#f07272"/>
<circle cx="323.3" cy="280" r="1.8" fill="#f07272"/>
<circle cx="314.3" cy="296.2" r="1.8" fill="#f07272"/>
<circle cx="315.4" cy="312.4" r="1.8" fill="#f07272"/>
<circle cx="318.5" cy="328.5" r="1.8" fill="#f07272"/>
<circle cx="318.1" cy="344.7" r="1.8" fill="#f07272"/>
<circle cx="360.6" cy="360.9" r="1.8" fill="#f07272"/>
<circle cx="345.9" cy="377" r="1.8" fill="#f07272"/>
<circle cx="354.6" cy="393.2" r="1.8" fill="#f07272"/>
<circle cx="310.8" cy="409.4" r="1.8" fill="#f07272"/>
<circle cx="317.6" cy="425.5" r="1.8" fill="#f07272"/>
<circle cx="348.6" cy="441.7" r="1.8" fill="#f07272"/>
<circle cx="359.8" cy="457.9" r="1.8" fill="#f07272"/>
<circle cx="364.4" cy="474.1" r="1.8" fill="#f07272"/>
<circle cx="360.6" cy="490.2" r="1.8" fill="#f07272"/>
<circle cx="366.1" cy="506.4" r="1.8" fill="#f07272"/>
<circle cx="377.5" cy="522.6" r="1.8" fill="#f07272"/>
<circle cx="348.1" cy="538.7" r="1.8" fill="#f07272"/>
<rect x="307.5" y="221.8" width="73.7" height="326.6" fill="none" stroke="#666" stroke-width="0.9"/>
<line x1="314.3" y1="548.4" x2="314.3" y2="550.9" stroke="#666" stroke-width="0.6"/>
<text x="314.3" y="557" font-size="6.25" text-anchor="middle" fill="#333">0.0</text>
<line x1="341.6" y1="548.4" x2="341.6" y2="550.9" stroke="#666" stroke-width="0.6"/>
<text x="341.6" y="557" font-size="6.25" text-anchor="middle" fill="#333">0.5</text>
<line x1="368.8" y1="548.4" x2="368.8" y2="550.9" stroke="#666" stroke-width="0.6"/>
<text x="368.8" y="557" font-size="6.25" text-anchor="middle" fill="#333">1.0</text>
<text x="342.8" y="568.2" font-size="7.8" text-anchor="middle" fill="#111">Fraction of performance</text>
<text x="342.8" y="577.8" font-size="7.8" text-anchor="middle" fill="#111">gap left with INT</text>
<text x="398.8" y="222.3" font-size="12.5" font-weight="bold" fill="#000">e</text>
<line x1="446.6" y1="224.5" x2="446.6" y2="343.7" stroke="#EBEBEB" stroke-width="0.6"/>
<line x1="468" y1="224.5" x2="468" y2="343.7" stroke="#EBEBEB" stroke-width="0.6"/>
<line x1="487.1" y1="224.5" x2="487.1" y2="343.7" stroke="#EBEBEB" stroke-width="0.6"/>
<line x1="504.5" y1="224.5" x2="504.5" y2="343.7" stroke="#EBEBEB" stroke-width="0.6"/>
<line x1="521.2" y1="224.5" x2="521.2" y2="343.7" stroke="#EBEBEB" stroke-width="0.6"/>
<line x1="536.4" y1="224.5" x2="536.4" y2="343.7" stroke="#EBEBEB" stroke-width="0.6"/>
<line x1="550.5" y1="224.5" x2="550.5" y2="343.7" stroke="#EBEBEB" stroke-width="0.6"/>
<line x1="563.8" y1="224.5" x2="563.8" y2="343.7" stroke="#EBEBEB" stroke-width="0.6"/>
<line x1="577" y1="224.5" x2="577" y2="343.7" stroke="#EBEBEB" stroke-width="0.6"/>
<line x1="589.8" y1="224.5" x2="589.8" y2="343.7" stroke="#EBEBEB" stroke-width="0.6"/>
<line x1="602" y1="224.5" x2="602" y2="343.7" stroke="#EBEBEB" stroke-width="0.6"/>
<line x1="614.1" y1="224.5" x2="614.1" y2="343.7" stroke="#EBEBEB" stroke-width="0.6"/>
<line x1="624.6" y1="224.5" x2="624.6" y2="343.7" stroke="#EBEBEB" stroke-width="0.6"/>
<line x1="633.5" y1="224.5" x2="633.5" y2="343.7" stroke="#EBEBEB" stroke-width="0.6"/>
<line x1="641.7" y1="224.5" x2="641.7" y2="343.7" stroke="#EBEBEB" stroke-width="0.6"/>
<line x1="649.7" y1="224.5" x2="649.7" y2="343.7" stroke="#EBEBEB" stroke-width="0.6"/>
<line x1="656.8" y1="224.5" x2="656.8" y2="343.7" stroke="#EBEBEB" stroke-width="0.6"/>
<line x1="662.6" y1="224.5" x2="662.6" y2="343.7" stroke="#EBEBEB" stroke-width="0.6"/>
<line x1="668" y1="224.5" x2="668" y2="343.7" stroke="#EBEBEB" stroke-width="0.6"/>
<line x1="673.2" y1="224.5" x2="673.2" y2="343.7" stroke="#EBEBEB" stroke-width="0.6"/>
<line x1="677.9" y1="224.5" x2="677.9" y2="343.7" stroke="#EBEBEB" stroke-width="0.6"/>
<line x1="424.5" y1="323.1" x2="681.5" y2="323.1" stroke="#F3F3F3" stroke-width="0.5"/>
<line x1="424.5" y1="293" x2="681.5" y2="293" stroke="#F3F3F3" stroke-width="0.5"/>
<line x1="424.5" y1="262.9" x2="681.5" y2="262.9" stroke="#F3F3F3" stroke-width="0.5"/>
<line x1="424.5" y1="232.7" x2="681.5" y2="232.7" stroke="#F3F3F3" stroke-width="0.5"/>
<line x1="424.5" y1="338.2" x2="681.5" y2="338.2" stroke="#EBEBEB" stroke-width="0.8"/>
<line x1="424.5" y1="308.1" x2="681.5" y2="308.1" stroke="#EBEBEB" stroke-width="0.8"/>
<line x1="424.5" y1="277.9" x2="681.5" y2="277.9" stroke="#EBEBEB" stroke-width="0.8"/>
<line x1="424.5" y1="247.8" x2="681.5" y2="247.8" stroke="#EBEBEB" stroke-width="0.8"/>
<g fill="#c9c9c9">
<circle cx="426" cy="338.1" r="2"/>
<circle cx="427.3" cy="338.5" r="2"/>
<circle cx="429.1" cy="338.7" r="2"/>
<circle cx="430.6" cy="337.6" r="2"/>
<circle cx="431.6" cy="338" r="2"/>
<circle cx="433.2" cy="338.7" r="2"/>
<circle cx="434.5" cy="337.9" r="2"/>
<circle cx="435.9" cy="337.8" r="2"/>
<circle cx="437.1" cy="338.4" r="2"/>
<circle cx="438.2" cy="338.1" r="2"/>
<circle cx="440" cy="338" r="2"/>
<circle cx="441.7" cy="338.2" r="2"/>
<circle cx="443.4" cy="338.6" r="2"/>
<circle cx="444.6" cy="337.9" r="2"/>
<circle cx="446.3" cy="338.2" r="2"/>
<circle cx="447.4" cy="338.4" r="2"/>
<circle cx="448.6" cy="338.4" r="2"/>
<circle cx="450.3" cy="338.5" r="2"/>
<circle cx="452.1" cy="337.6" r="2"/>
<circle cx="453.1" cy="338.2" r="2"/>
<circle cx="454.6" cy="338.7" r="2"/>
<circle cx="456" cy="337.6" r="2"/>
<circle cx="457.1" cy="338" r="2"/>
<circle cx="458.2" cy="338" r="2"/>
<circle cx="460" cy="338.5" r="2"/>
<circle cx="461" cy="338.6" r="2"/>
<circle cx="462.5" cy="338.7" r="2"/>
<circle cx="463.6" cy="338.1" r="2"/>
<circle cx="465.4" cy="338.2" r="2"/>
<circle cx="466.7" cy="337.9" r="2"/>
<circle cx="467.8" cy="338" r="2"/>
<circle cx="469" cy="338" r="2"/>
<circle cx="470.8" cy="338.6" r="2"/>
<circle cx="472.3" cy="338" r="2"/>
<circle cx="473.5" cy="338.4" r="2"/>
<circle cx="475.4" cy="337.5" r="2"/>
<circle cx="476.5" cy="337.9" r="2"/>
<circle cx="478.3" cy="338.4" r="2"/>
<circle cx="479.9" cy="338.6" r="2"/>
<circle cx="481.2" cy="337.9" r="2"/>
<circle cx="482.7" cy="337.8" r="2"/>
<circle cx="483.8" cy="338.3" r="2"/>
<circle cx="485.6" cy="338" r="2"/>
<circle cx="487" cy="338.2" r="2"/>
<circle cx="488.9" cy="338" r="2"/>
<circle cx="489.9" cy="337.7" r="2"/>
<circle cx="491.2" cy="338.2" r="2"/>
<circle cx="492.4" cy="338.2" r="2"/>
<circle cx="493.7" cy="338.6" r="2"/>
<circle cx="495.3" cy="338.6" r="2"/>
<circle cx="497" cy="338.7" r="2"/>
<circle cx="498.7" cy="337.7" r="2"/>
<circle cx="500.1" cy="337.8" r="2"/>
<circle cx="501.3" cy="337.8" r="2"/>
<circle cx="502.7" cy="338.4" r="2"/>
<circle cx="504.6" cy="338.2" r="2"/>
<circle cx="505.9" cy="337.7" r="2"/>
<circle cx="507.3" cy="337.9" r="2"/>
<circle cx="508.4" cy="337.7" r="2"/>
<circle cx="509.6" cy="338.6" r="2"/>
<circle cx="511.5" cy="338.5" r="2"/>
<circle cx="513.4" cy="337.5" r="2"/>
<circle cx="514.9" cy="338.7" r="2"/>
<circle cx="516" cy="338.4" r="2"/>
<circle cx="517.3" cy="338" r="2"/>
<circle cx="519.2" cy="338.3" r="2"/>
<circle cx="520.3" cy="338" r="2"/>
<circle cx="521.4" cy="338.6" r="2"/>
<circle cx="522.9" cy="337.9" r="2"/>
<circle cx="524" cy="338.2" r="2"/>
<circle cx="525.6" cy="337.8" r="2"/>
<circle cx="527" cy="337.6" r="2"/>
<circle cx="528.1" cy="337.8" r="2"/>
<circle cx="529.8" cy="337.6" r="2"/>
<circle cx="531.3" cy="338.6" r="2"/>
<circle cx="532.3" cy="338.1" r="2"/>
<circle cx="533.5" cy="337.9" r="2"/>
<circle cx="534.5" cy="337.8" r="2"/>
<circle cx="535.8" cy="338.7" r="2"/>
<circle cx="536.9" cy="338.2" r="2"/>
<circle cx="538.4" cy="338.2" r="2"/>
<circle cx="539.6" cy="338.1" r="2"/>
<circle cx="541.4" cy="338.1" r="2"/>
<circle cx="543.3" cy="338.7" r="2"/>
<circle cx="545.2" cy="337.6" r="2"/>
<circle cx="546.7" cy="338.1" r="2"/>
<circle cx="548.1" cy="337.6" r="2"/>
<circle cx="549.2" cy="337.9" r="2"/>
<circle cx="550.7" cy="338.3" r="2"/>
<circle cx="552.3" cy="337.8" r="2"/>
<circle cx="553.4" cy="337.9" r="2"/>
<circle cx="554.8" cy="338.1" r="2"/>
<circle cx="556.4" cy="338.6" r="2"/>
<circle cx="557.9" cy="338.3" r="2"/>
<circle cx="559.7" cy="338.4" r="2"/>
<circle cx="561.5" cy="337.8" r="2"/>
<circle cx="563" cy="337.6" r="2"/>
<circle cx="564.1" cy="338" r="2"/>
<circle cx="565.6" cy="337.9" r="2"/>
<circle cx="567" cy="338.6" r="2"/>
<circle cx="570.9" cy="338.6" r="2"/>
<circle cx="572.2" cy="338.1" r="2"/>
<circle cx="573.7" cy="338.7" r="2"/>
<circle cx="575.4" cy="338.3" r="2"/>
<circle cx="577.1" cy="338.7" r="2"/>
<circle cx="578.9" cy="338" r="2"/>
<circle cx="580.8" cy="337.5" r="2"/>
<circle cx="582.6" cy="338.6" r="2"/>
<circle cx="583.9" cy="338.4" r="2"/>
<circle cx="585.6" cy="338.5" r="2"/>
<circle cx="586.8" cy="338.6" r="2"/>
<circle cx="587.9" cy="337.6" r="2"/>
<circle cx="589.8" cy="338.3" r="2"/>
<circle cx="591.4" cy="338.1" r="2"/>
<circle cx="592.9" cy="338.3" r="2"/>
<circle cx="594.5" cy="338.4" r="2"/>
<circle cx="595.7" cy="338.1" r="2"/>
<circle cx="596.9" cy="338.2" r="2"/>
<circle cx="598.7" cy="338.7" r="2"/>
<circle cx="599.8" cy="337.7" r="2"/>
<circle cx="600.9" cy="338.4" r="2"/>
<circle cx="602.6" cy="338" r="2"/>
<circle cx="603.8" cy="338.6" r="2"/>
<circle cx="605.1" cy="338.3" r="2"/>
<circle cx="606.8" cy="337.5" r="2"/>
<circle cx="614" cy="337.6" r="2"/>
<circle cx="615.8" cy="338.6" r="2"/>
<circle cx="617.1" cy="338.4" r="2"/>
<circle cx="618.7" cy="338.1" r="2"/>
<circle cx="620" cy="337.7" r="2"/>
<circle cx="621.3" cy="338.4" r="2"/>
<circle cx="622.6" cy="338.1" r="2"/>
<circle cx="624.1" cy="338" r="2"/>
<circle cx="625.5" cy="338.5" r="2"/>
<circle cx="626.9" cy="338.3" r="2"/>
<circle cx="628" cy="338" r="2"/>
<circle cx="629.2" cy="337.8" r="2"/>
<circle cx="630.8" cy="338.5" r="2"/>
<circle cx="632.4" cy="338.3" r="2"/>
<circle cx="633.8" cy="338" r="2"/>
<circle cx="635.5" cy="337.6" r="2"/>
<circle cx="637.1" cy="338.4" r="2"/>
<circle cx="638.6" cy="338.3" r="2"/>
<circle cx="639.6" cy="338" r="2"/>
<circle cx="641" cy="337.7" r="2"/>
<circle cx="642.3" cy="337.7" r="2"/>
<circle cx="649.3" cy="338.6" r="2"/>
<circle cx="650.3" cy="337.6" r="2"/>
<circle cx="651.3" cy="338.5" r="2"/>
<circle cx="652.5" cy="338.6" r="2"/>
<circle cx="654.2" cy="337.5" r="2"/>
<circle cx="655.8" cy="338.2" r="2"/>
<circle cx="657.6" cy="338.1" r="2"/>
<circle cx="658.7" cy="337.9" r="2"/>
<circle cx="660" cy="338.4" r="2"/>
<circle cx="661.3" cy="338.2" r="2"/>
<circle cx="662.5" cy="338" r="2"/>
<circle cx="664.3" cy="338" r="2"/>
<circle cx="665.3" cy="337.9" r="2"/>
<circle cx="666.3" cy="338.1" r="2"/>
<circle cx="668.1" cy="337.9" r="2"/>
<circle cx="669.9" cy="337.8" r="2"/>
<circle cx="671.1" cy="338.5" r="2"/>
<circle cx="672.5" cy="337.9" r="2"/>
<circle cx="673.7" cy="338.3" r="2"/>
<circle cx="675.4" cy="338.3" r="2"/>
<circle cx="677" cy="338" r="2"/>
<circle cx="678.8" cy="338.7" r="2"/>
<circle cx="680" cy="337.8" r="2"/>
<circle cx="576.8" cy="335.2" r="2"/>
<circle cx="576.8" cy="332.7" r="2"/>
<circle cx="576.8" cy="329.5" r="2"/>
<circle cx="576.8" cy="324.1" r="2"/>
</g>
<circle cx="576.8" cy="229.9" r="1.75" fill="#ec7f7f" stroke="#222" stroke-width="0.6"/>
<circle cx="576.8" cy="298.3" r="1.75" fill="#ec7f7f" stroke="#222" stroke-width="0.6"/>
<circle cx="576.8" cy="338.3" r="1.75" fill="#ec7f7f" stroke="#222" stroke-width="0.6"/>
<text x="581.7" y="231.2" font-size="7" fill="#111">PAEP</text>
<rect x="424.5" y="224.5" width="257" height="119.2" fill="none" stroke="#666" stroke-width="0.9"/>
<line x1="421.2" y1="338.2" x2="424.5" y2="338.2" stroke="#666" stroke-width="0.6"/>
<text x="420.6" y="340.5" font-size="6.4" text-anchor="end" fill="#222">0.00</text>
<line x1="421.2" y1="308.1" x2="424.5" y2="308.1" stroke="#666" stroke-width="0.6"/>
<text x="420.6" y="310.4" font-size="6.4" text-anchor="end" fill="#222">0.03</text>
<line x1="421.2" y1="277.9" x2="424.5" y2="277.9" stroke="#666" stroke-width="0.6"/>
<text x="420.6" y="280.2" font-size="6.4" text-anchor="end" fill="#222">0.06</text>
<line x1="421.2" y1="247.8" x2="424.5" y2="247.8" stroke="#666" stroke-width="0.6"/>
<text x="420.6" y="250.1" font-size="6.4" text-anchor="end" fill="#222">0.09</text>
<line x1="435.5" y1="343.7" x2="435.5" y2="345.5" stroke="#666" stroke-width="0.5"/>
<text x="435.5" y="350.2" font-size="3.6" text-anchor="middle" fill="#222">1</text>
<line x1="457.7" y1="343.7" x2="457.7" y2="345.5" stroke="#666" stroke-width="0.5"/>
<text x="457.7" y="350.2" font-size="3.6" text-anchor="middle" fill="#222">2</text>
<line x1="478.3" y1="343.7" x2="478.3" y2="345.5" stroke="#666" stroke-width="0.5"/>
<text x="478.3" y="350.2" font-size="3.6" text-anchor="middle" fill="#222">3</text>
<line x1="495.8" y1="343.7" x2="495.8" y2="345.5" stroke="#666" stroke-width="0.5"/>
<text x="495.8" y="350.2" font-size="3.6" text-anchor="middle" fill="#222">4</text>
<line x1="513.3" y1="343.7" x2="513.3" y2="345.5" stroke="#666" stroke-width="0.5"/>
<text x="513.3" y="350.2" font-size="3.6" text-anchor="middle" fill="#222">5</text>
<line x1="529.2" y1="343.7" x2="529.2" y2="345.5" stroke="#666" stroke-width="0.5"/>
<text x="529.2" y="350.2" font-size="3.6" text-anchor="middle" fill="#222">6</text>
<line x1="543.6" y1="343.7" x2="543.6" y2="345.5" stroke="#666" stroke-width="0.5"/>
<text x="543.6" y="350.2" font-size="3.6" text-anchor="middle" fill="#222">7</text>
<line x1="557.4" y1="343.7" x2="557.4" y2="345.5" stroke="#666" stroke-width="0.5"/>
<text x="557.4" y="350.2" font-size="3.6" text-anchor="middle" fill="#222">8</text>
<line x1="570.3" y1="343.7" x2="570.3" y2="345.5" stroke="#666" stroke-width="0.5"/>
<text x="570.3" y="350.2" font-size="3.6" text-anchor="middle" fill="#222">9</text>
<line x1="583.8" y1="343.7" x2="583.8" y2="345.5" stroke="#666" stroke-width="0.5"/>
<text x="583.8" y="350.2" font-size="3.6" text-anchor="middle" fill="#222">10</text>
<line x1="595.7" y1="343.7" x2="595.7" y2="345.5" stroke="#666" stroke-width="0.5"/>
<text x="595.7" y="350.2" font-size="3.6" text-anchor="middle" fill="#222">11</text>
<line x1="608.2" y1="343.7" x2="608.2" y2="345.5" stroke="#666" stroke-width="0.5"/>
<text x="608.2" y="350.2" font-size="3.6" text-anchor="middle" fill="#222">12</text>
<line x1="620" y1="343.7" x2="620" y2="345.5" stroke="#666" stroke-width="0.5"/>
<text x="620" y="350.2" font-size="3.6" text-anchor="middle" fill="#222">13</text>
<line x1="629.3" y1="343.7" x2="629.3" y2="345.5" stroke="#666" stroke-width="0.5"/>
<text x="629.3" y="350.2" font-size="3.6" text-anchor="middle" fill="#222">14</text>
<line x1="637.8" y1="343.7" x2="637.8" y2="345.5" stroke="#666" stroke-width="0.5"/>
<text x="637.8" y="350.2" font-size="3.6" text-anchor="middle" fill="#222">15</text>
<line x1="645.6" y1="343.7" x2="645.6" y2="345.5" stroke="#666" stroke-width="0.5"/>
<text x="645.6" y="350.2" font-size="3.6" text-anchor="middle" fill="#222">16</text>
<line x1="653.7" y1="343.7" x2="653.7" y2="345.5" stroke="#666" stroke-width="0.5"/>
<text x="653.7" y="350.2" font-size="3.6" text-anchor="middle" fill="#222">17</text>
<line x1="659.8" y1="343.7" x2="659.8" y2="345.5" stroke="#666" stroke-width="0.5"/>
<text x="659.8" y="350.2" font-size="3.6" text-anchor="middle" fill="#222">18</text>
<line x1="665.5" y1="343.7" x2="665.5" y2="345.5" stroke="#666" stroke-width="0.5"/>
<text x="665.5" y="350.2" font-size="3.6" text-anchor="middle" fill="#222">19</text>
<line x1="670.6" y1="343.7" x2="670.6" y2="345.5" stroke="#666" stroke-width="0.5"/>
<text x="670.6" y="350.2" font-size="3.6" text-anchor="middle" fill="#222">20</text>
<line x1="675.7" y1="343.7" x2="675.7" y2="345.5" stroke="#666" stroke-width="0.5"/>
<text x="675.7" y="350.2" font-size="3.6" text-anchor="middle" fill="#222">21</text>
<line x1="680.1" y1="343.7" x2="680.1" y2="345.5" stroke="#666" stroke-width="0.5"/>
<text x="680.1" y="350.2" font-size="3.6" text-anchor="middle" fill="#222">22</text>
<text x="552.8" y="361.6" font-size="8.85" text-anchor="middle" fill="#111">Chromosome and Position</text>
<text x="402.2" y="285" font-size="9.05" text-anchor="middle" fill="#111" transform="rotate(-90 402.2 285)">Aggregated DL Attribution</text>
<text x="398.5" y="384.3" font-size="12.5" font-weight="bold" fill="#000">f</text>
<line x1="455.8" y1="385.5" x2="455.8" y2="531.8" stroke="#F3F3F3" stroke-width="0.5"/>
<line x1="445.7" y1="525.8" x2="674.7" y2="525.8" stroke="#F3F3F3" stroke-width="0.5"/>
<line x1="511.4" y1="385.5" x2="511.4" y2="531.8" stroke="#F3F3F3" stroke-width="0.5"/>
<line x1="445.7" y1="481.2" x2="674.7" y2="481.2" stroke="#F3F3F3" stroke-width="0.5"/>
<line x1="567" y1="385.5" x2="567" y2="531.8" stroke="#F3F3F3" stroke-width="0.5"/>
<line x1="445.7" y1="436.8" x2="674.7" y2="436.8" stroke="#F3F3F3" stroke-width="0.5"/>
<line x1="622.6" y1="385.5" x2="622.6" y2="531.8" stroke="#F3F3F3" stroke-width="0.5"/>
<line x1="445.7" y1="392.2" x2="674.7" y2="392.2" stroke="#F3F3F3" stroke-width="0.5"/>
<line x1="483.6" y1="385.5" x2="483.6" y2="531.8" stroke="#EBEBEB" stroke-width="0.8"/>
<line x1="539.2" y1="385.5" x2="539.2" y2="531.8" stroke="#EBEBEB" stroke-width="0.8"/>
<line x1="594.8" y1="385.5" x2="594.8" y2="531.8" stroke="#EBEBEB" stroke-width="0.8"/>
<line x1="650.4" y1="385.5" x2="650.4" y2="531.8" stroke="#EBEBEB" stroke-width="0.8"/>
<line x1="445.7" y1="503.5" x2="674.7" y2="503.5" stroke="#EBEBEB" stroke-width="0.8"/>
<line x1="445.7" y1="459" x2="674.7" y2="459" stroke="#EBEBEB" stroke-width="0.8"/>
<line x1="445.7" y1="414.5" x2="674.7" y2="414.5" stroke="#EBEBEB" stroke-width="0.8"/>
<ellipse cx="549.8" cy="451.8" rx="89" ry="20.5" transform="rotate(-38.7 549.8 451.8)" fill="#f9d8c9" opacity="0.9"/>
<ellipse cx="545.2" cy="501.4" rx="44.9" ry="16.3" fill="#c6e8d0" opacity="0.9"/>
<line x1="483.6" y1="385.5" x2="483.6" y2="531.8" stroke="#666" stroke-width="0.65" stroke-dasharray="3.4,2.4"/>
<line x1="445.7" y1="503.5" x2="674.7" y2="503.5" stroke="#666" stroke-width="0.65" stroke-dasharray="3.4,2.4"/>
<line x1="448.7" y1="531.8" x2="631" y2="385.5" stroke="#1a1a1a" stroke-width="0.9"/>
<g fill="#2c4a8e" stroke="#fff" stroke-width="0.45">
<circle cx="497.3" cy="496.5" r="1.8"/>
<circle cx="527.5" cy="476.4" r="1.8"/>
<circle cx="494" cy="496.9" r="1.8"/>
<circle cx="495.7" cy="494.1" r="1.8"/>
<circle cx="521.2" cy="474.3" r="1.8"/>
<circle cx="495.2" cy="493.5" r="1.8"/>
<circle cx="498.9" cy="498.7" r="1.8"/>
<circle cx="514.6" cy="479.4" r="1.8"/>
<circle cx="487.3" cy="502.3" r="1.8"/>
<circle cx="528.7" cy="469.6" r="1.8"/>
<circle cx="525.3" cy="471.8" r="1.8"/>
<circle cx="521.8" cy="481.7" r="1.8"/>
<circle cx="533" cy="467.4" r="1.8"/>
<circle cx="527.5" cy="474.4" r="1.8"/>
<circle cx="508.3" cy="486.3" r="1.8"/>
<circle cx="505.5" cy="492.5" r="1.8"/>
<circle cx="502.3" cy="493.3" r="1.8"/>
<circle cx="491.1" cy="498.1" r="1.8"/>
<circle cx="525.9" cy="470.7" r="1.8"/>
<circle cx="518.9" cy="487" r="1.8"/>
<circle cx="511.8" cy="483.9" r="1.8"/>
<circle cx="518.2" cy="480.7" r="1.8"/>
<circle cx="506.1" cy="487.2" r="1.8"/>
<circle cx="510.1" cy="483.3" r="1.8"/>
<circle cx="497" cy="498.8" r="1.8"/>
<circle cx="503.8" cy="488.8" r="1.8"/>
<circle cx="491.7" cy="501.1" r="1.8"/>
<circle cx="496.2" cy="495.3" r="1.8"/>
<circle cx="494.4" cy="497.6" r="1.8"/>
<circle cx="516.8" cy="479.2" r="1.8"/>
<circle cx="533.3" cy="471.6" r="1.8"/>
<circle cx="532.1" cy="465.6" r="1.8"/>
<circle cx="488.3" cy="497.9" r="1.8"/>
<circle cx="526.9" cy="468.4" r="1.8"/>
<circle cx="516.2" cy="478.9" r="1.8"/>
<circle cx="528.5" cy="468.8" r="1.8"/>
<circle cx="529.5" cy="470" r="1.8"/>
<circle cx="527.7" cy="473.9" r="1.8"/>
<circle cx="502.8" cy="490.9" r="1.8"/>
<circle cx="534.3" cy="468.7" r="1.8"/>
<circle cx="514.3" cy="482.3" r="1.8"/>
<circle cx="515" cy="483.5" r="1.8"/>
<circle cx="513.1" cy="485.3" r="1.8"/>
<circle cx="520.9" cy="478.6" r="1.8"/>
<circle cx="501.1" cy="492.3" r="1.8"/>
<circle cx="518.6" cy="477.1" r="1.8"/>
<circle cx="490.9" cy="499.2" r="1.8"/>
<circle cx="516.4" cy="479.3" r="1.8"/>
<circle cx="511.9" cy="484.6" r="1.8"/>
<circle cx="505.9" cy="488.4" r="1.8"/>
<circle cx="501.2" cy="491.5" r="1.8"/>
<circle cx="535.7" cy="465.9" r="1.8"/>
<circle cx="491.3" cy="499.9" r="1.8"/>
<circle cx="514" cy="479.9" r="1.8"/>
<circle cx="489.5" cy="503.3" r="1.8"/>
<circle cx="526.7" cy="472.2" r="1.8"/>
<circle cx="487.1" cy="504.1" r="1.8"/>
<circle cx="534.2" cy="464.1" r="1.8"/>
<circle cx="509.8" cy="489.8" r="1.8"/>
<circle cx="499" cy="492.6" r="1.8"/>
<circle cx="535.3" cy="463.4" r="1.8"/>
<circle cx="492.2" cy="505.4" r="1.8"/>
<circle cx="508.9" cy="505.4" r="1.8"/>
<circle cx="516.5" cy="503.1" r="1.8"/>
<circle cx="519" cy="503.1" r="1.8"/>
<circle cx="522.6" cy="505.8" r="1.8"/>
<circle cx="527.9" cy="502.6" r="1.8"/>
<circle cx="528.3" cy="506" r="1.8"/>
<circle cx="531.1" cy="503.5" r="1.8"/>
<circle cx="538.3" cy="505.4" r="1.8"/>
<circle cx="562.4" cy="503.5" r="1.8"/>
<circle cx="568.3" cy="502.6" r="1.8"/>
<circle cx="573.1" cy="505.8" r="1.8"/>
<circle cx="578.7" cy="505.8" r="1.8"/>
<circle cx="534.5" cy="491.7" r="1.8"/>
<circle cx="607.2" cy="412.8" r="1.8"/>
</g>
<text x="463.2" y="433.8" font-size="6.7" fill="#111">Non-linear covariate effects</text>
<text x="574.7" y="486.3" font-size="6.8" fill="#111">Other non-linear effects</text>
<text x="601" y="421.8" font-size="6.5" fill="#111">PAEP</text>
<rect x="445.7" y="385.5" width="229" height="146.3" fill="none" stroke="#666" stroke-width="0.9"/>
<line x1="443.5" y1="503.5" x2="445.7" y2="503.5" stroke="#666" stroke-width="0.6"/>
<text x="441.5" y="506.4" font-size="8.2" text-anchor="end" fill="#222">0.0</text>
<line x1="443.5" y1="459" x2="445.7" y2="459" stroke="#666" stroke-width="0.6"/>
<text x="441.5" y="461.9" font-size="8.2" text-anchor="end" fill="#222">0.1</text>
<line x1="443.5" y1="414.5" x2="445.7" y2="414.5" stroke="#666" stroke-width="0.6"/>
<text x="441.5" y="417.4" font-size="8.2" text-anchor="end" fill="#222">0.2</text>
<line x1="483.6" y1="531.8" x2="483.6" y2="534" stroke="#666" stroke-width="0.6"/>
<text x="483.6" y="541.6" font-size="8.2" text-anchor="middle" fill="#222">0.0</text>
<line x1="539.2" y1="531.8" x2="539.2" y2="534" stroke="#666" stroke-width="0.6"/>
<text x="539.2" y="541.6" font-size="8.2" text-anchor="middle" fill="#222">0.1</text>
<line x1="594.8" y1="531.8" x2="594.8" y2="534" stroke="#666" stroke-width="0.6"/>
<text x="594.8" y="541.6" font-size="8.2" text-anchor="middle" fill="#222">0.2</text>
<line x1="650.4" y1="531.8" x2="650.4" y2="534" stroke="#666" stroke-width="0.6"/>
<text x="650.4" y="541.6" font-size="8.2" text-anchor="middle" fill="#222">0.3</text>
<text x="561.2" y="551.4" font-size="9.1" text-anchor="middle" fill="#111">Performance Gap (DL – linear)</text>
<text x="413.8" y="457.2" font-size="8.54" text-anchor="middle" fill="#111" transform="rotate(-90 413.8 457.2)">Performance Gap Covariates</text>
<text x="424.7" y="458.9" font-size="8.54" text-anchor="middle" fill="#111" transform="rotate(-90 424.7 458.9)" textLength="79.8" lengthAdjust="spacingAndGlyphs">(non-linear – linear)</text>
<text x="9.3" y="612.5" font-size="12.5" font-weight="bold" fill="#000">g</text>
<line x1="148.3" y1="602.4" x2="148.3" y2="813.2" stroke="#F0F0F0" stroke-width="0.6"/>
<line x1="184.1" y1="602.4" x2="184.1" y2="813.2" stroke="#F0F0F0" stroke-width="0.6"/>
<line x1="219.9" y1="602.4" x2="219.9" y2="813.2" stroke="#F0F0F0" stroke-width="0.6"/>
<line x1="112.4" y1="617.3" x2="242.7" y2="617.3" stroke="#F4F4F4" stroke-width="0.6"/>
<line x1="112.4" y1="647.3" x2="242.7" y2="647.3" stroke="#F4F4F4" stroke-width="0.6"/>
<line x1="112.4" y1="677.4" x2="242.7" y2="677.4" stroke="#F4F4F4" stroke-width="0.6"/>
<line x1="112.4" y1="707.4" x2="242.7" y2="707.4" stroke="#F4F4F4" stroke-width="0.6"/>
<line x1="112.4" y1="737.5" x2="242.7" y2="737.5" stroke="#F4F4F4" stroke-width="0.6"/>
<line x1="112.4" y1="767.5" x2="242.7" y2="767.5" stroke="#F4F4F4" stroke-width="0.6"/>
<line x1="112.4" y1="797.6" x2="242.7" y2="797.6" stroke="#F4F4F4" stroke-width="0.6"/>
<rect x="112.6" y="606" width="112.2" height="22.6" fill="#31689f"/>
<text x="107" y="620.1" font-size="6.25" text-anchor="end" fill="#555">Sex × Age Interaction</text>
<text x="225.6" y="619.6" font-size="6.6" font-weight="bold" fill="#333">0.1569</text>
<rect x="112.6" y="636" width="24.7" height="22.6" fill="#c0612b"/>
<text x="107" y="650.1" font-size="6.25" text-anchor="end" fill="#555">Age²</text>
<text x="138.1" y="649.6" font-size="6.6" font-weight="bold" fill="#333">0.0347</text>
<rect x="112.6" y="666.1" width="21" height="22.6" fill="#3c8c69"/>
<text x="107" y="680.2" font-size="6.25" text-anchor="end" fill="#555">rs697449 × Sex Interaction</text>
<text x="134.4" y="679.7" font-size="6.6" font-weight="bold" fill="#333">0.0295</text>
<rect x="112.6" y="696.1" width="7.1" height="22.6" fill="#c0612b"/>
<text x="107" y="710.2" font-size="6.25" text-anchor="end" fill="#555">log(Age)</text>
<text x="120.5" y="709.7" font-size="6.6" font-weight="bold" fill="#333">0.0101</text>
<rect x="112.6" y="726.2" width="5.6" height="22.6" fill="#6a4a9a"/>
<text x="107" y="740.3" font-size="6.25" text-anchor="end" fill="#555">rs697449 (Non-Additive)</text>
<text x="119" y="739.8" font-size="6.6" font-weight="bold" fill="#333">0.0079</text>
<rect x="112.6" y="756.2" width="2.9" height="22.6" fill="#c0612b"/>
<text x="107" y="770.3" font-size="6.25" text-anchor="end" fill="#555">Age³</text>
<text x="116.3" y="769.8" font-size="6.6" font-weight="bold" fill="#333">0.0042</text>
<rect x="112.6" y="786.3" width="1.8" height="22.6" fill="#6a4a9a"/>
<text x="107" y="800.4" font-size="6.25" text-anchor="end" fill="#555">All SNPs (Non-Additive)</text>
<text x="115.2" y="799.9" font-size="6.6" font-weight="bold" fill="#333">0.0027</text>
<line x1="112.2" y1="602.4" x2="112.2" y2="813.4" stroke="#D5D5D5" stroke-width="0.7"/>
<line x1="112.2" y1="813.3" x2="242.7" y2="813.3" stroke="#D5D5D5" stroke-width="0.7"/>
<text x="112.5" y="822.9" font-size="6.2" text-anchor="middle" fill="#666">0.00</text>
<text x="148.3" y="822.9" font-size="6.2" text-anchor="middle" fill="#666">0.05</text>
<text x="184.1" y="822.9" font-size="6.2" text-anchor="middle" fill="#666">0.10</text>
<text x="219.9" y="822.9" font-size="6.2" text-anchor="middle" fill="#666">0.15</text>
<text x="177.5" y="831.4" font-size="6.8" text-anchor="middle" font-weight="bold" fill="#444">Model Performance Improvement (ΔR²)</text>
<rect x="248.3" y="605.6" width="100.3" height="46.6" rx="1.5" fill="#fff" stroke="#b0b0b0" stroke-width="0.7"/>
<text x="298.7" y="613.1" font-size="6.6" text-anchor="middle" font-weight="bold" fill="#333">Effect Type</text>
<rect x="251.1" y="618.6" width="11.8" height="2.8" fill="#31689f"/>
<text x="267.9" y="622.1" font-size="6.25" fill="#444">Covariate × Covariate (ExE)</text>
<rect x="251.1" y="627.4" width="11.8" height="2.8" fill="#c0612b"/>
<text x="267.9" y="630.9" font-size="6.25" fill="#444">Non-Linear Covariate</text>
<rect x="251.1" y="636.2" width="11.8" height="2.8" fill="#3c8c69"/>
<text x="267.9" y="639.7" font-size="6.25" fill="#444">Gene × Covariate (GxE)</text>
<rect x="251.1" y="645" width="11.8" height="2.8" fill="#6a4a9a"/>
<text x="267.9" y="648.5" font-size="6.25" fill="#444">Non-Additive Genetic</text>
<text x="362.8" y="612.8" font-size="12.5" font-weight="bold" fill="#000">h</text>
<line x1="402.5" y1="730.2" x2="533.2" y2="730.2" stroke="#E3E3E3" stroke-width="0.7"/>
<line x1="402.5" y1="698.5" x2="533.2" y2="698.5" stroke="#E3E3E3" stroke-width="0.7"/>
<line x1="402.5" y1="666.8" x2="533.2" y2="666.8" stroke="#E3E3E3" stroke-width="0.7"/>
<line x1="402.5" y1="635.1" x2="533.2" y2="635.1" stroke="#E3E3E3" stroke-width="0.7"/>
<line x1="409.9" y1="602.9" x2="409.9" y2="761.9" stroke="#E3E3E3" stroke-width="0.7"/>
<line x1="421.4" y1="602.9" x2="421.4" y2="761.9" stroke="#E3E3E3" stroke-width="0.7"/>
<line x1="432.9" y1="602.9" x2="432.9" y2="761.9" stroke="#E3E3E3" stroke-width="0.7"/>
<line x1="444.4" y1="602.9" x2="444.4" y2="761.9" stroke="#E3E3E3" stroke-width="0.7"/>
<line x1="456" y1="602.9" x2="456" y2="761.9" stroke="#E3E3E3" stroke-width="0.7"/>
<line x1="467.5" y1="602.9" x2="467.5" y2="761.9" stroke="#E3E3E3" stroke-width="0.7"/>
<line x1="479" y1="602.9" x2="479" y2="761.9" stroke="#E3E3E3" stroke-width="0.7"/>
<line x1="490.6" y1="602.9" x2="490.6" y2="761.9" stroke="#E3E3E3" stroke-width="0.7"/>
<line x1="502.1" y1="602.9" x2="502.1" y2="761.9" stroke="#E3E3E3" stroke-width="0.7"/>
<line x1="513.6" y1="602.9" x2="513.6" y2="761.9" stroke="#E3E3E3" stroke-width="0.7"/>
<line x1="525.1" y1="602.9" x2="525.1" y2="761.9" stroke="#E3E3E3" stroke-width="0.7"/>
<rect x="405.1" y="610.2" width="9.5" height="151.7" fill="#b3b3b3" stroke="#444" stroke-width="0.6"/>
<rect x="416.6" y="650.2" width="9.5" height="111.7" fill="#b3b3b3" stroke="#444" stroke-width="0.6"/>
<rect x="428.2" y="652.9" width="9.5" height="109" fill="#b3b3b3" stroke="#444" stroke-width="0.6"/>
<rect x="439.7" y="672.5" width="9.5" height="89.4" fill="#b3b3b3" stroke="#444" stroke-width="0.6"/>
<rect x="439.7" y="667.8" width="9.5" height="4.8" fill="#55a34e" stroke="#444" stroke-width="0.6"/>
<rect x="451.2" y="668.5" width="9.5" height="93.4" fill="#b3b3b3" stroke="#444" stroke-width="0.6"/>
<rect x="462.8" y="689.3" width="9.5" height="72.6" fill="#b3b3b3" stroke="#444" stroke-width="0.6"/>
<rect x="462.8" y="675.8" width="9.5" height="13.5" fill="#4c72b0" stroke="#444" stroke-width="0.6"/>
<rect x="474.3" y="695.5" width="9.5" height="66.4" fill="#b3b3b3" stroke="#444" stroke-width="0.6"/>
<rect x="474.3" y="684.4" width="9.5" height="11.1" fill="#4c72b0" stroke="#444" stroke-width="0.6"/>
<rect x="474.3" y="682.3" width="9.5" height="2.1" fill="#55a34e" stroke="#444" stroke-width="0.6"/>
<rect x="485.8" y="684.4" width="9.5" height="77.5" fill="#b3b3b3" stroke="#444" stroke-width="0.6"/>
<rect x="497.3" y="689.3" width="9.5" height="72.6" fill="#b3b3b3" stroke="#444" stroke-width="0.6"/>
<rect x="497.3" y="688.8" width="9.5" height="0.5" fill="#4c72b0" stroke="#444" stroke-width="0.6"/>
<rect x="508.9" y="705.5" width="9.5" height="56.4" fill="#b3b3b3" stroke="#444" stroke-width="0.6"/>
<rect x="508.9" y="692.2" width="9.5" height="13.3" fill="#4c72b0" stroke="#444" stroke-width="0.6"/>
<rect x="520.4" y="718.6" width="9.5" height="43.3" fill="#b3b3b3" stroke="#444" stroke-width="0.6"/>
<rect x="520.4" y="713.6" width="9.5" height="5.1" fill="#4c72b0" stroke="#444" stroke-width="0.6"/>
<rect x="520.4" y="711.5" width="9.5" height="2.1" fill="#55a34e" stroke="#444" stroke-width="0.6"/>
<line x1="402.5" y1="602.9" x2="402.5" y2="762.3" stroke="#333" stroke-width="0.9"/>
<line x1="402.1" y1="761.9" x2="533.2" y2="761.9" stroke="#333" stroke-width="0.9"/>
<text x="399.6" y="764.2" font-size="6.5" text-anchor="end" fill="#555">0.0</text>
<text x="399.6" y="732.5" font-size="6.5" text-anchor="end" fill="#555">0.2</text>
<text x="399.6" y="700.8" font-size="6.5" text-anchor="end" fill="#555">0.4</text>
<text x="399.6" y="669.1" font-size="6.5" text-anchor="end" fill="#555">0.6</text>
<text x="399.6" y="637.4" font-size="6.5" text-anchor="end" fill="#555">0.8</text>
<text x="413.1" y="767.8" font-size="7.3" text-anchor="end" fill="#444" transform="rotate(-45 413.1 767.8)">PSCA</text>
<text x="424.6" y="767.8" font-size="7.3" text-anchor="end" fill="#444" transform="rotate(-45 424.6 767.8)">FSHB</text>
<text x="436.1" y="767.8" font-size="7.3" text-anchor="end" fill="#444" transform="rotate(-45 436.1 767.8)">ABO</text>
<text x="447.6" y="767.8" font-size="7.3" text-anchor="end" fill="#444" transform="rotate(-45 447.6 767.8)">PAEP</text>
<text x="459.2" y="767.8" font-size="7.3" text-anchor="end" fill="#444" transform="rotate(-45 459.2 767.8)">CGA</text>
<text x="470.7" y="767.8" font-size="7.3" text-anchor="end" fill="#444" transform="rotate(-45 470.7 767.8)">FAM3D</text>
<text x="482.2" y="767.8" font-size="7.3" text-anchor="end" fill="#444" transform="rotate(-45 482.2 767.8)">ALPI</text>
<text x="493.8" y="767.8" font-size="7.3" text-anchor="end" fill="#444" transform="rotate(-45 493.8 767.8)">CLEC4M</text>
<text x="505.3" y="767.8" font-size="7.3" text-anchor="end" fill="#444" transform="rotate(-45 505.3 767.8)">CD209</text>
<text x="516.8" y="767.8" font-size="7.3" text-anchor="end" fill="#444" transform="rotate(-45 516.8 767.8)">MUC2</text>
<text x="528.4" y="767.8" font-size="7.3" text-anchor="end" fill="#444" transform="rotate(-45 528.4 767.8)">CDH17</text>
<text x="467.3" y="806.2" font-size="8.2" text-anchor="middle" fill="#444">Protein</text>
<text x="380.3" y="683.4" font-size="8.8" text-anchor="middle" fill="#444" transform="rotate(-90 380.3 683.4)">Model Performance (R²)</text>
<rect x="542.3" y="610.3" width="132.8" height="36.8" rx="1.5" fill="#fff" stroke="#8a8a8a" stroke-width="0.7"/>
<text x="609" y="618.2" font-size="7" text-anchor="middle" fill="#333">Model Component</text>
<rect x="544.9" y="622.3" width="12" height="4" fill="#b3b3b3" stroke="#444" stroke-width="0.5"/>
<text x="561.7" y="626.5" font-size="6.0" fill="#444">Baseline (Linear SNP + Non-linear Covar)</text>
<rect x="544.9" y="630.8" width="12" height="4" fill="#4c72b0" stroke="#444" stroke-width="0.5"/>
<text x="561.7" y="635" font-size="6.0" fill="#444">Gain from GxG Effects</text>
<rect x="544.9" y="639.2" width="12" height="4" fill="#55a34e" stroke="#444" stroke-width="0.5"/>
<text x="561.7" y="643.4" font-size="6.0" fill="#444">Gain from GxE Interactions</text>
</svg></body></html>
